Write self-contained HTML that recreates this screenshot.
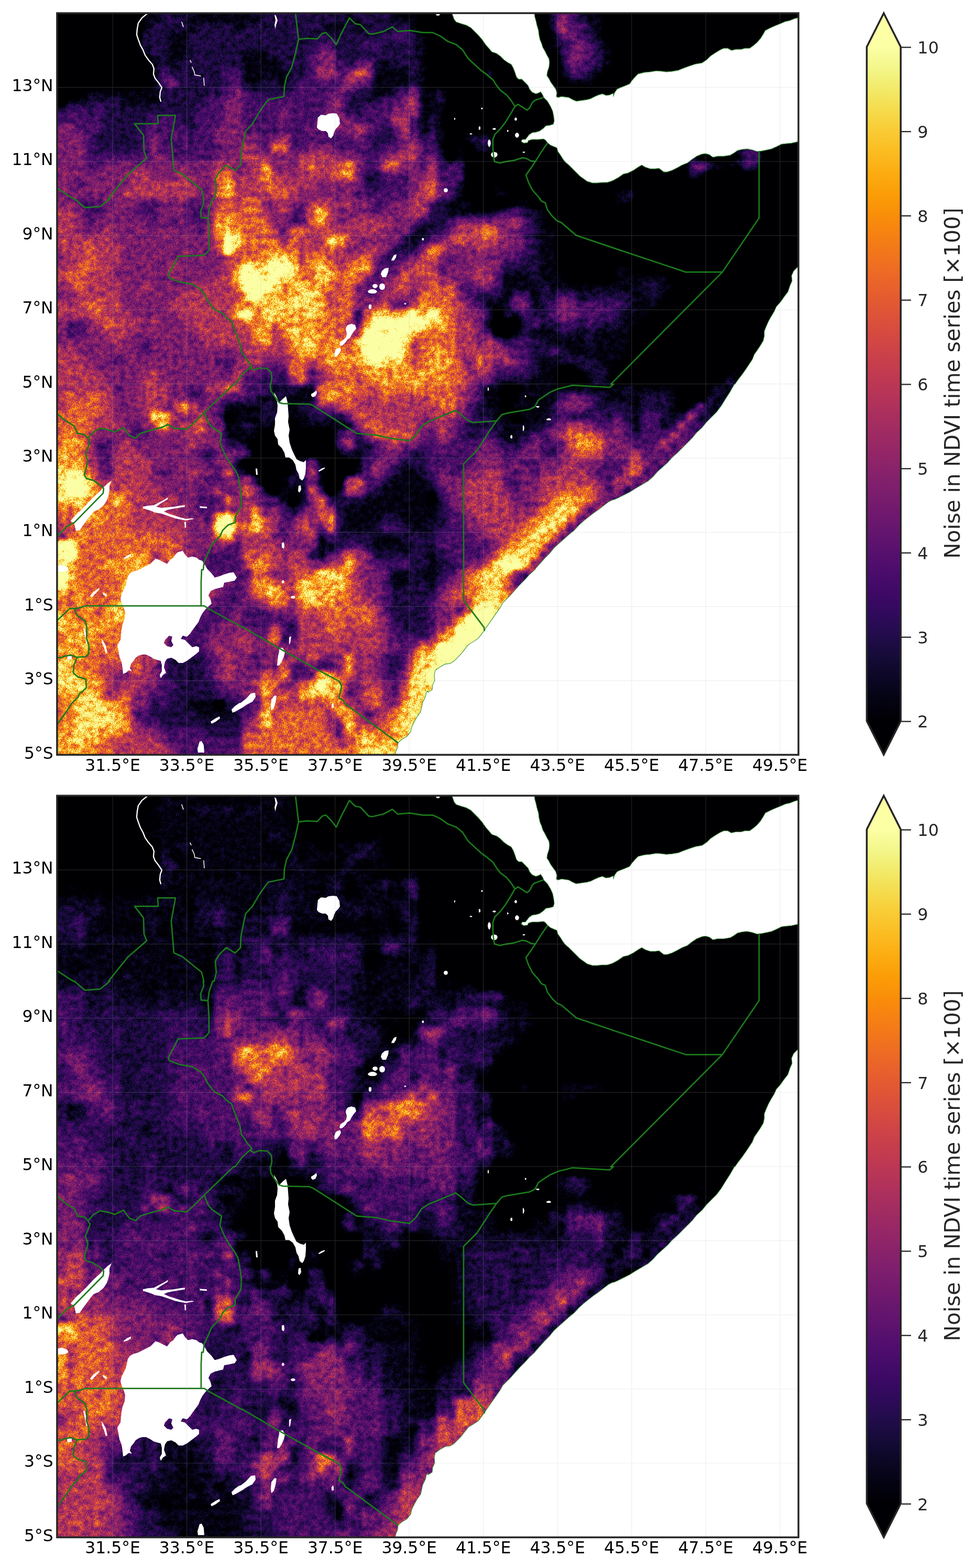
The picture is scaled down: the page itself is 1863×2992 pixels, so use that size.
<!DOCTYPE html>
<html lang="en"><head><meta charset="utf-8"><title>Noise in NDVI time series</title>
<style>html,body{margin:0;padding:0;background:#fff}body{width:1863px;height:2992px;overflow:hidden}svg{display:block}text{font-family:'DejaVu Sans','Liberation Sans',sans-serif}</style></head><body>
<svg width="1863" height="2992" viewBox="0 0 1863 2992">
<defs>
<clipPath id="axclip"><rect x="0" y="0" width="1415.2" height="1415.2"/></clipPath>
<filter id="soft" filterUnits="userSpaceOnUse" x="-80" y="-80" width="1575" height="1575" color-interpolation-filters="sRGB"><feGaussianBlur stdDeviation="5.5"/></filter>
<filter id="heat" filterUnits="userSpaceOnUse" x="0" y="0" width="1415.2" height="1415.2" color-interpolation-filters="sRGB">
<feTurbulence type="fractalNoise" baseFrequency="0.1" numOctaves="3" seed="11" x="0" y="0" width="512" height="512" stitchTiles="stitch" result="t0"/>
<feTile in="t0" result="t1"/>
<feColorMatrix in="t1" type="matrix" values="1 0 0 0 0  1 0 0 0 0  1 0 0 0 0  0 0 0 0 1" result="n"/>
<feTurbulence type="fractalNoise" baseFrequency="0.55" numOctaves="2" seed="3" x="0" y="0" width="384" height="384" stitchTiles="stitch" result="u0"/>
<feTile in="u0" result="u1"/>
<feColorMatrix in="u1" type="matrix" values="1 0 0 0 0  1 0 0 0 0  1 0 0 0 0  0 0 0 0 1" result="m"/>
<feComposite in="SourceGraphic" in2="n" operator="arithmetic" k1="0.6" k2="0.7" k3="0" k4="0" result="v1"/>
<feComposite in="v1" in2="m" operator="arithmetic" k1="0.75" k2="0.625" k3="0" k4="0" result="v"/>
<feComponentTransfer in="v"><feFuncR type="table" tableValues="0.001 0.001 0.001 0.001 0.001 0.001 0.001 0.001 0.006 0.026 0.066 0.111 0.170 0.225 0.284 0.342 0.391 0.447 0.497 0.553 0.603 0.658 0.707 0.758 0.802 0.847 0.882 0.916 0.942 0.963 0.978 0.986 0.988 0.983 0.971 0.957 0.946 0.966 0.988 0.988 0.988 0.988 0.988 0.988 0.988 0.988 0.988 0.988 0.988 0.988 0.988 0.988 0.988 0.988 0.988 0.988 0.988 0.988 0.988 0.988 0.988"/><feFuncG type="table" tableValues="0.000 0.000 0.000 0.000 0.000 0.000 0.000 0.000 0.005 0.019 0.039 0.047 0.042 0.036 0.044 0.062 0.081 0.102 0.119 0.139 0.157 0.179 0.201 0.229 0.259 0.298 0.337 0.387 0.436 0.495 0.558 0.616 0.683 0.744 0.813 0.874 0.937 0.981 0.998 0.998 0.998 0.998 0.998 0.998 0.998 0.998 0.998 0.998 0.998 0.998 0.998 0.998 0.998 0.998 0.998 0.998 0.998 0.998 0.998 0.998 0.998"/><feFuncB type="table" tableValues="0.014 0.014 0.014 0.014 0.014 0.014 0.014 0.014 0.039 0.106 0.187 0.263 0.341 0.388 0.417 0.429 0.433 0.431 0.424 0.412 0.396 0.373 0.348 0.315 0.283 0.244 0.208 0.165 0.125 0.079 0.035 0.026 0.072 0.138 0.228 0.324 0.459 0.587 0.645 0.645 0.645 0.645 0.645 0.645 0.645 0.645 0.645 0.645 0.645 0.645 0.645 0.645 0.645 0.645 0.645 0.645 0.645 0.645 0.645 0.645 0.645"/><feFuncA type="linear" slope="0" intercept="1"/></feComponentTransfer>
</filter>
<g id="crisp"><path d="M753 -2L758 12L762 17L771 20L781 23L790 28L797 35L804 42L811 50L818 60L825 68L830 74L839 77L846 82L853 89L860 94L867 98L871 105L874 113L877 122L881 126L887 126L893 132L899 138L902 145L907 151L914 154L920 152L923 150L927 156L929 161L936 168L942 178L946 187L948 197L949 206L947 212L940 214L933 215L928 220L921 225L914 227L907 228L901 232L898 236L894 241L888 241L886 245L891 248L898 247L900 243L907 241L919 241L929 240L933 243L936 247L942 252L949 255L954 257L956 264L961 271L966 279L970 284L977 290L984 297L991 304L998 311L1005 316L1012 321L1022 324L1031 324L1041 323L1050 323L1057 321L1062 319L1062 319L1071 314L1081 307L1090 305L1100 300L1109 294L1116 290L1123 294L1132 297L1142 297L1149 296L1158 303L1165 303L1174 300L1184 295L1193 290L1203 286L1212 279L1221 273L1231 269L1238 268L1245 270L1252 275L1261 273L1273 273L1285 271L1292 267L1299 262L1308 260L1317 259L1327 261L1336 264L1345 263L1355 261L1364 259L1373 255L1383 250L1392 249L1402 248L1411 246L1420 244L1420 8L1409 10L1399 14L1390 16L1381 20L1371 24L1362 28L1352 33L1348 40L1343 48L1336 56L1329 62L1322 67L1313 67L1306 69L1296 69L1287 71L1280 67L1273 67L1266 70L1256 76L1247 82L1240 89L1231 95L1219 97L1207 101L1196 105L1186 109L1174 111L1163 112L1156 111L1144 110L1132 112L1121 113L1109 116L1103 122L1097 129L1093 135L1086 138L1076 142L1069 145L1064 152L1062 159L1062 153L1055 156L1048 157L1041 154L1034 156L1027 159L1019 163L1012 165L1005 166L998 167L991 168L984 165L977 161L970 160L963 159L956 161L953 159L954 152L952 145L947 138L942 131L939 125L935 119L936 112L939 103L940 94L939 87L935 80L931 72L927 65L925 58L922 51L920 42L919 33L916 23L914 14L912 7L911 -2ZM1420 481L1413 485L1406 492L1402 501L1403 511L1399 520L1395 532L1388 541L1381 551L1373 560L1369 569L1363 579L1358 588L1354 597L1350 607L1350 616L1348 625L1342 635L1336 644L1331 651L1327 661L1321 670L1315 679L1308 689L1301 698L1294 708L1293 708L1285 722L1276 736L1268 749L1259 761L1249 771L1240 780L1231 791L1221 800L1212 811L1203 820L1193 830L1184 839L1174 848L1165 858L1156 866L1146 875L1137 885L1128 893L1116 900L1104 907L1093 914L1081 920L1069 926L1062 929L1062 928L1052 933L1043 940L1034 947L1024 954L1015 961L1005 969L996 977L987 987L977 995L968 1003L959 1011L949 1020L940 1031L931 1040L922 1050L914 1059L912 1062L912 1062L902 1071L893 1081L884 1090L874 1101L865 1111L858 1118L851 1125L846 1134L839 1144L832 1154L825 1164L818 1174L811 1184L804 1193L795 1199L785 1205L778 1214L771 1223L764 1230L757 1237L750 1241L741 1242L732 1247L722 1254L720 1263L721 1273L717 1282L716 1291L708 1296L708 1293L705 1296L703 1305L698 1315L696 1324L694 1333L687 1343L682 1352L677 1362L675 1371L668 1380L658 1386L651 1392L650 1401L647 1408L644 1420L1420 1420Z" fill="#fff" stroke="#3a8f3a" stroke-width="1.1" stroke-linejoin="round"/><path d="M26 969L35 958L47 947L59 935L70 923L82 912L91 903L96 898L103 893L105 888L103 895L100 902L100 912L98 921L95 930L89 939L80 947L70 951L64 958L59 965L50 977L43 987L36 988L34 979L33 974ZM164 942L173 940L185 939L194 934L204 929L212 924L211 928L204 932L196 937L189 942L199 944L211 943L223 942L234 940L244 939L244 942L232 944L220 946L211 948L204 951L215 956L225 959L234 962L246 965L258 964L262 965L246 968L234 966L225 964L211 959L199 955L187 953L180 950L171 947L164 945ZM272 941L286 942L286 945L273 944ZM243 971L246 971L246 982L244 982ZM127 1040L134 1035L141 1032L141 1036L134 1040L128 1042ZM-2 1056L9 1053L19 1057L22 1062L14 1066L-2 1066ZM333 1329L340 1322L347 1317L356 1314L356 1324L347 1329L340 1333L335 1335ZM293 1352L302 1346L310 1342L311 1346L303 1352L295 1356ZM272 1390L276 1389L280 1397L281 1411L269 1411L268 1404ZM63 1112L70 1104L80 1097L81 1099L73 1108L66 1115ZM87 1105L93 1108L96 1112L93 1113L88 1109ZM85 1193L89 1200L93 1207L96 1221L93 1222L90 1212L86 1202ZM50 1174L53 1174L56 1188L59 1202L56 1203L53 1189ZM19 1226L28 1226L28 1233L20 1234ZM414 723L420 734L424 743L431 736L437 731L440 743L441 755L442 769L441 780L444 795L442 806L444 820L448 832L452 841L457 851L464 855L471 857L475 853L475 867L474 879L471 888L468 892L463 888L461 879L457 872L455 862L450 853L443 848L436 848L434 839L429 830L422 823L421 813L416 806L414 797L416 785L416 773L420 762L421 750L420 741L416 734ZM485 727L490 724L495 720L496 725L493 731L488 733L485 730ZM461 902L465 901L466 909L463 915L460 912ZM429 1011L433 1010L434 1017L433 1022L429 1020ZM499 873L505 869L511 867L511 869L506 872L500 875ZM379 869L382 869L383 881L380 881ZM498 199L504 194L513 195L518 192L527 191L534 192L539 201L540 211L537 216L532 221L529 227L527 234L523 239L518 236L517 229L513 225L506 225L499 222L496 218L497 208ZM415 3L418 5L421 14L418 23L417 30L415 23L417 14ZM639 469L643 462L648 460L647 466L643 472L638 472ZM620 492L626 487L633 486L632 494L628 504L621 504L618 498ZM626 522L625 526L622 528L619 528L616 526L615 522L616 518L619 516L622 516L625 518ZM612 521L611 523L608 525L606 525L603 523L602 521L603 518L606 517L608 517L611 518ZM611 531L609 534L605 535L599 535L595 534L593 531L595 529L599 527L605 527L609 529ZM600 560L600 563L598 565L597 565L595 563L595 560L595 557L597 556L598 556L600 557ZM555 595L562 593L569 595L571 602L566 608L562 614L559 620L554 623L551 628L545 634L541 635L539 633L541 627L547 623L552 618L553 611L551 604L552 599ZM533 641L540 638L542 643L539 649L534 655L530 656L529 650L531 644ZM700 431L700 433L699 434L698 434L697 433L696 431L697 430L698 429L699 429L700 430ZM667 555L666 555L665 556L664 556L663 555L662 555L663 554L664 553L665 553L666 554ZM424 1212L431 1211L435 1219L433 1228L429 1237L424 1245L420 1245L421 1235L422 1226L424 1219ZM443 1191L447 1189L445 1202L443 1205ZM352 1315L361 1308L370 1298L378 1297L379 1305L373 1314L363 1319L352 1326ZM409 1310L415 1302L419 1303L417 1315L414 1326L409 1331L408 1322ZM434 1085L433 1087L432 1088L431 1088L429 1087L429 1085L429 1084L431 1082L432 1082L433 1084ZM455 1115L454 1116L452 1117L449 1117L447 1116L446 1115L447 1113L449 1112L452 1112L454 1113ZM528 1322L528 1325L527 1326L526 1326L524 1325L524 1322L524 1319L526 1317L527 1317L528 1319ZM813 182L812 183L811 184L810 183L809 182L810 181L811 180L812 181ZM760 202L760 203L759 204L758 203L758 202L758 200L759 200L760 200ZM808 220L808 222L806 223L805 222L805 220L805 217L806 216L808 217ZM838 221L837 222L835 223L832 222L831 221L832 220L835 219L837 220ZM828 248L827 253L825 256L823 253L822 248L823 243L825 241L827 243ZM841 270L839 274L835 276L830 274L828 270L830 266L835 265L839 266ZM878 202L877 205L876 205L874 205L873 202L874 200L876 199L877 200ZM882 233L881 236L878 238L875 236L874 233L875 230L878 228L881 230ZM862 225L861 226L860 227L859 226L859 225L859 223L860 223L861 223ZM894 266L893 266L891 267L889 266L888 266L889 265L891 264L893 265ZM746 338L745 341L742 342L739 341L738 338L739 335L742 334L745 335ZM793 231L792 231L790 232L788 231L787 231L788 230L790 229L792 230ZM731 3L730 4L727 5L724 4L723 3L724 2L727 2L730 2ZM824 717L824 720L823 721L822 720L822 717L822 715L823 714L824 715ZM896 731L895 733L894 733L893 733L893 731L893 730L894 729L895 730ZM921 751L920 752L918 753L915 752L914 751L915 750L918 750L920 750ZM943 775L942 777L939 777L935 777L934 775L935 774L939 773L942 774ZM892 792L891 796L890 798L889 796L889 792L889 788L890 786L891 788ZM869 809L869 811L867 812L866 811L865 809L866 806L867 805L869 806Z" fill="#fff"/><path d="M230 1029L240 1026L244 1033L250 1039L258 1037L266 1039L271 1043L277 1045L281 1051L287 1061L295 1069L301 1077L309 1075L319 1071L329 1068L337 1067L343 1077L339 1083L329 1085L319 1087L317 1095L309 1097L301 1099L293 1103L289 1111L293 1119L295 1127L289 1132L283 1138L277 1146L273 1154L270 1162L264 1170L258 1178L254 1184L248 1190L240 1188L236 1194L244 1196L250 1202L258 1210L266 1208L271 1210L271 1218L264 1224L256 1230L248 1236L240 1240L232 1240L226 1234L218 1230L210 1232L206 1238L204 1248L208 1259L202 1263L198 1269L196 1263L200 1256L200 1244L198 1236L190 1234L184 1232L178 1228L170 1224L162 1224L156 1226L150 1230L146 1236L141 1242L139 1250L143 1256L137 1254L131 1259L126 1261L125 1250L123 1238L119 1228L117 1216L115 1206L121 1196L122 1186L123 1176L125 1166L129 1156L130 1144L127 1134L123 1125L121 1117L123 1109L127 1101L131 1093L133 1085L135 1075L139 1069L146 1065L154 1063L162 1059L170 1055L178 1051L184 1045L188 1041L194 1043L202 1047L210 1051L216 1043L222 1039L226 1033ZM206 1196L214 1188L220 1190L218 1198L222 1206L218 1210L210 1208L204 1202Z" fill="#fff" fill-rule="evenodd"/><path d="M172 1L162 9L155 19L153 30L152 41L155 50L159 61L164 70L168 80L175 90L182 98L185 106L184 116L187 124L194 133L200 142L197 150L196 161L198 168" fill="none" stroke="#fff" stroke-width="2.3" stroke-linejoin="round" stroke-linecap="round"/><path d="M238 17L241 26M254 90L256 94M258 103L262 112L263 118L274 120M280 124L281 138" fill="none" stroke="#fff" stroke-width="1.5" stroke-linecap="round"/><path d="M0 334L31 354L33 354L53 371L82 369L101 354L98 354L135 308L171 277L166 264L165 233L148 211L193 211L192 195L226 195L218 239L223 300L239 307L276 337L280 354L279 354L280 363L274 378L275 390L288 391M455 -1L461 50L455 77L448 103L438 122L434 140L433 159L403 165L387 187L373 211L360 225L354 253L351 269L350 290L340 300L323 290L309 304L302 316L304 337L300 354L297 354L290 375L288 391L290 422L290 452L281 462L258 463L231 464L223 480L212 500L215 506L234 513L258 517L274 527L283 539L287 548L300 565L316 573L323 581L333 588L340 607L349 630L352 647L354 649L363 663L372 673L370 678L376 681L387 677L401 678L409 686L410 698L408 708L407 708L408 720L415 731L424 743L431 745L481 746L489 749L572 802L609 805L635 811L673 816L684 806L696 788L708 780L708 780L761 758L769 764L785 778L794 781L839 778M372 673L354 689L340 708L337 708L281 762M461 50L476 48L497 49L506 39L513 37L523 47L533 60L541 42L558 9L569 20L579 22L595 39L602 40L623 35L640 26L650 35L673 33L698 37L708 37L708 37L717 37L732 44L746 54L762 60L774 70L785 87L797 98L809 109L820 117L832 127L839 138L846 147L858 156L867 167L874 178M874 178L880 174L888 179L897 185L902 181L907 171L911 167L928 161M874 178L867 190L856 208L846 221L836 231L832 241L832 257L833 271L835 283L845 286L858 283L872 281L888 276L895 277L905 282L913 283L923 267L936 248M913 283L905 295L895 309L900 323L907 337L914 345L922 354L921 354L925 359L932 362L936 375L945 387L954 396L963 400L977 412L991 424L1062 448L1062 448L1200 494L1270 494L1062 703L1062 703L1057 708L1062 708L1055 714L984 710L956 717L940 724L919 738L912 751L902 756L860 763L849 766L839 778L825 798L802 834L776 860L776 1062L776 1062L776 1120L781 1127L815 1172L816 1179M1270 494L1340 391L1340 354L1340 354L1340 264M0 764L14 776L33 788L39 802L52 804L59 811L70 799L82 792L98 795L110 799L127 791L138 806L150 811L159 802L178 796L201 790L212 785L223 792L248 794L260 783L281 762L288 780L296 790L314 802L311 820L319 839L328 855L340 872L345 881L349 902L352 923L351 942L340 961L340 972L326 977L316 987L311 998L295 1015L288 1031L281 1045L279 1062L276 1062L275 1085L275 1131M59 811L63 818L54 841L59 855L52 881L56 888L68 891L82 900L89 907L88 916L33 972L19 979L9 989L0 999M0 1159L14 1146L24 1136L33 1136L42 1135L54 1131L275 1131L281 1131L290 1137L354 1172L354 1171L424 1212L499 1254L539 1275L543 1284L541 1296L538 1307L546 1311L550 1318L649 1391L651 1393M33 1136L38 1149L54 1160L57 1174L56 1193L61 1207L60 1223L54 1228L38 1229L26 1225L14 1227L7 1230L0 1229M38 1229L32 1245L31 1259L39 1266L55 1271L56 1287L50 1293L43 1298L40 1305L28 1317L19 1331L9 1345L0 1357" fill="none" stroke="#1b7a1b" stroke-width="2.7" stroke-linejoin="round"/></g>
</defs>
<g transform="translate(108.9 25.1)"><g clip-path="url(#axclip)">
<rect width="1415.2" height="1415.2" fill="#000004"/>
<g filter="url(#heat)">
<rect x="-60" y="-60" width="1535" height="1535" fill="#000"/>
<g filter="url(#soft)">
<path fill="#0d0d0d" d="M-35.4 -35.4h195.2v18.3h-195.2zM689.9 -35.4h248.3v18.3h-248.3zM1043.7 -35.4h407.5v18.3h-407.5zM-35.4 -17.7h195.2v18.3h-195.2zM689.9 -17.7h248.3v18.3h-248.3zM1043.7 -17.7h407.5v18.3h-407.5zM-35.4 0.0h195.2v18.3h-195.2zM689.9 0.0h248.3v18.3h-248.3zM1043.7 0.0h407.5v18.3h-407.5zM-35.4 17.7h195.2v18.3h-195.2zM689.9 17.7h248.3v18.3h-248.3zM1043.7 17.7h407.5v18.3h-407.5zM-35.4 35.4h195.2v18.3h-195.2zM707.6 35.4h230.6v18.3h-230.6zM1043.7 35.4h407.5v18.3h-407.5zM-35.4 53.1h195.2v18.3h-195.2zM707.6 53.1h230.6v18.3h-230.6zM1061.4 53.1h389.8v18.3h-389.8zM-35.4 70.8h195.2v18.3h-195.2zM707.6 70.8h212.9v18.3h-212.9zM937.6 70.8h18.3v18.3h-18.3zM1061.4 70.8h18.3v18.3h-18.3zM1096.8 70.8h354.4v18.3h-354.4zM-35.4 88.4h212.9v18.3h-212.9zM707.6 88.4h195.2v18.3h-195.2zM919.9 88.4h36.0v18.3h-36.0zM1061.4 88.4h389.8v18.3h-389.8zM-35.4 106.1h212.9v18.3h-212.9zM707.6 106.1h106.7v18.3h-106.7zM831.4 106.1h124.4v18.3h-124.4zM1043.7 106.1h407.5v18.3h-407.5zM-35.4 123.8h212.9v18.3h-212.9zM707.6 123.8h230.6v18.3h-230.6zM955.3 123.8h18.3v18.3h-18.3zM1026.0 123.8h425.2v18.3h-425.2zM-35.4 141.5h89.0v18.3h-89.0zM743.0 141.5h708.2v18.3h-708.2zM-35.4 159.2h53.7v18.3h-53.7zM743.0 159.2h708.2v18.3h-708.2zM743.0 176.9h495.9v18.3h-495.9zM1291.4 176.9h159.8v18.3h-159.8zM743.0 194.6h495.9v18.3h-495.9zM1309.1 194.6h142.1v18.3h-142.1zM743.0 212.3h142.1v18.3h-142.1zM902.2 212.3h230.6v18.3h-230.6zM1167.5 212.3h71.4v18.3h-71.4zM1326.7 212.3h124.4v18.3h-124.4zM743.0 230.0h36.0v18.3h-36.0zM831.4 230.0h71.4v18.3h-71.4zM919.9 230.0h230.6v18.3h-230.6zM1185.2 230.0h71.4v18.3h-71.4zM1344.4 230.0h106.7v18.3h-106.7zM743.0 247.7h18.3v18.3h-18.3zM778.4 247.7h18.3v18.3h-18.3zM831.4 247.7h336.7v18.3h-336.7zM1202.9 247.7h71.4v18.3h-71.4zM1362.1 247.7h89.0v18.3h-89.0zM743.0 265.3h18.3v18.3h-18.3zM778.4 265.3h407.5v18.3h-407.5zM1220.6 265.3h71.4v18.3h-71.4zM1344.4 265.3h106.7v18.3h-106.7zM778.4 283.0h425.2v18.3h-425.2zM1344.4 283.0h106.7v18.3h-106.7zM778.4 300.7h425.2v18.3h-425.2zM1238.3 300.7h212.9v18.3h-212.9zM778.4 318.4h53.7v18.3h-53.7zM849.1 318.4h336.7v18.3h-336.7zM1202.9 318.4h248.3v18.3h-248.3zM778.4 336.1h53.7v18.3h-53.7zM866.8 336.1h53.7v18.3h-53.7zM937.6 336.1h124.4v18.3h-124.4zM1114.5 336.1h336.7v18.3h-336.7zM796.0 353.8h71.4v18.3h-71.4zM902.2 353.8h159.8v18.3h-159.8zM1096.8 353.8h354.4v18.3h-354.4zM937.6 371.5h513.6v18.3h-513.6zM937.6 389.2h513.6v18.3h-513.6zM955.3 406.9h495.9v18.3h-495.9zM955.3 424.6h495.9v18.3h-495.9zM955.3 442.2h495.9v18.3h-495.9zM955.3 459.9h495.9v18.3h-495.9zM955.3 477.6h106.7v18.3h-106.7zM1096.8 477.6h354.4v18.3h-354.4zM972.9 495.3h89.0v18.3h-89.0zM1167.5 495.3h283.6v18.3h-283.6zM1185.2 513.0h265.9v18.3h-265.9zM1167.5 530.7h283.6v18.3h-283.6zM1149.8 548.4h301.3v18.3h-301.3zM831.4 566.1h18.3v18.3h-18.3zM1132.2 566.1h319.0v18.3h-319.0zM831.4 583.8h53.7v18.3h-53.7zM1114.5 583.8h336.7v18.3h-336.7zM831.4 601.5h36.0v18.3h-36.0zM1096.8 601.5h354.4v18.3h-354.4zM1096.8 619.1h354.4v18.3h-354.4zM1096.8 636.8h354.4v18.3h-354.4zM1079.1 654.5h230.6v18.3h-230.6zM1326.7 654.5h124.4v18.3h-124.4zM955.3 672.2h36.0v18.3h-36.0zM1061.4 672.2h230.6v18.3h-230.6zM1344.4 672.2h106.7v18.3h-106.7zM955.3 689.9h53.7v18.3h-53.7zM1061.4 689.9h212.9v18.3h-212.9zM1362.1 689.9h89.0v18.3h-89.0zM849.1 707.6h36.0v18.3h-36.0zM1185.2 707.6h53.7v18.3h-53.7zM1379.8 707.6h71.4v18.3h-71.4zM849.1 725.3h18.3v18.3h-18.3zM1185.2 725.3h53.7v18.3h-53.7zM1397.5 725.3h53.7v18.3h-53.7zM849.1 743.0h18.3v18.3h-18.3zM1185.2 743.0h18.3v18.3h-18.3zM318.4 760.7h18.3v18.3h-18.3zM866.8 760.7h18.3v18.3h-18.3zM442.2 778.4h18.3v18.3h-18.3zM389.2 796.0h18.3v18.3h-18.3zM424.6 796.0h106.7v18.3h-106.7zM371.5 813.7h159.8v18.3h-159.8zM371.5 831.4h159.8v18.3h-159.8zM353.8 849.1h89.0v18.3h-89.0zM513.0 849.1h53.7v18.3h-53.7zM371.5 866.8h71.4v18.3h-71.4zM513.0 866.8h53.7v18.3h-53.7zM389.2 884.5h36.0v18.3h-36.0zM513.0 884.5h36.0v18.3h-36.0zM406.9 902.2h18.3v18.3h-18.3zM513.0 902.2h18.3v18.3h-18.3zM442.2 919.9h18.3v18.3h-18.3zM707.6 919.9h18.3v18.3h-18.3zM300.7 1309.1h18.3v18.3h-18.3z"/>
<path fill="#0e0e0e" d="M902.2 88.4h18.3v18.3h-18.3zM1238.3 176.9h18.3v18.3h-18.3zM1238.3 194.6h18.3v18.3h-18.3zM1238.3 212.3h18.3v18.3h-18.3z"/>
<path fill="#0f0f0f" d="M1256.0 230.0h18.3v18.3h-18.3z"/>
<path fill="#101010" d="M1256.0 176.9h18.3v18.3h-18.3zM1132.2 212.3h36.0v18.3h-36.0zM902.2 230.0h18.3v18.3h-18.3z"/>
<path fill="#111111" d="M1256.0 212.3h18.3v18.3h-18.3z"/>
<path fill="#121212" d="M919.9 70.8h18.3v18.3h-18.3zM937.6 123.8h18.3v18.3h-18.3zM1273.7 176.9h18.3v18.3h-18.3zM1256.0 194.6h18.3v18.3h-18.3zM1309.1 654.5h18.3v18.3h-18.3zM406.9 796.0h18.3v18.3h-18.3zM442.2 849.1h18.3v18.3h-18.3z"/>
<path fill="#131313" d="M1149.8 230.0h36.0v18.3h-36.0z"/>
<path fill="#141414" d="M1273.7 247.7h18.3v18.3h-18.3zM424.6 778.4h18.3v18.3h-18.3z"/>
<path fill="#171717" d="M1273.7 230.0h18.3v18.3h-18.3zM1326.7 672.2h18.3v18.3h-18.3z"/>
<path fill="#181818" d="M1167.5 247.7h18.3v18.3h-18.3zM1344.4 247.7h18.3v18.3h-18.3zM1309.1 672.2h18.3v18.3h-18.3z"/>
<path fill="#191919" d="M1273.7 194.6h18.3v18.3h-18.3zM1273.7 212.3h18.3v18.3h-18.3zM1185.2 247.7h18.3v18.3h-18.3zM1344.4 689.9h18.3v18.3h-18.3z"/>
<path fill="#1a1a1a" d="M1291.4 194.6h18.3v18.3h-18.3zM1362.1 707.6h18.3v18.3h-18.3z"/>
<path fill="#1b1b1b" d="M1379.8 725.3h18.3v18.3h-18.3zM1397.5 743.0h53.7v18.3h-53.7z"/>
<path fill="#1c1c1c" d="M424.6 760.7h18.3v18.3h-18.3z"/>
<path fill="#1d1d1d" d="M1326.7 689.9h18.3v18.3h-18.3z"/>
<path fill="#1f1f1f" d="M1309.1 212.3h18.3v18.3h-18.3zM406.9 778.4h18.3v18.3h-18.3z"/>
<path fill="#202020" d="M1291.4 689.9h18.3v18.3h-18.3zM1344.4 707.6h18.3v18.3h-18.3z"/>
<path fill="#212121" d="M1326.7 230.0h18.3v18.3h-18.3z"/>
<path fill="#222222" d="M1291.4 212.3h18.3v18.3h-18.3zM1362.1 725.3h18.3v18.3h-18.3zM1379.8 743.0h18.3v18.3h-18.3z"/>
<path fill="#232323" d="M159.2 -35.4h36.0v18.3h-36.0zM247.7 -35.4h142.1v18.3h-142.1zM548.4 -35.4h18.3v18.3h-18.3zM636.8 -35.4h53.7v18.3h-53.7zM1008.3 -35.4h36.0v18.3h-36.0zM159.2 -17.7h36.0v18.3h-36.0zM247.7 -17.7h142.1v18.3h-142.1zM548.4 -17.7h18.3v18.3h-18.3zM636.8 -17.7h53.7v18.3h-53.7zM1008.3 -17.7h36.0v18.3h-36.0zM159.2 0.0h36.0v18.3h-36.0zM247.7 0.0h142.1v18.3h-142.1zM548.4 0.0h18.3v18.3h-18.3zM636.8 0.0h53.7v18.3h-53.7zM1008.3 0.0h36.0v18.3h-36.0zM159.2 17.7h18.3v18.3h-18.3zM247.7 17.7h18.3v18.3h-18.3zM336.1 17.7h18.3v18.3h-18.3zM513.0 17.7h36.0v18.3h-36.0zM566.1 17.7h18.3v18.3h-18.3zM672.2 17.7h18.3v18.3h-18.3zM1026.0 17.7h18.3v18.3h-18.3zM212.3 35.4h36.0v18.3h-36.0zM689.9 35.4h18.3v18.3h-18.3zM937.6 35.4h18.3v18.3h-18.3zM1026.0 35.4h18.3v18.3h-18.3zM212.3 53.1h36.0v18.3h-36.0zM689.9 53.1h18.3v18.3h-18.3zM937.6 53.1h18.3v18.3h-18.3zM1043.7 53.1h18.3v18.3h-18.3zM159.2 70.8h18.3v18.3h-18.3zM212.3 70.8h36.0v18.3h-36.0zM353.8 70.8h53.7v18.3h-53.7zM689.9 70.8h18.3v18.3h-18.3zM1043.7 70.8h18.3v18.3h-18.3zM1079.1 70.8h18.3v18.3h-18.3zM176.9 88.4h18.3v18.3h-18.3zM212.3 88.4h18.3v18.3h-18.3zM353.8 88.4h71.4v18.3h-71.4zM619.1 88.4h18.3v18.3h-18.3zM689.9 88.4h18.3v18.3h-18.3zM955.3 88.4h18.3v18.3h-18.3zM1043.7 88.4h18.3v18.3h-18.3zM176.9 106.1h18.3v18.3h-18.3zM353.8 106.1h89.0v18.3h-89.0zM601.5 106.1h71.4v18.3h-71.4zM689.9 106.1h18.3v18.3h-18.3zM955.3 106.1h18.3v18.3h-18.3zM1026.0 106.1h18.3v18.3h-18.3zM176.9 123.8h18.3v18.3h-18.3zM353.8 123.8h36.0v18.3h-36.0zM424.6 123.8h18.3v18.3h-18.3zM601.5 123.8h71.4v18.3h-71.4zM689.9 123.8h18.3v18.3h-18.3zM972.9 123.8h53.7v18.3h-53.7zM53.1 141.5h142.1v18.3h-142.1zM601.5 141.5h36.0v18.3h-36.0zM689.9 141.5h36.0v18.3h-36.0zM17.7 159.2h36.0v18.3h-36.0zM123.8 159.2h71.4v18.3h-71.4zM689.9 159.2h36.0v18.3h-36.0zM689.9 176.9h53.7v18.3h-53.7zM689.9 194.6h18.3v18.3h-18.3zM725.3 194.6h18.3v18.3h-18.3zM689.9 212.3h18.3v18.3h-18.3zM725.3 212.3h18.3v18.3h-18.3zM884.5 212.3h18.3v18.3h-18.3zM725.3 230.0h18.3v18.3h-18.3zM725.3 247.7h18.3v18.3h-18.3zM760.7 247.7h18.3v18.3h-18.3zM760.7 265.3h18.3v18.3h-18.3zM1291.4 265.3h18.3v18.3h-18.3zM1256.0 283.0h53.7v18.3h-53.7zM1220.6 300.7h18.3v18.3h-18.3zM831.4 318.4h18.3v18.3h-18.3zM1185.2 318.4h18.3v18.3h-18.3zM760.7 336.1h18.3v18.3h-18.3zM831.4 336.1h36.0v18.3h-36.0zM919.9 336.1h18.3v18.3h-18.3zM1061.4 336.1h18.3v18.3h-18.3zM1096.8 336.1h18.3v18.3h-18.3zM743.0 353.8h53.7v18.3h-53.7zM866.8 353.8h36.0v18.3h-36.0zM1061.4 353.8h36.0v18.3h-36.0zM743.0 371.5h89.0v18.3h-89.0zM919.9 371.5h18.3v18.3h-18.3zM919.9 389.2h18.3v18.3h-18.3zM689.9 406.9h18.3v18.3h-18.3zM919.9 406.9h36.0v18.3h-36.0zM672.2 424.6h18.3v18.3h-18.3zM919.9 424.6h36.0v18.3h-36.0zM919.9 442.2h36.0v18.3h-36.0zM919.9 459.9h36.0v18.3h-36.0zM919.9 477.6h36.0v18.3h-36.0zM1061.4 477.6h36.0v18.3h-36.0zM849.1 495.3h53.7v18.3h-53.7zM919.9 495.3h53.7v18.3h-53.7zM1061.4 495.3h106.7v18.3h-106.7zM849.1 513.0h71.4v18.3h-71.4zM937.6 513.0h177.5v18.3h-177.5zM1149.8 513.0h36.0v18.3h-36.0zM849.1 530.7h18.3v18.3h-18.3zM902.2 530.7h18.3v18.3h-18.3zM990.6 530.7h18.3v18.3h-18.3zM1096.8 530.7h36.0v18.3h-36.0zM1149.8 530.7h18.3v18.3h-18.3zM813.7 548.4h53.7v18.3h-53.7zM902.2 548.4h18.3v18.3h-18.3zM1096.8 548.4h53.7v18.3h-53.7zM566.1 566.1h18.3v18.3h-18.3zM866.8 566.1h18.3v18.3h-18.3zM1079.1 566.1h53.7v18.3h-53.7zM813.7 583.8h18.3v18.3h-18.3zM1079.1 583.8h36.0v18.3h-36.0zM866.8 601.5h18.3v18.3h-18.3zM902.2 601.5h53.7v18.3h-53.7zM990.6 601.5h18.3v18.3h-18.3zM1026.0 601.5h71.4v18.3h-71.4zM937.6 619.1h71.4v18.3h-71.4zM1026.0 619.1h71.4v18.3h-71.4zM972.9 636.8h124.4v18.3h-124.4zM919.9 654.5h36.0v18.3h-36.0zM1026.0 654.5h53.7v18.3h-53.7zM919.9 672.2h36.0v18.3h-36.0zM990.6 672.2h18.3v18.3h-18.3zM1043.7 672.2h18.3v18.3h-18.3zM1291.4 672.2h18.3v18.3h-18.3zM902.2 689.9h53.7v18.3h-53.7zM1008.3 689.9h18.3v18.3h-18.3zM1043.7 689.9h18.3v18.3h-18.3zM1309.1 689.9h18.3v18.3h-18.3zM406.9 707.6h18.3v18.3h-18.3zM459.9 707.6h36.0v18.3h-36.0zM813.7 707.6h36.0v18.3h-36.0zM884.5 707.6h195.2v18.3h-195.2zM1096.8 707.6h89.0v18.3h-89.0zM1238.3 707.6h18.3v18.3h-18.3zM1273.7 707.6h18.3v18.3h-18.3zM1326.7 707.6h18.3v18.3h-18.3zM389.2 725.3h18.3v18.3h-18.3zM442.2 725.3h53.7v18.3h-53.7zM813.7 725.3h36.0v18.3h-36.0zM866.8 725.3h89.0v18.3h-89.0zM1043.7 725.3h71.4v18.3h-71.4zM1167.5 725.3h18.3v18.3h-18.3zM1256.0 725.3h18.3v18.3h-18.3zM1291.4 725.3h18.3v18.3h-18.3zM1344.4 725.3h18.3v18.3h-18.3zM318.4 743.0h71.4v18.3h-71.4zM424.6 743.0h36.0v18.3h-36.0zM813.7 743.0h36.0v18.3h-36.0zM866.8 743.0h71.4v18.3h-71.4zM1096.8 743.0h18.3v18.3h-18.3zM1167.5 743.0h18.3v18.3h-18.3zM1202.9 743.0h18.3v18.3h-18.3zM1238.3 743.0h18.3v18.3h-18.3zM1273.7 743.0h18.3v18.3h-18.3zM1309.1 743.0h18.3v18.3h-18.3zM1362.1 743.0h18.3v18.3h-18.3zM336.1 760.7h53.7v18.3h-53.7zM442.2 760.7h36.0v18.3h-36.0zM831.4 760.7h36.0v18.3h-36.0zM884.5 760.7h53.7v18.3h-53.7zM1096.8 760.7h18.3v18.3h-18.3zM1167.5 760.7h18.3v18.3h-18.3zM1220.6 760.7h18.3v18.3h-18.3zM1256.0 760.7h18.3v18.3h-18.3zM1291.4 760.7h53.7v18.3h-53.7zM1362.1 760.7h89.0v18.3h-89.0zM318.4 778.4h36.0v18.3h-36.0zM371.5 778.4h36.0v18.3h-36.0zM459.9 778.4h106.7v18.3h-106.7zM849.1 778.4h71.4v18.3h-71.4zM1096.8 778.4h18.3v18.3h-18.3zM1149.8 778.4h18.3v18.3h-18.3zM1238.3 778.4h18.3v18.3h-18.3zM1273.7 778.4h177.5v18.3h-177.5zM318.4 796.0h71.4v18.3h-71.4zM849.1 796.0h36.0v18.3h-36.0zM1256.0 796.0h18.3v18.3h-18.3zM1291.4 796.0h159.8v18.3h-159.8zM353.8 813.7h18.3v18.3h-18.3zM1273.7 813.7h18.3v18.3h-18.3zM1309.1 813.7h142.1v18.3h-142.1zM530.7 831.4h18.3v18.3h-18.3zM566.1 831.4h18.3v18.3h-18.3zM1291.4 831.4h159.8v18.3h-159.8zM336.1 849.1h18.3v18.3h-18.3zM495.3 849.1h18.3v18.3h-18.3zM566.1 849.1h18.3v18.3h-18.3zM1309.1 849.1h142.1v18.3h-142.1zM353.8 866.8h18.3v18.3h-18.3zM442.2 866.8h18.3v18.3h-18.3zM495.3 866.8h18.3v18.3h-18.3zM566.1 866.8h18.3v18.3h-18.3zM654.5 866.8h36.0v18.3h-36.0zM1326.7 866.8h124.4v18.3h-124.4zM424.6 884.5h18.3v18.3h-18.3zM459.9 884.5h18.3v18.3h-18.3zM495.3 884.5h18.3v18.3h-18.3zM636.8 884.5h71.4v18.3h-71.4zM1344.4 884.5h106.7v18.3h-106.7zM389.2 902.2h18.3v18.3h-18.3zM424.6 902.2h53.7v18.3h-53.7zM530.7 902.2h18.3v18.3h-18.3zM619.1 902.2h106.7v18.3h-106.7zM1362.1 902.2h89.0v18.3h-89.0zM424.6 919.9h18.3v18.3h-18.3zM459.9 919.9h18.3v18.3h-18.3zM583.8 919.9h124.4v18.3h-124.4zM1379.8 919.9h71.4v18.3h-71.4zM442.2 937.6h18.3v18.3h-18.3zM548.4 937.6h177.5v18.3h-177.5zM1397.5 937.6h53.7v18.3h-53.7zM548.4 955.3h71.4v18.3h-71.4zM654.5 955.3h71.4v18.3h-71.4zM548.4 972.9h53.7v18.3h-53.7zM672.2 972.9h36.0v18.3h-36.0zM495.3 990.6h18.3v18.3h-18.3zM601.5 990.6h53.7v18.3h-53.7zM495.3 1008.3h36.0v18.3h-36.0zM601.5 1008.3h71.4v18.3h-71.4zM495.3 1026.0h18.3v18.3h-18.3zM707.6 1026.0h18.3v18.3h-18.3zM707.6 1043.7h18.3v18.3h-18.3zM636.8 1061.4h36.0v18.3h-36.0zM689.9 1061.4h36.0v18.3h-36.0zM636.8 1079.1h36.0v18.3h-36.0zM707.6 1079.1h18.3v18.3h-18.3zM247.7 1309.1h53.7v18.3h-53.7zM265.3 1326.7h71.4v18.3h-71.4z"/>
<path fill="#242424" d="M1291.4 230.0h18.3v18.3h-18.3zM1291.4 247.7h18.3v18.3h-18.3zM1185.2 265.3h18.3v18.3h-18.3zM1309.1 707.6h18.3v18.3h-18.3zM1326.7 725.3h18.3v18.3h-18.3zM1291.4 743.0h18.3v18.3h-18.3zM1326.7 743.0h36.0v18.3h-36.0zM1273.7 760.7h18.3v18.3h-18.3zM1344.4 760.7h18.3v18.3h-18.3zM1291.4 813.7h18.3v18.3h-18.3z"/>
<path fill="#252525" d="M1273.7 796.0h18.3v18.3h-18.3z"/>
<path fill="#262626" d="M1309.1 725.3h18.3v18.3h-18.3z"/>
<path fill="#272727" d="M1273.7 725.3h18.3v18.3h-18.3zM1256.0 743.0h18.3v18.3h-18.3zM1256.0 778.4h18.3v18.3h-18.3z"/>
<path fill="#282828" d="M1202.9 265.3h18.3v18.3h-18.3zM424.6 725.3h18.3v18.3h-18.3z"/>
<path fill="#292929" d="M1291.4 707.6h18.3v18.3h-18.3zM1273.7 831.4h18.3v18.3h-18.3zM1291.4 849.1h18.3v18.3h-18.3zM1309.1 866.8h18.3v18.3h-18.3zM1326.7 884.5h18.3v18.3h-18.3zM1344.4 902.2h18.3v18.3h-18.3zM1362.1 919.9h18.3v18.3h-18.3zM1379.8 937.6h18.3v18.3h-18.3zM1397.5 955.3h53.7v18.3h-53.7z"/>
<path fill="#2a2a2a" d="M406.9 743.0h18.3v18.3h-18.3zM406.9 760.7h18.3v18.3h-18.3z"/>
<path fill="#2b2b2b" d="M1309.1 230.0h18.3v18.3h-18.3zM1256.0 813.7h18.3v18.3h-18.3z"/>
<path fill="#2c2c2c" d="M1326.7 247.7h18.3v18.3h-18.3zM406.9 725.3h18.3v18.3h-18.3zM283.0 1344.4h18.3v18.3h-18.3z"/>
<path fill="#2e2e2e" d="M194.6 -35.4h53.7v18.3h-53.7zM389.2 -35.4h159.8v18.3h-159.8zM566.1 -35.4h71.4v18.3h-71.4zM937.6 -35.4h18.3v18.3h-18.3zM990.6 -35.4h18.3v18.3h-18.3zM194.6 -17.7h53.7v18.3h-53.7zM389.2 -17.7h159.8v18.3h-159.8zM566.1 -17.7h71.4v18.3h-71.4zM937.6 -17.7h18.3v18.3h-18.3zM990.6 -17.7h18.3v18.3h-18.3zM194.6 0.0h53.7v18.3h-53.7zM389.2 0.0h159.8v18.3h-159.8zM566.1 0.0h71.4v18.3h-71.4zM937.6 0.0h18.3v18.3h-18.3zM990.6 0.0h18.3v18.3h-18.3zM176.9 17.7h71.4v18.3h-71.4zM265.3 17.7h71.4v18.3h-71.4zM353.8 17.7h159.8v18.3h-159.8zM548.4 17.7h18.3v18.3h-18.3zM583.8 17.7h89.0v18.3h-89.0zM937.6 17.7h18.3v18.3h-18.3zM1008.3 17.7h18.3v18.3h-18.3zM159.2 35.4h53.7v18.3h-53.7zM247.7 35.4h389.8v18.3h-389.8zM672.2 35.4h18.3v18.3h-18.3zM1008.3 35.4h18.3v18.3h-18.3zM159.2 53.1h53.7v18.3h-53.7zM247.7 53.1h248.3v18.3h-248.3zM530.7 53.1h53.7v18.3h-53.7zM619.1 53.1h71.4v18.3h-71.4zM955.3 53.1h18.3v18.3h-18.3zM1026.0 53.1h18.3v18.3h-18.3zM176.9 70.8h36.0v18.3h-36.0zM247.7 70.8h106.7v18.3h-106.7zM406.9 70.8h71.4v18.3h-71.4zM530.7 70.8h159.8v18.3h-159.8zM955.3 70.8h18.3v18.3h-18.3zM1026.0 70.8h18.3v18.3h-18.3zM194.6 88.4h18.3v18.3h-18.3zM230.0 88.4h124.4v18.3h-124.4zM424.6 88.4h53.7v18.3h-53.7zM548.4 88.4h18.3v18.3h-18.3zM601.5 88.4h18.3v18.3h-18.3zM636.8 88.4h53.7v18.3h-53.7zM1026.0 88.4h18.3v18.3h-18.3zM212.3 106.1h106.7v18.3h-106.7zM442.2 106.1h36.0v18.3h-36.0zM672.2 106.1h18.3v18.3h-18.3zM813.7 106.1h18.3v18.3h-18.3zM1008.3 106.1h18.3v18.3h-18.3zM230.0 123.8h89.0v18.3h-89.0zM389.2 123.8h36.0v18.3h-36.0zM442.2 123.8h18.3v18.3h-18.3zM672.2 123.8h18.3v18.3h-18.3zM194.6 141.5h124.4v18.3h-124.4zM371.5 141.5h71.4v18.3h-71.4zM566.1 141.5h36.0v18.3h-36.0zM636.8 141.5h18.3v18.3h-18.3zM725.3 141.5h18.3v18.3h-18.3zM53.1 159.2h71.4v18.3h-71.4zM194.6 159.2h89.0v18.3h-89.0zM548.4 159.2h71.4v18.3h-71.4zM725.3 159.2h18.3v18.3h-18.3zM-35.4 176.9h53.7v18.3h-53.7zM53.1 176.9h18.3v18.3h-18.3zM88.4 176.9h177.5v18.3h-177.5zM548.4 176.9h36.0v18.3h-36.0zM88.4 194.6h89.0v18.3h-89.0zM230.0 194.6h36.0v18.3h-36.0zM707.6 194.6h18.3v18.3h-18.3zM88.4 212.3h71.4v18.3h-71.4zM247.7 212.3h18.3v18.3h-18.3zM619.1 212.3h18.3v18.3h-18.3zM707.6 212.3h18.3v18.3h-18.3zM70.8 230.0h89.0v18.3h-89.0zM601.5 230.0h36.0v18.3h-36.0zM689.9 230.0h18.3v18.3h-18.3zM778.4 230.0h53.7v18.3h-53.7zM70.8 247.7h89.0v18.3h-89.0zM601.5 247.7h18.3v18.3h-18.3zM796.0 247.7h36.0v18.3h-36.0zM725.3 265.3h18.3v18.3h-18.3zM725.3 283.0h18.3v18.3h-18.3zM1238.3 283.0h18.3v18.3h-18.3zM1326.7 283.0h18.3v18.3h-18.3zM583.8 300.7h36.0v18.3h-36.0zM1202.9 300.7h18.3v18.3h-18.3zM583.8 318.4h36.0v18.3h-36.0zM760.7 318.4h18.3v18.3h-18.3zM1079.1 336.1h18.3v18.3h-18.3zM725.3 353.8h18.3v18.3h-18.3zM707.6 371.5h36.0v18.3h-36.0zM831.4 371.5h18.3v18.3h-18.3zM884.5 371.5h36.0v18.3h-36.0zM689.9 389.2h53.7v18.3h-53.7zM902.2 389.2h18.3v18.3h-18.3zM672.2 406.9h18.3v18.3h-18.3zM707.6 406.9h36.0v18.3h-36.0zM902.2 406.9h18.3v18.3h-18.3zM654.5 424.6h18.3v18.3h-18.3zM689.9 424.6h18.3v18.3h-18.3zM902.2 424.6h18.3v18.3h-18.3zM636.8 442.2h53.7v18.3h-53.7zM902.2 442.2h18.3v18.3h-18.3zM619.1 459.9h18.3v18.3h-18.3zM884.5 459.9h36.0v18.3h-36.0zM849.1 477.6h71.4v18.3h-71.4zM902.2 495.3h18.3v18.3h-18.3zM919.9 513.0h18.3v18.3h-18.3zM1114.5 513.0h36.0v18.3h-36.0zM796.0 530.7h53.7v18.3h-53.7zM919.9 530.7h36.0v18.3h-36.0zM1008.3 530.7h89.0v18.3h-89.0zM1132.2 530.7h18.3v18.3h-18.3zM919.9 548.4h18.3v18.3h-18.3zM1079.1 548.4h18.3v18.3h-18.3zM849.1 566.1h18.3v18.3h-18.3zM902.2 566.1h36.0v18.3h-36.0zM1061.4 566.1h18.3v18.3h-18.3zM884.5 583.8h18.3v18.3h-18.3zM919.9 583.8h36.0v18.3h-36.0zM990.6 583.8h18.3v18.3h-18.3zM1026.0 583.8h53.7v18.3h-53.7zM884.5 601.5h18.3v18.3h-18.3zM955.3 601.5h36.0v18.3h-36.0zM1008.3 601.5h18.3v18.3h-18.3zM849.1 619.1h18.3v18.3h-18.3zM902.2 619.1h36.0v18.3h-36.0zM1008.3 619.1h18.3v18.3h-18.3zM902.2 636.8h36.0v18.3h-36.0zM955.3 636.8h18.3v18.3h-18.3zM902.2 654.5h18.3v18.3h-18.3zM955.3 654.5h71.4v18.3h-71.4zM902.2 672.2h18.3v18.3h-18.3zM1008.3 672.2h36.0v18.3h-36.0zM389.2 689.9h18.3v18.3h-18.3zM424.6 689.9h18.3v18.3h-18.3zM831.4 689.9h71.4v18.3h-71.4zM1026.0 689.9h18.3v18.3h-18.3zM1273.7 689.9h18.3v18.3h-18.3zM424.6 707.6h36.0v18.3h-36.0zM1079.1 707.6h18.3v18.3h-18.3zM1256.0 707.6h18.3v18.3h-18.3zM371.5 725.3h18.3v18.3h-18.3zM1026.0 725.3h18.3v18.3h-18.3zM1114.5 725.3h53.7v18.3h-53.7zM1238.3 725.3h18.3v18.3h-18.3zM389.2 743.0h18.3v18.3h-18.3zM459.9 743.0h36.0v18.3h-36.0zM796.0 743.0h18.3v18.3h-18.3zM937.6 743.0h18.3v18.3h-18.3zM1026.0 743.0h71.4v18.3h-71.4zM1114.5 743.0h53.7v18.3h-53.7zM389.2 760.7h18.3v18.3h-18.3zM477.6 760.7h71.4v18.3h-71.4zM796.0 760.7h36.0v18.3h-36.0zM937.6 760.7h18.3v18.3h-18.3zM972.9 760.7h53.7v18.3h-53.7zM1043.7 760.7h18.3v18.3h-18.3zM1079.1 760.7h18.3v18.3h-18.3zM1149.8 760.7h18.3v18.3h-18.3zM1185.2 760.7h18.3v18.3h-18.3zM353.8 778.4h18.3v18.3h-18.3zM778.4 778.4h71.4v18.3h-71.4zM919.9 778.4h18.3v18.3h-18.3zM1167.5 778.4h18.3v18.3h-18.3zM1202.9 778.4h18.3v18.3h-18.3zM566.1 796.0h18.3v18.3h-18.3zM778.4 796.0h36.0v18.3h-36.0zM831.4 796.0h18.3v18.3h-18.3zM884.5 796.0h18.3v18.3h-18.3zM1096.8 796.0h18.3v18.3h-18.3zM1220.6 796.0h36.0v18.3h-36.0zM318.4 813.7h36.0v18.3h-36.0zM566.1 813.7h36.0v18.3h-36.0zM849.1 813.7h36.0v18.3h-36.0zM1238.3 813.7h18.3v18.3h-18.3zM283.0 831.4h18.3v18.3h-18.3zM548.4 831.4h18.3v18.3h-18.3zM583.8 831.4h18.3v18.3h-18.3zM672.2 831.4h36.0v18.3h-36.0zM937.6 831.4h18.3v18.3h-18.3zM1256.0 831.4h18.3v18.3h-18.3zM459.9 849.1h18.3v18.3h-18.3zM654.5 849.1h53.7v18.3h-53.7zM1273.7 849.1h18.3v18.3h-18.3zM336.1 866.8h18.3v18.3h-18.3zM636.8 866.8h18.3v18.3h-18.3zM689.9 866.8h18.3v18.3h-18.3zM1291.4 866.8h18.3v18.3h-18.3zM371.5 884.5h18.3v18.3h-18.3zM442.2 884.5h18.3v18.3h-18.3zM619.1 884.5h18.3v18.3h-18.3zM707.6 884.5h18.3v18.3h-18.3zM1309.1 884.5h18.3v18.3h-18.3zM495.3 902.2h18.3v18.3h-18.3zM601.5 902.2h18.3v18.3h-18.3zM1079.1 902.2h18.3v18.3h-18.3zM1326.7 902.2h18.3v18.3h-18.3zM513.0 919.9h71.4v18.3h-71.4zM725.3 919.9h18.3v18.3h-18.3zM1096.8 919.9h18.3v18.3h-18.3zM1344.4 919.9h18.3v18.3h-18.3zM530.7 937.6h18.3v18.3h-18.3zM725.3 937.6h18.3v18.3h-18.3zM1114.5 937.6h18.3v18.3h-18.3zM1362.1 937.6h18.3v18.3h-18.3zM530.7 955.3h18.3v18.3h-18.3zM619.1 955.3h36.0v18.3h-36.0zM725.3 955.3h18.3v18.3h-18.3zM1132.2 955.3h18.3v18.3h-18.3zM1379.8 955.3h18.3v18.3h-18.3zM530.7 972.9h18.3v18.3h-18.3zM601.5 972.9h18.3v18.3h-18.3zM654.5 972.9h18.3v18.3h-18.3zM707.6 972.9h36.0v18.3h-36.0zM1149.8 972.9h18.3v18.3h-18.3zM1397.5 972.9h53.7v18.3h-53.7zM530.7 990.6h71.4v18.3h-71.4zM654.5 990.6h71.4v18.3h-71.4zM1167.5 990.6h18.3v18.3h-18.3zM530.7 1008.3h18.3v18.3h-18.3zM583.8 1008.3h18.3v18.3h-18.3zM672.2 1008.3h53.7v18.3h-53.7zM1185.2 1008.3h18.3v18.3h-18.3zM477.6 1026.0h18.3v18.3h-18.3zM601.5 1026.0h106.7v18.3h-106.7zM725.3 1026.0h18.3v18.3h-18.3zM1185.2 1026.0h36.0v18.3h-36.0zM672.2 1043.7h36.0v18.3h-36.0zM725.3 1043.7h36.0v18.3h-36.0zM1185.2 1043.7h53.7v18.3h-53.7zM672.2 1061.4h18.3v18.3h-18.3zM725.3 1061.4h18.3v18.3h-18.3zM884.5 1061.4h18.3v18.3h-18.3zM1202.9 1061.4h53.7v18.3h-53.7zM672.2 1079.1h36.0v18.3h-36.0zM902.2 1079.1h18.3v18.3h-18.3zM1220.6 1079.1h53.7v18.3h-53.7zM636.8 1096.8h89.0v18.3h-89.0zM919.9 1096.8h18.3v18.3h-18.3zM1238.3 1096.8h53.7v18.3h-53.7zM636.8 1114.5h71.4v18.3h-71.4zM937.6 1114.5h18.3v18.3h-18.3zM1256.0 1114.5h53.7v18.3h-53.7zM636.8 1132.2h71.4v18.3h-71.4zM955.3 1132.2h18.3v18.3h-18.3zM1273.7 1132.2h53.7v18.3h-53.7zM636.8 1149.8h71.4v18.3h-71.4zM972.9 1149.8h18.3v18.3h-18.3zM1291.4 1149.8h53.7v18.3h-53.7zM442.2 1167.5h18.3v18.3h-18.3zM654.5 1167.5h53.7v18.3h-53.7zM990.6 1167.5h18.3v18.3h-18.3zM1309.1 1167.5h53.7v18.3h-53.7zM424.6 1185.2h18.3v18.3h-18.3zM1008.3 1185.2h18.3v18.3h-18.3zM1326.7 1185.2h53.7v18.3h-53.7zM1026.0 1202.9h18.3v18.3h-18.3zM1344.4 1202.9h53.7v18.3h-53.7zM212.3 1220.6h71.4v18.3h-71.4zM636.8 1220.6h18.3v18.3h-18.3zM1043.7 1220.6h18.3v18.3h-18.3zM1362.1 1220.6h89.0v18.3h-89.0zM212.3 1238.3h71.4v18.3h-71.4zM495.3 1238.3h36.0v18.3h-36.0zM636.8 1238.3h18.3v18.3h-18.3zM1061.4 1238.3h18.3v18.3h-18.3zM1379.8 1238.3h71.4v18.3h-71.4zM212.3 1256.0h71.4v18.3h-71.4zM1079.1 1256.0h18.3v18.3h-18.3zM1397.5 1256.0h53.7v18.3h-53.7zM230.0 1273.7h71.4v18.3h-71.4zM1096.8 1273.7h18.3v18.3h-18.3zM212.3 1291.4h89.0v18.3h-89.0zM1114.5 1291.4h18.3v18.3h-18.3zM176.9 1309.1h18.3v18.3h-18.3zM212.3 1309.1h36.0v18.3h-36.0zM318.4 1309.1h18.3v18.3h-18.3zM1132.2 1309.1h18.3v18.3h-18.3zM176.9 1326.7h89.0v18.3h-89.0zM336.1 1326.7h18.3v18.3h-18.3zM1149.8 1326.7h18.3v18.3h-18.3zM194.6 1344.4h89.0v18.3h-89.0zM300.7 1344.4h53.7v18.3h-53.7zM1167.5 1344.4h18.3v18.3h-18.3zM283.0 1362.1h71.4v18.3h-71.4zM1185.2 1362.1h18.3v18.3h-18.3zM1202.9 1379.8h18.3v18.3h-18.3zM1220.6 1397.5h18.3v18.3h-18.3zM1220.6 1415.2h18.3v18.3h-18.3zM1220.6 1432.9h18.3v18.3h-18.3z"/>
<path fill="#2f2f2f" d="M1149.8 990.6h18.3v18.3h-18.3zM1149.8 1008.3h36.0v18.3h-36.0zM1167.5 1026.0h18.3v18.3h-18.3z"/>
<path fill="#303030" d="M1238.3 760.7h18.3v18.3h-18.3zM1132.2 972.9h18.3v18.3h-18.3zM1132.2 990.6h18.3v18.3h-18.3z"/>
<path fill="#313131" d="M1114.5 972.9h18.3v18.3h-18.3z"/>
<path fill="#323232" d="M1114.5 955.3h18.3v18.3h-18.3z"/>
<path fill="#333333" d="M1309.1 247.7h18.3v18.3h-18.3z"/>
<path fill="#343434" d="M1096.8 955.3h18.3v18.3h-18.3z"/>
<path fill="#353535" d="M1256.0 849.1h18.3v18.3h-18.3zM1273.7 866.8h18.3v18.3h-18.3zM1291.4 884.5h18.3v18.3h-18.3zM1309.1 902.2h18.3v18.3h-18.3zM1326.7 919.9h18.3v18.3h-18.3zM1096.8 937.6h18.3v18.3h-18.3zM1344.4 937.6h18.3v18.3h-18.3zM1149.8 955.3h18.3v18.3h-18.3zM1362.1 955.3h18.3v18.3h-18.3zM1167.5 972.9h18.3v18.3h-18.3zM1379.8 972.9h18.3v18.3h-18.3zM1185.2 990.6h18.3v18.3h-18.3zM1397.5 990.6h53.7v18.3h-53.7zM1202.9 1008.3h18.3v18.3h-18.3zM1220.6 1026.0h18.3v18.3h-18.3zM1238.3 1043.7h18.3v18.3h-18.3zM1256.0 1061.4h18.3v18.3h-18.3zM1273.7 1079.1h18.3v18.3h-18.3zM1291.4 1096.8h18.3v18.3h-18.3zM919.9 1114.5h18.3v18.3h-18.3zM1309.1 1114.5h18.3v18.3h-18.3zM937.6 1132.2h18.3v18.3h-18.3zM1326.7 1132.2h18.3v18.3h-18.3zM955.3 1149.8h18.3v18.3h-18.3zM1344.4 1149.8h18.3v18.3h-18.3zM972.9 1167.5h18.3v18.3h-18.3zM1362.1 1167.5h18.3v18.3h-18.3zM990.6 1185.2h18.3v18.3h-18.3zM1379.8 1185.2h18.3v18.3h-18.3zM212.3 1202.9h36.0v18.3h-36.0zM1008.3 1202.9h18.3v18.3h-18.3zM1397.5 1202.9h53.7v18.3h-53.7zM1026.0 1220.6h18.3v18.3h-18.3zM1043.7 1238.3h18.3v18.3h-18.3zM1061.4 1256.0h18.3v18.3h-18.3zM1079.1 1273.7h18.3v18.3h-18.3zM1096.8 1291.4h18.3v18.3h-18.3zM1114.5 1309.1h18.3v18.3h-18.3zM1132.2 1326.7h18.3v18.3h-18.3zM1149.8 1344.4h18.3v18.3h-18.3zM1167.5 1362.1h18.3v18.3h-18.3zM1185.2 1379.8h18.3v18.3h-18.3zM1202.9 1397.5h18.3v18.3h-18.3zM1202.9 1415.2h18.3v18.3h-18.3zM1202.9 1432.9h18.3v18.3h-18.3z"/>
<path fill="#363636" d="M1238.3 831.4h18.3v18.3h-18.3zM1132.2 937.6h18.3v18.3h-18.3zM247.7 1202.9h18.3v18.3h-18.3zM336.1 1309.1h18.3v18.3h-18.3z"/>
<path fill="#373737" d="M902.2 1096.8h18.3v18.3h-18.3z"/>
<path fill="#383838" d="M1079.1 937.6h18.3v18.3h-18.3zM1149.8 1026.0h18.3v18.3h-18.3zM1167.5 1043.7h18.3v18.3h-18.3zM1185.2 1061.4h18.3v18.3h-18.3zM1202.9 1079.1h18.3v18.3h-18.3zM1220.6 1096.8h18.3v18.3h-18.3zM1238.3 1114.5h18.3v18.3h-18.3zM1256.0 1132.2h18.3v18.3h-18.3zM1273.7 1149.8h18.3v18.3h-18.3zM1291.4 1167.5h18.3v18.3h-18.3zM1309.1 1185.2h18.3v18.3h-18.3zM1326.7 1202.9h18.3v18.3h-18.3zM1344.4 1220.6h18.3v18.3h-18.3zM1362.1 1238.3h18.3v18.3h-18.3zM1379.8 1256.0h18.3v18.3h-18.3z"/>
<path fill="#393939" d="M1220.6 813.7h18.3v18.3h-18.3zM1114.5 919.9h18.3v18.3h-18.3zM1132.2 1008.3h18.3v18.3h-18.3zM212.3 1185.2h18.3v18.3h-18.3zM265.3 1379.8h18.3v18.3h-18.3z"/>
<path fill="#3a3a3a" d="M1220.6 778.4h18.3v18.3h-18.3zM1114.5 990.6h18.3v18.3h-18.3z"/>
<path fill="#3b3b3b" d="M972.9 -35.4h18.3v18.3h-18.3zM972.9 -17.7h18.3v18.3h-18.3zM972.9 0.0h18.3v18.3h-18.3zM972.9 17.7h36.0v18.3h-36.0zM636.8 35.4h36.0v18.3h-36.0zM955.3 35.4h18.3v18.3h-18.3zM990.6 35.4h18.3v18.3h-18.3zM495.3 53.1h36.0v18.3h-36.0zM583.8 53.1h36.0v18.3h-36.0zM972.9 53.1h18.3v18.3h-18.3zM1008.3 53.1h18.3v18.3h-18.3zM477.6 70.8h18.3v18.3h-18.3zM1008.3 70.8h18.3v18.3h-18.3zM477.6 88.4h18.3v18.3h-18.3zM530.7 88.4h18.3v18.3h-18.3zM566.1 88.4h18.3v18.3h-18.3zM990.6 88.4h36.0v18.3h-36.0zM194.6 106.1h18.3v18.3h-18.3zM318.4 106.1h36.0v18.3h-36.0zM477.6 106.1h18.3v18.3h-18.3zM530.7 106.1h18.3v18.3h-18.3zM972.9 106.1h36.0v18.3h-36.0zM194.6 123.8h18.3v18.3h-18.3zM318.4 123.8h36.0v18.3h-36.0zM459.9 123.8h89.0v18.3h-89.0zM583.8 123.8h18.3v18.3h-18.3zM318.4 141.5h18.3v18.3h-18.3zM353.8 141.5h18.3v18.3h-18.3zM442.2 141.5h89.0v18.3h-89.0zM548.4 141.5h18.3v18.3h-18.3zM654.5 141.5h18.3v18.3h-18.3zM283.0 159.2h36.0v18.3h-36.0zM353.8 159.2h159.8v18.3h-159.8zM619.1 159.2h36.0v18.3h-36.0zM17.7 176.9h36.0v18.3h-36.0zM70.8 176.9h18.3v18.3h-18.3zM265.3 176.9h53.7v18.3h-53.7zM353.8 176.9h71.4v18.3h-71.4zM442.2 176.9h71.4v18.3h-71.4zM583.8 176.9h53.7v18.3h-53.7zM-35.4 194.6h124.4v18.3h-124.4zM176.9 194.6h53.7v18.3h-53.7zM265.3 194.6h53.7v18.3h-53.7zM353.8 194.6h71.4v18.3h-71.4zM442.2 194.6h53.7v18.3h-53.7zM566.1 194.6h71.4v18.3h-71.4zM672.2 194.6h18.3v18.3h-18.3zM35.4 212.3h53.7v18.3h-53.7zM159.2 212.3h89.0v18.3h-89.0zM265.3 212.3h36.0v18.3h-36.0zM353.8 212.3h124.4v18.3h-124.4zM601.5 212.3h18.3v18.3h-18.3zM636.8 212.3h18.3v18.3h-18.3zM672.2 212.3h18.3v18.3h-18.3zM53.1 230.0h18.3v18.3h-18.3zM159.2 230.0h18.3v18.3h-18.3zM194.6 230.0h106.7v18.3h-106.7zM389.2 230.0h18.3v18.3h-18.3zM442.2 230.0h124.4v18.3h-124.4zM583.8 230.0h18.3v18.3h-18.3zM636.8 230.0h18.3v18.3h-18.3zM707.6 230.0h18.3v18.3h-18.3zM53.1 247.7h18.3v18.3h-18.3zM159.2 247.7h18.3v18.3h-18.3zM194.6 247.7h124.4v18.3h-124.4zM389.2 247.7h18.3v18.3h-18.3zM442.2 247.7h36.0v18.3h-36.0zM530.7 247.7h71.4v18.3h-71.4zM619.1 247.7h36.0v18.3h-36.0zM689.9 247.7h36.0v18.3h-36.0zM53.1 265.3h124.4v18.3h-124.4zM212.3 265.3h89.0v18.3h-89.0zM583.8 265.3h36.0v18.3h-36.0zM689.9 265.3h18.3v18.3h-18.3zM1309.1 265.3h36.0v18.3h-36.0zM53.1 283.0h36.0v18.3h-36.0zM583.8 283.0h36.0v18.3h-36.0zM689.9 283.0h18.3v18.3h-18.3zM743.0 283.0h36.0v18.3h-36.0zM1202.9 283.0h18.3v18.3h-18.3zM1309.1 283.0h18.3v18.3h-18.3zM619.1 300.7h53.7v18.3h-53.7zM725.3 300.7h53.7v18.3h-53.7zM35.4 318.4h18.3v18.3h-18.3zM619.1 318.4h53.7v18.3h-53.7zM725.3 318.4h36.0v18.3h-36.0zM566.1 336.1h106.7v18.3h-106.7zM743.0 336.1h18.3v18.3h-18.3zM35.4 353.8h53.7v18.3h-53.7zM159.2 353.8h36.0v18.3h-36.0zM247.7 353.8h36.0v18.3h-36.0zM601.5 353.8h36.0v18.3h-36.0zM707.6 353.8h18.3v18.3h-18.3zM53.1 371.5h36.0v18.3h-36.0zM141.5 371.5h53.7v18.3h-53.7zM247.7 371.5h36.0v18.3h-36.0zM442.2 371.5h36.0v18.3h-36.0zM601.5 371.5h18.3v18.3h-18.3zM849.1 371.5h36.0v18.3h-36.0zM53.1 389.2h18.3v18.3h-18.3zM176.9 389.2h18.3v18.3h-18.3zM212.3 389.2h18.3v18.3h-18.3zM247.7 389.2h36.0v18.3h-36.0zM442.2 389.2h36.0v18.3h-36.0zM743.0 389.2h18.3v18.3h-18.3zM884.5 389.2h18.3v18.3h-18.3zM265.3 406.9h18.3v18.3h-18.3zM424.6 406.9h18.3v18.3h-18.3zM884.5 406.9h18.3v18.3h-18.3zM707.6 424.6h18.3v18.3h-18.3zM884.5 424.6h18.3v18.3h-18.3zM884.5 442.2h18.3v18.3h-18.3zM654.5 459.9h18.3v18.3h-18.3zM743.0 459.9h18.3v18.3h-18.3zM849.1 459.9h36.0v18.3h-36.0zM601.5 477.6h18.3v18.3h-18.3zM636.8 477.6h18.3v18.3h-18.3zM725.3 477.6h18.3v18.3h-18.3zM601.5 495.3h18.3v18.3h-18.3zM831.4 495.3h18.3v18.3h-18.3zM583.8 513.0h18.3v18.3h-18.3zM760.7 513.0h36.0v18.3h-36.0zM831.4 513.0h18.3v18.3h-18.3zM601.5 530.7h18.3v18.3h-18.3zM778.4 530.7h18.3v18.3h-18.3zM866.8 530.7h36.0v18.3h-36.0zM955.3 530.7h36.0v18.3h-36.0zM636.8 548.4h36.0v18.3h-36.0zM796.0 548.4h18.3v18.3h-18.3zM937.6 548.4h18.3v18.3h-18.3zM990.6 548.4h89.0v18.3h-89.0zM813.7 566.1h18.3v18.3h-18.3zM884.5 566.1h18.3v18.3h-18.3zM937.6 566.1h18.3v18.3h-18.3zM990.6 566.1h71.4v18.3h-71.4zM17.7 583.8h36.0v18.3h-36.0zM566.1 583.8h18.3v18.3h-18.3zM902.2 583.8h18.3v18.3h-18.3zM955.3 583.8h36.0v18.3h-36.0zM1008.3 583.8h18.3v18.3h-18.3zM17.7 601.5h36.0v18.3h-36.0zM813.7 601.5h18.3v18.3h-18.3zM159.2 619.1h18.3v18.3h-18.3zM866.8 619.1h36.0v18.3h-36.0zM159.2 636.8h18.3v18.3h-18.3zM866.8 636.8h36.0v18.3h-36.0zM937.6 636.8h18.3v18.3h-18.3zM106.1 654.5h18.3v18.3h-18.3zM300.7 654.5h36.0v18.3h-36.0zM884.5 654.5h18.3v18.3h-18.3zM318.4 672.2h18.3v18.3h-18.3zM389.2 672.2h53.7v18.3h-53.7zM477.6 672.2h18.3v18.3h-18.3zM831.4 672.2h71.4v18.3h-71.4zM353.8 689.9h36.0v18.3h-36.0zM406.9 689.9h18.3v18.3h-18.3zM477.6 689.9h18.3v18.3h-18.3zM106.1 707.6h18.3v18.3h-18.3zM247.7 707.6h36.0v18.3h-36.0zM353.8 707.6h53.7v18.3h-53.7zM796.0 707.6h18.3v18.3h-18.3zM247.7 725.3h36.0v18.3h-36.0zM318.4 725.3h53.7v18.3h-53.7zM796.0 725.3h18.3v18.3h-18.3zM955.3 725.3h18.3v18.3h-18.3zM1008.3 725.3h18.3v18.3h-18.3zM300.7 743.0h18.3v18.3h-18.3zM778.4 743.0h18.3v18.3h-18.3zM1008.3 743.0h18.3v18.3h-18.3zM300.7 760.7h18.3v18.3h-18.3zM548.4 760.7h18.3v18.3h-18.3zM778.4 760.7h18.3v18.3h-18.3zM955.3 760.7h18.3v18.3h-18.3zM1026.0 760.7h18.3v18.3h-18.3zM1061.4 760.7h18.3v18.3h-18.3zM1114.5 760.7h36.0v18.3h-36.0zM141.5 778.4h18.3v18.3h-18.3zM760.7 778.4h18.3v18.3h-18.3zM937.6 778.4h18.3v18.3h-18.3zM1026.0 778.4h36.0v18.3h-36.0zM1079.1 778.4h18.3v18.3h-18.3zM1114.5 778.4h36.0v18.3h-36.0zM141.5 796.0h36.0v18.3h-36.0zM530.7 796.0h18.3v18.3h-18.3zM707.6 796.0h18.3v18.3h-18.3zM760.7 796.0h18.3v18.3h-18.3zM813.7 796.0h18.3v18.3h-18.3zM902.2 796.0h36.0v18.3h-36.0zM1079.1 796.0h18.3v18.3h-18.3zM1114.5 796.0h53.7v18.3h-53.7zM1185.2 796.0h18.3v18.3h-18.3zM70.8 813.7h36.0v18.3h-36.0zM530.7 813.7h18.3v18.3h-18.3zM601.5 813.7h18.3v18.3h-18.3zM689.9 813.7h36.0v18.3h-36.0zM743.0 813.7h71.4v18.3h-71.4zM831.4 813.7h18.3v18.3h-18.3zM884.5 813.7h18.3v18.3h-18.3zM919.9 813.7h53.7v18.3h-53.7zM1096.8 813.7h53.7v18.3h-53.7zM1167.5 813.7h18.3v18.3h-18.3zM1202.9 813.7h18.3v18.3h-18.3zM70.8 831.4h36.0v18.3h-36.0zM265.3 831.4h18.3v18.3h-18.3zM353.8 831.4h18.3v18.3h-18.3zM601.5 831.4h18.3v18.3h-18.3zM654.5 831.4h18.3v18.3h-18.3zM707.6 831.4h89.0v18.3h-89.0zM849.1 831.4h36.0v18.3h-36.0zM919.9 831.4h18.3v18.3h-18.3zM1114.5 831.4h18.3v18.3h-18.3zM1149.8 831.4h18.3v18.3h-18.3zM1185.2 831.4h18.3v18.3h-18.3zM1220.6 831.4h18.3v18.3h-18.3zM88.4 849.1h18.3v18.3h-18.3zM283.0 849.1h18.3v18.3h-18.3zM583.8 849.1h18.3v18.3h-18.3zM636.8 849.1h18.3v18.3h-18.3zM707.6 849.1h89.0v18.3h-89.0zM849.1 849.1h18.3v18.3h-18.3zM884.5 849.1h36.0v18.3h-36.0zM1043.7 849.1h36.0v18.3h-36.0zM1132.2 849.1h18.3v18.3h-18.3zM1167.5 849.1h18.3v18.3h-18.3zM1202.9 849.1h18.3v18.3h-18.3zM1238.3 849.1h18.3v18.3h-18.3zM88.4 866.8h18.3v18.3h-18.3zM194.6 866.8h18.3v18.3h-18.3zM300.7 866.8h18.3v18.3h-18.3zM583.8 866.8h18.3v18.3h-18.3zM619.1 866.8h18.3v18.3h-18.3zM707.6 866.8h18.3v18.3h-18.3zM743.0 866.8h36.0v18.3h-36.0zM866.8 866.8h18.3v18.3h-18.3zM902.2 866.8h18.3v18.3h-18.3zM1026.0 866.8h53.7v18.3h-53.7zM1114.5 866.8h18.3v18.3h-18.3zM1149.8 866.8h18.3v18.3h-18.3zM1185.2 866.8h18.3v18.3h-18.3zM1220.6 866.8h53.7v18.3h-53.7zM283.0 884.5h36.0v18.3h-36.0zM583.8 884.5h36.0v18.3h-36.0zM849.1 884.5h36.0v18.3h-36.0zM1043.7 884.5h18.3v18.3h-18.3zM1096.8 884.5h18.3v18.3h-18.3zM1132.2 884.5h18.3v18.3h-18.3zM1167.5 884.5h18.3v18.3h-18.3zM1202.9 884.5h89.0v18.3h-89.0zM265.3 902.2h18.3v18.3h-18.3zM318.4 902.2h18.3v18.3h-18.3zM583.8 902.2h18.3v18.3h-18.3zM725.3 902.2h18.3v18.3h-18.3zM866.8 902.2h18.3v18.3h-18.3zM1043.7 902.2h18.3v18.3h-18.3zM1114.5 902.2h18.3v18.3h-18.3zM1149.8 902.2h18.3v18.3h-18.3zM1185.2 902.2h124.4v18.3h-124.4zM265.3 919.9h53.7v18.3h-53.7zM389.2 919.9h36.0v18.3h-36.0zM1132.2 919.9h18.3v18.3h-18.3zM1167.5 919.9h159.8v18.3h-159.8zM265.3 937.6h36.0v18.3h-36.0zM389.2 937.6h18.3v18.3h-18.3zM424.6 937.6h18.3v18.3h-18.3zM459.9 937.6h18.3v18.3h-18.3zM743.0 937.6h18.3v18.3h-18.3zM1008.3 937.6h18.3v18.3h-18.3zM1149.8 937.6h18.3v18.3h-18.3zM1185.2 937.6h159.8v18.3h-159.8zM283.0 955.3h18.3v18.3h-18.3zM424.6 955.3h36.0v18.3h-36.0zM743.0 955.3h36.0v18.3h-36.0zM990.6 955.3h18.3v18.3h-18.3zM1026.0 955.3h18.3v18.3h-18.3zM1167.5 955.3h195.2v18.3h-195.2zM424.6 972.9h18.3v18.3h-18.3zM495.3 972.9h18.3v18.3h-18.3zM619.1 972.9h36.0v18.3h-36.0zM743.0 972.9h36.0v18.3h-36.0zM972.9 972.9h18.3v18.3h-18.3zM1008.3 972.9h18.3v18.3h-18.3zM1043.7 972.9h18.3v18.3h-18.3zM1185.2 972.9h195.2v18.3h-195.2zM424.6 990.6h18.3v18.3h-18.3zM513.0 990.6h18.3v18.3h-18.3zM725.3 990.6h71.4v18.3h-71.4zM955.3 990.6h18.3v18.3h-18.3zM990.6 990.6h18.3v18.3h-18.3zM1026.0 990.6h18.3v18.3h-18.3zM1061.4 990.6h18.3v18.3h-18.3zM1202.9 990.6h195.2v18.3h-195.2zM318.4 1008.3h36.0v18.3h-36.0zM548.4 1008.3h36.0v18.3h-36.0zM725.3 1008.3h106.7v18.3h-106.7zM937.6 1008.3h18.3v18.3h-18.3zM972.9 1008.3h18.3v18.3h-18.3zM1008.3 1008.3h18.3v18.3h-18.3zM1043.7 1008.3h18.3v18.3h-18.3zM1079.1 1008.3h18.3v18.3h-18.3zM1220.6 1008.3h230.6v18.3h-230.6zM283.0 1026.0h71.4v18.3h-71.4zM513.0 1026.0h18.3v18.3h-18.3zM743.0 1026.0h71.4v18.3h-71.4zM919.9 1026.0h18.3v18.3h-18.3zM955.3 1026.0h18.3v18.3h-18.3zM990.6 1026.0h18.3v18.3h-18.3zM1026.0 1026.0h18.3v18.3h-18.3zM1061.4 1026.0h53.7v18.3h-53.7zM1238.3 1026.0h212.9v18.3h-212.9zM283.0 1043.7h71.4v18.3h-71.4zM601.5 1043.7h71.4v18.3h-71.4zM760.7 1043.7h18.3v18.3h-18.3zM937.6 1043.7h18.3v18.3h-18.3zM972.9 1043.7h18.3v18.3h-18.3zM1008.3 1043.7h18.3v18.3h-18.3zM1043.7 1043.7h89.0v18.3h-89.0zM1256.0 1043.7h195.2v18.3h-195.2zM265.3 1061.4h18.3v18.3h-18.3zM300.7 1061.4h18.3v18.3h-18.3zM336.1 1061.4h36.0v18.3h-36.0zM619.1 1061.4h18.3v18.3h-18.3zM743.0 1061.4h18.3v18.3h-18.3zM955.3 1061.4h18.3v18.3h-18.3zM990.6 1061.4h18.3v18.3h-18.3zM1026.0 1061.4h124.4v18.3h-124.4zM1273.7 1061.4h177.5v18.3h-177.5zM336.1 1079.1h18.3v18.3h-18.3zM619.1 1079.1h18.3v18.3h-18.3zM725.3 1079.1h18.3v18.3h-18.3zM866.8 1079.1h18.3v18.3h-18.3zM972.9 1079.1h18.3v18.3h-18.3zM1008.3 1079.1h159.8v18.3h-159.8zM1291.4 1079.1h159.8v18.3h-159.8zM318.4 1096.8h36.0v18.3h-36.0zM619.1 1096.8h18.3v18.3h-18.3zM884.5 1096.8h18.3v18.3h-18.3zM990.6 1096.8h195.2v18.3h-195.2zM1309.1 1096.8h142.1v18.3h-142.1zM194.6 1114.5h53.7v18.3h-53.7zM300.7 1114.5h53.7v18.3h-53.7zM619.1 1114.5h18.3v18.3h-18.3zM707.6 1114.5h18.3v18.3h-18.3zM902.2 1114.5h18.3v18.3h-18.3zM1008.3 1114.5h195.2v18.3h-195.2zM1326.7 1114.5h124.4v18.3h-124.4zM194.6 1132.2h71.4v18.3h-71.4zM283.0 1132.2h53.7v18.3h-53.7zM353.8 1132.2h53.7v18.3h-53.7zM619.1 1132.2h18.3v18.3h-18.3zM707.6 1132.2h18.3v18.3h-18.3zM760.7 1132.2h18.3v18.3h-18.3zM919.9 1132.2h18.3v18.3h-18.3zM1026.0 1132.2h195.2v18.3h-195.2zM1344.4 1132.2h106.7v18.3h-106.7zM194.6 1149.8h124.4v18.3h-124.4zM353.8 1149.8h106.7v18.3h-106.7zM707.6 1149.8h18.3v18.3h-18.3zM937.6 1149.8h18.3v18.3h-18.3zM1043.7 1149.8h195.2v18.3h-195.2zM1362.1 1149.8h89.0v18.3h-89.0zM212.3 1167.5h89.0v18.3h-89.0zM371.5 1167.5h36.0v18.3h-36.0zM424.6 1167.5h18.3v18.3h-18.3zM636.8 1167.5h18.3v18.3h-18.3zM707.6 1167.5h18.3v18.3h-18.3zM955.3 1167.5h18.3v18.3h-18.3zM1061.4 1167.5h195.2v18.3h-195.2zM1379.8 1167.5h71.4v18.3h-71.4zM230.0 1185.2h53.7v18.3h-53.7zM442.2 1185.2h18.3v18.3h-18.3zM636.8 1185.2h71.4v18.3h-71.4zM972.9 1185.2h18.3v18.3h-18.3zM1079.1 1185.2h195.2v18.3h-195.2zM1397.5 1185.2h53.7v18.3h-53.7zM265.3 1202.9h18.3v18.3h-18.3zM654.5 1202.9h18.3v18.3h-18.3zM990.6 1202.9h18.3v18.3h-18.3zM1096.8 1202.9h195.2v18.3h-195.2zM283.0 1220.6h18.3v18.3h-18.3zM371.5 1220.6h18.3v18.3h-18.3zM619.1 1220.6h18.3v18.3h-18.3zM654.5 1220.6h18.3v18.3h-18.3zM1008.3 1220.6h18.3v18.3h-18.3zM1114.5 1220.6h195.2v18.3h-195.2zM283.0 1238.3h18.3v18.3h-18.3zM371.5 1238.3h18.3v18.3h-18.3zM442.2 1238.3h36.0v18.3h-36.0zM619.1 1238.3h18.3v18.3h-18.3zM654.5 1238.3h18.3v18.3h-18.3zM1026.0 1238.3h18.3v18.3h-18.3zM1132.2 1238.3h195.2v18.3h-195.2zM194.6 1256.0h18.3v18.3h-18.3zM283.0 1256.0h18.3v18.3h-18.3zM442.2 1256.0h53.7v18.3h-53.7zM619.1 1256.0h36.0v18.3h-36.0zM1043.7 1256.0h18.3v18.3h-18.3zM1149.8 1256.0h195.2v18.3h-195.2zM194.6 1273.7h36.0v18.3h-36.0zM300.7 1273.7h18.3v18.3h-18.3zM424.6 1273.7h18.3v18.3h-18.3zM548.4 1273.7h18.3v18.3h-18.3zM636.8 1273.7h18.3v18.3h-18.3zM1061.4 1273.7h18.3v18.3h-18.3zM1167.5 1273.7h195.2v18.3h-195.2zM1397.5 1273.7h53.7v18.3h-53.7zM176.9 1291.4h36.0v18.3h-36.0zM300.7 1291.4h53.7v18.3h-53.7zM548.4 1291.4h18.3v18.3h-18.3zM636.8 1291.4h18.3v18.3h-18.3zM1079.1 1291.4h18.3v18.3h-18.3zM1185.2 1291.4h195.2v18.3h-195.2zM194.6 1309.1h18.3v18.3h-18.3zM371.5 1309.1h18.3v18.3h-18.3zM1096.8 1309.1h18.3v18.3h-18.3zM1202.9 1309.1h195.2v18.3h-195.2zM141.5 1326.7h36.0v18.3h-36.0zM353.8 1326.7h18.3v18.3h-18.3zM583.8 1326.7h18.3v18.3h-18.3zM1114.5 1326.7h18.3v18.3h-18.3zM1220.6 1326.7h230.6v18.3h-230.6zM159.2 1344.4h36.0v18.3h-36.0zM1132.2 1344.4h18.3v18.3h-18.3zM1238.3 1344.4h212.9v18.3h-212.9zM194.6 1362.1h89.0v18.3h-89.0zM530.7 1362.1h18.3v18.3h-18.3zM1149.8 1362.1h18.3v18.3h-18.3zM1256.0 1362.1h195.2v18.3h-195.2zM212.3 1379.8h53.7v18.3h-53.7zM283.0 1379.8h71.4v18.3h-71.4zM1167.5 1379.8h18.3v18.3h-18.3zM1273.7 1379.8h177.5v18.3h-177.5zM230.0 1397.5h124.4v18.3h-124.4zM1185.2 1397.5h18.3v18.3h-18.3zM1291.4 1397.5h159.8v18.3h-159.8zM230.0 1415.2h124.4v18.3h-124.4zM1185.2 1415.2h18.3v18.3h-18.3zM1291.4 1415.2h159.8v18.3h-159.8zM230.0 1432.9h124.4v18.3h-124.4zM1185.2 1432.9h18.3v18.3h-18.3zM1291.4 1432.9h159.8v18.3h-159.8z"/>
<path fill="#3c3c3c" d="M1220.6 849.1h18.3v18.3h-18.3zM459.9 866.8h18.3v18.3h-18.3zM1202.9 866.8h18.3v18.3h-18.3zM1185.2 884.5h18.3v18.3h-18.3zM1167.5 902.2h18.3v18.3h-18.3zM1061.4 919.9h18.3v18.3h-18.3zM1167.5 937.6h18.3v18.3h-18.3zM1096.8 972.9h18.3v18.3h-18.3zM1061.4 1008.3h18.3v18.3h-18.3zM1043.7 1026.0h18.3v18.3h-18.3zM1026.0 1043.7h18.3v18.3h-18.3zM1008.3 1061.4h18.3v18.3h-18.3zM884.5 1079.1h18.3v18.3h-18.3zM990.6 1079.1h18.3v18.3h-18.3zM194.6 1238.3h18.3v18.3h-18.3z"/>
<path fill="#3d3d3d" d="M636.8 459.9h18.3v18.3h-18.3zM1167.5 866.8h18.3v18.3h-18.3zM1149.8 884.5h18.3v18.3h-18.3zM1079.1 919.9h18.3v18.3h-18.3zM1149.8 919.9h18.3v18.3h-18.3zM1043.7 990.6h18.3v18.3h-18.3zM1026.0 1008.3h18.3v18.3h-18.3zM1008.3 1026.0h18.3v18.3h-18.3zM990.6 1043.7h18.3v18.3h-18.3zM972.9 1061.4h18.3v18.3h-18.3zM972.9 1132.2h18.3v18.3h-18.3zM990.6 1149.8h18.3v18.3h-18.3zM1008.3 1167.5h18.3v18.3h-18.3zM1026.0 1185.2h18.3v18.3h-18.3zM1043.7 1202.9h18.3v18.3h-18.3zM194.6 1220.6h18.3v18.3h-18.3zM1061.4 1220.6h18.3v18.3h-18.3zM1079.1 1238.3h18.3v18.3h-18.3zM1096.8 1256.0h18.3v18.3h-18.3zM1114.5 1273.7h18.3v18.3h-18.3zM1132.2 1291.4h18.3v18.3h-18.3zM1149.8 1309.1h18.3v18.3h-18.3zM1167.5 1326.7h18.3v18.3h-18.3zM1185.2 1344.4h18.3v18.3h-18.3zM1202.9 1362.1h18.3v18.3h-18.3zM1220.6 1379.8h18.3v18.3h-18.3zM1238.3 1397.5h18.3v18.3h-18.3zM1238.3 1415.2h18.3v18.3h-18.3zM1238.3 1432.9h18.3v18.3h-18.3z"/>
<path fill="#3e3e3e" d="M495.3 212.3h18.3v18.3h-18.3zM619.1 477.6h18.3v18.3h-18.3zM955.3 1114.5h18.3v18.3h-18.3z"/>
<path fill="#3f3f3f" d="M1202.9 831.4h18.3v18.3h-18.3zM1185.2 849.1h18.3v18.3h-18.3zM1079.1 955.3h18.3v18.3h-18.3zM283.0 1061.4h18.3v18.3h-18.3zM318.4 1061.4h18.3v18.3h-18.3zM265.3 1132.2h18.3v18.3h-18.3z"/>
<path fill="#404040" d="M1149.8 849.1h18.3v18.3h-18.3zM1132.2 866.8h18.3v18.3h-18.3zM265.3 1043.7h18.3v18.3h-18.3zM937.6 1096.8h18.3v18.3h-18.3zM353.8 1309.1h18.3v18.3h-18.3z"/>
<path fill="#414141" d="M495.3 194.6h18.3v18.3h-18.3zM513.0 212.3h18.3v18.3h-18.3zM1132.2 902.2h18.3v18.3h-18.3zM1026.0 972.9h18.3v18.3h-18.3zM1008.3 990.6h18.3v18.3h-18.3zM990.6 1008.3h18.3v18.3h-18.3zM972.9 1026.0h18.3v18.3h-18.3zM955.3 1043.7h18.3v18.3h-18.3z"/>
<path fill="#424242" d="M1202.9 796.0h18.3v18.3h-18.3zM1096.8 902.2h18.3v18.3h-18.3z"/>
<path fill="#434343" d="M1079.1 990.6h18.3v18.3h-18.3zM1096.8 1008.3h18.3v18.3h-18.3zM1114.5 1026.0h18.3v18.3h-18.3zM1132.2 1043.7h18.3v18.3h-18.3zM1149.8 1061.4h18.3v18.3h-18.3zM1167.5 1079.1h18.3v18.3h-18.3zM1185.2 1096.8h18.3v18.3h-18.3zM990.6 1114.5h18.3v18.3h-18.3zM1202.9 1114.5h18.3v18.3h-18.3zM1008.3 1132.2h18.3v18.3h-18.3zM1220.6 1132.2h18.3v18.3h-18.3zM1026.0 1149.8h18.3v18.3h-18.3zM1238.3 1149.8h18.3v18.3h-18.3zM1043.7 1167.5h18.3v18.3h-18.3zM1256.0 1167.5h18.3v18.3h-18.3zM1061.4 1185.2h18.3v18.3h-18.3zM1273.7 1185.2h18.3v18.3h-18.3zM1079.1 1202.9h18.3v18.3h-18.3zM1291.4 1202.9h18.3v18.3h-18.3zM1096.8 1220.6h18.3v18.3h-18.3zM1309.1 1220.6h18.3v18.3h-18.3zM1114.5 1238.3h18.3v18.3h-18.3zM1326.7 1238.3h18.3v18.3h-18.3zM1132.2 1256.0h18.3v18.3h-18.3zM1344.4 1256.0h18.3v18.3h-18.3zM1149.8 1273.7h18.3v18.3h-18.3zM1362.1 1273.7h18.3v18.3h-18.3zM1167.5 1291.4h18.3v18.3h-18.3zM1379.8 1291.4h18.3v18.3h-18.3zM1185.2 1309.1h18.3v18.3h-18.3zM1397.5 1309.1h53.7v18.3h-53.7zM1202.9 1326.7h18.3v18.3h-18.3zM1220.6 1344.4h18.3v18.3h-18.3zM1238.3 1362.1h18.3v18.3h-18.3zM1256.0 1379.8h18.3v18.3h-18.3zM1273.7 1397.5h18.3v18.3h-18.3zM1273.7 1415.2h18.3v18.3h-18.3zM1273.7 1432.9h18.3v18.3h-18.3z"/>
<path fill="#444444" d="M1061.4 937.6h18.3v18.3h-18.3zM972.9 1096.8h18.3v18.3h-18.3z"/>
<path fill="#454545" d="M619.1 495.3h18.3v18.3h-18.3zM601.5 513.0h18.3v18.3h-18.3zM1061.4 972.9h18.3v18.3h-18.3zM955.3 1079.1h18.3v18.3h-18.3z"/>
<path fill="#464646" d="M1185.2 813.7h18.3v18.3h-18.3zM1167.5 831.4h18.3v18.3h-18.3zM247.7 1114.5h18.3v18.3h-18.3z"/>
<path fill="#474747" d="M919.9 1079.1h18.3v18.3h-18.3zM194.6 1202.9h18.3v18.3h-18.3z"/>
<path fill="#484848" d="M513.0 194.6h18.3v18.3h-18.3zM1043.7 955.3h18.3v18.3h-18.3zM194.6 1167.5h18.3v18.3h-18.3z"/>
<path fill="#494949" d="M583.8 530.7h18.3v18.3h-18.3zM247.7 1061.4h18.3v18.3h-18.3zM230.0 1096.8h18.3v18.3h-18.3z"/>
<path fill="#4a4a4a" d="M937.6 1061.4h18.3v18.3h-18.3z"/>
<path fill="#4b4b4b" d="M955.3 -35.4h18.3v18.3h-18.3zM955.3 -17.7h18.3v18.3h-18.3zM955.3 0.0h18.3v18.3h-18.3zM972.9 35.4h18.3v18.3h-18.3zM990.6 53.1h18.3v18.3h-18.3zM495.3 70.8h36.0v18.3h-36.0zM972.9 70.8h36.0v18.3h-36.0zM495.3 88.4h36.0v18.3h-36.0zM583.8 88.4h18.3v18.3h-18.3zM972.9 88.4h18.3v18.3h-18.3zM548.4 106.1h18.3v18.3h-18.3zM212.3 123.8h18.3v18.3h-18.3zM566.1 123.8h18.3v18.3h-18.3zM336.1 141.5h18.3v18.3h-18.3zM530.7 141.5h18.3v18.3h-18.3zM672.2 141.5h18.3v18.3h-18.3zM318.4 159.2h36.0v18.3h-36.0zM513.0 159.2h36.0v18.3h-36.0zM654.5 159.2h18.3v18.3h-18.3zM318.4 176.9h36.0v18.3h-36.0zM424.6 176.9h18.3v18.3h-18.3zM513.0 176.9h36.0v18.3h-36.0zM636.8 176.9h36.0v18.3h-36.0zM318.4 194.6h36.0v18.3h-36.0zM424.6 194.6h18.3v18.3h-18.3zM530.7 194.6h36.0v18.3h-36.0zM-35.4 212.3h71.4v18.3h-71.4zM300.7 212.3h53.7v18.3h-53.7zM477.6 212.3h18.3v18.3h-18.3zM530.7 212.3h36.0v18.3h-36.0zM583.8 212.3h18.3v18.3h-18.3zM-35.4 230.0h89.0v18.3h-89.0zM176.9 230.0h18.3v18.3h-18.3zM300.7 230.0h89.0v18.3h-89.0zM406.9 230.0h18.3v18.3h-18.3zM566.1 230.0h18.3v18.3h-18.3zM654.5 230.0h36.0v18.3h-36.0zM-35.4 247.7h89.0v18.3h-89.0zM176.9 247.7h18.3v18.3h-18.3zM318.4 247.7h36.0v18.3h-36.0zM371.5 247.7h18.3v18.3h-18.3zM477.6 247.7h53.7v18.3h-53.7zM654.5 247.7h18.3v18.3h-18.3zM-35.4 265.3h89.0v18.3h-89.0zM176.9 265.3h36.0v18.3h-36.0zM300.7 265.3h53.7v18.3h-53.7zM389.2 265.3h71.4v18.3h-71.4zM530.7 265.3h53.7v18.3h-53.7zM619.1 265.3h18.3v18.3h-18.3zM707.6 265.3h18.3v18.3h-18.3zM-35.4 283.0h89.0v18.3h-89.0zM88.4 283.0h212.9v18.3h-212.9zM336.1 283.0h36.0v18.3h-36.0zM406.9 283.0h53.7v18.3h-53.7zM566.1 283.0h18.3v18.3h-18.3zM654.5 283.0h36.0v18.3h-36.0zM1220.6 283.0h18.3v18.3h-18.3zM-35.4 300.7h177.5v18.3h-177.5zM176.9 300.7h53.7v18.3h-53.7zM247.7 300.7h53.7v18.3h-53.7zM336.1 300.7h18.3v18.3h-18.3zM442.2 300.7h18.3v18.3h-18.3zM566.1 300.7h18.3v18.3h-18.3zM672.2 300.7h36.0v18.3h-36.0zM-35.4 318.4h71.4v18.3h-71.4zM53.1 318.4h89.0v18.3h-89.0zM265.3 318.4h36.0v18.3h-36.0zM495.3 318.4h89.0v18.3h-89.0zM672.2 318.4h18.3v18.3h-18.3zM-35.4 336.1h159.8v18.3h-159.8zM265.3 336.1h36.0v18.3h-36.0zM459.9 336.1h106.7v18.3h-106.7zM672.2 336.1h18.3v18.3h-18.3zM725.3 336.1h18.3v18.3h-18.3zM-35.4 353.8h71.4v18.3h-71.4zM88.4 353.8h71.4v18.3h-71.4zM194.6 353.8h53.7v18.3h-53.7zM283.0 353.8h18.3v18.3h-18.3zM389.2 353.8h36.0v18.3h-36.0zM442.2 353.8h36.0v18.3h-36.0zM530.7 353.8h18.3v18.3h-18.3zM566.1 353.8h36.0v18.3h-36.0zM636.8 353.8h36.0v18.3h-36.0zM35.4 371.5h18.3v18.3h-18.3zM88.4 371.5h53.7v18.3h-53.7zM194.6 371.5h53.7v18.3h-53.7zM283.0 371.5h18.3v18.3h-18.3zM406.9 371.5h18.3v18.3h-18.3zM530.7 371.5h71.4v18.3h-71.4zM619.1 371.5h53.7v18.3h-53.7zM35.4 389.2h18.3v18.3h-18.3zM70.8 389.2h106.7v18.3h-106.7zM194.6 389.2h18.3v18.3h-18.3zM230.0 389.2h18.3v18.3h-18.3zM283.0 389.2h18.3v18.3h-18.3zM406.9 389.2h36.0v18.3h-36.0zM530.7 389.2h36.0v18.3h-36.0zM636.8 389.2h53.7v18.3h-53.7zM760.7 389.2h106.7v18.3h-106.7zM35.4 406.9h53.7v18.3h-53.7zM106.1 406.9h159.8v18.3h-159.8zM619.1 406.9h53.7v18.3h-53.7zM743.0 406.9h18.3v18.3h-18.3zM849.1 406.9h36.0v18.3h-36.0zM106.1 424.6h195.2v18.3h-195.2zM424.6 424.6h18.3v18.3h-18.3zM566.1 424.6h89.0v18.3h-89.0zM725.3 424.6h18.3v18.3h-18.3zM849.1 424.6h36.0v18.3h-36.0zM123.8 442.2h177.5v18.3h-177.5zM548.4 442.2h36.0v18.3h-36.0zM619.1 442.2h18.3v18.3h-18.3zM689.9 442.2h18.3v18.3h-18.3zM743.0 442.2h53.7v18.3h-53.7zM813.7 442.2h71.4v18.3h-71.4zM-35.4 459.9h53.7v18.3h-53.7zM123.8 459.9h195.2v18.3h-195.2zM601.5 459.9h18.3v18.3h-18.3zM672.2 459.9h18.3v18.3h-18.3zM725.3 459.9h18.3v18.3h-18.3zM760.7 459.9h89.0v18.3h-89.0zM106.1 477.6h106.7v18.3h-106.7zM230.0 477.6h89.0v18.3h-89.0zM743.0 477.6h53.7v18.3h-53.7zM813.7 477.6h36.0v18.3h-36.0zM106.1 495.3h195.2v18.3h-195.2zM583.8 495.3h18.3v18.3h-18.3zM636.8 495.3h18.3v18.3h-18.3zM725.3 495.3h71.4v18.3h-71.4zM-35.4 513.0h53.7v18.3h-53.7zM123.8 513.0h36.0v18.3h-36.0zM176.9 513.0h89.0v18.3h-89.0zM566.1 513.0h18.3v18.3h-18.3zM672.2 513.0h18.3v18.3h-18.3zM796.0 513.0h36.0v18.3h-36.0zM-35.4 530.7h71.4v18.3h-71.4zM123.8 530.7h106.7v18.3h-106.7zM566.1 530.7h18.3v18.3h-18.3zM654.5 530.7h36.0v18.3h-36.0zM760.7 530.7h18.3v18.3h-18.3zM123.8 548.4h89.0v18.3h-89.0zM566.1 548.4h36.0v18.3h-36.0zM778.4 548.4h18.3v18.3h-18.3zM866.8 548.4h36.0v18.3h-36.0zM955.3 548.4h36.0v18.3h-36.0zM141.5 566.1h89.0v18.3h-89.0zM778.4 566.1h36.0v18.3h-36.0zM955.3 566.1h36.0v18.3h-36.0zM-35.4 583.8h53.7v18.3h-53.7zM53.1 583.8h18.3v18.3h-18.3zM159.2 583.8h18.3v18.3h-18.3zM194.6 583.8h53.7v18.3h-53.7zM796.0 583.8h18.3v18.3h-18.3zM-35.4 601.5h53.7v18.3h-53.7zM53.1 601.5h36.0v18.3h-36.0zM141.5 601.5h124.4v18.3h-124.4zM566.1 601.5h18.3v18.3h-18.3zM796.0 601.5h18.3v18.3h-18.3zM-35.4 619.1h142.1v18.3h-142.1zM123.8 619.1h36.0v18.3h-36.0zM176.9 619.1h106.7v18.3h-106.7zM796.0 619.1h18.3v18.3h-18.3zM831.4 619.1h18.3v18.3h-18.3zM35.4 636.8h124.4v18.3h-124.4zM176.9 636.8h177.5v18.3h-177.5zM849.1 636.8h18.3v18.3h-18.3zM53.1 654.5h53.7v18.3h-53.7zM123.8 654.5h177.5v18.3h-177.5zM336.1 654.5h18.3v18.3h-18.3zM389.2 654.5h53.7v18.3h-53.7zM778.4 654.5h18.3v18.3h-18.3zM831.4 654.5h18.3v18.3h-18.3zM866.8 654.5h18.3v18.3h-18.3zM70.8 672.2h106.7v18.3h-106.7zM194.6 672.2h124.4v18.3h-124.4zM353.8 672.2h36.0v18.3h-36.0zM778.4 672.2h18.3v18.3h-18.3zM88.4 689.9h71.4v18.3h-71.4zM194.6 689.9h142.1v18.3h-142.1zM495.3 689.9h18.3v18.3h-18.3zM796.0 689.9h36.0v18.3h-36.0zM123.8 707.6h36.0v18.3h-36.0zM212.3 707.6h36.0v18.3h-36.0zM778.4 707.6h18.3v18.3h-18.3zM106.1 725.3h53.7v18.3h-53.7zM212.3 725.3h36.0v18.3h-36.0zM283.0 725.3h36.0v18.3h-36.0zM778.4 725.3h18.3v18.3h-18.3zM972.9 725.3h36.0v18.3h-36.0zM106.1 743.0h53.7v18.3h-53.7zM194.6 743.0h36.0v18.3h-36.0zM265.3 743.0h36.0v18.3h-36.0zM495.3 743.0h36.0v18.3h-36.0zM955.3 743.0h53.7v18.3h-53.7zM1220.6 743.0h18.3v18.3h-18.3zM106.1 760.7h71.4v18.3h-71.4zM230.0 760.7h36.0v18.3h-36.0zM283.0 760.7h18.3v18.3h-18.3zM689.9 760.7h18.3v18.3h-18.3zM760.7 760.7h18.3v18.3h-18.3zM123.8 778.4h18.3v18.3h-18.3zM159.2 778.4h18.3v18.3h-18.3zM212.3 778.4h18.3v18.3h-18.3zM283.0 778.4h36.0v18.3h-36.0zM566.1 778.4h18.3v18.3h-18.3zM689.9 778.4h36.0v18.3h-36.0zM743.0 778.4h18.3v18.3h-18.3zM955.3 778.4h18.3v18.3h-18.3zM1008.3 778.4h18.3v18.3h-18.3zM1061.4 778.4h18.3v18.3h-18.3zM70.8 796.0h71.4v18.3h-71.4zM176.9 796.0h71.4v18.3h-71.4zM283.0 796.0h36.0v18.3h-36.0zM548.4 796.0h18.3v18.3h-18.3zM583.8 796.0h18.3v18.3h-18.3zM689.9 796.0h18.3v18.3h-18.3zM743.0 796.0h18.3v18.3h-18.3zM937.6 796.0h18.3v18.3h-18.3zM1043.7 796.0h36.0v18.3h-36.0zM106.1 813.7h18.3v18.3h-18.3zM141.5 813.7h106.7v18.3h-106.7zM265.3 813.7h53.7v18.3h-53.7zM619.1 813.7h18.3v18.3h-18.3zM654.5 813.7h36.0v18.3h-36.0zM725.3 813.7h18.3v18.3h-18.3zM813.7 813.7h18.3v18.3h-18.3zM902.2 813.7h18.3v18.3h-18.3zM1043.7 813.7h53.7v18.3h-53.7zM159.2 831.4h106.7v18.3h-106.7zM300.7 831.4h53.7v18.3h-53.7zM619.1 831.4h36.0v18.3h-36.0zM796.0 831.4h53.7v18.3h-53.7zM884.5 831.4h36.0v18.3h-36.0zM955.3 831.4h18.3v18.3h-18.3zM1043.7 831.4h53.7v18.3h-53.7zM1132.2 831.4h18.3v18.3h-18.3zM70.8 849.1h18.3v18.3h-18.3zM176.9 849.1h106.7v18.3h-106.7zM300.7 849.1h36.0v18.3h-36.0zM477.6 849.1h18.3v18.3h-18.3zM601.5 849.1h36.0v18.3h-36.0zM796.0 849.1h53.7v18.3h-53.7zM866.8 849.1h18.3v18.3h-18.3zM919.9 849.1h53.7v18.3h-53.7zM990.6 849.1h53.7v18.3h-53.7zM1079.1 849.1h18.3v18.3h-18.3zM1114.5 849.1h18.3v18.3h-18.3zM70.8 866.8h18.3v18.3h-18.3zM176.9 866.8h18.3v18.3h-18.3zM212.3 866.8h36.0v18.3h-36.0zM265.3 866.8h36.0v18.3h-36.0zM725.3 866.8h18.3v18.3h-18.3zM778.4 866.8h36.0v18.3h-36.0zM849.1 866.8h18.3v18.3h-18.3zM884.5 866.8h18.3v18.3h-18.3zM919.9 866.8h36.0v18.3h-36.0zM1008.3 866.8h18.3v18.3h-18.3zM176.9 884.5h106.7v18.3h-106.7zM318.4 884.5h36.0v18.3h-36.0zM477.6 884.5h18.3v18.3h-18.3zM725.3 884.5h53.7v18.3h-53.7zM884.5 884.5h36.0v18.3h-36.0zM1026.0 884.5h18.3v18.3h-18.3zM194.6 902.2h71.4v18.3h-71.4zM283.0 902.2h18.3v18.3h-18.3zM336.1 902.2h18.3v18.3h-18.3zM371.5 902.2h18.3v18.3h-18.3zM743.0 902.2h36.0v18.3h-36.0zM849.1 902.2h18.3v18.3h-18.3zM884.5 902.2h36.0v18.3h-36.0zM1061.4 902.2h18.3v18.3h-18.3zM230.0 919.9h36.0v18.3h-36.0zM336.1 919.9h18.3v18.3h-18.3zM371.5 919.9h18.3v18.3h-18.3zM477.6 919.9h18.3v18.3h-18.3zM743.0 919.9h36.0v18.3h-36.0zM866.8 919.9h53.7v18.3h-53.7zM1026.0 919.9h36.0v18.3h-36.0zM247.7 937.6h18.3v18.3h-18.3zM300.7 937.6h53.7v18.3h-53.7zM406.9 937.6h18.3v18.3h-18.3zM477.6 937.6h18.3v18.3h-18.3zM513.0 937.6h18.3v18.3h-18.3zM760.7 937.6h18.3v18.3h-18.3zM866.8 937.6h53.7v18.3h-53.7zM1043.7 937.6h18.3v18.3h-18.3zM247.7 955.3h36.0v18.3h-36.0zM477.6 955.3h18.3v18.3h-18.3zM778.4 955.3h18.3v18.3h-18.3zM1061.4 955.3h18.3v18.3h-18.3zM247.7 972.9h53.7v18.3h-53.7zM406.9 972.9h18.3v18.3h-18.3zM442.2 972.9h18.3v18.3h-18.3zM778.4 972.9h36.0v18.3h-36.0zM1079.1 972.9h18.3v18.3h-18.3zM-35.4 990.6h53.7v18.3h-53.7zM247.7 990.6h53.7v18.3h-53.7zM336.1 990.6h18.3v18.3h-18.3zM406.9 990.6h18.3v18.3h-18.3zM442.2 990.6h36.0v18.3h-36.0zM796.0 990.6h36.0v18.3h-36.0zM1096.8 990.6h18.3v18.3h-18.3zM247.7 1008.3h71.4v18.3h-71.4zM442.2 1008.3h53.7v18.3h-53.7zM831.4 1008.3h18.3v18.3h-18.3zM1114.5 1008.3h18.3v18.3h-18.3zM176.9 1026.0h18.3v18.3h-18.3zM265.3 1026.0h18.3v18.3h-18.3zM424.6 1026.0h18.3v18.3h-18.3zM530.7 1026.0h18.3v18.3h-18.3zM583.8 1026.0h18.3v18.3h-18.3zM813.7 1026.0h18.3v18.3h-18.3zM1132.2 1026.0h18.3v18.3h-18.3zM247.7 1043.7h18.3v18.3h-18.3zM477.6 1043.7h36.0v18.3h-36.0zM583.8 1043.7h18.3v18.3h-18.3zM778.4 1043.7h36.0v18.3h-36.0zM902.2 1043.7h18.3v18.3h-18.3zM1149.8 1043.7h18.3v18.3h-18.3zM406.9 1061.4h36.0v18.3h-36.0zM566.1 1061.4h53.7v18.3h-53.7zM760.7 1061.4h18.3v18.3h-18.3zM866.8 1061.4h18.3v18.3h-18.3zM919.9 1061.4h18.3v18.3h-18.3zM1167.5 1061.4h18.3v18.3h-18.3zM283.0 1079.1h53.7v18.3h-53.7zM353.8 1079.1h18.3v18.3h-18.3zM583.8 1079.1h36.0v18.3h-36.0zM743.0 1079.1h18.3v18.3h-18.3zM937.6 1079.1h18.3v18.3h-18.3zM1185.2 1079.1h18.3v18.3h-18.3zM300.7 1096.8h18.3v18.3h-18.3zM353.8 1096.8h18.3v18.3h-18.3zM583.8 1096.8h36.0v18.3h-36.0zM725.3 1096.8h18.3v18.3h-18.3zM955.3 1096.8h18.3v18.3h-18.3zM1202.9 1096.8h18.3v18.3h-18.3zM265.3 1114.5h36.0v18.3h-36.0zM353.8 1114.5h36.0v18.3h-36.0zM442.2 1114.5h18.3v18.3h-18.3zM601.5 1114.5h18.3v18.3h-18.3zM725.3 1114.5h18.3v18.3h-18.3zM972.9 1114.5h18.3v18.3h-18.3zM1220.6 1114.5h18.3v18.3h-18.3zM336.1 1132.2h18.3v18.3h-18.3zM406.9 1132.2h53.7v18.3h-53.7zM725.3 1132.2h36.0v18.3h-36.0zM990.6 1132.2h18.3v18.3h-18.3zM1238.3 1132.2h18.3v18.3h-18.3zM318.4 1149.8h36.0v18.3h-36.0zM619.1 1149.8h18.3v18.3h-18.3zM725.3 1149.8h36.0v18.3h-36.0zM1008.3 1149.8h18.3v18.3h-18.3zM1256.0 1149.8h18.3v18.3h-18.3zM300.7 1167.5h71.4v18.3h-71.4zM619.1 1167.5h18.3v18.3h-18.3zM1026.0 1167.5h18.3v18.3h-18.3zM1273.7 1167.5h18.3v18.3h-18.3zM283.0 1185.2h53.7v18.3h-53.7zM371.5 1185.2h36.0v18.3h-36.0zM619.1 1185.2h18.3v18.3h-18.3zM707.6 1185.2h18.3v18.3h-18.3zM1043.7 1185.2h18.3v18.3h-18.3zM1291.4 1185.2h18.3v18.3h-18.3zM283.0 1202.9h18.3v18.3h-18.3zM318.4 1202.9h36.0v18.3h-36.0zM371.5 1202.9h53.7v18.3h-53.7zM442.2 1202.9h18.3v18.3h-18.3zM548.4 1202.9h18.3v18.3h-18.3zM619.1 1202.9h36.0v18.3h-36.0zM672.2 1202.9h18.3v18.3h-18.3zM1061.4 1202.9h18.3v18.3h-18.3zM1309.1 1202.9h18.3v18.3h-18.3zM300.7 1220.6h18.3v18.3h-18.3zM336.1 1220.6h36.0v18.3h-36.0zM389.2 1220.6h36.0v18.3h-36.0zM459.9 1220.6h18.3v18.3h-18.3zM495.3 1220.6h53.7v18.3h-53.7zM566.1 1220.6h18.3v18.3h-18.3zM601.5 1220.6h18.3v18.3h-18.3zM1079.1 1220.6h18.3v18.3h-18.3zM1326.7 1220.6h18.3v18.3h-18.3zM176.9 1238.3h18.3v18.3h-18.3zM300.7 1238.3h18.3v18.3h-18.3zM336.1 1238.3h36.0v18.3h-36.0zM389.2 1238.3h36.0v18.3h-36.0zM477.6 1238.3h18.3v18.3h-18.3zM530.7 1238.3h18.3v18.3h-18.3zM566.1 1238.3h18.3v18.3h-18.3zM601.5 1238.3h18.3v18.3h-18.3zM1096.8 1238.3h18.3v18.3h-18.3zM1344.4 1238.3h18.3v18.3h-18.3zM106.1 1256.0h36.0v18.3h-36.0zM176.9 1256.0h18.3v18.3h-18.3zM300.7 1256.0h18.3v18.3h-18.3zM336.1 1256.0h53.7v18.3h-53.7zM566.1 1256.0h18.3v18.3h-18.3zM601.5 1256.0h18.3v18.3h-18.3zM654.5 1256.0h18.3v18.3h-18.3zM1114.5 1256.0h18.3v18.3h-18.3zM1362.1 1256.0h18.3v18.3h-18.3zM106.1 1273.7h18.3v18.3h-18.3zM159.2 1273.7h36.0v18.3h-36.0zM318.4 1273.7h53.7v18.3h-53.7zM442.2 1273.7h18.3v18.3h-18.3zM566.1 1273.7h18.3v18.3h-18.3zM619.1 1273.7h18.3v18.3h-18.3zM1132.2 1273.7h18.3v18.3h-18.3zM1379.8 1273.7h18.3v18.3h-18.3zM88.4 1291.4h18.3v18.3h-18.3zM141.5 1291.4h36.0v18.3h-36.0zM353.8 1291.4h36.0v18.3h-36.0zM566.1 1291.4h18.3v18.3h-18.3zM619.1 1291.4h18.3v18.3h-18.3zM1149.8 1291.4h18.3v18.3h-18.3zM1397.5 1291.4h53.7v18.3h-53.7zM141.5 1309.1h36.0v18.3h-36.0zM566.1 1309.1h18.3v18.3h-18.3zM619.1 1309.1h36.0v18.3h-36.0zM1167.5 1309.1h18.3v18.3h-18.3zM371.5 1326.7h18.3v18.3h-18.3zM513.0 1326.7h18.3v18.3h-18.3zM601.5 1326.7h18.3v18.3h-18.3zM1185.2 1326.7h18.3v18.3h-18.3zM141.5 1344.4h18.3v18.3h-18.3zM353.8 1344.4h18.3v18.3h-18.3zM513.0 1344.4h36.0v18.3h-36.0zM583.8 1344.4h18.3v18.3h-18.3zM1202.9 1344.4h18.3v18.3h-18.3zM159.2 1362.1h36.0v18.3h-36.0zM1220.6 1362.1h18.3v18.3h-18.3zM194.6 1379.8h18.3v18.3h-18.3zM530.7 1379.8h18.3v18.3h-18.3zM1238.3 1379.8h18.3v18.3h-18.3zM212.3 1397.5h18.3v18.3h-18.3zM1256.0 1397.5h18.3v18.3h-18.3zM212.3 1415.2h18.3v18.3h-18.3zM1256.0 1415.2h18.3v18.3h-18.3zM212.3 1432.9h18.3v18.3h-18.3zM1256.0 1432.9h18.3v18.3h-18.3z"/>
<path fill="#4c4c4c" d="M1114.5 884.5h18.3v18.3h-18.3zM1008.3 955.3h18.3v18.3h-18.3zM990.6 972.9h18.3v18.3h-18.3zM972.9 990.6h18.3v18.3h-18.3zM955.3 1008.3h18.3v18.3h-18.3zM937.6 1026.0h18.3v18.3h-18.3z"/>
<path fill="#4e4e4e" d="M619.1 513.0h18.3v18.3h-18.3zM247.7 1079.1h18.3v18.3h-18.3z"/>
<path fill="#4f4f4f" d="M230.0 937.6h18.3v18.3h-18.3zM424.6 1008.3h18.3v18.3h-18.3zM247.7 1026.0h18.3v18.3h-18.3zM424.6 1202.9h18.3v18.3h-18.3z"/>
<path fill="#505050" d="M424.6 1220.6h18.3v18.3h-18.3z"/>
<path fill="#525252" d="M1026.0 937.6h18.3v18.3h-18.3z"/>
<path fill="#545454" d="M212.3 937.6h18.3v18.3h-18.3zM230.0 955.3h18.3v18.3h-18.3zM247.7 1096.8h36.0v18.3h-36.0z"/>
<path fill="#555555" d="M194.6 919.9h18.3v18.3h-18.3zM937.6 1167.5h18.3v18.3h-18.3zM955.3 1185.2h18.3v18.3h-18.3zM972.9 1202.9h18.3v18.3h-18.3zM990.6 1220.6h18.3v18.3h-18.3zM1008.3 1238.3h18.3v18.3h-18.3zM1026.0 1256.0h18.3v18.3h-18.3zM1043.7 1273.7h18.3v18.3h-18.3zM1061.4 1291.4h18.3v18.3h-18.3zM1079.1 1309.1h18.3v18.3h-18.3zM1096.8 1326.7h18.3v18.3h-18.3zM1114.5 1344.4h18.3v18.3h-18.3zM1132.2 1362.1h18.3v18.3h-18.3zM1149.8 1379.8h18.3v18.3h-18.3zM1167.5 1397.5h18.3v18.3h-18.3zM1167.5 1415.2h18.3v18.3h-18.3zM1167.5 1432.9h18.3v18.3h-18.3z"/>
<path fill="#565656" d="M230.0 1079.1h18.3v18.3h-18.3zM902.2 1132.2h18.3v18.3h-18.3zM919.9 1149.8h18.3v18.3h-18.3z"/>
<path fill="#575757" d="M176.9 1220.6h18.3v18.3h-18.3z"/>
<path fill="#585858" d="M548.4 583.8h18.3v18.3h-18.3zM88.4 884.5h18.3v18.3h-18.3zM884.5 1114.5h18.3v18.3h-18.3z"/>
<path fill="#595959" d="M919.9 1043.7h18.3v18.3h-18.3z"/>
<path fill="#5b5b5b" d="M902.2 1061.4h18.3v18.3h-18.3z"/>
<path fill="#5c5c5c" d="M955.3 17.7h18.3v18.3h-18.3zM495.3 106.1h36.0v18.3h-36.0zM583.8 106.1h18.3v18.3h-18.3zM548.4 123.8h18.3v18.3h-18.3zM672.2 159.2h18.3v18.3h-18.3zM672.2 176.9h18.3v18.3h-18.3zM636.8 194.6h36.0v18.3h-36.0zM566.1 212.3h18.3v18.3h-18.3zM654.5 212.3h18.3v18.3h-18.3zM424.6 230.0h18.3v18.3h-18.3zM353.8 247.7h18.3v18.3h-18.3zM672.2 247.7h18.3v18.3h-18.3zM353.8 265.3h36.0v18.3h-36.0zM459.9 265.3h71.4v18.3h-71.4zM636.8 265.3h53.7v18.3h-53.7zM300.7 283.0h36.0v18.3h-36.0zM371.5 283.0h18.3v18.3h-18.3zM459.9 283.0h18.3v18.3h-18.3zM495.3 283.0h36.0v18.3h-36.0zM707.6 283.0h18.3v18.3h-18.3zM141.5 300.7h36.0v18.3h-36.0zM230.0 300.7h18.3v18.3h-18.3zM353.8 300.7h36.0v18.3h-36.0zM406.9 300.7h36.0v18.3h-36.0zM459.9 300.7h71.4v18.3h-71.4zM707.6 300.7h18.3v18.3h-18.3zM141.5 318.4h124.4v18.3h-124.4zM336.1 318.4h53.7v18.3h-53.7zM424.6 318.4h71.4v18.3h-71.4zM689.9 318.4h18.3v18.3h-18.3zM123.8 336.1h142.1v18.3h-142.1zM336.1 336.1h71.4v18.3h-71.4zM442.2 336.1h18.3v18.3h-18.3zM689.9 336.1h18.3v18.3h-18.3zM300.7 353.8h18.3v18.3h-18.3zM336.1 353.8h18.3v18.3h-18.3zM424.6 353.8h18.3v18.3h-18.3zM477.6 353.8h53.7v18.3h-53.7zM548.4 353.8h18.3v18.3h-18.3zM672.2 353.8h36.0v18.3h-36.0zM-35.4 371.5h71.4v18.3h-71.4zM389.2 371.5h18.3v18.3h-18.3zM424.6 371.5h18.3v18.3h-18.3zM513.0 371.5h18.3v18.3h-18.3zM672.2 371.5h36.0v18.3h-36.0zM-35.4 389.2h71.4v18.3h-71.4zM513.0 389.2h18.3v18.3h-18.3zM566.1 389.2h71.4v18.3h-71.4zM866.8 389.2h18.3v18.3h-18.3zM-35.4 406.9h71.4v18.3h-71.4zM88.4 406.9h18.3v18.3h-18.3zM283.0 406.9h18.3v18.3h-18.3zM406.9 406.9h18.3v18.3h-18.3zM477.6 406.9h142.1v18.3h-142.1zM760.7 406.9h36.0v18.3h-36.0zM831.4 406.9h18.3v18.3h-18.3zM-35.4 424.6h142.1v18.3h-142.1zM459.9 424.6h53.7v18.3h-53.7zM548.4 424.6h18.3v18.3h-18.3zM743.0 424.6h18.3v18.3h-18.3zM778.4 424.6h36.0v18.3h-36.0zM831.4 424.6h18.3v18.3h-18.3zM-35.4 442.2h89.0v18.3h-89.0zM70.8 442.2h53.7v18.3h-53.7zM300.7 442.2h18.3v18.3h-18.3zM459.9 442.2h53.7v18.3h-53.7zM530.7 442.2h18.3v18.3h-18.3zM583.8 442.2h36.0v18.3h-36.0zM796.0 442.2h18.3v18.3h-18.3zM17.7 459.9h36.0v18.3h-36.0zM70.8 459.9h53.7v18.3h-53.7zM318.4 459.9h36.0v18.3h-36.0zM459.9 459.9h18.3v18.3h-18.3zM513.0 459.9h53.7v18.3h-53.7zM689.9 459.9h18.3v18.3h-18.3zM-35.4 477.6h71.4v18.3h-71.4zM70.8 477.6h36.0v18.3h-36.0zM212.3 477.6h18.3v18.3h-18.3zM318.4 477.6h18.3v18.3h-18.3zM530.7 477.6h18.3v18.3h-18.3zM654.5 477.6h36.0v18.3h-36.0zM707.6 477.6h18.3v18.3h-18.3zM796.0 477.6h18.3v18.3h-18.3zM-35.4 495.3h53.7v18.3h-53.7zM53.1 495.3h53.7v18.3h-53.7zM300.7 495.3h36.0v18.3h-36.0zM672.2 495.3h36.0v18.3h-36.0zM796.0 495.3h36.0v18.3h-36.0zM17.7 513.0h18.3v18.3h-18.3zM53.1 513.0h71.4v18.3h-71.4zM159.2 513.0h18.3v18.3h-18.3zM265.3 513.0h71.4v18.3h-71.4zM530.7 513.0h18.3v18.3h-18.3zM636.8 513.0h18.3v18.3h-18.3zM689.9 513.0h18.3v18.3h-18.3zM725.3 513.0h18.3v18.3h-18.3zM35.4 530.7h89.0v18.3h-89.0zM230.0 530.7h124.4v18.3h-124.4zM513.0 530.7h18.3v18.3h-18.3zM619.1 530.7h36.0v18.3h-36.0zM-35.4 548.4h89.0v18.3h-89.0zM88.4 548.4h36.0v18.3h-36.0zM212.3 548.4h124.4v18.3h-124.4zM513.0 548.4h18.3v18.3h-18.3zM601.5 548.4h36.0v18.3h-36.0zM672.2 548.4h18.3v18.3h-18.3zM760.7 548.4h18.3v18.3h-18.3zM-35.4 566.1h106.7v18.3h-106.7zM88.4 566.1h53.7v18.3h-53.7zM230.0 566.1h106.7v18.3h-106.7zM760.7 566.1h18.3v18.3h-18.3zM70.8 583.8h18.3v18.3h-18.3zM106.1 583.8h53.7v18.3h-53.7zM176.9 583.8h18.3v18.3h-18.3zM247.7 583.8h106.7v18.3h-106.7zM760.7 583.8h36.0v18.3h-36.0zM88.4 601.5h53.7v18.3h-53.7zM265.3 601.5h106.7v18.3h-106.7zM406.9 601.5h18.3v18.3h-18.3zM760.7 601.5h36.0v18.3h-36.0zM106.1 619.1h18.3v18.3h-18.3zM283.0 619.1h89.0v18.3h-89.0zM406.9 619.1h36.0v18.3h-36.0zM548.4 619.1h18.3v18.3h-18.3zM672.2 619.1h18.3v18.3h-18.3zM760.7 619.1h36.0v18.3h-36.0zM813.7 619.1h18.3v18.3h-18.3zM-35.4 636.8h71.4v18.3h-71.4zM353.8 636.8h89.0v18.3h-89.0zM672.2 636.8h18.3v18.3h-18.3zM760.7 636.8h89.0v18.3h-89.0zM-35.4 654.5h89.0v18.3h-89.0zM353.8 654.5h36.0v18.3h-36.0zM477.6 654.5h18.3v18.3h-18.3zM672.2 654.5h18.3v18.3h-18.3zM760.7 654.5h18.3v18.3h-18.3zM813.7 654.5h18.3v18.3h-18.3zM849.1 654.5h18.3v18.3h-18.3zM-35.4 672.2h106.7v18.3h-106.7zM176.9 672.2h18.3v18.3h-18.3zM336.1 672.2h18.3v18.3h-18.3zM495.3 672.2h18.3v18.3h-18.3zM796.0 672.2h36.0v18.3h-36.0zM-35.4 689.9h124.4v18.3h-124.4zM159.2 689.9h36.0v18.3h-36.0zM336.1 689.9h18.3v18.3h-18.3zM442.2 689.9h18.3v18.3h-18.3zM513.0 689.9h18.3v18.3h-18.3zM566.1 689.9h18.3v18.3h-18.3zM778.4 689.9h18.3v18.3h-18.3zM-35.4 707.6h142.1v18.3h-142.1zM159.2 707.6h53.7v18.3h-53.7zM283.0 707.6h36.0v18.3h-36.0zM336.1 707.6h18.3v18.3h-18.3zM601.5 707.6h18.3v18.3h-18.3zM760.7 707.6h18.3v18.3h-18.3zM-35.4 725.3h53.7v18.3h-53.7zM35.4 725.3h18.3v18.3h-18.3zM88.4 725.3h18.3v18.3h-18.3zM159.2 725.3h53.7v18.3h-53.7zM566.1 725.3h53.7v18.3h-53.7zM636.8 725.3h71.4v18.3h-71.4zM760.7 725.3h18.3v18.3h-18.3zM-35.4 743.0h53.7v18.3h-53.7zM88.4 743.0h18.3v18.3h-18.3zM159.2 743.0h36.0v18.3h-36.0zM530.7 743.0h18.3v18.3h-18.3zM566.1 743.0h159.8v18.3h-159.8zM760.7 743.0h18.3v18.3h-18.3zM70.8 760.7h36.0v18.3h-36.0zM212.3 760.7h18.3v18.3h-18.3zM265.3 760.7h18.3v18.3h-18.3zM583.8 760.7h106.7v18.3h-106.7zM707.6 760.7h53.7v18.3h-53.7zM1202.9 760.7h18.3v18.3h-18.3zM70.8 778.4h53.7v18.3h-53.7zM176.9 778.4h18.3v18.3h-18.3zM230.0 778.4h36.0v18.3h-36.0zM619.1 778.4h71.4v18.3h-71.4zM725.3 778.4h18.3v18.3h-18.3zM972.9 778.4h36.0v18.3h-36.0zM1185.2 778.4h18.3v18.3h-18.3zM53.1 796.0h18.3v18.3h-18.3zM247.7 796.0h36.0v18.3h-36.0zM672.2 796.0h18.3v18.3h-18.3zM725.3 796.0h18.3v18.3h-18.3zM955.3 796.0h18.3v18.3h-18.3zM1026.0 796.0h18.3v18.3h-18.3zM1167.5 796.0h18.3v18.3h-18.3zM53.1 813.7h18.3v18.3h-18.3zM123.8 813.7h18.3v18.3h-18.3zM247.7 813.7h18.3v18.3h-18.3zM548.4 813.7h18.3v18.3h-18.3zM636.8 813.7h18.3v18.3h-18.3zM1149.8 813.7h18.3v18.3h-18.3zM53.1 831.4h18.3v18.3h-18.3zM106.1 831.4h53.7v18.3h-53.7zM972.9 831.4h18.3v18.3h-18.3zM1026.0 831.4h18.3v18.3h-18.3zM1096.8 831.4h18.3v18.3h-18.3zM53.1 849.1h18.3v18.3h-18.3zM106.1 849.1h71.4v18.3h-71.4zM972.9 849.1h18.3v18.3h-18.3zM106.1 866.8h71.4v18.3h-71.4zM247.7 866.8h18.3v18.3h-18.3zM477.6 866.8h18.3v18.3h-18.3zM601.5 866.8h18.3v18.3h-18.3zM813.7 866.8h36.0v18.3h-36.0zM955.3 866.8h53.7v18.3h-53.7zM1079.1 866.8h18.3v18.3h-18.3zM70.8 884.5h18.3v18.3h-18.3zM106.1 884.5h71.4v18.3h-71.4zM353.8 884.5h18.3v18.3h-18.3zM548.4 884.5h18.3v18.3h-18.3zM778.4 884.5h71.4v18.3h-71.4zM919.9 884.5h106.7v18.3h-106.7zM1061.4 884.5h36.0v18.3h-36.0zM106.1 902.2h18.3v18.3h-18.3zM141.5 902.2h53.7v18.3h-53.7zM300.7 902.2h18.3v18.3h-18.3zM548.4 902.2h36.0v18.3h-36.0zM778.4 902.2h71.4v18.3h-71.4zM919.9 902.2h36.0v18.3h-36.0zM1026.0 902.2h18.3v18.3h-18.3zM141.5 919.9h53.7v18.3h-53.7zM212.3 919.9h18.3v18.3h-18.3zM353.8 919.9h18.3v18.3h-18.3zM778.4 919.9h89.0v18.3h-89.0zM919.9 919.9h18.3v18.3h-18.3zM141.5 937.6h71.4v18.3h-71.4zM353.8 937.6h18.3v18.3h-18.3zM778.4 937.6h89.0v18.3h-89.0zM141.5 955.3h89.0v18.3h-89.0zM336.1 955.3h36.0v18.3h-36.0zM389.2 955.3h36.0v18.3h-36.0zM459.9 955.3h18.3v18.3h-18.3zM495.3 955.3h18.3v18.3h-18.3zM796.0 955.3h106.7v18.3h-106.7zM-35.4 972.9h53.7v18.3h-53.7zM141.5 972.9h106.7v18.3h-106.7zM477.6 972.9h18.3v18.3h-18.3zM813.7 972.9h71.4v18.3h-71.4zM212.3 990.6h36.0v18.3h-36.0zM353.8 990.6h53.7v18.3h-53.7zM477.6 990.6h18.3v18.3h-18.3zM831.4 990.6h36.0v18.3h-36.0zM230.0 1008.3h18.3v18.3h-18.3zM353.8 1008.3h71.4v18.3h-71.4zM371.5 1026.0h18.3v18.3h-18.3zM406.9 1026.0h18.3v18.3h-18.3zM442.2 1026.0h36.0v18.3h-36.0zM566.1 1026.0h18.3v18.3h-18.3zM353.8 1043.7h18.3v18.3h-18.3zM406.9 1043.7h71.4v18.3h-71.4zM513.0 1043.7h36.0v18.3h-36.0zM566.1 1043.7h18.3v18.3h-18.3zM389.2 1061.4h18.3v18.3h-18.3zM442.2 1061.4h18.3v18.3h-18.3zM265.3 1079.1h18.3v18.3h-18.3zM424.6 1079.1h36.0v18.3h-36.0zM566.1 1079.1h18.3v18.3h-18.3zM760.7 1079.1h18.3v18.3h-18.3zM283.0 1096.8h18.3v18.3h-18.3zM442.2 1096.8h18.3v18.3h-18.3zM566.1 1096.8h18.3v18.3h-18.3zM743.0 1096.8h18.3v18.3h-18.3zM389.2 1114.5h18.3v18.3h-18.3zM566.1 1114.5h36.0v18.3h-36.0zM743.0 1114.5h53.7v18.3h-53.7zM70.8 1132.2h18.3v18.3h-18.3zM477.6 1132.2h18.3v18.3h-18.3zM601.5 1132.2h18.3v18.3h-18.3zM459.9 1149.8h53.7v18.3h-53.7zM548.4 1149.8h18.3v18.3h-18.3zM601.5 1149.8h18.3v18.3h-18.3zM176.9 1167.5h18.3v18.3h-18.3zM459.9 1167.5h53.7v18.3h-53.7zM548.4 1167.5h71.4v18.3h-71.4zM725.3 1167.5h18.3v18.3h-18.3zM159.2 1185.2h53.7v18.3h-53.7zM336.1 1185.2h36.0v18.3h-36.0zM459.9 1185.2h159.8v18.3h-159.8zM141.5 1202.9h53.7v18.3h-53.7zM300.7 1202.9h18.3v18.3h-18.3zM353.8 1202.9h18.3v18.3h-18.3zM459.9 1202.9h89.0v18.3h-89.0zM566.1 1202.9h53.7v18.3h-53.7zM159.2 1220.6h18.3v18.3h-18.3zM318.4 1220.6h18.3v18.3h-18.3zM442.2 1220.6h18.3v18.3h-18.3zM583.8 1220.6h18.3v18.3h-18.3zM88.4 1238.3h36.0v18.3h-36.0zM159.2 1238.3h18.3v18.3h-18.3zM318.4 1238.3h18.3v18.3h-18.3zM583.8 1238.3h18.3v18.3h-18.3zM88.4 1256.0h18.3v18.3h-18.3zM141.5 1256.0h36.0v18.3h-36.0zM318.4 1256.0h18.3v18.3h-18.3zM406.9 1256.0h18.3v18.3h-18.3zM530.7 1256.0h18.3v18.3h-18.3zM583.8 1256.0h18.3v18.3h-18.3zM88.4 1273.7h18.3v18.3h-18.3zM123.8 1273.7h36.0v18.3h-36.0zM371.5 1273.7h18.3v18.3h-18.3zM583.8 1273.7h36.0v18.3h-36.0zM654.5 1273.7h18.3v18.3h-18.3zM106.1 1291.4h18.3v18.3h-18.3zM406.9 1291.4h18.3v18.3h-18.3zM442.2 1291.4h18.3v18.3h-18.3zM424.6 1309.1h89.0v18.3h-89.0zM548.4 1309.1h18.3v18.3h-18.3zM583.8 1309.1h18.3v18.3h-18.3zM406.9 1326.7h18.3v18.3h-18.3zM566.1 1326.7h18.3v18.3h-18.3zM619.1 1326.7h18.3v18.3h-18.3zM371.5 1344.4h18.3v18.3h-18.3zM566.1 1344.4h18.3v18.3h-18.3zM601.5 1344.4h18.3v18.3h-18.3zM141.5 1362.1h18.3v18.3h-18.3zM353.8 1362.1h36.0v18.3h-36.0zM513.0 1362.1h18.3v18.3h-18.3zM106.1 1379.8h89.0v18.3h-89.0zM548.4 1379.8h18.3v18.3h-18.3zM106.1 1397.5h106.7v18.3h-106.7zM106.1 1415.2h106.7v18.3h-106.7zM106.1 1432.9h106.7v18.3h-106.7z"/>
<path fill="#5d5d5d" d="M230.0 1026.0h18.3v18.3h-18.3zM194.6 1043.7h18.3v18.3h-18.3zM230.0 1043.7h18.3v18.3h-18.3zM230.0 1061.4h18.3v18.3h-18.3zM123.8 1238.3h18.3v18.3h-18.3z"/>
<path fill="#5e5e5e" d="M866.8 1096.8h18.3v18.3h-18.3z"/>
<path fill="#606060" d="M212.3 1096.8h18.3v18.3h-18.3z"/>
<path fill="#636363" d="M141.5 1220.6h18.3v18.3h-18.3z"/>
<path fill="#646464" d="M548.4 601.5h18.3v18.3h-18.3z"/>
<path fill="#656565" d="M176.9 1149.8h18.3v18.3h-18.3z"/>
<path fill="#666666" d="M212.3 1061.4h18.3v18.3h-18.3z"/>
<path fill="#696969" d="M17.7 972.9h18.3v18.3h-18.3zM141.5 1185.2h18.3v18.3h-18.3z"/>
<path fill="#6b6b6b" d="M17.7 955.3h18.3v18.3h-18.3zM212.3 1026.0h18.3v18.3h-18.3zM123.8 1220.6h18.3v18.3h-18.3z"/>
<path fill="#6c6c6c" d="M88.4 902.2h18.3v18.3h-18.3zM159.2 1167.5h18.3v18.3h-18.3z"/>
<path fill="#6e6e6e" d="M212.3 1079.1h18.3v18.3h-18.3z"/>
<path fill="#707070" d="M566.1 106.1h18.3v18.3h-18.3zM406.9 247.7h36.0v18.3h-36.0zM477.6 283.0h18.3v18.3h-18.3zM530.7 283.0h18.3v18.3h-18.3zM619.1 283.0h36.0v18.3h-36.0zM300.7 300.7h36.0v18.3h-36.0zM530.7 300.7h18.3v18.3h-18.3zM300.7 318.4h18.3v18.3h-18.3zM389.2 318.4h36.0v18.3h-36.0zM707.6 318.4h18.3v18.3h-18.3zM300.7 336.1h18.3v18.3h-18.3zM406.9 336.1h36.0v18.3h-36.0zM707.6 336.1h18.3v18.3h-18.3zM318.4 353.8h18.3v18.3h-18.3zM353.8 353.8h36.0v18.3h-36.0zM300.7 371.5h89.0v18.3h-89.0zM477.6 371.5h18.3v18.3h-18.3zM336.1 389.2h71.4v18.3h-71.4zM477.6 389.2h18.3v18.3h-18.3zM353.8 406.9h53.7v18.3h-53.7zM442.2 406.9h36.0v18.3h-36.0zM796.0 406.9h18.3v18.3h-18.3zM300.7 424.6h18.3v18.3h-18.3zM353.8 424.6h71.4v18.3h-71.4zM442.2 424.6h18.3v18.3h-18.3zM760.7 424.6h18.3v18.3h-18.3zM813.7 424.6h18.3v18.3h-18.3zM53.1 442.2h18.3v18.3h-18.3zM336.1 442.2h71.4v18.3h-71.4zM424.6 442.2h36.0v18.3h-36.0zM513.0 442.2h18.3v18.3h-18.3zM725.3 442.2h18.3v18.3h-18.3zM53.1 459.9h18.3v18.3h-18.3zM353.8 459.9h36.0v18.3h-36.0zM566.1 459.9h36.0v18.3h-36.0zM707.6 459.9h18.3v18.3h-18.3zM35.4 477.6h36.0v18.3h-36.0zM459.9 477.6h36.0v18.3h-36.0zM548.4 477.6h18.3v18.3h-18.3zM689.9 477.6h18.3v18.3h-18.3zM17.7 495.3h36.0v18.3h-36.0zM459.9 495.3h36.0v18.3h-36.0zM530.7 495.3h18.3v18.3h-18.3zM566.1 495.3h18.3v18.3h-18.3zM654.5 495.3h18.3v18.3h-18.3zM707.6 495.3h18.3v18.3h-18.3zM35.4 513.0h18.3v18.3h-18.3zM336.1 513.0h18.3v18.3h-18.3zM424.6 513.0h18.3v18.3h-18.3zM513.0 513.0h18.3v18.3h-18.3zM548.4 513.0h18.3v18.3h-18.3zM654.5 513.0h18.3v18.3h-18.3zM707.6 513.0h18.3v18.3h-18.3zM743.0 513.0h18.3v18.3h-18.3zM530.7 530.7h36.0v18.3h-36.0zM689.9 530.7h71.4v18.3h-71.4zM53.1 548.4h36.0v18.3h-36.0zM336.1 548.4h36.0v18.3h-36.0zM530.7 548.4h36.0v18.3h-36.0zM707.6 548.4h53.7v18.3h-53.7zM70.8 566.1h18.3v18.3h-18.3zM371.5 566.1h18.3v18.3h-18.3zM513.0 566.1h53.7v18.3h-53.7zM583.8 566.1h18.3v18.3h-18.3zM689.9 566.1h18.3v18.3h-18.3zM743.0 566.1h18.3v18.3h-18.3zM88.4 583.8h18.3v18.3h-18.3zM353.8 583.8h36.0v18.3h-36.0zM406.9 583.8h18.3v18.3h-18.3zM495.3 583.8h53.7v18.3h-53.7zM743.0 583.8h18.3v18.3h-18.3zM424.6 601.5h18.3v18.3h-18.3zM513.0 601.5h36.0v18.3h-36.0zM689.9 601.5h71.4v18.3h-71.4zM371.5 619.1h18.3v18.3h-18.3zM495.3 619.1h18.3v18.3h-18.3zM689.9 619.1h71.4v18.3h-71.4zM442.2 636.8h18.3v18.3h-18.3zM495.3 636.8h18.3v18.3h-18.3zM548.4 636.8h18.3v18.3h-18.3zM689.9 636.8h18.3v18.3h-18.3zM743.0 636.8h18.3v18.3h-18.3zM442.2 654.5h36.0v18.3h-36.0zM495.3 654.5h18.3v18.3h-18.3zM689.9 654.5h18.3v18.3h-18.3zM796.0 654.5h18.3v18.3h-18.3zM442.2 672.2h36.0v18.3h-36.0zM513.0 672.2h71.4v18.3h-71.4zM619.1 672.2h18.3v18.3h-18.3zM672.2 672.2h18.3v18.3h-18.3zM743.0 672.2h36.0v18.3h-36.0zM459.9 689.9h18.3v18.3h-18.3zM530.7 689.9h36.0v18.3h-36.0zM583.8 689.9h18.3v18.3h-18.3zM707.6 689.9h18.3v18.3h-18.3zM743.0 689.9h36.0v18.3h-36.0zM318.4 707.6h18.3v18.3h-18.3zM495.3 707.6h18.3v18.3h-18.3zM530.7 707.6h18.3v18.3h-18.3zM566.1 707.6h36.0v18.3h-36.0zM636.8 707.6h36.0v18.3h-36.0zM689.9 707.6h71.4v18.3h-71.4zM17.7 725.3h18.3v18.3h-18.3zM53.1 725.3h36.0v18.3h-36.0zM495.3 725.3h18.3v18.3h-18.3zM530.7 725.3h36.0v18.3h-36.0zM619.1 725.3h18.3v18.3h-18.3zM707.6 725.3h53.7v18.3h-53.7zM17.7 743.0h71.4v18.3h-71.4zM247.7 743.0h18.3v18.3h-18.3zM548.4 743.0h18.3v18.3h-18.3zM725.3 743.0h36.0v18.3h-36.0zM-35.4 760.7h106.7v18.3h-106.7zM566.1 760.7h18.3v18.3h-18.3zM-35.4 778.4h106.7v18.3h-106.7zM265.3 778.4h18.3v18.3h-18.3zM583.8 778.4h36.0v18.3h-36.0zM-35.4 796.0h53.7v18.3h-53.7zM35.4 796.0h18.3v18.3h-18.3zM601.5 796.0h71.4v18.3h-71.4zM972.9 796.0h53.7v18.3h-53.7zM-35.4 813.7h53.7v18.3h-53.7zM972.9 813.7h18.3v18.3h-18.3zM1026.0 813.7h18.3v18.3h-18.3zM35.4 831.4h18.3v18.3h-18.3zM990.6 831.4h36.0v18.3h-36.0zM1096.8 849.1h18.3v18.3h-18.3zM53.1 866.8h18.3v18.3h-18.3zM318.4 866.8h18.3v18.3h-18.3zM1096.8 866.8h18.3v18.3h-18.3zM566.1 884.5h18.3v18.3h-18.3zM70.8 902.2h18.3v18.3h-18.3zM123.8 902.2h18.3v18.3h-18.3zM353.8 902.2h18.3v18.3h-18.3zM477.6 902.2h18.3v18.3h-18.3zM955.3 902.2h71.4v18.3h-71.4zM123.8 919.9h18.3v18.3h-18.3zM318.4 919.9h18.3v18.3h-18.3zM495.3 919.9h18.3v18.3h-18.3zM937.6 919.9h18.3v18.3h-18.3zM1008.3 919.9h18.3v18.3h-18.3zM-35.4 937.6h71.4v18.3h-71.4zM88.4 937.6h53.7v18.3h-53.7zM371.5 937.6h18.3v18.3h-18.3zM495.3 937.6h18.3v18.3h-18.3zM919.9 937.6h18.3v18.3h-18.3zM990.6 937.6h18.3v18.3h-18.3zM-35.4 955.3h53.7v18.3h-53.7zM88.4 955.3h53.7v18.3h-53.7zM902.2 955.3h18.3v18.3h-18.3zM972.9 955.3h18.3v18.3h-18.3zM53.1 972.9h89.0v18.3h-89.0zM336.1 972.9h36.0v18.3h-36.0zM389.2 972.9h18.3v18.3h-18.3zM459.9 972.9h18.3v18.3h-18.3zM513.0 972.9h18.3v18.3h-18.3zM884.5 972.9h18.3v18.3h-18.3zM955.3 972.9h18.3v18.3h-18.3zM17.7 990.6h18.3v18.3h-18.3zM53.1 990.6h159.8v18.3h-159.8zM300.7 990.6h18.3v18.3h-18.3zM866.8 990.6h18.3v18.3h-18.3zM937.6 990.6h18.3v18.3h-18.3zM35.4 1008.3h195.2v18.3h-195.2zM849.1 1008.3h18.3v18.3h-18.3zM919.9 1008.3h18.3v18.3h-18.3zM35.4 1026.0h89.0v18.3h-89.0zM194.6 1026.0h18.3v18.3h-18.3zM353.8 1026.0h18.3v18.3h-18.3zM389.2 1026.0h18.3v18.3h-18.3zM548.4 1026.0h18.3v18.3h-18.3zM831.4 1026.0h18.3v18.3h-18.3zM35.4 1043.7h53.7v18.3h-53.7zM212.3 1043.7h18.3v18.3h-18.3zM813.7 1043.7h18.3v18.3h-18.3zM35.4 1061.4h89.0v18.3h-89.0zM194.6 1061.4h18.3v18.3h-18.3zM371.5 1061.4h18.3v18.3h-18.3zM459.9 1061.4h36.0v18.3h-36.0zM548.4 1061.4h18.3v18.3h-18.3zM778.4 1061.4h18.3v18.3h-18.3zM35.4 1079.1h89.0v18.3h-89.0zM406.9 1079.1h18.3v18.3h-18.3zM548.4 1079.1h18.3v18.3h-18.3zM778.4 1079.1h18.3v18.3h-18.3zM849.1 1079.1h18.3v18.3h-18.3zM17.7 1096.8h18.3v18.3h-18.3zM53.1 1096.8h71.4v18.3h-71.4zM371.5 1096.8h18.3v18.3h-18.3zM424.6 1096.8h18.3v18.3h-18.3zM548.4 1096.8h18.3v18.3h-18.3zM760.7 1096.8h36.0v18.3h-36.0zM849.1 1096.8h18.3v18.3h-18.3zM-35.4 1114.5h71.4v18.3h-71.4zM53.1 1114.5h53.7v18.3h-53.7zM424.6 1114.5h18.3v18.3h-18.3zM530.7 1114.5h36.0v18.3h-36.0zM866.8 1114.5h18.3v18.3h-18.3zM17.7 1132.2h36.0v18.3h-36.0zM459.9 1132.2h18.3v18.3h-18.3zM495.3 1132.2h106.7v18.3h-106.7zM778.4 1132.2h18.3v18.3h-18.3zM884.5 1132.2h18.3v18.3h-18.3zM35.4 1149.8h18.3v18.3h-18.3zM70.8 1149.8h18.3v18.3h-18.3zM513.0 1149.8h36.0v18.3h-36.0zM566.1 1149.8h36.0v18.3h-36.0zM902.2 1149.8h18.3v18.3h-18.3zM106.1 1167.5h18.3v18.3h-18.3zM406.9 1167.5h18.3v18.3h-18.3zM513.0 1167.5h36.0v18.3h-36.0zM743.0 1167.5h18.3v18.3h-18.3zM919.9 1167.5h18.3v18.3h-18.3zM-35.4 1185.2h53.7v18.3h-53.7zM70.8 1185.2h71.4v18.3h-71.4zM937.6 1185.2h18.3v18.3h-18.3zM70.8 1202.9h71.4v18.3h-71.4zM707.6 1202.9h18.3v18.3h-18.3zM955.3 1202.9h18.3v18.3h-18.3zM53.1 1220.6h71.4v18.3h-71.4zM477.6 1220.6h18.3v18.3h-18.3zM672.2 1220.6h18.3v18.3h-18.3zM972.9 1220.6h18.3v18.3h-18.3zM35.4 1238.3h53.7v18.3h-53.7zM141.5 1238.3h18.3v18.3h-18.3zM424.6 1238.3h18.3v18.3h-18.3zM990.6 1238.3h18.3v18.3h-18.3zM70.8 1256.0h18.3v18.3h-18.3zM389.2 1256.0h18.3v18.3h-18.3zM548.4 1256.0h18.3v18.3h-18.3zM1008.3 1256.0h18.3v18.3h-18.3zM406.9 1273.7h18.3v18.3h-18.3zM459.9 1273.7h18.3v18.3h-18.3zM1026.0 1273.7h18.3v18.3h-18.3zM123.8 1291.4h18.3v18.3h-18.3zM424.6 1291.4h18.3v18.3h-18.3zM530.7 1291.4h18.3v18.3h-18.3zM583.8 1291.4h36.0v18.3h-36.0zM654.5 1291.4h18.3v18.3h-18.3zM1043.7 1291.4h18.3v18.3h-18.3zM-35.4 1309.1h53.7v18.3h-53.7zM123.8 1309.1h18.3v18.3h-18.3zM389.2 1309.1h36.0v18.3h-36.0zM513.0 1309.1h18.3v18.3h-18.3zM601.5 1309.1h18.3v18.3h-18.3zM1061.4 1309.1h18.3v18.3h-18.3zM-35.4 1326.7h71.4v18.3h-71.4zM123.8 1326.7h18.3v18.3h-18.3zM424.6 1326.7h89.0v18.3h-89.0zM636.8 1326.7h18.3v18.3h-18.3zM1079.1 1326.7h18.3v18.3h-18.3zM-35.4 1344.4h53.7v18.3h-53.7zM406.9 1344.4h106.7v18.3h-106.7zM619.1 1344.4h18.3v18.3h-18.3zM1096.8 1344.4h18.3v18.3h-18.3zM123.8 1362.1h18.3v18.3h-18.3zM389.2 1362.1h124.4v18.3h-124.4zM566.1 1362.1h18.3v18.3h-18.3zM601.5 1362.1h36.0v18.3h-36.0zM1114.5 1362.1h18.3v18.3h-18.3zM88.4 1379.8h18.3v18.3h-18.3zM353.8 1379.8h177.5v18.3h-177.5zM1132.2 1379.8h18.3v18.3h-18.3zM70.8 1397.5h36.0v18.3h-36.0zM353.8 1397.5h212.9v18.3h-212.9zM1149.8 1397.5h18.3v18.3h-18.3zM70.8 1415.2h36.0v18.3h-36.0zM353.8 1415.2h212.9v18.3h-212.9zM1149.8 1415.2h18.3v18.3h-18.3zM70.8 1432.9h36.0v18.3h-36.0zM353.8 1432.9h212.9v18.3h-212.9zM1149.8 1432.9h18.3v18.3h-18.3z"/>
<path fill="#717171" d="M176.9 1043.7h18.3v18.3h-18.3z"/>
<path fill="#737373" d="M530.7 619.1h18.3v18.3h-18.3z"/>
<path fill="#747474" d="M88.4 919.9h18.3v18.3h-18.3z"/>
<path fill="#767676" d="M35.4 955.3h18.3v18.3h-18.3zM123.8 1167.5h18.3v18.3h-18.3z"/>
<path fill="#787878" d="M35.4 972.9h18.3v18.3h-18.3z"/>
<path fill="#797979" d="M141.5 1167.5h18.3v18.3h-18.3z"/>
<path fill="#7a7a7a" d="M123.8 1026.0h18.3v18.3h-18.3z"/>
<path fill="#7c7c7c" d="M530.7 636.8h18.3v18.3h-18.3zM70.8 937.6h18.3v18.3h-18.3z"/>
<path fill="#7f7f7f" d="M70.8 919.9h18.3v18.3h-18.3zM123.8 1096.8h18.3v18.3h-18.3z"/>
<path fill="#808080" d="M159.2 1149.8h18.3v18.3h-18.3z"/>
<path fill="#828282" d="M141.5 1149.8h18.3v18.3h-18.3z"/>
<path fill="#848484" d="M389.2 283.0h18.3v18.3h-18.3zM548.4 283.0h18.3v18.3h-18.3zM389.2 300.7h18.3v18.3h-18.3zM548.4 300.7h18.3v18.3h-18.3zM318.4 336.1h18.3v18.3h-18.3zM300.7 389.2h36.0v18.3h-36.0zM495.3 389.2h18.3v18.3h-18.3zM300.7 406.9h53.7v18.3h-53.7zM813.7 406.9h18.3v18.3h-18.3zM406.9 442.2h18.3v18.3h-18.3zM707.6 442.2h18.3v18.3h-18.3zM389.2 459.9h18.3v18.3h-18.3zM442.2 459.9h18.3v18.3h-18.3zM477.6 459.9h36.0v18.3h-36.0zM336.1 477.6h18.3v18.3h-18.3zM513.0 477.6h18.3v18.3h-18.3zM566.1 477.6h36.0v18.3h-36.0zM513.0 495.3h18.3v18.3h-18.3zM548.4 495.3h18.3v18.3h-18.3zM442.2 513.0h18.3v18.3h-18.3zM477.6 513.0h36.0v18.3h-36.0zM406.9 530.7h53.7v18.3h-53.7zM495.3 530.7h18.3v18.3h-18.3zM371.5 548.4h36.0v18.3h-36.0zM495.3 548.4h18.3v18.3h-18.3zM689.9 548.4h18.3v18.3h-18.3zM424.6 566.1h53.7v18.3h-53.7zM495.3 566.1h18.3v18.3h-18.3zM636.8 566.1h18.3v18.3h-18.3zM725.3 566.1h18.3v18.3h-18.3zM389.2 583.8h18.3v18.3h-18.3zM424.6 583.8h71.4v18.3h-71.4zM583.8 583.8h18.3v18.3h-18.3zM707.6 583.8h18.3v18.3h-18.3zM371.5 601.5h36.0v18.3h-36.0zM459.9 601.5h53.7v18.3h-53.7zM672.2 601.5h18.3v18.3h-18.3zM389.2 619.1h18.3v18.3h-18.3zM442.2 619.1h18.3v18.3h-18.3zM513.0 619.1h18.3v18.3h-18.3zM459.9 636.8h18.3v18.3h-18.3zM513.0 636.8h18.3v18.3h-18.3zM566.1 636.8h18.3v18.3h-18.3zM707.6 636.8h36.0v18.3h-36.0zM513.0 654.5h71.4v18.3h-71.4zM654.5 654.5h18.3v18.3h-18.3zM707.6 654.5h53.7v18.3h-53.7zM583.8 672.2h36.0v18.3h-36.0zM636.8 672.2h36.0v18.3h-36.0zM689.9 672.2h53.7v18.3h-53.7zM601.5 689.9h106.7v18.3h-106.7zM725.3 689.9h18.3v18.3h-18.3zM513.0 707.6h18.3v18.3h-18.3zM548.4 707.6h18.3v18.3h-18.3zM619.1 707.6h18.3v18.3h-18.3zM672.2 707.6h18.3v18.3h-18.3zM513.0 725.3h18.3v18.3h-18.3zM230.0 743.0h18.3v18.3h-18.3zM17.7 796.0h18.3v18.3h-18.3zM17.7 813.7h36.0v18.3h-36.0zM990.6 813.7h36.0v18.3h-36.0zM-35.4 831.4h71.4v18.3h-71.4zM-35.4 849.1h89.0v18.3h-89.0zM53.1 919.9h18.3v18.3h-18.3zM955.3 919.9h53.7v18.3h-53.7zM937.6 937.6h18.3v18.3h-18.3zM53.1 955.3h36.0v18.3h-36.0zM513.0 955.3h18.3v18.3h-18.3zM919.9 955.3h18.3v18.3h-18.3zM902.2 972.9h18.3v18.3h-18.3zM35.4 990.6h18.3v18.3h-18.3zM884.5 990.6h18.3v18.3h-18.3zM866.8 1008.3h18.3v18.3h-18.3zM141.5 1026.0h36.0v18.3h-36.0zM902.2 1026.0h18.3v18.3h-18.3zM17.7 1043.7h18.3v18.3h-18.3zM88.4 1043.7h89.0v18.3h-89.0zM371.5 1043.7h36.0v18.3h-36.0zM123.8 1061.4h18.3v18.3h-18.3zM159.2 1061.4h36.0v18.3h-36.0zM796.0 1061.4h18.3v18.3h-18.3zM849.1 1061.4h18.3v18.3h-18.3zM17.7 1079.1h18.3v18.3h-18.3zM176.9 1079.1h36.0v18.3h-36.0zM371.5 1079.1h36.0v18.3h-36.0zM477.6 1079.1h53.7v18.3h-53.7zM796.0 1079.1h18.3v18.3h-18.3zM-35.4 1096.8h53.7v18.3h-53.7zM35.4 1096.8h18.3v18.3h-18.3zM194.6 1096.8h18.3v18.3h-18.3zM389.2 1096.8h18.3v18.3h-18.3zM495.3 1096.8h53.7v18.3h-53.7zM796.0 1096.8h18.3v18.3h-18.3zM35.4 1114.5h18.3v18.3h-18.3zM106.1 1114.5h36.0v18.3h-36.0zM406.9 1114.5h18.3v18.3h-18.3zM459.9 1114.5h18.3v18.3h-18.3zM495.3 1114.5h36.0v18.3h-36.0zM-35.4 1132.2h53.7v18.3h-53.7zM53.1 1132.2h18.3v18.3h-18.3zM88.4 1132.2h18.3v18.3h-18.3zM17.7 1149.8h18.3v18.3h-18.3zM53.1 1149.8h18.3v18.3h-18.3zM88.4 1149.8h53.7v18.3h-53.7zM760.7 1149.8h18.3v18.3h-18.3zM-35.4 1167.5h142.1v18.3h-142.1zM17.7 1185.2h53.7v18.3h-53.7zM406.9 1185.2h18.3v18.3h-18.3zM725.3 1185.2h18.3v18.3h-18.3zM-35.4 1202.9h106.7v18.3h-106.7zM689.9 1202.9h18.3v18.3h-18.3zM-35.4 1220.6h89.0v18.3h-89.0zM548.4 1220.6h18.3v18.3h-18.3zM17.7 1238.3h18.3v18.3h-18.3zM548.4 1238.3h18.3v18.3h-18.3zM672.2 1238.3h18.3v18.3h-18.3zM35.4 1256.0h36.0v18.3h-36.0zM424.6 1256.0h18.3v18.3h-18.3zM53.1 1273.7h36.0v18.3h-36.0zM389.2 1273.7h18.3v18.3h-18.3zM477.6 1273.7h18.3v18.3h-18.3zM513.0 1273.7h18.3v18.3h-18.3zM-35.4 1291.4h89.0v18.3h-89.0zM70.8 1291.4h18.3v18.3h-18.3zM389.2 1291.4h18.3v18.3h-18.3zM459.9 1291.4h18.3v18.3h-18.3zM495.3 1291.4h18.3v18.3h-18.3zM17.7 1309.1h18.3v18.3h-18.3zM88.4 1309.1h36.0v18.3h-36.0zM530.7 1309.1h18.3v18.3h-18.3zM654.5 1309.1h18.3v18.3h-18.3zM106.1 1326.7h18.3v18.3h-18.3zM530.7 1326.7h36.0v18.3h-36.0zM17.7 1344.4h18.3v18.3h-18.3zM123.8 1344.4h18.3v18.3h-18.3zM636.8 1344.4h18.3v18.3h-18.3zM-35.4 1362.1h71.4v18.3h-71.4zM70.8 1362.1h53.7v18.3h-53.7zM548.4 1362.1h18.3v18.3h-18.3zM583.8 1362.1h18.3v18.3h-18.3zM636.8 1362.1h18.3v18.3h-18.3zM-35.4 1379.8h71.4v18.3h-71.4zM53.1 1379.8h36.0v18.3h-36.0zM566.1 1379.8h18.3v18.3h-18.3zM601.5 1379.8h53.7v18.3h-53.7zM-35.4 1397.5h106.7v18.3h-106.7zM566.1 1397.5h18.3v18.3h-18.3zM-35.4 1415.2h106.7v18.3h-106.7zM566.1 1415.2h18.3v18.3h-18.3zM-35.4 1432.9h106.7v18.3h-106.7zM566.1 1432.9h18.3v18.3h-18.3z"/>
<path fill="#878787" d="M141.5 1132.2h18.3v18.3h-18.3zM1132.2 1397.5h18.3v18.3h-18.3zM1132.2 1415.2h18.3v18.3h-18.3zM1132.2 1432.9h18.3v18.3h-18.3z"/>
<path fill="#888888" d="M35.4 937.6h18.3v18.3h-18.3zM141.5 1061.4h18.3v18.3h-18.3z"/>
<path fill="#898989" d="M53.1 937.6h18.3v18.3h-18.3z"/>
<path fill="#8a8a8a" d="M141.5 1114.5h18.3v18.3h-18.3z"/>
<path fill="#8b8b8b" d="M159.2 1079.1h18.3v18.3h-18.3zM123.8 1132.2h18.3v18.3h-18.3zM159.2 1132.2h18.3v18.3h-18.3zM884.5 1149.8h18.3v18.3h-18.3zM902.2 1167.5h18.3v18.3h-18.3zM919.9 1185.2h18.3v18.3h-18.3zM937.6 1202.9h18.3v18.3h-18.3zM955.3 1220.6h18.3v18.3h-18.3zM972.9 1238.3h18.3v18.3h-18.3zM990.6 1256.0h18.3v18.3h-18.3zM1008.3 1273.7h18.3v18.3h-18.3zM1026.0 1291.4h18.3v18.3h-18.3zM1043.7 1309.1h18.3v18.3h-18.3zM1061.4 1326.7h18.3v18.3h-18.3zM1079.1 1344.4h18.3v18.3h-18.3zM1096.8 1362.1h18.3v18.3h-18.3zM1114.5 1379.8h18.3v18.3h-18.3z"/>
<path fill="#8c8c8c" d="M866.8 1132.2h18.3v18.3h-18.3z"/>
<path fill="#8d8d8d" d="M176.9 1096.8h18.3v18.3h-18.3z"/>
<path fill="#8f8f8f" d="M141.5 1079.1h18.3v18.3h-18.3zM849.1 1114.5h18.3v18.3h-18.3zM654.5 1379.8h18.3v18.3h-18.3zM654.5 1397.5h18.3v18.3h-18.3zM654.5 1415.2h18.3v18.3h-18.3zM654.5 1432.9h18.3v18.3h-18.3z"/>
<path fill="#929292" d="M672.2 1397.5h18.3v18.3h-18.3zM672.2 1415.2h18.3v18.3h-18.3zM672.2 1432.9h18.3v18.3h-18.3z"/>
<path fill="#949494" d="M159.2 1096.8h18.3v18.3h-18.3z"/>
<path fill="#969696" d="M176.9 1114.5h18.3v18.3h-18.3z"/>
<path fill="#999999" d="M318.4 318.4h18.3v18.3h-18.3zM495.3 371.5h18.3v18.3h-18.3zM336.1 424.6h18.3v18.3h-18.3zM513.0 424.6h36.0v18.3h-36.0zM406.9 459.9h36.0v18.3h-36.0zM371.5 477.6h36.0v18.3h-36.0zM442.2 477.6h18.3v18.3h-18.3zM495.3 477.6h18.3v18.3h-18.3zM336.1 495.3h18.3v18.3h-18.3zM389.2 495.3h18.3v18.3h-18.3zM424.6 495.3h36.0v18.3h-36.0zM495.3 495.3h18.3v18.3h-18.3zM406.9 513.0h18.3v18.3h-18.3zM459.9 513.0h18.3v18.3h-18.3zM353.8 530.7h18.3v18.3h-18.3zM389.2 530.7h18.3v18.3h-18.3zM459.9 530.7h36.0v18.3h-36.0zM406.9 548.4h89.0v18.3h-89.0zM336.1 566.1h18.3v18.3h-18.3zM389.2 566.1h36.0v18.3h-36.0zM477.6 566.1h18.3v18.3h-18.3zM601.5 566.1h36.0v18.3h-36.0zM654.5 566.1h18.3v18.3h-18.3zM725.3 583.8h18.3v18.3h-18.3zM442.2 601.5h18.3v18.3h-18.3zM619.1 601.5h18.3v18.3h-18.3zM459.9 619.1h36.0v18.3h-36.0zM566.1 619.1h18.3v18.3h-18.3zM654.5 619.1h18.3v18.3h-18.3zM477.6 636.8h18.3v18.3h-18.3zM654.5 636.8h18.3v18.3h-18.3zM583.8 654.5h18.3v18.3h-18.3zM619.1 654.5h36.0v18.3h-36.0zM176.9 760.7h36.0v18.3h-36.0zM194.6 778.4h18.3v18.3h-18.3zM-35.4 866.8h89.0v18.3h-89.0zM-35.4 884.5h53.7v18.3h-53.7zM53.1 884.5h18.3v18.3h-18.3zM-35.4 902.2h53.7v18.3h-53.7zM53.1 902.2h18.3v18.3h-18.3zM-35.4 919.9h89.0v18.3h-89.0zM106.1 919.9h18.3v18.3h-18.3zM955.3 937.6h36.0v18.3h-36.0zM300.7 955.3h18.3v18.3h-18.3zM371.5 955.3h18.3v18.3h-18.3zM937.6 955.3h36.0v18.3h-36.0zM371.5 972.9h18.3v18.3h-18.3zM919.9 972.9h36.0v18.3h-36.0zM318.4 990.6h18.3v18.3h-18.3zM902.2 990.6h36.0v18.3h-36.0zM884.5 1008.3h36.0v18.3h-36.0zM-35.4 1026.0h53.7v18.3h-53.7zM849.1 1026.0h53.7v18.3h-53.7zM548.4 1043.7h18.3v18.3h-18.3zM831.4 1043.7h18.3v18.3h-18.3zM884.5 1043.7h18.3v18.3h-18.3zM17.7 1061.4h18.3v18.3h-18.3zM495.3 1061.4h53.7v18.3h-53.7zM813.7 1061.4h36.0v18.3h-36.0zM123.8 1079.1h18.3v18.3h-18.3zM459.9 1079.1h18.3v18.3h-18.3zM530.7 1079.1h18.3v18.3h-18.3zM813.7 1079.1h36.0v18.3h-36.0zM141.5 1096.8h18.3v18.3h-18.3zM406.9 1096.8h18.3v18.3h-18.3zM459.9 1096.8h36.0v18.3h-36.0zM813.7 1096.8h36.0v18.3h-36.0zM159.2 1114.5h18.3v18.3h-18.3zM477.6 1114.5h18.3v18.3h-18.3zM796.0 1114.5h53.7v18.3h-53.7zM106.1 1132.2h18.3v18.3h-18.3zM176.9 1132.2h18.3v18.3h-18.3zM831.4 1132.2h36.0v18.3h-36.0zM-35.4 1149.8h53.7v18.3h-53.7zM849.1 1149.8h36.0v18.3h-36.0zM866.8 1167.5h36.0v18.3h-36.0zM743.0 1185.2h18.3v18.3h-18.3zM884.5 1185.2h36.0v18.3h-36.0zM902.2 1202.9h36.0v18.3h-36.0zM689.9 1220.6h36.0v18.3h-36.0zM919.9 1220.6h36.0v18.3h-36.0zM-35.4 1238.3h53.7v18.3h-53.7zM689.9 1238.3h36.0v18.3h-36.0zM937.6 1238.3h36.0v18.3h-36.0zM-35.4 1256.0h71.4v18.3h-71.4zM495.3 1256.0h36.0v18.3h-36.0zM672.2 1256.0h36.0v18.3h-36.0zM955.3 1256.0h36.0v18.3h-36.0zM-35.4 1273.7h89.0v18.3h-89.0zM530.7 1273.7h18.3v18.3h-18.3zM672.2 1273.7h36.0v18.3h-36.0zM972.9 1273.7h36.0v18.3h-36.0zM53.1 1291.4h18.3v18.3h-18.3zM477.6 1291.4h18.3v18.3h-18.3zM513.0 1291.4h18.3v18.3h-18.3zM672.2 1291.4h53.7v18.3h-53.7zM990.6 1291.4h36.0v18.3h-36.0zM35.4 1309.1h53.7v18.3h-53.7zM672.2 1309.1h71.4v18.3h-71.4zM1008.3 1309.1h36.0v18.3h-36.0zM35.4 1326.7h71.4v18.3h-71.4zM389.2 1326.7h18.3v18.3h-18.3zM654.5 1326.7h106.7v18.3h-106.7zM1026.0 1326.7h36.0v18.3h-36.0zM35.4 1344.4h89.0v18.3h-89.0zM389.2 1344.4h18.3v18.3h-18.3zM548.4 1344.4h18.3v18.3h-18.3zM654.5 1344.4h124.4v18.3h-124.4zM1043.7 1344.4h36.0v18.3h-36.0zM35.4 1362.1h36.0v18.3h-36.0zM654.5 1362.1h142.1v18.3h-142.1zM1061.4 1362.1h36.0v18.3h-36.0zM35.4 1379.8h18.3v18.3h-18.3zM583.8 1379.8h18.3v18.3h-18.3zM672.2 1379.8h142.1v18.3h-142.1zM1079.1 1379.8h36.0v18.3h-36.0zM583.8 1397.5h71.4v18.3h-71.4zM689.9 1397.5h142.1v18.3h-142.1zM1096.8 1397.5h36.0v18.3h-36.0zM583.8 1415.2h71.4v18.3h-71.4zM689.9 1415.2h142.1v18.3h-142.1zM1096.8 1415.2h36.0v18.3h-36.0zM583.8 1432.9h71.4v18.3h-71.4zM689.9 1432.9h142.1v18.3h-142.1zM1096.8 1432.9h36.0v18.3h-36.0z"/>
<path fill="#a7a7a7" d="M707.6 1273.7h18.3v18.3h-18.3z"/>
<path fill="#aaaaaa" d="M725.3 1291.4h18.3v18.3h-18.3z"/>
<path fill="#ababab" d="M-35.4 1043.7h53.7v18.3h-53.7zM743.0 1309.1h18.3v18.3h-18.3zM760.7 1326.7h18.3v18.3h-18.3zM778.4 1344.4h18.3v18.3h-18.3zM796.0 1362.1h18.3v18.3h-18.3zM813.7 1379.8h18.3v18.3h-18.3z"/>
<path fill="#b1b1b1" d="M831.4 1397.5h18.3v18.3h-18.3zM831.4 1415.2h18.3v18.3h-18.3zM831.4 1432.9h18.3v18.3h-18.3z"/>
<path fill="#b4b4b4" d="M884.5 1202.9h18.3v18.3h-18.3zM902.2 1220.6h18.3v18.3h-18.3zM919.9 1238.3h18.3v18.3h-18.3zM725.3 1256.0h18.3v18.3h-18.3zM937.6 1256.0h18.3v18.3h-18.3zM955.3 1273.7h18.3v18.3h-18.3zM972.9 1291.4h18.3v18.3h-18.3zM990.6 1309.1h18.3v18.3h-18.3zM1008.3 1326.7h18.3v18.3h-18.3zM1026.0 1344.4h18.3v18.3h-18.3zM1043.7 1362.1h18.3v18.3h-18.3zM1061.4 1379.8h18.3v18.3h-18.3zM1079.1 1397.5h18.3v18.3h-18.3zM1079.1 1415.2h18.3v18.3h-18.3zM1079.1 1432.9h18.3v18.3h-18.3z"/>
<path fill="#b5b5b5" d="M866.8 1185.2h18.3v18.3h-18.3z"/>
<path fill="#b7b7b7" d="M849.1 1167.5h18.3v18.3h-18.3z"/>
<path fill="#bababa" d="M725.3 1238.3h18.3v18.3h-18.3z"/>
<path fill="#bdbdbd" d="M831.4 1149.8h18.3v18.3h-18.3z"/>
<path fill="#c2c2c2" d="M743.0 1273.7h18.3v18.3h-18.3z"/>
<path fill="#c5c5c5" d="M743.0 1256.0h18.3v18.3h-18.3z"/>
<path fill="#c8c8c8" d="M760.7 1291.4h18.3v18.3h-18.3z"/>
<path fill="#cbcbcb" d="M760.7 1273.7h18.3v18.3h-18.3z"/>
<path fill="#cccccc" d="M778.4 1309.1h18.3v18.3h-18.3z"/>
<path fill="#cdcdcd" d="M778.4 1291.4h18.3v18.3h-18.3zM796.0 1326.7h18.3v18.3h-18.3z"/>
<path fill="#cecece" d="M796.0 1309.1h18.3v18.3h-18.3zM813.7 1344.4h18.3v18.3h-18.3z"/>
<path fill="#cfcfcf" d="M318.4 424.6h18.3v18.3h-18.3zM318.4 442.2h18.3v18.3h-18.3zM353.8 477.6h18.3v18.3h-18.3zM406.9 477.6h36.0v18.3h-36.0zM353.8 495.3h36.0v18.3h-36.0zM406.9 495.3h18.3v18.3h-18.3zM353.8 513.0h53.7v18.3h-53.7zM371.5 530.7h18.3v18.3h-18.3zM353.8 566.1h18.3v18.3h-18.3zM672.2 566.1h18.3v18.3h-18.3zM707.6 566.1h18.3v18.3h-18.3zM601.5 583.8h106.7v18.3h-106.7zM583.8 601.5h36.0v18.3h-36.0zM636.8 601.5h36.0v18.3h-36.0zM583.8 619.1h71.4v18.3h-71.4zM583.8 636.8h71.4v18.3h-71.4zM601.5 654.5h18.3v18.3h-18.3zM17.7 884.5h36.0v18.3h-36.0zM17.7 902.2h36.0v18.3h-36.0zM318.4 955.3h18.3v18.3h-18.3zM300.7 972.9h36.0v18.3h-36.0zM-35.4 1008.3h71.4v18.3h-71.4zM17.7 1026.0h18.3v18.3h-18.3zM849.1 1043.7h36.0v18.3h-36.0zM-35.4 1061.4h53.7v18.3h-53.7zM-35.4 1079.1h53.7v18.3h-53.7zM796.0 1132.2h36.0v18.3h-36.0zM778.4 1149.8h53.7v18.3h-53.7zM760.7 1167.5h89.0v18.3h-89.0zM760.7 1185.2h106.7v18.3h-106.7zM725.3 1202.9h159.8v18.3h-159.8zM725.3 1220.6h177.5v18.3h-177.5zM743.0 1238.3h177.5v18.3h-177.5zM707.6 1256.0h18.3v18.3h-18.3zM760.7 1256.0h177.5v18.3h-177.5zM495.3 1273.7h18.3v18.3h-18.3zM725.3 1273.7h18.3v18.3h-18.3zM778.4 1273.7h177.5v18.3h-177.5zM743.0 1291.4h18.3v18.3h-18.3zM796.0 1291.4h177.5v18.3h-177.5zM760.7 1309.1h18.3v18.3h-18.3zM813.7 1309.1h177.5v18.3h-177.5zM778.4 1326.7h18.3v18.3h-18.3zM813.7 1326.7h195.2v18.3h-195.2zM796.0 1344.4h18.3v18.3h-18.3zM831.4 1344.4h195.2v18.3h-195.2zM813.7 1362.1h230.6v18.3h-230.6zM831.4 1379.8h230.6v18.3h-230.6zM849.1 1397.5h230.6v18.3h-230.6zM849.1 1415.2h230.6v18.3h-230.6zM849.1 1432.9h230.6v18.3h-230.6z"/>
</g>
</g>
<use href="#crisp"/>
<path d="M106.1 0V1415.2M247.7 0V1415.2M389.2 0V1415.2M530.7 0V1415.2M672.2 0V1415.2M813.7 0V1415.2M955.3 0V1415.2M1096.8 0V1415.2M1238.3 0V1415.2M1379.8 0V1415.2M0 141.5H1415.2M0 283.0H1415.2M0 424.6H1415.2M0 566.1H1415.2M0 707.6H1415.2M0 849.1H1415.2M0 990.6H1415.2M0 1132.2H1415.2M0 1273.7H1415.2" stroke="#b0b0b0" stroke-opacity="0.2" stroke-width="1.2" fill="none"/>
</g>
<rect x="0" y="0" width="1415.2" height="1415.2" fill="none" stroke="#262626" stroke-width="3.5"/>
</g>
<text x="101.6" y="173.87" text-anchor="end" font-size="31.4" fill="#000">13°N</text>
<text x="101.6" y="315.39" text-anchor="end" font-size="31.4" fill="#000">11°N</text>
<text x="101.6" y="456.91" text-anchor="end" font-size="31.4" fill="#000">9°N</text>
<text x="101.6" y="598.43" text-anchor="end" font-size="31.4" fill="#000">7°N</text>
<text x="101.6" y="739.95" text-anchor="end" font-size="31.4" fill="#000">5°N</text>
<text x="101.6" y="881.47" text-anchor="end" font-size="31.4" fill="#000">3°N</text>
<text x="101.6" y="1022.99" text-anchor="end" font-size="31.4" fill="#000">1°N</text>
<text x="101.6" y="1164.51" text-anchor="end" font-size="31.4" fill="#000">1°S</text>
<text x="101.6" y="1306.03" text-anchor="end" font-size="31.4" fill="#000">3°S</text>
<text x="101.6" y="1447.55" text-anchor="end" font-size="31.4" fill="#000">5°S</text>
<text x="215.04" y="1471.29" text-anchor="middle" font-size="31.4" fill="#000">31.5°E</text>
<text x="356.56" y="1471.29" text-anchor="middle" font-size="31.4" fill="#000">33.5°E</text>
<text x="498.08" y="1471.29" text-anchor="middle" font-size="31.4" fill="#000">35.5°E</text>
<text x="639.60" y="1471.29" text-anchor="middle" font-size="31.4" fill="#000">37.5°E</text>
<text x="781.12" y="1471.29" text-anchor="middle" font-size="31.4" fill="#000">39.5°E</text>
<text x="922.64" y="1471.29" text-anchor="middle" font-size="31.4" fill="#000">41.5°E</text>
<text x="1064.16" y="1471.29" text-anchor="middle" font-size="31.4" fill="#000">43.5°E</text>
<text x="1205.68" y="1471.29" text-anchor="middle" font-size="31.4" fill="#000">45.5°E</text>
<text x="1347.20" y="1471.29" text-anchor="middle" font-size="31.4" fill="#000">47.5°E</text>
<text x="1488.72" y="1471.29" text-anchor="middle" font-size="31.4" fill="#000">49.5°E</text>
<linearGradient id="cb0" gradientUnits="userSpaceOnUse" x1="0" y1="89.42" x2="0" y2="1375.78"><stop offset="0.0000" stop-color="#fcffa4"/><stop offset="0.0312" stop-color="#f3f68a"/><stop offset="0.0625" stop-color="#f2ea69"/><stop offset="0.0938" stop-color="#f5db4c"/><stop offset="0.1250" stop-color="#f9cb35"/><stop offset="0.1562" stop-color="#fbbc21"/><stop offset="0.1875" stop-color="#fcac11"/><stop offset="0.2188" stop-color="#fb9d07"/><stop offset="0.2500" stop-color="#f98e09"/><stop offset="0.2812" stop-color="#f68013"/><stop offset="0.3125" stop-color="#f1731d"/><stop offset="0.3438" stop-color="#eb6628"/><stop offset="0.3750" stop-color="#e45a31"/><stop offset="0.4062" stop-color="#db503b"/><stop offset="0.4375" stop-color="#d24644"/><stop offset="0.4688" stop-color="#c73e4c"/><stop offset="0.5000" stop-color="#bc3754"/><stop offset="0.5312" stop-color="#b0315b"/><stop offset="0.5625" stop-color="#a32c61"/><stop offset="0.5938" stop-color="#972766"/><stop offset="0.6250" stop-color="#8a226a"/><stop offset="0.6562" stop-color="#7d1e6d"/><stop offset="0.6875" stop-color="#71196e"/><stop offset="0.7188" stop-color="#64156e"/><stop offset="0.7500" stop-color="#57106e"/><stop offset="0.7812" stop-color="#4a0c6b"/><stop offset="0.8125" stop-color="#3d0965"/><stop offset="0.8438" stop-color="#2f0a5b"/><stop offset="0.8750" stop-color="#210c4a"/><stop offset="0.9062" stop-color="#150b37"/><stop offset="0.9375" stop-color="#0b0724"/><stop offset="0.9688" stop-color="#040312"/><stop offset="1.0000" stop-color="#000004"/></linearGradient>
<path d="M1654.5 89.42L1686.90 25.10L1719.3 89.42L1719.3 1375.78L1686.90 1440.10L1654.5 1375.78Z" fill="url(#cb0)" stroke="#262626" stroke-width="3.5" stroke-linejoin="miter" stroke-miterlimit="10"/>
<path d="M1721.0 1376.68h18" stroke="#262626" stroke-width="2.3" fill="none"/>
<text x="1751.3" y="1388.45" font-size="32.0" fill="#262626">2</text>
<path d="M1721.0 1215.89h18" stroke="#262626" stroke-width="2.3" fill="none"/>
<text x="1751.3" y="1227.65" font-size="32.0" fill="#262626">3</text>
<path d="M1721.0 1055.09h18" stroke="#262626" stroke-width="2.3" fill="none"/>
<text x="1751.3" y="1066.85" font-size="32.0" fill="#262626">4</text>
<path d="M1721.0 894.30h18" stroke="#262626" stroke-width="2.3" fill="none"/>
<text x="1751.3" y="906.06" font-size="32.0" fill="#262626">5</text>
<path d="M1721.0 733.50h18" stroke="#262626" stroke-width="2.3" fill="none"/>
<text x="1751.3" y="745.26" font-size="32.0" fill="#262626">6</text>
<path d="M1721.0 572.70h18" stroke="#262626" stroke-width="2.3" fill="none"/>
<text x="1751.3" y="584.47" font-size="32.0" fill="#262626">7</text>
<path d="M1721.0 411.91h18" stroke="#262626" stroke-width="2.3" fill="none"/>
<text x="1751.3" y="423.67" font-size="32.0" fill="#262626">8</text>
<path d="M1721.0 251.11h18" stroke="#262626" stroke-width="2.3" fill="none"/>
<text x="1751.3" y="262.88" font-size="32.0" fill="#262626">9</text>
<path d="M1721.0 90.32h18" stroke="#262626" stroke-width="2.3" fill="none"/>
<text x="1751.3" y="102.08" font-size="32.0" fill="#262626">10</text>
<text transform="translate(1831.8 731.20) rotate(-90)" text-anchor="middle" font-size="40.6" fill="#262626">Noise in NDVI time series [×100]</text>
<g transform="translate(108.9 1518.3)"><g clip-path="url(#axclip)">
<rect width="1415.2" height="1415.2" fill="#000004"/>
<g filter="url(#heat)">
<rect x="-60" y="-60" width="1535" height="1535" fill="#000"/>
<g filter="url(#soft)">
<path fill="#080808" d="M141.5 -35.4h18.3v18.3h-18.3zM689.9 -35.4h18.3v18.3h-18.3zM919.9 -35.4h18.3v18.3h-18.3zM1043.7 -35.4h18.3v18.3h-18.3zM141.5 -17.7h18.3v18.3h-18.3zM689.9 -17.7h18.3v18.3h-18.3zM919.9 -17.7h18.3v18.3h-18.3zM1043.7 -17.7h18.3v18.3h-18.3zM141.5 0.0h18.3v18.3h-18.3zM689.9 0.0h18.3v18.3h-18.3zM919.9 0.0h18.3v18.3h-18.3zM1043.7 0.0h18.3v18.3h-18.3zM141.5 17.7h18.3v18.3h-18.3zM689.9 17.7h18.3v18.3h-18.3zM919.9 17.7h18.3v18.3h-18.3zM1043.7 17.7h18.3v18.3h-18.3zM141.5 35.4h18.3v18.3h-18.3zM919.9 35.4h18.3v18.3h-18.3zM1043.7 35.4h18.3v18.3h-18.3zM141.5 53.1h18.3v18.3h-18.3zM919.9 53.1h18.3v18.3h-18.3zM955.3 88.4h18.3v18.3h-18.3zM831.4 106.1h18.3v18.3h-18.3zM813.7 123.8h36.0v18.3h-36.0zM955.3 123.8h18.3v18.3h-18.3zM35.4 141.5h18.3v18.3h-18.3zM1291.4 176.9h18.3v18.3h-18.3zM778.4 212.3h71.4v18.3h-71.4zM902.2 212.3h18.3v18.3h-18.3zM1326.7 212.3h18.3v18.3h-18.3zM831.4 230.0h18.3v18.3h-18.3zM884.5 230.0h18.3v18.3h-18.3zM725.3 247.7h36.0v18.3h-36.0zM778.4 247.7h18.3v18.3h-18.3zM831.4 247.7h18.3v18.3h-18.3zM1202.9 247.7h36.0v18.3h-36.0zM743.0 265.3h18.3v18.3h-18.3zM778.4 265.3h71.4v18.3h-71.4zM1167.5 265.3h18.3v18.3h-18.3zM1220.6 265.3h18.3v18.3h-18.3zM1273.7 265.3h18.3v18.3h-18.3zM1220.6 300.7h124.4v18.3h-124.4zM813.7 318.4h18.3v18.3h-18.3zM1061.4 318.4h36.0v18.3h-36.0zM902.2 353.8h18.3v18.3h-18.3zM1061.4 371.5h36.0v18.3h-36.0zM937.6 389.2h18.3v18.3h-18.3zM1061.4 459.9h36.0v18.3h-36.0zM972.9 495.3h89.0v18.3h-89.0zM1149.8 548.4h18.3v18.3h-18.3zM866.8 583.8h18.3v18.3h-18.3zM1114.5 583.8h18.3v18.3h-18.3zM1079.1 654.5h18.3v18.3h-18.3zM1273.7 672.2h18.3v18.3h-18.3zM1185.2 707.6h18.3v18.3h-18.3zM849.1 743.0h18.3v18.3h-18.3zM866.8 760.7h18.3v18.3h-18.3zM389.2 796.0h18.3v18.3h-18.3zM459.9 796.0h53.7v18.3h-53.7zM371.5 813.7h18.3v18.3h-18.3zM371.5 831.4h18.3v18.3h-18.3zM424.6 849.1h18.3v18.3h-18.3zM513.0 849.1h18.3v18.3h-18.3zM513.0 866.8h18.3v18.3h-18.3zM513.0 884.5h36.0v18.3h-36.0zM707.6 902.2h18.3v18.3h-18.3zM707.6 919.9h18.3v18.3h-18.3z"/>
<path fill="#090909" d="M141.5 70.8h18.3v18.3h-18.3zM1061.4 70.8h18.3v18.3h-18.3zM141.5 88.4h18.3v18.3h-18.3zM1061.4 88.4h36.0v18.3h-36.0zM1043.7 106.1h18.3v18.3h-18.3zM1026.0 123.8h36.0v18.3h-36.0zM-35.4 141.5h71.4v18.3h-71.4zM849.1 318.4h36.0v18.3h-36.0zM919.9 318.4h36.0v18.3h-36.0zM1096.8 318.4h36.0v18.3h-36.0zM1167.5 318.4h18.3v18.3h-18.3zM866.8 336.1h18.3v18.3h-18.3zM937.6 336.1h18.3v18.3h-18.3zM1114.5 336.1h18.3v18.3h-18.3zM1167.5 336.1h36.0v18.3h-36.0zM919.9 353.8h36.0v18.3h-36.0zM937.6 371.5h18.3v18.3h-18.3zM1167.5 495.3h36.0v18.3h-36.0zM1185.2 513.0h18.3v18.3h-18.3zM849.1 725.3h18.3v18.3h-18.3zM371.5 849.1h18.3v18.3h-18.3zM530.7 902.2h18.3v18.3h-18.3z"/>
<path fill="#0a0a0a" d="M1008.3 -35.4h18.3v18.3h-18.3zM1008.3 -17.7h18.3v18.3h-18.3zM1008.3 0.0h18.3v18.3h-18.3zM513.0 17.7h18.3v18.3h-18.3zM566.1 17.7h18.3v18.3h-18.3zM1008.3 35.4h18.3v18.3h-18.3zM955.3 53.1h18.3v18.3h-18.3zM955.3 70.8h18.3v18.3h-18.3zM990.6 123.8h36.0v18.3h-36.0zM725.3 212.3h18.3v18.3h-18.3zM725.3 230.0h18.3v18.3h-18.3zM1132.2 230.0h18.3v18.3h-18.3zM1273.7 230.0h18.3v18.3h-18.3zM1273.7 247.7h18.3v18.3h-18.3zM1326.7 247.7h18.3v18.3h-18.3zM1362.1 247.7h18.3v18.3h-18.3zM1344.4 265.3h36.0v18.3h-36.0zM849.1 353.8h18.3v18.3h-18.3zM849.1 530.7h18.3v18.3h-18.3zM849.1 548.4h18.3v18.3h-18.3zM902.2 601.5h18.3v18.3h-18.3zM972.9 636.8h18.3v18.3h-18.3zM919.9 654.5h36.0v18.3h-36.0zM1326.7 672.2h53.7v18.3h-53.7zM1362.1 689.9h18.3v18.3h-18.3zM1379.8 707.6h71.4v18.3h-71.4zM1397.5 725.3h53.7v18.3h-53.7zM1096.8 743.0h18.3v18.3h-18.3zM459.9 760.7h18.3v18.3h-18.3zM884.5 778.4h18.3v18.3h-18.3zM406.9 796.0h18.3v18.3h-18.3zM548.4 937.6h18.3v18.3h-18.3zM707.6 955.3h18.3v18.3h-18.3z"/>
<path fill="#0b0b0b" d="M548.4 -35.4h18.3v18.3h-18.3zM636.8 -35.4h36.0v18.3h-36.0zM972.9 -35.4h18.3v18.3h-18.3zM548.4 -17.7h18.3v18.3h-18.3zM636.8 -17.7h36.0v18.3h-36.0zM972.9 -17.7h18.3v18.3h-18.3zM548.4 0.0h18.3v18.3h-18.3zM636.8 0.0h36.0v18.3h-36.0zM972.9 0.0h18.3v18.3h-18.3zM530.7 17.7h18.3v18.3h-18.3zM972.9 17.7h18.3v18.3h-18.3zM495.3 35.4h36.0v18.3h-36.0zM689.9 35.4h18.3v18.3h-18.3zM654.5 53.1h18.3v18.3h-18.3zM689.9 53.1h18.3v18.3h-18.3zM689.9 70.8h18.3v18.3h-18.3zM937.6 70.8h18.3v18.3h-18.3zM1043.7 70.8h18.3v18.3h-18.3zM689.9 88.4h18.3v18.3h-18.3zM919.9 88.4h36.0v18.3h-36.0zM1043.7 88.4h18.3v18.3h-18.3zM689.9 106.1h18.3v18.3h-18.3zM919.9 106.1h36.0v18.3h-36.0zM919.9 123.8h18.3v18.3h-18.3zM70.8 141.5h36.0v18.3h-36.0zM1238.3 176.9h18.3v18.3h-18.3zM1273.7 176.9h18.3v18.3h-18.3zM1167.5 212.3h36.0v18.3h-36.0zM1273.7 212.3h18.3v18.3h-18.3zM902.2 230.0h18.3v18.3h-18.3zM1185.2 230.0h18.3v18.3h-18.3zM1238.3 230.0h18.3v18.3h-18.3zM1202.9 300.7h18.3v18.3h-18.3zM813.7 336.1h18.3v18.3h-18.3zM866.8 353.8h18.3v18.3h-18.3zM1079.1 566.1h18.3v18.3h-18.3zM849.1 583.8h18.3v18.3h-18.3zM884.5 583.8h18.3v18.3h-18.3zM1026.0 583.8h36.0v18.3h-36.0zM1079.1 583.8h18.3v18.3h-18.3zM849.1 601.5h18.3v18.3h-18.3zM955.3 619.1h53.7v18.3h-53.7zM902.2 636.8h18.3v18.3h-18.3zM990.6 636.8h36.0v18.3h-36.0zM1309.1 636.8h36.0v18.3h-36.0zM902.2 654.5h18.3v18.3h-18.3zM1326.7 654.5h18.3v18.3h-18.3zM1043.7 672.2h18.3v18.3h-18.3zM1309.1 672.2h18.3v18.3h-18.3zM902.2 689.9h18.3v18.3h-18.3zM990.6 689.9h18.3v18.3h-18.3zM1043.7 689.9h18.3v18.3h-18.3zM1132.2 707.6h36.0v18.3h-36.0zM1238.3 707.6h18.3v18.3h-18.3zM1362.1 707.6h18.3v18.3h-18.3zM1185.2 725.3h18.3v18.3h-18.3zM1397.5 743.0h53.7v18.3h-53.7zM424.6 760.7h18.3v18.3h-18.3zM1096.8 760.7h18.3v18.3h-18.3zM442.2 778.4h18.3v18.3h-18.3zM424.6 796.0h36.0v18.3h-36.0zM513.0 796.0h18.3v18.3h-18.3zM513.0 902.2h18.3v18.3h-18.3zM548.4 955.3h18.3v18.3h-18.3z"/>
<path fill="#0c0c0c" d="M566.1 35.4h71.4v18.3h-71.4zM636.8 53.1h18.3v18.3h-18.3zM1008.3 70.8h18.3v18.3h-18.3zM990.6 88.4h36.0v18.3h-36.0zM106.1 141.5h36.0v18.3h-36.0zM725.3 176.9h18.3v18.3h-18.3zM725.3 194.6h18.3v18.3h-18.3zM1238.3 194.6h18.3v18.3h-18.3zM1238.3 212.3h18.3v18.3h-18.3zM1309.1 247.7h18.3v18.3h-18.3zM760.7 318.4h18.3v18.3h-18.3zM919.9 495.3h36.0v18.3h-36.0zM1096.8 495.3h71.4v18.3h-71.4zM1096.8 513.0h18.3v18.3h-18.3zM1149.8 513.0h18.3v18.3h-18.3zM1079.1 530.7h18.3v18.3h-18.3zM1079.1 548.4h18.3v18.3h-18.3zM919.9 583.8h18.3v18.3h-18.3zM866.8 601.5h18.3v18.3h-18.3zM919.9 601.5h18.3v18.3h-18.3zM990.6 601.5h18.3v18.3h-18.3zM937.6 619.1h18.3v18.3h-18.3zM866.8 707.6h18.3v18.3h-18.3zM1043.7 707.6h36.0v18.3h-36.0zM1096.8 707.6h36.0v18.3h-36.0zM1273.7 707.6h18.3v18.3h-18.3zM1326.7 707.6h18.3v18.3h-18.3zM1043.7 725.3h71.4v18.3h-71.4zM1256.0 725.3h18.3v18.3h-18.3zM1291.4 725.3h18.3v18.3h-18.3zM831.4 743.0h18.3v18.3h-18.3zM1043.7 743.0h53.7v18.3h-53.7zM1132.2 743.0h18.3v18.3h-18.3zM406.9 760.7h18.3v18.3h-18.3zM1096.8 778.4h18.3v18.3h-18.3zM371.5 796.0h18.3v18.3h-18.3zM424.6 866.8h18.3v18.3h-18.3zM566.1 937.6h18.3v18.3h-18.3z"/>
<path fill="#0d0d0d" d="M-35.4 -35.4h177.5v18.3h-177.5zM477.6 -35.4h18.3v18.3h-18.3zM601.5 -35.4h36.0v18.3h-36.0zM707.6 -35.4h212.9v18.3h-212.9zM955.3 -35.4h18.3v18.3h-18.3zM990.6 -35.4h18.3v18.3h-18.3zM1061.4 -35.4h389.8v18.3h-389.8zM-35.4 -17.7h177.5v18.3h-177.5zM477.6 -17.7h18.3v18.3h-18.3zM601.5 -17.7h36.0v18.3h-36.0zM707.6 -17.7h212.9v18.3h-212.9zM955.3 -17.7h18.3v18.3h-18.3zM990.6 -17.7h18.3v18.3h-18.3zM1061.4 -17.7h389.8v18.3h-389.8zM-35.4 0.0h177.5v18.3h-177.5zM477.6 0.0h18.3v18.3h-18.3zM601.5 0.0h36.0v18.3h-36.0zM707.6 0.0h212.9v18.3h-212.9zM955.3 0.0h18.3v18.3h-18.3zM990.6 0.0h18.3v18.3h-18.3zM1061.4 0.0h389.8v18.3h-389.8zM-35.4 17.7h177.5v18.3h-177.5zM477.6 17.7h18.3v18.3h-18.3zM601.5 17.7h36.0v18.3h-36.0zM707.6 17.7h212.9v18.3h-212.9zM1008.3 17.7h18.3v18.3h-18.3zM1061.4 17.7h389.8v18.3h-389.8zM-35.4 35.4h177.5v18.3h-177.5zM477.6 35.4h18.3v18.3h-18.3zM530.7 35.4h36.0v18.3h-36.0zM707.6 35.4h212.9v18.3h-212.9zM955.3 35.4h18.3v18.3h-18.3zM990.6 35.4h18.3v18.3h-18.3zM1061.4 35.4h389.8v18.3h-389.8zM-35.4 53.1h177.5v18.3h-177.5zM707.6 53.1h212.9v18.3h-212.9zM972.9 53.1h18.3v18.3h-18.3zM1008.3 53.1h18.3v18.3h-18.3zM1061.4 53.1h389.8v18.3h-389.8zM-35.4 70.8h177.5v18.3h-177.5zM654.5 70.8h18.3v18.3h-18.3zM707.6 70.8h212.9v18.3h-212.9zM1096.8 70.8h354.4v18.3h-354.4zM-35.4 88.4h177.5v18.3h-177.5zM159.2 88.4h18.3v18.3h-18.3zM654.5 88.4h18.3v18.3h-18.3zM707.6 88.4h212.9v18.3h-212.9zM1096.8 88.4h354.4v18.3h-354.4zM-35.4 106.1h195.2v18.3h-195.2zM654.5 106.1h18.3v18.3h-18.3zM707.6 106.1h106.7v18.3h-106.7zM849.1 106.1h71.4v18.3h-71.4zM955.3 106.1h18.3v18.3h-18.3zM1008.3 106.1h18.3v18.3h-18.3zM1061.4 106.1h389.8v18.3h-389.8zM-35.4 123.8h195.2v18.3h-195.2zM725.3 123.8h89.0v18.3h-89.0zM849.1 123.8h71.4v18.3h-71.4zM972.9 123.8h18.3v18.3h-18.3zM1061.4 123.8h389.8v18.3h-389.8zM141.5 141.5h18.3v18.3h-18.3zM743.0 141.5h708.2v18.3h-708.2zM-35.4 159.2h53.7v18.3h-53.7zM743.0 159.2h708.2v18.3h-708.2zM743.0 176.9h495.9v18.3h-495.9zM1256.0 176.9h18.3v18.3h-18.3zM1309.1 176.9h142.1v18.3h-142.1zM743.0 194.6h495.9v18.3h-495.9zM1309.1 194.6h142.1v18.3h-142.1zM743.0 212.3h36.0v18.3h-36.0zM849.1 212.3h36.0v18.3h-36.0zM919.9 212.3h248.3v18.3h-248.3zM1202.9 212.3h36.0v18.3h-36.0zM1309.1 212.3h18.3v18.3h-18.3zM1344.4 212.3h106.7v18.3h-106.7zM743.0 230.0h36.0v18.3h-36.0zM849.1 230.0h36.0v18.3h-36.0zM919.9 230.0h212.9v18.3h-212.9zM1202.9 230.0h36.0v18.3h-36.0zM1256.0 230.0h18.3v18.3h-18.3zM1344.4 230.0h106.7v18.3h-106.7zM849.1 247.7h354.4v18.3h-354.4zM1238.3 247.7h36.0v18.3h-36.0zM1379.8 247.7h71.4v18.3h-71.4zM849.1 265.3h319.0v18.3h-319.0zM1238.3 265.3h36.0v18.3h-36.0zM1379.8 265.3h71.4v18.3h-71.4zM760.7 283.0h442.8v18.3h-442.8zM1344.4 283.0h106.7v18.3h-106.7zM760.7 300.7h442.8v18.3h-442.8zM1344.4 300.7h106.7v18.3h-106.7zM778.4 318.4h36.0v18.3h-36.0zM884.5 318.4h36.0v18.3h-36.0zM955.3 318.4h106.7v18.3h-106.7zM1132.2 318.4h36.0v18.3h-36.0zM1202.9 318.4h248.3v18.3h-248.3zM760.7 336.1h18.3v18.3h-18.3zM884.5 336.1h36.0v18.3h-36.0zM955.3 336.1h106.7v18.3h-106.7zM1132.2 336.1h36.0v18.3h-36.0zM1202.9 336.1h248.3v18.3h-248.3zM884.5 353.8h18.3v18.3h-18.3zM955.3 353.8h106.7v18.3h-106.7zM1096.8 353.8h354.4v18.3h-354.4zM955.3 371.5h106.7v18.3h-106.7zM1096.8 371.5h354.4v18.3h-354.4zM955.3 389.2h495.9v18.3h-495.9zM955.3 406.9h495.9v18.3h-495.9zM937.6 424.6h513.6v18.3h-513.6zM937.6 442.2h513.6v18.3h-513.6zM937.6 459.9h124.4v18.3h-124.4zM1096.8 459.9h354.4v18.3h-354.4zM902.2 477.6h159.8v18.3h-159.8zM1096.8 477.6h354.4v18.3h-354.4zM884.5 495.3h18.3v18.3h-18.3zM1061.4 495.3h36.0v18.3h-36.0zM1202.9 495.3h248.3v18.3h-248.3zM937.6 513.0h18.3v18.3h-18.3zM1079.1 513.0h18.3v18.3h-18.3zM1202.9 513.0h248.3v18.3h-248.3zM1096.8 530.7h36.0v18.3h-36.0zM1167.5 530.7h283.6v18.3h-283.6zM1096.8 548.4h36.0v18.3h-36.0zM1167.5 548.4h283.6v18.3h-283.6zM919.9 566.1h18.3v18.3h-18.3zM1132.2 566.1h319.0v18.3h-319.0zM1008.3 583.8h18.3v18.3h-18.3zM1132.2 583.8h319.0v18.3h-319.0zM884.5 601.5h18.3v18.3h-18.3zM937.6 601.5h18.3v18.3h-18.3zM1026.0 601.5h425.2v18.3h-425.2zM902.2 619.1h18.3v18.3h-18.3zM1026.0 619.1h425.2v18.3h-425.2zM919.9 636.8h18.3v18.3h-18.3zM1026.0 636.8h36.0v18.3h-36.0zM1096.8 636.8h212.9v18.3h-212.9zM1344.4 636.8h106.7v18.3h-106.7zM1026.0 654.5h36.0v18.3h-36.0zM1096.8 654.5h212.9v18.3h-212.9zM1344.4 654.5h106.7v18.3h-106.7zM902.2 672.2h89.0v18.3h-89.0zM1061.4 672.2h212.9v18.3h-212.9zM1379.8 672.2h71.4v18.3h-71.4zM1061.4 689.9h212.9v18.3h-212.9zM1291.4 689.9h18.3v18.3h-18.3zM1379.8 689.9h71.4v18.3h-71.4zM849.1 707.6h18.3v18.3h-18.3zM1202.9 707.6h36.0v18.3h-36.0zM1309.1 707.6h18.3v18.3h-18.3zM1344.4 707.6h18.3v18.3h-18.3zM831.4 725.3h18.3v18.3h-18.3zM884.5 725.3h18.3v18.3h-18.3zM1309.1 725.3h36.0v18.3h-36.0zM1362.1 725.3h18.3v18.3h-18.3zM884.5 743.0h18.3v18.3h-18.3zM1114.5 743.0h18.3v18.3h-18.3zM1291.4 743.0h106.7v18.3h-106.7zM442.2 760.7h18.3v18.3h-18.3zM884.5 760.7h18.3v18.3h-18.3zM1309.1 760.7h71.4v18.3h-71.4zM1397.5 760.7h53.7v18.3h-53.7zM866.8 778.4h18.3v18.3h-18.3zM1326.7 778.4h124.4v18.3h-124.4zM1344.4 796.0h106.7v18.3h-106.7zM389.2 813.7h124.4v18.3h-124.4zM1362.1 813.7h89.0v18.3h-89.0zM389.2 831.4h53.7v18.3h-53.7zM1379.8 831.4h71.4v18.3h-71.4zM389.2 849.1h36.0v18.3h-36.0zM1397.5 849.1h53.7v18.3h-53.7zM371.5 866.8h18.3v18.3h-18.3zM530.7 866.8h18.3v18.3h-18.3zM654.5 902.2h53.7v18.3h-53.7zM654.5 919.9h53.7v18.3h-53.7zM583.8 937.6h18.3v18.3h-18.3zM689.9 937.6h36.0v18.3h-36.0zM566.1 955.3h18.3v18.3h-18.3zM689.9 955.3h18.3v18.3h-18.3z"/>
<path fill="#0e0e0e" d="M495.3 -35.4h53.7v18.3h-53.7zM566.1 -35.4h36.0v18.3h-36.0zM495.3 -17.7h53.7v18.3h-53.7zM566.1 -17.7h36.0v18.3h-36.0zM495.3 0.0h53.7v18.3h-53.7zM566.1 0.0h36.0v18.3h-36.0zM495.3 17.7h18.3v18.3h-18.3zM583.8 17.7h18.3v18.3h-18.3zM636.8 35.4h53.7v18.3h-53.7zM1026.0 35.4h18.3v18.3h-18.3zM1043.7 53.1h18.3v18.3h-18.3zM672.2 70.8h18.3v18.3h-18.3zM1026.0 70.8h18.3v18.3h-18.3zM672.2 106.1h18.3v18.3h-18.3zM707.6 123.8h18.3v18.3h-18.3zM53.1 141.5h18.3v18.3h-18.3zM1326.7 230.0h18.3v18.3h-18.3zM1309.1 265.3h36.0v18.3h-36.0zM1202.9 283.0h18.3v18.3h-18.3zM919.9 459.9h18.3v18.3h-18.3zM866.8 513.0h18.3v18.3h-18.3zM1061.4 513.0h18.3v18.3h-18.3zM1149.8 530.7h18.3v18.3h-18.3zM1132.2 548.4h18.3v18.3h-18.3zM902.2 583.8h18.3v18.3h-18.3zM990.6 583.8h18.3v18.3h-18.3zM955.3 636.8h18.3v18.3h-18.3zM955.3 654.5h36.0v18.3h-36.0zM990.6 672.2h18.3v18.3h-18.3zM1026.0 672.2h18.3v18.3h-18.3zM1291.4 672.2h18.3v18.3h-18.3zM1326.7 689.9h18.3v18.3h-18.3zM884.5 707.6h18.3v18.3h-18.3zM1291.4 707.6h18.3v18.3h-18.3zM1273.7 725.3h18.3v18.3h-18.3zM1344.4 725.3h18.3v18.3h-18.3zM902.2 743.0h18.3v18.3h-18.3zM1273.7 743.0h18.3v18.3h-18.3zM902.2 760.7h18.3v18.3h-18.3zM1291.4 760.7h18.3v18.3h-18.3zM1379.8 760.7h18.3v18.3h-18.3zM902.2 778.4h18.3v18.3h-18.3zM442.2 831.4h18.3v18.3h-18.3zM495.3 831.4h18.3v18.3h-18.3zM672.2 866.8h18.3v18.3h-18.3zM672.2 884.5h36.0v18.3h-36.0zM636.8 919.9h18.3v18.3h-18.3zM672.2 937.6h18.3v18.3h-18.3zM743.0 1043.7h18.3v18.3h-18.3z"/>
<path fill="#0f0f0f" d="M548.4 17.7h18.3v18.3h-18.3zM636.8 17.7h36.0v18.3h-36.0zM672.2 53.1h18.3v18.3h-18.3zM990.6 70.8h18.3v18.3h-18.3zM672.2 88.4h18.3v18.3h-18.3zM1026.0 88.4h18.3v18.3h-18.3zM689.9 123.8h18.3v18.3h-18.3zM689.9 141.5h53.7v18.3h-53.7zM725.3 159.2h18.3v18.3h-18.3zM1256.0 194.6h18.3v18.3h-18.3zM1256.0 212.3h18.3v18.3h-18.3zM1291.4 212.3h18.3v18.3h-18.3zM1149.8 230.0h18.3v18.3h-18.3zM725.3 265.3h18.3v18.3h-18.3zM831.4 353.8h18.3v18.3h-18.3zM937.6 406.9h18.3v18.3h-18.3zM955.3 495.3h18.3v18.3h-18.3zM831.4 548.4h18.3v18.3h-18.3zM831.4 566.1h18.3v18.3h-18.3zM902.2 566.1h18.3v18.3h-18.3zM1096.8 566.1h36.0v18.3h-36.0zM1061.4 583.8h18.3v18.3h-18.3zM1096.8 583.8h18.3v18.3h-18.3zM1008.3 601.5h18.3v18.3h-18.3zM1008.3 619.1h18.3v18.3h-18.3zM1061.4 636.8h36.0v18.3h-36.0zM990.6 654.5h36.0v18.3h-36.0zM1061.4 654.5h18.3v18.3h-18.3zM1256.0 707.6h18.3v18.3h-18.3zM1132.2 725.3h18.3v18.3h-18.3zM919.9 743.0h18.3v18.3h-18.3zM919.9 760.7h18.3v18.3h-18.3zM1309.1 778.4h18.3v18.3h-18.3zM1326.7 796.0h18.3v18.3h-18.3zM1344.4 813.7h18.3v18.3h-18.3zM530.7 831.4h18.3v18.3h-18.3zM1362.1 831.4h18.3v18.3h-18.3zM1379.8 849.1h18.3v18.3h-18.3zM707.6 884.5h18.3v18.3h-18.3zM707.6 972.9h18.3v18.3h-18.3zM707.6 990.6h18.3v18.3h-18.3zM707.6 1061.4h18.3v18.3h-18.3z"/>
<path fill="#101010" d="M990.6 17.7h18.3v18.3h-18.3zM972.9 35.4h18.3v18.3h-18.3zM495.3 53.1h36.0v18.3h-36.0zM619.1 53.1h18.3v18.3h-18.3zM990.6 53.1h18.3v18.3h-18.3zM707.6 159.2h18.3v18.3h-18.3zM1273.7 194.6h36.0v18.3h-36.0zM1291.4 230.0h18.3v18.3h-18.3zM725.3 283.0h18.3v18.3h-18.3zM902.2 495.3h18.3v18.3h-18.3zM884.5 513.0h36.0v18.3h-36.0zM1114.5 513.0h36.0v18.3h-36.0zM919.9 530.7h36.0v18.3h-36.0zM1061.4 530.7h18.3v18.3h-18.3zM919.9 548.4h18.3v18.3h-18.3zM1061.4 566.1h18.3v18.3h-18.3zM937.6 583.8h18.3v18.3h-18.3zM919.9 619.1h18.3v18.3h-18.3zM1026.0 689.9h18.3v18.3h-18.3zM1309.1 689.9h18.3v18.3h-18.3zM1026.0 707.6h18.3v18.3h-18.3zM1079.1 707.6h18.3v18.3h-18.3zM1114.5 725.3h18.3v18.3h-18.3zM1149.8 725.3h18.3v18.3h-18.3zM1149.8 743.0h18.3v18.3h-18.3zM831.4 760.7h18.3v18.3h-18.3zM1079.1 760.7h18.3v18.3h-18.3zM371.5 778.4h18.3v18.3h-18.3zM406.9 778.4h18.3v18.3h-18.3zM353.8 849.1h18.3v18.3h-18.3zM442.2 849.1h18.3v18.3h-18.3zM1397.5 866.8h53.7v18.3h-53.7zM548.4 919.9h18.3v18.3h-18.3zM548.4 972.9h18.3v18.3h-18.3zM707.6 1008.3h18.3v18.3h-18.3zM707.6 1026.0h36.0v18.3h-36.0zM707.6 1043.7h36.0v18.3h-36.0z"/>
<path fill="#111111" d="M955.3 17.7h18.3v18.3h-18.3zM477.6 53.1h18.3v18.3h-18.3zM530.7 53.1h18.3v18.3h-18.3zM566.1 53.1h18.3v18.3h-18.3zM495.3 70.8h36.0v18.3h-36.0zM636.8 70.8h18.3v18.3h-18.3zM919.9 70.8h18.3v18.3h-18.3zM972.9 70.8h18.3v18.3h-18.3zM972.9 88.4h18.3v18.3h-18.3zM990.6 106.1h18.3v18.3h-18.3zM937.6 123.8h18.3v18.3h-18.3zM123.8 159.2h18.3v18.3h-18.3zM707.6 176.9h18.3v18.3h-18.3zM1167.5 230.0h18.3v18.3h-18.3zM1291.4 265.3h18.3v18.3h-18.3zM743.0 283.0h18.3v18.3h-18.3zM1256.0 283.0h18.3v18.3h-18.3zM1061.4 336.1h18.3v18.3h-18.3zM919.9 442.2h18.3v18.3h-18.3zM902.2 459.9h18.3v18.3h-18.3zM884.5 477.6h18.3v18.3h-18.3zM866.8 495.3h18.3v18.3h-18.3zM849.1 513.0h18.3v18.3h-18.3zM919.9 513.0h18.3v18.3h-18.3zM902.2 530.7h18.3v18.3h-18.3zM902.2 548.4h18.3v18.3h-18.3zM937.6 636.8h18.3v18.3h-18.3zM1309.1 654.5h18.3v18.3h-18.3zM884.5 689.9h18.3v18.3h-18.3zM919.9 689.9h18.3v18.3h-18.3zM902.2 707.6h18.3v18.3h-18.3zM1008.3 707.6h18.3v18.3h-18.3zM902.2 725.3h18.3v18.3h-18.3zM1220.6 725.3h18.3v18.3h-18.3zM1026.0 743.0h18.3v18.3h-18.3zM1256.0 743.0h18.3v18.3h-18.3zM849.1 778.4h18.3v18.3h-18.3zM459.9 831.4h36.0v18.3h-36.0zM513.0 831.4h18.3v18.3h-18.3zM459.9 849.1h18.3v18.3h-18.3zM530.7 849.1h18.3v18.3h-18.3zM654.5 884.5h18.3v18.3h-18.3zM636.8 902.2h18.3v18.3h-18.3zM619.1 919.9h18.3v18.3h-18.3zM601.5 937.6h18.3v18.3h-18.3zM654.5 937.6h18.3v18.3h-18.3zM583.8 955.3h18.3v18.3h-18.3zM672.2 955.3h18.3v18.3h-18.3zM689.9 972.9h18.3v18.3h-18.3z"/>
<path fill="#121212" d="M459.9 -35.4h18.3v18.3h-18.3zM459.9 -17.7h18.3v18.3h-18.3zM459.9 0.0h18.3v18.3h-18.3zM459.9 17.7h18.3v18.3h-18.3zM459.9 35.4h18.3v18.3h-18.3zM548.4 53.1h18.3v18.3h-18.3zM1026.0 53.1h18.3v18.3h-18.3zM636.8 88.4h18.3v18.3h-18.3zM159.2 106.1h18.3v18.3h-18.3zM636.8 106.1h18.3v18.3h-18.3zM159.2 123.8h18.3v18.3h-18.3zM654.5 123.8h18.3v18.3h-18.3zM159.2 141.5h18.3v18.3h-18.3zM141.5 159.2h18.3v18.3h-18.3zM689.9 159.2h18.3v18.3h-18.3zM1309.1 230.0h18.3v18.3h-18.3zM1291.4 247.7h18.3v18.3h-18.3zM1220.6 283.0h18.3v18.3h-18.3zM1326.7 283.0h18.3v18.3h-18.3zM743.0 300.7h18.3v18.3h-18.3zM778.4 336.1h36.0v18.3h-36.0zM796.0 353.8h36.0v18.3h-36.0zM919.9 424.6h18.3v18.3h-18.3zM1132.2 530.7h18.3v18.3h-18.3zM831.4 583.8h18.3v18.3h-18.3zM831.4 601.5h18.3v18.3h-18.3zM884.5 619.1h18.3v18.3h-18.3zM1008.3 672.2h18.3v18.3h-18.3zM937.6 689.9h53.7v18.3h-53.7zM1008.3 689.9h18.3v18.3h-18.3zM1202.9 725.3h18.3v18.3h-18.3zM1238.3 725.3h18.3v18.3h-18.3zM406.9 743.0h18.3v18.3h-18.3zM813.7 743.0h18.3v18.3h-18.3zM1185.2 743.0h36.0v18.3h-36.0zM389.2 760.7h18.3v18.3h-18.3zM477.6 760.7h18.3v18.3h-18.3zM1273.7 760.7h18.3v18.3h-18.3zM424.6 778.4h18.3v18.3h-18.3zM1291.4 778.4h18.3v18.3h-18.3zM353.8 796.0h18.3v18.3h-18.3zM866.8 796.0h18.3v18.3h-18.3zM1309.1 796.0h18.3v18.3h-18.3zM513.0 813.7h18.3v18.3h-18.3zM1344.4 831.4h18.3v18.3h-18.3zM389.2 866.8h36.0v18.3h-36.0zM689.9 866.8h18.3v18.3h-18.3zM1379.8 866.8h18.3v18.3h-18.3zM371.5 884.5h18.3v18.3h-18.3zM619.1 937.6h36.0v18.3h-36.0zM566.1 972.9h18.3v18.3h-18.3zM743.0 1026.0h18.3v18.3h-18.3zM725.3 1061.4h18.3v18.3h-18.3zM707.6 1079.1h18.3v18.3h-18.3z"/>
<path fill="#131313" d="M672.2 -35.4h18.3v18.3h-18.3zM1026.0 -35.4h18.3v18.3h-18.3zM672.2 -17.7h18.3v18.3h-18.3zM1026.0 -17.7h18.3v18.3h-18.3zM672.2 0.0h18.3v18.3h-18.3zM1026.0 0.0h18.3v18.3h-18.3zM672.2 17.7h18.3v18.3h-18.3zM1026.0 17.7h18.3v18.3h-18.3zM937.6 35.4h18.3v18.3h-18.3zM937.6 53.1h18.3v18.3h-18.3zM689.9 176.9h18.3v18.3h-18.3zM689.9 194.6h18.3v18.3h-18.3zM689.9 212.3h36.0v18.3h-36.0zM760.7 247.7h18.3v18.3h-18.3zM760.7 265.3h18.3v18.3h-18.3zM1185.2 265.3h18.3v18.3h-18.3zM1273.7 283.0h36.0v18.3h-36.0zM725.3 318.4h18.3v18.3h-18.3zM831.4 318.4h18.3v18.3h-18.3zM1061.4 353.8h36.0v18.3h-36.0zM1061.4 477.6h36.0v18.3h-36.0zM831.4 530.7h18.3v18.3h-18.3zM866.8 566.1h36.0v18.3h-36.0zM1008.3 566.1h18.3v18.3h-18.3zM1043.7 566.1h18.3v18.3h-18.3zM955.3 601.5h36.0v18.3h-36.0zM884.5 636.8h18.3v18.3h-18.3zM1273.7 689.9h18.3v18.3h-18.3zM1167.5 707.6h18.3v18.3h-18.3zM424.6 743.0h36.0v18.3h-36.0zM866.8 743.0h18.3v18.3h-18.3zM1238.3 743.0h18.3v18.3h-18.3zM495.3 760.7h18.3v18.3h-18.3zM1043.7 760.7h18.3v18.3h-18.3zM1114.5 760.7h18.3v18.3h-18.3zM1256.0 760.7h18.3v18.3h-18.3zM459.9 778.4h18.3v18.3h-18.3zM884.5 796.0h18.3v18.3h-18.3zM1326.7 813.7h18.3v18.3h-18.3zM1362.1 849.1h18.3v18.3h-18.3zM548.4 866.8h18.3v18.3h-18.3zM654.5 866.8h18.3v18.3h-18.3zM619.1 902.2h18.3v18.3h-18.3zM513.0 919.9h18.3v18.3h-18.3zM583.8 919.9h36.0v18.3h-36.0zM601.5 955.3h18.3v18.3h-18.3zM654.5 955.3h18.3v18.3h-18.3zM725.3 1008.3h18.3v18.3h-18.3z"/>
<path fill="#141414" d="M937.6 -35.4h18.3v18.3h-18.3zM937.6 -17.7h18.3v18.3h-18.3zM937.6 0.0h18.3v18.3h-18.3zM937.6 17.7h18.3v18.3h-18.3zM35.4 159.2h18.3v18.3h-18.3zM778.4 230.0h36.0v18.3h-36.0zM707.6 247.7h18.3v18.3h-18.3zM1344.4 247.7h18.3v18.3h-18.3zM919.9 389.2h18.3v18.3h-18.3zM955.3 513.0h18.3v18.3h-18.3zM866.8 530.7h18.3v18.3h-18.3zM1061.4 548.4h18.3v18.3h-18.3zM866.8 636.8h18.3v18.3h-18.3zM1344.4 689.9h18.3v18.3h-18.3zM831.4 707.6h18.3v18.3h-18.3zM955.3 707.6h53.7v18.3h-53.7zM813.7 725.3h18.3v18.3h-18.3zM459.9 743.0h18.3v18.3h-18.3zM1132.2 760.7h18.3v18.3h-18.3zM1220.6 760.7h18.3v18.3h-18.3zM389.2 778.4h18.3v18.3h-18.3zM919.9 778.4h18.3v18.3h-18.3zM1114.5 778.4h18.3v18.3h-18.3zM459.9 884.5h18.3v18.3h-18.3zM725.3 902.2h18.3v18.3h-18.3zM530.7 919.9h18.3v18.3h-18.3zM725.3 955.3h18.3v18.3h-18.3zM725.3 972.9h18.3v18.3h-18.3zM743.0 1061.4h18.3v18.3h-18.3z"/>
<path fill="#151515" d="M972.9 106.1h18.3v18.3h-18.3zM672.2 123.8h18.3v18.3h-18.3zM70.8 159.2h36.0v18.3h-36.0zM654.5 424.6h18.3v18.3h-18.3zM636.8 442.2h18.3v18.3h-18.3zM831.4 513.0h18.3v18.3h-18.3zM990.6 530.7h18.3v18.3h-18.3zM1026.0 566.1h18.3v18.3h-18.3zM884.5 654.5h18.3v18.3h-18.3zM424.6 689.9h18.3v18.3h-18.3zM1379.8 725.3h18.3v18.3h-18.3zM849.1 760.7h18.3v18.3h-18.3zM477.6 778.4h18.3v18.3h-18.3zM1096.8 796.0h18.3v18.3h-18.3zM389.2 884.5h36.0v18.3h-36.0zM1397.5 884.5h53.7v18.3h-53.7zM459.9 902.2h18.3v18.3h-18.3zM442.2 919.9h36.0v18.3h-36.0zM725.3 990.6h18.3v18.3h-18.3z"/>
<path fill="#161616" d="M583.8 53.1h36.0v18.3h-36.0zM1079.1 70.8h18.3v18.3h-18.3zM176.9 106.1h18.3v18.3h-18.3zM813.7 106.1h18.3v18.3h-18.3zM1026.0 106.1h18.3v18.3h-18.3zM176.9 123.8h18.3v18.3h-18.3zM106.1 159.2h18.3v18.3h-18.3zM707.6 194.6h18.3v18.3h-18.3zM884.5 212.3h18.3v18.3h-18.3zM813.7 230.0h18.3v18.3h-18.3zM796.0 247.7h36.0v18.3h-36.0zM1202.9 265.3h18.3v18.3h-18.3zM1238.3 283.0h18.3v18.3h-18.3zM1309.1 283.0h18.3v18.3h-18.3zM743.0 318.4h18.3v18.3h-18.3zM1185.2 318.4h18.3v18.3h-18.3zM919.9 336.1h18.3v18.3h-18.3zM1079.1 336.1h36.0v18.3h-36.0zM902.2 371.5h18.3v18.3h-18.3zM902.2 389.2h18.3v18.3h-18.3zM919.9 406.9h18.3v18.3h-18.3zM902.2 442.2h18.3v18.3h-18.3zM866.8 477.6h18.3v18.3h-18.3zM972.9 513.0h18.3v18.3h-18.3zM1167.5 513.0h18.3v18.3h-18.3zM955.3 530.7h18.3v18.3h-18.3zM1043.7 530.7h18.3v18.3h-18.3zM813.7 548.4h18.3v18.3h-18.3zM937.6 548.4h18.3v18.3h-18.3zM937.6 566.1h18.3v18.3h-18.3zM955.3 583.8h36.0v18.3h-36.0zM866.8 689.9h18.3v18.3h-18.3zM866.8 725.3h18.3v18.3h-18.3zM1026.0 725.3h18.3v18.3h-18.3zM1149.8 760.7h18.3v18.3h-18.3zM1079.1 778.4h18.3v18.3h-18.3zM1149.8 778.4h18.3v18.3h-18.3zM1079.1 902.2h18.3v18.3h-18.3zM707.6 1096.8h18.3v18.3h-18.3z"/>
<path fill="#171717" d="M459.9 53.1h18.3v18.3h-18.3zM495.3 88.4h36.0v18.3h-36.0zM636.8 123.8h18.3v18.3h-18.3zM159.2 159.2h18.3v18.3h-18.3zM689.9 247.7h18.3v18.3h-18.3zM884.5 459.9h18.3v18.3h-18.3zM849.1 495.3h18.3v18.3h-18.3zM566.1 566.1h18.3v18.3h-18.3zM884.5 672.2h18.3v18.3h-18.3zM389.2 743.0h18.3v18.3h-18.3zM318.4 760.7h18.3v18.3h-18.3zM1061.4 760.7h18.3v18.3h-18.3zM530.7 778.4h18.3v18.3h-18.3zM1273.7 778.4h18.3v18.3h-18.3zM849.1 796.0h18.3v18.3h-18.3zM1291.4 796.0h18.3v18.3h-18.3zM548.4 849.1h36.0v18.3h-36.0zM636.8 884.5h18.3v18.3h-18.3zM566.1 919.9h18.3v18.3h-18.3zM530.7 937.6h18.3v18.3h-18.3zM583.8 972.9h18.3v18.3h-18.3zM672.2 972.9h18.3v18.3h-18.3zM300.7 1309.1h18.3v18.3h-18.3z"/>
<path fill="#181818" d="M176.9 -35.4h18.3v18.3h-18.3zM176.9 -17.7h18.3v18.3h-18.3zM176.9 0.0h18.3v18.3h-18.3zM530.7 70.8h18.3v18.3h-18.3zM566.1 70.8h36.0v18.3h-36.0zM176.9 88.4h18.3v18.3h-18.3zM619.1 88.4h18.3v18.3h-18.3zM583.8 123.8h18.3v18.3h-18.3zM636.8 141.5h18.3v18.3h-18.3zM-35.4 176.9h53.7v18.3h-53.7zM53.1 176.9h18.3v18.3h-18.3zM548.4 176.9h18.3v18.3h-18.3zM689.9 265.3h18.3v18.3h-18.3zM601.5 300.7h18.3v18.3h-18.3zM725.3 300.7h18.3v18.3h-18.3zM849.1 336.1h18.3v18.3h-18.3zM884.5 371.5h18.3v18.3h-18.3zM919.9 371.5h18.3v18.3h-18.3zM654.5 442.2h18.3v18.3h-18.3zM990.6 566.1h18.3v18.3h-18.3zM831.4 689.9h18.3v18.3h-18.3zM530.7 760.7h18.3v18.3h-18.3zM831.4 778.4h18.3v18.3h-18.3zM353.8 813.7h18.3v18.3h-18.3zM1309.1 813.7h18.3v18.3h-18.3zM1326.7 831.4h18.3v18.3h-18.3zM1344.4 849.1h18.3v18.3h-18.3zM566.1 866.8h18.3v18.3h-18.3zM707.6 866.8h18.3v18.3h-18.3zM1362.1 866.8h18.3v18.3h-18.3zM495.3 884.5h18.3v18.3h-18.3zM1379.8 884.5h18.3v18.3h-18.3zM406.9 902.2h18.3v18.3h-18.3zM725.3 919.9h18.3v18.3h-18.3zM725.3 937.6h18.3v18.3h-18.3zM760.7 1026.0h18.3v18.3h-18.3zM689.9 1061.4h18.3v18.3h-18.3z"/>
<path fill="#191919" d="M176.9 141.5h18.3v18.3h-18.3zM548.4 159.2h18.3v18.3h-18.3zM689.9 230.0h36.0v18.3h-36.0zM583.8 300.7h18.3v18.3h-18.3zM831.4 336.1h18.3v18.3h-18.3zM1043.7 513.0h18.3v18.3h-18.3zM866.8 548.4h18.3v18.3h-18.3zM919.9 707.6h18.3v18.3h-18.3zM389.2 725.3h18.3v18.3h-18.3zM442.2 725.3h18.3v18.3h-18.3zM919.9 725.3h18.3v18.3h-18.3zM1167.5 725.3h18.3v18.3h-18.3zM371.5 760.7h18.3v18.3h-18.3zM513.0 760.7h18.3v18.3h-18.3zM495.3 778.4h18.3v18.3h-18.3zM1167.5 778.4h18.3v18.3h-18.3zM566.1 796.0h18.3v18.3h-18.3zM884.5 813.7h18.3v18.3h-18.3zM548.4 831.4h18.3v18.3h-18.3zM495.3 849.1h18.3v18.3h-18.3zM672.2 849.1h36.0v18.3h-36.0zM743.0 937.6h18.3v18.3h-18.3zM689.9 990.6h18.3v18.3h-18.3zM743.0 1008.3h18.3v18.3h-18.3zM760.7 1043.7h18.3v18.3h-18.3z"/>
<path fill="#1a1a1a" d="M53.1 159.2h18.3v18.3h-18.3zM88.4 176.9h18.3v18.3h-18.3zM636.8 247.7h18.3v18.3h-18.3zM725.3 336.1h18.3v18.3h-18.3zM866.8 371.5h18.3v18.3h-18.3zM902.2 406.9h18.3v18.3h-18.3zM672.2 424.6h18.3v18.3h-18.3zM902.2 424.6h18.3v18.3h-18.3zM583.8 513.0h18.3v18.3h-18.3zM972.9 530.7h18.3v18.3h-18.3zM1026.0 530.7h18.3v18.3h-18.3zM866.8 619.1h18.3v18.3h-18.3zM336.1 725.3h18.3v18.3h-18.3zM477.6 743.0h18.3v18.3h-18.3zM937.6 743.0h18.3v18.3h-18.3zM937.6 760.7h18.3v18.3h-18.3zM866.8 813.7h18.3v18.3h-18.3zM619.1 866.8h18.3v18.3h-18.3zM583.8 902.2h18.3v18.3h-18.3zM495.3 1026.0h18.3v18.3h-18.3z"/>
<path fill="#1b1b1b" d="M159.2 -35.4h18.3v18.3h-18.3zM159.2 -17.7h18.3v18.3h-18.3zM159.2 0.0h18.3v18.3h-18.3zM159.2 17.7h18.3v18.3h-18.3zM459.9 70.8h18.3v18.3h-18.3zM619.1 70.8h18.3v18.3h-18.3zM495.3 123.8h36.0v18.3h-36.0zM619.1 141.5h18.3v18.3h-18.3zM176.9 159.2h18.3v18.3h-18.3zM583.8 230.0h18.3v18.3h-18.3zM601.5 247.7h18.3v18.3h-18.3zM583.8 318.4h18.3v18.3h-18.3zM743.0 336.1h18.3v18.3h-18.3zM619.1 459.9h18.3v18.3h-18.3zM831.4 495.3h18.3v18.3h-18.3zM990.6 513.0h53.7v18.3h-53.7zM1008.3 530.7h18.3v18.3h-18.3zM1167.5 743.0h18.3v18.3h-18.3zM796.0 760.7h36.0v18.3h-36.0zM353.8 778.4h18.3v18.3h-18.3zM1079.1 796.0h18.3v18.3h-18.3zM1114.5 796.0h18.3v18.3h-18.3zM336.1 813.7h18.3v18.3h-18.3zM849.1 813.7h18.3v18.3h-18.3zM1096.8 813.7h18.3v18.3h-18.3zM566.1 831.4h18.3v18.3h-18.3zM672.2 831.4h36.0v18.3h-36.0zM336.1 849.1h18.3v18.3h-18.3zM459.9 866.8h18.3v18.3h-18.3zM495.3 866.8h18.3v18.3h-18.3zM424.6 884.5h18.3v18.3h-18.3zM1397.5 902.2h53.7v18.3h-53.7zM530.7 955.3h18.3v18.3h-18.3zM778.4 1026.0h18.3v18.3h-18.3zM672.2 1202.9h18.3v18.3h-18.3zM194.6 1344.4h18.3v18.3h-18.3z"/>
<path fill="#1c1c1c" d="M477.6 70.8h18.3v18.3h-18.3zM548.4 70.8h18.3v18.3h-18.3zM530.7 106.1h18.3v18.3h-18.3zM601.5 141.5h18.3v18.3h-18.3zM459.9 247.7h18.3v18.3h-18.3zM689.9 283.0h18.3v18.3h-18.3zM283.0 318.4h18.3v18.3h-18.3zM1043.7 548.4h18.3v18.3h-18.3zM849.1 619.1h18.3v18.3h-18.3zM849.1 689.9h18.3v18.3h-18.3zM406.9 707.6h18.3v18.3h-18.3zM813.7 707.6h18.3v18.3h-18.3zM318.4 725.3h18.3v18.3h-18.3zM371.5 725.3h18.3v18.3h-18.3zM424.6 725.3h18.3v18.3h-18.3zM796.0 743.0h18.3v18.3h-18.3zM972.9 760.7h18.3v18.3h-18.3zM548.4 778.4h18.3v18.3h-18.3zM1132.2 778.4h18.3v18.3h-18.3zM831.4 813.7h18.3v18.3h-18.3zM1291.4 813.7h18.3v18.3h-18.3zM477.6 849.1h18.3v18.3h-18.3zM1326.7 849.1h18.3v18.3h-18.3zM1362.1 884.5h18.3v18.3h-18.3zM548.4 990.6h36.0v18.3h-36.0zM477.6 1026.0h18.3v18.3h-18.3z"/>
<path fill="#1d1d1d" d="M442.2 -35.4h18.3v18.3h-18.3zM442.2 -17.7h18.3v18.3h-18.3zM442.2 0.0h18.3v18.3h-18.3zM442.2 17.7h18.3v18.3h-18.3zM159.2 35.4h36.0v18.3h-36.0zM442.2 35.4h18.3v18.3h-18.3zM159.2 53.1h36.0v18.3h-36.0zM459.9 106.1h18.3v18.3h-18.3zM619.1 106.1h18.3v18.3h-18.3zM530.7 123.8h18.3v18.3h-18.3zM318.4 141.5h18.3v18.3h-18.3zM371.5 141.5h18.3v18.3h-18.3zM424.6 141.5h18.3v18.3h-18.3zM654.5 141.5h18.3v18.3h-18.3zM106.1 176.9h53.7v18.3h-53.7zM566.1 176.9h18.3v18.3h-18.3zM247.7 212.3h18.3v18.3h-18.3zM636.8 212.3h18.3v18.3h-18.3zM636.8 230.0h18.3v18.3h-18.3zM141.5 247.7h18.3v18.3h-18.3zM194.6 247.7h18.3v18.3h-18.3zM35.4 318.4h18.3v18.3h-18.3zM601.5 318.4h18.3v18.3h-18.3zM760.7 353.8h18.3v18.3h-18.3zM619.1 406.9h18.3v18.3h-18.3zM689.9 406.9h18.3v18.3h-18.3zM619.1 424.6h18.3v18.3h-18.3zM849.1 477.6h18.3v18.3h-18.3zM601.5 530.7h18.3v18.3h-18.3zM813.7 530.7h18.3v18.3h-18.3zM884.5 530.7h18.3v18.3h-18.3zM849.1 566.1h18.3v18.3h-18.3zM866.8 654.5h18.3v18.3h-18.3zM937.6 707.6h18.3v18.3h-18.3zM459.9 725.3h18.3v18.3h-18.3zM1008.3 760.7h18.3v18.3h-18.3zM813.7 778.4h18.3v18.3h-18.3zM1256.0 778.4h18.3v18.3h-18.3zM831.4 796.0h18.3v18.3h-18.3zM1273.7 796.0h18.3v18.3h-18.3zM1114.5 813.7h18.3v18.3h-18.3zM1309.1 831.4h18.3v18.3h-18.3zM1114.5 866.8h18.3v18.3h-18.3zM1344.4 866.8h18.3v18.3h-18.3zM743.0 902.2h18.3v18.3h-18.3zM1379.8 902.2h18.3v18.3h-18.3zM619.1 955.3h36.0v18.3h-36.0zM743.0 955.3h18.3v18.3h-18.3zM743.0 972.9h18.3v18.3h-18.3zM583.8 990.6h18.3v18.3h-18.3zM743.0 990.6h18.3v18.3h-18.3zM689.9 1008.3h18.3v18.3h-18.3zM689.9 1026.0h18.3v18.3h-18.3zM813.7 1026.0h18.3v18.3h-18.3zM1149.8 1026.0h18.3v18.3h-18.3zM689.9 1043.7h18.3v18.3h-18.3zM1185.2 1061.4h18.3v18.3h-18.3zM1220.6 1096.8h18.3v18.3h-18.3zM1256.0 1132.2h18.3v18.3h-18.3zM1291.4 1167.5h18.3v18.3h-18.3zM1326.7 1202.9h18.3v18.3h-18.3zM1362.1 1238.3h18.3v18.3h-18.3z"/>
<path fill="#1e1e1e" d="M283.0 -35.4h36.0v18.3h-36.0zM353.8 -35.4h36.0v18.3h-36.0zM283.0 -17.7h36.0v18.3h-36.0zM353.8 -17.7h36.0v18.3h-36.0zM283.0 0.0h36.0v18.3h-36.0zM353.8 0.0h36.0v18.3h-36.0zM212.3 106.1h36.0v18.3h-36.0zM389.2 106.1h53.7v18.3h-53.7zM230.0 123.8h18.3v18.3h-18.3zM424.6 123.8h18.3v18.3h-18.3zM176.9 176.9h18.3v18.3h-18.3zM70.8 283.0h18.3v18.3h-18.3zM283.0 283.0h18.3v18.3h-18.3zM601.5 283.0h18.3v18.3h-18.3zM283.0 300.7h18.3v18.3h-18.3zM283.0 336.1h18.3v18.3h-18.3zM619.1 442.2h18.3v18.3h-18.3zM796.0 530.7h18.3v18.3h-18.3zM406.9 725.3h18.3v18.3h-18.3zM955.3 760.7h18.3v18.3h-18.3zM1043.7 778.4h18.3v18.3h-18.3zM1238.3 778.4h18.3v18.3h-18.3zM902.2 796.0h36.0v18.3h-36.0zM1256.0 796.0h18.3v18.3h-18.3zM530.7 813.7h18.3v18.3h-18.3zM955.3 813.7h18.3v18.3h-18.3zM583.8 884.5h18.3v18.3h-18.3zM548.4 902.2h18.3v18.3h-18.3zM530.7 990.6h18.3v18.3h-18.3zM1114.5 990.6h18.3v18.3h-18.3zM636.8 1238.3h18.3v18.3h-18.3zM1397.5 1273.7h53.7v18.3h-53.7zM318.4 1326.7h18.3v18.3h-18.3zM530.7 1362.1h18.3v18.3h-18.3z"/>
<path fill="#1f1f1f" d="M176.9 17.7h18.3v18.3h-18.3zM442.2 53.1h18.3v18.3h-18.3zM159.2 70.8h36.0v18.3h-36.0zM601.5 70.8h18.3v18.3h-18.3zM459.9 88.4h18.3v18.3h-18.3zM566.1 123.8h18.3v18.3h-18.3zM619.1 123.8h18.3v18.3h-18.3zM283.0 141.5h36.0v18.3h-36.0zM389.2 141.5h36.0v18.3h-36.0zM17.7 159.2h18.3v18.3h-18.3zM17.7 176.9h36.0v18.3h-36.0zM159.2 176.9h18.3v18.3h-18.3zM194.6 176.9h18.3v18.3h-18.3zM247.7 176.9h18.3v18.3h-18.3zM495.3 176.9h18.3v18.3h-18.3zM636.8 176.9h36.0v18.3h-36.0zM88.4 194.6h18.3v18.3h-18.3zM247.7 194.6h18.3v18.3h-18.3zM141.5 212.3h18.3v18.3h-18.3zM353.8 212.3h18.3v18.3h-18.3zM141.5 230.0h18.3v18.3h-18.3zM530.7 230.0h36.0v18.3h-36.0zM88.4 247.7h53.7v18.3h-53.7zM495.3 247.7h71.4v18.3h-71.4zM707.6 265.3h18.3v18.3h-18.3zM53.1 283.0h18.3v18.3h-18.3zM141.5 283.0h36.0v18.3h-36.0zM265.3 318.4h18.3v18.3h-18.3zM176.9 353.8h18.3v18.3h-18.3zM725.3 353.8h36.0v18.3h-36.0zM636.8 406.9h18.3v18.3h-18.3zM601.5 495.3h18.3v18.3h-18.3zM424.6 672.2h18.3v18.3h-18.3zM389.2 689.9h18.3v18.3h-18.3zM937.6 725.3h18.3v18.3h-18.3zM371.5 743.0h18.3v18.3h-18.3zM1008.3 743.0h18.3v18.3h-18.3zM353.8 760.7h18.3v18.3h-18.3zM1026.0 760.7h18.3v18.3h-18.3zM336.1 778.4h18.3v18.3h-18.3zM654.5 831.4h18.3v18.3h-18.3zM707.6 849.1h18.3v18.3h-18.3zM636.8 866.8h18.3v18.3h-18.3zM1061.4 866.8h18.3v18.3h-18.3zM619.1 884.5h18.3v18.3h-18.3zM725.3 884.5h36.0v18.3h-36.0zM601.5 902.2h18.3v18.3h-18.3zM743.0 919.9h18.3v18.3h-18.3zM1397.5 919.9h53.7v18.3h-53.7zM495.3 972.9h18.3v18.3h-18.3zM530.7 972.9h18.3v18.3h-18.3zM601.5 972.9h18.3v18.3h-18.3zM654.5 972.9h18.3v18.3h-18.3zM672.2 990.6h18.3v18.3h-18.3zM760.7 1008.3h18.3v18.3h-18.3zM619.1 1026.0h53.7v18.3h-53.7zM725.3 1079.1h18.3v18.3h-18.3zM902.2 1079.1h18.3v18.3h-18.3zM707.6 1132.2h18.3v18.3h-18.3zM1026.0 1185.2h18.3v18.3h-18.3zM636.8 1220.6h18.3v18.3h-18.3zM1061.4 1220.6h18.3v18.3h-18.3zM1043.7 1238.3h18.3v18.3h-18.3zM1096.8 1256.0h18.3v18.3h-18.3zM1079.1 1273.7h18.3v18.3h-18.3zM1132.2 1291.4h18.3v18.3h-18.3zM1114.5 1309.1h18.3v18.3h-18.3zM1167.5 1326.7h18.3v18.3h-18.3zM212.3 1344.4h71.4v18.3h-71.4zM1149.8 1344.4h18.3v18.3h-18.3zM1202.9 1362.1h18.3v18.3h-18.3zM1185.2 1379.8h18.3v18.3h-18.3zM1238.3 1397.5h18.3v18.3h-18.3zM1238.3 1415.2h18.3v18.3h-18.3zM1238.3 1432.9h18.3v18.3h-18.3z"/>
<path fill="#202020" d="M247.7 -35.4h36.0v18.3h-36.0zM318.4 -35.4h36.0v18.3h-36.0zM247.7 -17.7h36.0v18.3h-36.0zM318.4 -17.7h36.0v18.3h-36.0zM247.7 0.0h36.0v18.3h-36.0zM318.4 0.0h36.0v18.3h-36.0zM247.7 17.7h18.3v18.3h-18.3zM336.1 17.7h18.3v18.3h-18.3zM212.3 70.8h36.0v18.3h-36.0zM389.2 70.8h18.3v18.3h-18.3zM212.3 88.4h18.3v18.3h-18.3zM389.2 88.4h36.0v18.3h-36.0zM548.4 141.5h18.3v18.3h-18.3zM442.2 247.7h18.3v18.3h-18.3zM583.8 283.0h18.3v18.3h-18.3zM619.1 300.7h53.7v18.3h-53.7zM672.2 318.4h18.3v18.3h-18.3zM265.3 336.1h18.3v18.3h-18.3zM283.0 389.2h18.3v18.3h-18.3zM654.5 406.9h18.3v18.3h-18.3zM636.8 424.6h18.3v18.3h-18.3zM796.0 725.3h18.3v18.3h-18.3zM955.3 778.4h18.3v18.3h-18.3zM336.1 796.0h18.3v18.3h-18.3zM1273.7 813.7h18.3v18.3h-18.3zM1291.4 831.4h18.3v18.3h-18.3zM1061.4 849.1h18.3v18.3h-18.3zM548.4 884.5h18.3v18.3h-18.3zM424.6 902.2h36.0v18.3h-36.0zM1079.1 955.3h18.3v18.3h-18.3zM636.8 990.6h18.3v18.3h-18.3zM636.8 1008.3h36.0v18.3h-36.0zM778.4 1008.3h18.3v18.3h-18.3zM707.6 1114.5h18.3v18.3h-18.3zM990.6 1149.8h18.3v18.3h-18.3zM707.6 1167.5h18.3v18.3h-18.3zM972.9 1167.5h18.3v18.3h-18.3zM1008.3 1202.9h18.3v18.3h-18.3zM1079.1 1256.0h18.3v18.3h-18.3zM548.4 1273.7h18.3v18.3h-18.3zM636.8 1273.7h18.3v18.3h-18.3zM1096.8 1273.7h18.3v18.3h-18.3zM548.4 1291.4h18.3v18.3h-18.3zM1114.5 1291.4h18.3v18.3h-18.3zM247.7 1309.1h18.3v18.3h-18.3zM1132.2 1309.1h18.3v18.3h-18.3zM265.3 1326.7h18.3v18.3h-18.3zM1149.8 1326.7h18.3v18.3h-18.3zM1167.5 1344.4h18.3v18.3h-18.3zM1185.2 1362.1h18.3v18.3h-18.3zM1202.9 1379.8h18.3v18.3h-18.3zM1220.6 1397.5h18.3v18.3h-18.3zM1220.6 1415.2h18.3v18.3h-18.3zM1220.6 1432.9h18.3v18.3h-18.3z"/>
<path fill="#212121" d="M548.4 88.4h18.3v18.3h-18.3zM495.3 141.5h36.0v18.3h-36.0zM495.3 159.2h18.3v18.3h-18.3zM70.8 176.9h18.3v18.3h-18.3zM212.3 176.9h36.0v18.3h-36.0zM230.0 194.6h18.3v18.3h-18.3zM88.4 212.3h18.3v18.3h-18.3zM176.9 212.3h36.0v18.3h-36.0zM371.5 212.3h18.3v18.3h-18.3zM619.1 212.3h18.3v18.3h-18.3zM88.4 230.0h18.3v18.3h-18.3zM194.6 230.0h18.3v18.3h-18.3zM477.6 230.0h18.3v18.3h-18.3zM601.5 230.0h36.0v18.3h-36.0zM70.8 247.7h18.3v18.3h-18.3zM477.6 247.7h18.3v18.3h-18.3zM566.1 247.7h36.0v18.3h-36.0zM654.5 247.7h18.3v18.3h-18.3zM283.0 265.3h18.3v18.3h-18.3zM583.8 265.3h18.3v18.3h-18.3zM212.3 283.0h36.0v18.3h-36.0zM212.3 300.7h18.3v18.3h-18.3zM106.1 318.4h36.0v18.3h-36.0zM672.2 336.1h18.3v18.3h-18.3zM159.2 353.8h18.3v18.3h-18.3zM601.5 353.8h36.0v18.3h-36.0zM176.9 371.5h18.3v18.3h-18.3zM601.5 371.5h18.3v18.3h-18.3zM849.1 389.2h18.3v18.3h-18.3zM884.5 389.2h18.3v18.3h-18.3zM672.2 406.9h18.3v18.3h-18.3zM866.8 406.9h18.3v18.3h-18.3zM636.8 459.9h18.3v18.3h-18.3zM955.3 548.4h18.3v18.3h-18.3zM1026.0 548.4h18.3v18.3h-18.3zM955.3 566.1h18.3v18.3h-18.3zM849.1 636.8h18.3v18.3h-18.3zM866.8 672.2h18.3v18.3h-18.3zM990.6 760.7h18.3v18.3h-18.3zM1238.3 760.7h18.3v18.3h-18.3zM937.6 778.4h18.3v18.3h-18.3zM796.0 813.7h18.3v18.3h-18.3zM902.2 813.7h18.3v18.3h-18.3zM1132.2 813.7h18.3v18.3h-18.3zM1256.0 813.7h18.3v18.3h-18.3zM937.6 831.4h18.3v18.3h-18.3zM654.5 849.1h18.3v18.3h-18.3zM1291.4 849.1h36.0v18.3h-36.0zM1326.7 866.8h18.3v18.3h-18.3zM1326.7 884.5h36.0v18.3h-36.0zM1362.1 902.2h18.3v18.3h-18.3zM371.5 919.9h18.3v18.3h-18.3zM406.9 919.9h18.3v18.3h-18.3zM1096.8 919.9h18.3v18.3h-18.3zM1362.1 919.9h36.0v18.3h-36.0zM1114.5 937.6h18.3v18.3h-18.3zM1114.5 972.9h18.3v18.3h-18.3zM513.0 1008.3h18.3v18.3h-18.3zM1149.8 1008.3h18.3v18.3h-18.3zM601.5 1026.0h18.3v18.3h-18.3zM796.0 1026.0h18.3v18.3h-18.3zM937.6 1043.7h18.3v18.3h-18.3zM1185.2 1043.7h18.3v18.3h-18.3zM760.7 1061.4h18.3v18.3h-18.3zM1202.9 1061.4h18.3v18.3h-18.3zM689.9 1079.1h18.3v18.3h-18.3zM743.0 1079.1h18.3v18.3h-18.3zM1220.6 1079.1h18.3v18.3h-18.3zM1238.3 1096.8h18.3v18.3h-18.3zM937.6 1114.5h18.3v18.3h-18.3zM1256.0 1114.5h18.3v18.3h-18.3zM1273.7 1132.2h18.3v18.3h-18.3zM972.9 1149.8h18.3v18.3h-18.3zM1291.4 1149.8h18.3v18.3h-18.3zM672.2 1167.5h18.3v18.3h-18.3zM990.6 1167.5h18.3v18.3h-18.3zM1309.1 1167.5h18.3v18.3h-18.3zM1008.3 1185.2h18.3v18.3h-18.3zM1326.7 1185.2h18.3v18.3h-18.3zM972.9 1202.9h18.3v18.3h-18.3zM1026.0 1202.9h18.3v18.3h-18.3zM1344.4 1202.9h18.3v18.3h-18.3zM194.6 1220.6h18.3v18.3h-18.3zM1043.7 1220.6h18.3v18.3h-18.3zM1362.1 1220.6h18.3v18.3h-18.3zM1008.3 1238.3h18.3v18.3h-18.3zM1061.4 1238.3h18.3v18.3h-18.3zM1379.8 1238.3h71.4v18.3h-71.4zM1397.5 1256.0h53.7v18.3h-53.7zM230.0 1273.7h18.3v18.3h-18.3zM1043.7 1273.7h18.3v18.3h-18.3zM230.0 1291.4h18.3v18.3h-18.3zM265.3 1309.1h18.3v18.3h-18.3zM1079.1 1309.1h18.3v18.3h-18.3zM194.6 1326.7h18.3v18.3h-18.3zM1114.5 1344.4h18.3v18.3h-18.3zM230.0 1379.8h18.3v18.3h-18.3zM1149.8 1379.8h18.3v18.3h-18.3zM230.0 1397.5h18.3v18.3h-18.3zM230.0 1415.2h18.3v18.3h-18.3zM230.0 1432.9h18.3v18.3h-18.3z"/>
<path fill="#222222" d="M442.2 70.8h18.3v18.3h-18.3zM495.3 194.6h18.3v18.3h-18.3zM495.3 230.0h36.0v18.3h-36.0zM389.2 247.7h18.3v18.3h-18.3zM106.1 336.1h18.3v18.3h-18.3zM849.1 371.5h18.3v18.3h-18.3zM743.0 389.2h18.3v18.3h-18.3zM866.8 389.2h18.3v18.3h-18.3zM866.8 442.2h18.3v18.3h-18.3zM1008.3 725.3h18.3v18.3h-18.3zM1220.6 743.0h18.3v18.3h-18.3zM513.0 778.4h18.3v18.3h-18.3zM796.0 778.4h18.3v18.3h-18.3zM1026.0 778.4h18.3v18.3h-18.3zM1202.9 778.4h18.3v18.3h-18.3zM530.7 796.0h18.3v18.3h-18.3zM1220.6 796.0h18.3v18.3h-18.3zM318.4 813.7h18.3v18.3h-18.3zM1079.1 813.7h18.3v18.3h-18.3zM336.1 866.8h18.3v18.3h-18.3zM743.0 866.8h18.3v18.3h-18.3zM477.6 884.5h18.3v18.3h-18.3zM371.5 902.2h18.3v18.3h-18.3zM1043.7 902.2h18.3v18.3h-18.3zM1079.1 937.6h18.3v18.3h-18.3zM1114.5 955.3h18.3v18.3h-18.3zM1397.5 955.3h53.7v18.3h-53.7zM601.5 990.6h18.3v18.3h-18.3zM1132.2 990.6h36.0v18.3h-36.0zM495.3 1008.3h18.3v18.3h-18.3zM813.7 1008.3h18.3v18.3h-18.3zM1167.5 1008.3h18.3v18.3h-18.3zM1167.5 1026.0h36.0v18.3h-36.0zM1202.9 1043.7h18.3v18.3h-18.3zM1132.2 1061.4h18.3v18.3h-18.3zM1220.6 1061.4h18.3v18.3h-18.3zM1132.2 1079.1h36.0v18.3h-36.0zM1238.3 1079.1h18.3v18.3h-18.3zM689.9 1096.8h18.3v18.3h-18.3zM1167.5 1096.8h18.3v18.3h-18.3zM1256.0 1096.8h18.3v18.3h-18.3zM955.3 1114.5h18.3v18.3h-18.3zM1008.3 1114.5h18.3v18.3h-18.3zM1167.5 1114.5h53.7v18.3h-53.7zM1273.7 1114.5h18.3v18.3h-18.3zM937.6 1132.2h36.0v18.3h-36.0zM1026.0 1132.2h36.0v18.3h-36.0zM1202.9 1132.2h18.3v18.3h-18.3zM1291.4 1132.2h18.3v18.3h-18.3zM1043.7 1149.8h18.3v18.3h-18.3zM1202.9 1149.8h53.7v18.3h-53.7zM1309.1 1149.8h18.3v18.3h-18.3zM937.6 1167.5h18.3v18.3h-18.3zM1043.7 1167.5h53.7v18.3h-53.7zM1238.3 1167.5h18.3v18.3h-18.3zM1326.7 1167.5h18.3v18.3h-18.3zM1079.1 1185.2h18.3v18.3h-18.3zM1238.3 1185.2h53.7v18.3h-53.7zM1344.4 1185.2h18.3v18.3h-18.3zM1079.1 1202.9h53.7v18.3h-53.7zM1273.7 1202.9h18.3v18.3h-18.3zM1362.1 1202.9h18.3v18.3h-18.3zM1114.5 1220.6h18.3v18.3h-18.3zM1273.7 1220.6h53.7v18.3h-53.7zM1379.8 1220.6h71.4v18.3h-71.4zM1114.5 1238.3h53.7v18.3h-53.7zM1309.1 1238.3h18.3v18.3h-18.3zM1149.8 1256.0h18.3v18.3h-18.3zM1309.1 1256.0h53.7v18.3h-53.7zM1149.8 1273.7h53.7v18.3h-53.7zM1344.4 1273.7h18.3v18.3h-18.3zM1185.2 1291.4h18.3v18.3h-18.3zM1344.4 1291.4h53.7v18.3h-53.7zM1185.2 1309.1h53.7v18.3h-53.7zM1379.8 1309.1h18.3v18.3h-18.3zM1220.6 1326.7h18.3v18.3h-18.3zM1379.8 1326.7h71.4v18.3h-71.4zM159.2 1344.4h18.3v18.3h-18.3zM283.0 1344.4h18.3v18.3h-18.3zM1220.6 1344.4h53.7v18.3h-53.7zM1256.0 1362.1h18.3v18.3h-18.3zM265.3 1379.8h18.3v18.3h-18.3zM1256.0 1379.8h53.7v18.3h-53.7zM1291.4 1397.5h18.3v18.3h-18.3zM1291.4 1415.2h18.3v18.3h-18.3zM1291.4 1432.9h18.3v18.3h-18.3z"/>
<path fill="#232323" d="M212.3 -35.4h36.0v18.3h-36.0zM389.2 -35.4h53.7v18.3h-53.7zM212.3 -17.7h36.0v18.3h-36.0zM389.2 -17.7h53.7v18.3h-53.7zM212.3 0.0h36.0v18.3h-36.0zM389.2 0.0h53.7v18.3h-53.7zM212.3 17.7h36.0v18.3h-36.0zM389.2 17.7h53.7v18.3h-53.7zM194.6 35.4h248.3v18.3h-248.3zM194.6 53.1h248.3v18.3h-248.3zM247.7 70.8h142.1v18.3h-142.1zM424.6 70.8h18.3v18.3h-18.3zM247.7 88.4h142.1v18.3h-142.1zM424.6 88.4h36.0v18.3h-36.0zM477.6 88.4h18.3v18.3h-18.3zM247.7 106.1h142.1v18.3h-142.1zM601.5 106.1h18.3v18.3h-18.3zM247.7 123.8h142.1v18.3h-142.1zM601.5 123.8h18.3v18.3h-18.3zM212.3 141.5h71.4v18.3h-71.4zM459.9 141.5h36.0v18.3h-36.0zM566.1 141.5h36.0v18.3h-36.0zM212.3 159.2h71.4v18.3h-71.4zM477.6 159.2h18.3v18.3h-18.3zM566.1 159.2h36.0v18.3h-36.0zM636.8 159.2h18.3v18.3h-18.3zM283.0 176.9h124.4v18.3h-124.4zM477.6 176.9h18.3v18.3h-18.3zM601.5 176.9h36.0v18.3h-36.0zM106.1 194.6h71.4v18.3h-71.4zM336.1 194.6h36.0v18.3h-36.0zM477.6 194.6h18.3v18.3h-18.3zM601.5 194.6h36.0v18.3h-36.0zM106.1 212.3h36.0v18.3h-36.0zM212.3 212.3h36.0v18.3h-36.0zM336.1 212.3h18.3v18.3h-18.3zM459.9 212.3h18.3v18.3h-18.3zM583.8 212.3h18.3v18.3h-18.3zM70.8 230.0h18.3v18.3h-18.3zM106.1 230.0h36.0v18.3h-36.0zM212.3 230.0h36.0v18.3h-36.0zM459.9 230.0h18.3v18.3h-18.3zM566.1 230.0h18.3v18.3h-18.3zM212.3 247.7h53.7v18.3h-53.7zM619.1 247.7h18.3v18.3h-18.3zM212.3 265.3h71.4v18.3h-71.4zM601.5 265.3h18.3v18.3h-18.3zM106.1 283.0h36.0v18.3h-36.0zM176.9 283.0h36.0v18.3h-36.0zM247.7 283.0h36.0v18.3h-36.0zM-35.4 300.7h71.4v18.3h-71.4zM106.1 300.7h36.0v18.3h-36.0zM176.9 300.7h36.0v18.3h-36.0zM247.7 300.7h36.0v18.3h-36.0zM-35.4 318.4h71.4v18.3h-71.4zM70.8 318.4h36.0v18.3h-36.0zM141.5 318.4h106.7v18.3h-106.7zM141.5 336.1h106.7v18.3h-106.7zM583.8 336.1h18.3v18.3h-18.3zM636.8 336.1h18.3v18.3h-18.3zM123.8 353.8h18.3v18.3h-18.3zM212.3 353.8h53.7v18.3h-53.7zM283.0 353.8h18.3v18.3h-18.3zM583.8 353.8h18.3v18.3h-18.3zM636.8 353.8h18.3v18.3h-18.3zM778.4 353.8h18.3v18.3h-18.3zM141.5 371.5h36.0v18.3h-36.0zM583.8 371.5h18.3v18.3h-18.3zM636.8 371.5h18.3v18.3h-18.3zM725.3 371.5h18.3v18.3h-18.3zM583.8 389.2h18.3v18.3h-18.3zM636.8 389.2h18.3v18.3h-18.3zM601.5 424.6h18.3v18.3h-18.3zM866.8 424.6h18.3v18.3h-18.3zM884.5 442.2h18.3v18.3h-18.3zM654.5 459.9h18.3v18.3h-18.3zM866.8 459.9h18.3v18.3h-18.3zM583.8 495.3h18.3v18.3h-18.3zM813.7 513.0h18.3v18.3h-18.3zM1008.3 548.4h18.3v18.3h-18.3zM972.9 566.1h18.3v18.3h-18.3zM566.1 583.8h18.3v18.3h-18.3zM477.6 725.3h18.3v18.3h-18.3zM353.8 743.0h18.3v18.3h-18.3zM548.4 760.7h18.3v18.3h-18.3zM760.7 760.7h18.3v18.3h-18.3zM1061.4 778.4h18.3v18.3h-18.3zM796.0 796.0h18.3v18.3h-18.3zM778.4 813.7h18.3v18.3h-18.3zM283.0 831.4h18.3v18.3h-18.3zM1114.5 831.4h18.3v18.3h-18.3zM725.3 849.1h18.3v18.3h-18.3zM778.4 849.1h18.3v18.3h-18.3zM389.2 919.9h18.3v18.3h-18.3zM424.6 919.9h18.3v18.3h-18.3zM442.2 937.6h18.3v18.3h-18.3zM513.0 937.6h18.3v18.3h-18.3zM1008.3 937.6h18.3v18.3h-18.3zM1132.2 937.6h18.3v18.3h-18.3zM1397.5 937.6h53.7v18.3h-53.7zM442.2 955.3h18.3v18.3h-18.3zM1096.8 955.3h18.3v18.3h-18.3zM1132.2 955.3h18.3v18.3h-18.3zM972.9 972.9h18.3v18.3h-18.3zM1008.3 972.9h18.3v18.3h-18.3zM1132.2 972.9h53.7v18.3h-53.7zM619.1 990.6h18.3v18.3h-18.3zM778.4 990.6h18.3v18.3h-18.3zM1167.5 990.6h18.3v18.3h-18.3zM583.8 1008.3h18.3v18.3h-18.3zM619.1 1008.3h18.3v18.3h-18.3zM672.2 1008.3h18.3v18.3h-18.3zM796.0 1008.3h18.3v18.3h-18.3zM937.6 1008.3h18.3v18.3h-18.3zM972.9 1008.3h18.3v18.3h-18.3zM1096.8 1008.3h18.3v18.3h-18.3zM1185.2 1008.3h36.0v18.3h-36.0zM530.7 1026.0h18.3v18.3h-18.3zM672.2 1026.0h18.3v18.3h-18.3zM1096.8 1026.0h18.3v18.3h-18.3zM1202.9 1026.0h18.3v18.3h-18.3zM672.2 1043.7h18.3v18.3h-18.3zM902.2 1043.7h18.3v18.3h-18.3zM1096.8 1043.7h53.7v18.3h-53.7zM1220.6 1043.7h36.0v18.3h-36.0zM353.8 1061.4h18.3v18.3h-18.3zM654.5 1061.4h18.3v18.3h-18.3zM1114.5 1061.4h18.3v18.3h-18.3zM1238.3 1061.4h18.3v18.3h-18.3zM654.5 1079.1h18.3v18.3h-18.3zM972.9 1079.1h18.3v18.3h-18.3zM1096.8 1079.1h36.0v18.3h-36.0zM1167.5 1079.1h18.3v18.3h-18.3zM1256.0 1079.1h36.0v18.3h-36.0zM654.5 1096.8h36.0v18.3h-36.0zM990.6 1096.8h36.0v18.3h-36.0zM1079.1 1096.8h89.0v18.3h-89.0zM1273.7 1096.8h18.3v18.3h-18.3zM689.9 1114.5h18.3v18.3h-18.3zM1061.4 1114.5h106.7v18.3h-106.7zM1291.4 1114.5h36.0v18.3h-36.0zM689.9 1132.2h18.3v18.3h-18.3zM1008.3 1132.2h18.3v18.3h-18.3zM1061.4 1132.2h142.1v18.3h-142.1zM1309.1 1132.2h18.3v18.3h-18.3zM424.6 1149.8h18.3v18.3h-18.3zM707.6 1149.8h18.3v18.3h-18.3zM1061.4 1149.8h142.1v18.3h-142.1zM1326.7 1149.8h36.0v18.3h-36.0zM689.9 1167.5h18.3v18.3h-18.3zM1096.8 1167.5h142.1v18.3h-142.1zM1344.4 1167.5h18.3v18.3h-18.3zM1096.8 1185.2h142.1v18.3h-142.1zM1362.1 1185.2h36.0v18.3h-36.0zM1132.2 1202.9h142.1v18.3h-142.1zM1379.8 1202.9h18.3v18.3h-18.3zM1132.2 1220.6h142.1v18.3h-142.1zM1167.5 1238.3h142.1v18.3h-142.1zM230.0 1256.0h36.0v18.3h-36.0zM1167.5 1256.0h142.1v18.3h-142.1zM247.7 1273.7h18.3v18.3h-18.3zM1202.9 1273.7h142.1v18.3h-142.1zM212.3 1291.4h18.3v18.3h-18.3zM247.7 1291.4h18.3v18.3h-18.3zM1202.9 1291.4h142.1v18.3h-142.1zM230.0 1309.1h18.3v18.3h-18.3zM1238.3 1309.1h142.1v18.3h-142.1zM176.9 1326.7h18.3v18.3h-18.3zM212.3 1326.7h36.0v18.3h-36.0zM1238.3 1326.7h142.1v18.3h-142.1zM530.7 1344.4h18.3v18.3h-18.3zM1273.7 1344.4h177.5v18.3h-177.5zM318.4 1362.1h18.3v18.3h-18.3zM1273.7 1362.1h177.5v18.3h-177.5zM194.6 1379.8h36.0v18.3h-36.0zM247.7 1379.8h18.3v18.3h-18.3zM283.0 1379.8h53.7v18.3h-53.7zM1309.1 1379.8h142.1v18.3h-142.1zM247.7 1397.5h89.0v18.3h-89.0zM1309.1 1397.5h142.1v18.3h-142.1zM247.7 1415.2h89.0v18.3h-89.0zM1309.1 1415.2h142.1v18.3h-142.1zM247.7 1432.9h89.0v18.3h-89.0zM1309.1 1432.9h142.1v18.3h-142.1z"/>
<path fill="#242424" d="M477.6 106.1h18.3v18.3h-18.3zM459.9 159.2h18.3v18.3h-18.3zM442.2 176.9h18.3v18.3h-18.3zM371.5 194.6h18.3v18.3h-18.3zM495.3 212.3h18.3v18.3h-18.3zM336.1 230.0h18.3v18.3h-18.3zM53.1 265.3h18.3v18.3h-18.3zM336.1 318.4h18.3v18.3h-18.3zM654.5 336.1h18.3v18.3h-18.3zM459.9 371.5h18.3v18.3h-18.3zM176.9 389.2h18.3v18.3h-18.3zM212.3 389.2h18.3v18.3h-18.3zM459.9 389.2h18.3v18.3h-18.3zM654.5 389.2h18.3v18.3h-18.3zM689.9 389.2h18.3v18.3h-18.3zM672.2 442.2h18.3v18.3h-18.3zM672.2 459.9h18.3v18.3h-18.3zM601.5 477.6h18.3v18.3h-18.3zM583.8 530.7h18.3v18.3h-18.3zM17.7 583.8h18.3v18.3h-18.3zM371.5 689.9h18.3v18.3h-18.3zM955.3 743.0h18.3v18.3h-18.3zM1167.5 760.7h18.3v18.3h-18.3zM1185.2 796.0h18.3v18.3h-18.3zM919.9 813.7h18.3v18.3h-18.3zM601.5 831.4h18.3v18.3h-18.3zM1079.1 831.4h18.3v18.3h-18.3zM1114.5 849.1h18.3v18.3h-18.3zM1043.7 884.5h18.3v18.3h-18.3zM1096.8 884.5h18.3v18.3h-18.3zM566.1 902.2h18.3v18.3h-18.3zM1114.5 902.2h18.3v18.3h-18.3zM459.9 937.6h18.3v18.3h-18.3zM495.3 990.6h18.3v18.3h-18.3zM760.7 990.6h18.3v18.3h-18.3zM601.5 1008.3h18.3v18.3h-18.3zM1043.7 1008.3h18.3v18.3h-18.3zM1079.1 1008.3h18.3v18.3h-18.3zM1079.1 1026.0h18.3v18.3h-18.3zM1008.3 1043.7h18.3v18.3h-18.3zM1061.4 1043.7h36.0v18.3h-36.0zM619.1 1061.4h18.3v18.3h-18.3zM1043.7 1061.4h71.4v18.3h-71.4zM1026.0 1079.1h71.4v18.3h-71.4zM919.9 1096.8h18.3v18.3h-18.3zM1026.0 1096.8h53.7v18.3h-53.7zM672.2 1114.5h18.3v18.3h-18.3zM1026.0 1114.5h36.0v18.3h-36.0zM902.2 1132.2h18.3v18.3h-18.3zM654.5 1167.5h18.3v18.3h-18.3zM283.0 1291.4h18.3v18.3h-18.3zM212.3 1309.1h18.3v18.3h-18.3zM300.7 1344.4h36.0v18.3h-36.0zM513.0 1344.4h18.3v18.3h-18.3zM283.0 1362.1h36.0v18.3h-36.0zM1185.2 1397.5h18.3v18.3h-18.3zM1185.2 1415.2h18.3v18.3h-18.3zM1185.2 1432.9h18.3v18.3h-18.3z"/>
<path fill="#252525" d="M194.6 -35.4h18.3v18.3h-18.3zM194.6 -17.7h18.3v18.3h-18.3zM194.6 0.0h18.3v18.3h-18.3zM194.6 17.7h18.3v18.3h-18.3zM194.6 70.8h18.3v18.3h-18.3zM194.6 88.4h18.3v18.3h-18.3zM530.7 88.4h18.3v18.3h-18.3zM566.1 88.4h18.3v18.3h-18.3zM601.5 88.4h18.3v18.3h-18.3zM548.4 106.1h18.3v18.3h-18.3zM459.9 123.8h36.0v18.3h-36.0zM336.1 141.5h36.0v18.3h-36.0zM442.2 141.5h18.3v18.3h-18.3zM672.2 141.5h18.3v18.3h-18.3zM318.4 159.2h71.4v18.3h-71.4zM601.5 159.2h18.3v18.3h-18.3zM406.9 176.9h18.3v18.3h-18.3zM459.9 176.9h18.3v18.3h-18.3zM583.8 176.9h18.3v18.3h-18.3zM318.4 194.6h18.3v18.3h-18.3zM389.2 194.6h18.3v18.3h-18.3zM513.0 194.6h18.3v18.3h-18.3zM566.1 194.6h36.0v18.3h-36.0zM672.2 194.6h18.3v18.3h-18.3zM513.0 212.3h18.3v18.3h-18.3zM247.7 230.0h18.3v18.3h-18.3zM654.5 230.0h18.3v18.3h-18.3zM159.2 247.7h36.0v18.3h-36.0zM265.3 247.7h89.0v18.3h-89.0zM141.5 265.3h71.4v18.3h-71.4zM318.4 265.3h18.3v18.3h-18.3zM88.4 283.0h18.3v18.3h-18.3zM336.1 283.0h18.3v18.3h-18.3zM406.9 283.0h18.3v18.3h-18.3zM35.4 300.7h71.4v18.3h-71.4zM689.9 300.7h18.3v18.3h-18.3zM53.1 318.4h18.3v18.3h-18.3zM636.8 318.4h36.0v18.3h-36.0zM88.4 336.1h18.3v18.3h-18.3zM566.1 336.1h18.3v18.3h-18.3zM601.5 336.1h36.0v18.3h-36.0zM106.1 353.8h18.3v18.3h-18.3zM265.3 353.8h18.3v18.3h-18.3zM654.5 353.8h18.3v18.3h-18.3zM283.0 371.5h18.3v18.3h-18.3zM654.5 371.5h18.3v18.3h-18.3zM707.6 371.5h18.3v18.3h-18.3zM601.5 389.2h36.0v18.3h-36.0zM583.8 406.9h18.3v18.3h-18.3zM831.4 442.2h18.3v18.3h-18.3zM601.5 513.0h18.3v18.3h-18.3zM884.5 548.4h18.3v18.3h-18.3zM990.6 548.4h18.3v18.3h-18.3zM813.7 601.5h18.3v18.3h-18.3zM831.4 654.5h18.3v18.3h-18.3zM318.4 672.2h18.3v18.3h-18.3zM406.9 689.9h18.3v18.3h-18.3zM796.0 707.6h18.3v18.3h-18.3zM353.8 725.3h18.3v18.3h-18.3zM1132.2 796.0h18.3v18.3h-18.3zM813.7 813.7h18.3v18.3h-18.3zM353.8 831.4h18.3v18.3h-18.3zM707.6 831.4h18.3v18.3h-18.3zM778.4 831.4h18.3v18.3h-18.3zM1149.8 831.4h18.3v18.3h-18.3zM601.5 849.1h18.3v18.3h-18.3zM725.3 866.8h18.3v18.3h-18.3zM1061.4 902.2h18.3v18.3h-18.3zM1043.7 919.9h53.7v18.3h-53.7zM1043.7 937.6h18.3v18.3h-18.3zM424.6 955.3h18.3v18.3h-18.3zM760.7 972.9h18.3v18.3h-18.3zM1061.4 972.9h18.3v18.3h-18.3zM1061.4 990.6h18.3v18.3h-18.3zM1061.4 1008.3h18.3v18.3h-18.3zM583.8 1026.0h18.3v18.3h-18.3zM1061.4 1026.0h18.3v18.3h-18.3zM778.4 1043.7h18.3v18.3h-18.3zM1043.7 1043.7h18.3v18.3h-18.3zM636.8 1061.4h18.3v18.3h-18.3zM672.2 1061.4h18.3v18.3h-18.3zM778.4 1061.4h18.3v18.3h-18.3zM1026.0 1061.4h18.3v18.3h-18.3zM672.2 1079.1h18.3v18.3h-18.3zM1008.3 1079.1h18.3v18.3h-18.3zM972.9 1096.8h18.3v18.3h-18.3zM300.7 1114.5h18.3v18.3h-18.3zM654.5 1114.5h18.3v18.3h-18.3zM672.2 1132.2h18.3v18.3h-18.3zM689.9 1149.8h18.3v18.3h-18.3zM442.2 1167.5h18.3v18.3h-18.3zM265.3 1291.4h18.3v18.3h-18.3zM176.9 1309.1h18.3v18.3h-18.3zM1096.8 1309.1h18.3v18.3h-18.3zM513.0 1326.7h18.3v18.3h-18.3zM1114.5 1326.7h18.3v18.3h-18.3zM176.9 1344.4h18.3v18.3h-18.3zM353.8 1344.4h18.3v18.3h-18.3zM1132.2 1344.4h18.3v18.3h-18.3zM194.6 1362.1h18.3v18.3h-18.3zM1149.8 1362.1h18.3v18.3h-18.3zM1167.5 1379.8h18.3v18.3h-18.3zM1202.9 1397.5h18.3v18.3h-18.3zM1202.9 1415.2h18.3v18.3h-18.3zM1202.9 1432.9h18.3v18.3h-18.3z"/>
<path fill="#262626" d="M495.3 106.1h36.0v18.3h-36.0zM583.8 106.1h18.3v18.3h-18.3zM442.2 194.6h36.0v18.3h-36.0zM442.2 212.3h18.3v18.3h-18.3zM672.2 212.3h18.3v18.3h-18.3zM442.2 230.0h18.3v18.3h-18.3zM53.1 247.7h18.3v18.3h-18.3zM371.5 247.7h18.3v18.3h-18.3zM-35.4 283.0h71.4v18.3h-71.4zM619.1 318.4h18.3v18.3h-18.3zM-35.4 336.1h71.4v18.3h-71.4zM70.8 336.1h18.3v18.3h-18.3zM70.8 353.8h18.3v18.3h-18.3zM566.1 353.8h18.3v18.3h-18.3zM123.8 371.5h18.3v18.3h-18.3zM212.3 371.5h53.7v18.3h-53.7zM566.1 371.5h18.3v18.3h-18.3zM743.0 371.5h18.3v18.3h-18.3zM53.1 389.2h18.3v18.3h-18.3zM566.1 389.2h18.3v18.3h-18.3zM831.4 389.2h18.3v18.3h-18.3zM601.5 406.9h18.3v18.3h-18.3zM849.1 406.9h18.3v18.3h-18.3zM849.1 442.2h18.3v18.3h-18.3zM566.1 513.0h18.3v18.3h-18.3zM972.9 548.4h18.3v18.3h-18.3zM159.2 619.1h18.3v18.3h-18.3zM159.2 636.8h18.3v18.3h-18.3zM831.4 672.2h18.3v18.3h-18.3zM353.8 689.9h18.3v18.3h-18.3zM477.6 689.9h18.3v18.3h-18.3zM300.7 743.0h18.3v18.3h-18.3zM300.7 760.7h18.3v18.3h-18.3zM318.4 778.4h18.3v18.3h-18.3zM760.7 778.4h36.0v18.3h-36.0zM1008.3 778.4h18.3v18.3h-18.3zM760.7 796.0h36.0v18.3h-36.0zM619.1 849.1h18.3v18.3h-18.3zM743.0 849.1h18.3v18.3h-18.3zM849.1 849.1h18.3v18.3h-18.3zM442.2 866.8h18.3v18.3h-18.3zM760.7 866.8h18.3v18.3h-18.3zM442.2 884.5h18.3v18.3h-18.3zM760.7 884.5h18.3v18.3h-18.3zM760.7 902.2h18.3v18.3h-18.3zM1096.8 902.2h18.3v18.3h-18.3zM1096.8 937.6h18.3v18.3h-18.3zM477.6 955.3h18.3v18.3h-18.3zM760.7 955.3h18.3v18.3h-18.3zM1079.1 972.9h18.3v18.3h-18.3zM318.4 1008.3h18.3v18.3h-18.3zM530.7 1008.3h18.3v18.3h-18.3zM1026.0 1026.0h36.0v18.3h-36.0zM1026.0 1043.7h18.3v18.3h-18.3zM955.3 1061.4h71.4v18.3h-71.4zM619.1 1079.1h36.0v18.3h-36.0zM866.8 1079.1h18.3v18.3h-18.3zM990.6 1079.1h18.3v18.3h-18.3zM619.1 1096.8h36.0v18.3h-36.0zM743.0 1096.8h18.3v18.3h-18.3zM902.2 1096.8h18.3v18.3h-18.3zM672.2 1149.8h18.3v18.3h-18.3zM955.3 1167.5h18.3v18.3h-18.3zM1026.0 1167.5h18.3v18.3h-18.3zM972.9 1185.2h18.3v18.3h-18.3zM1043.7 1185.2h18.3v18.3h-18.3zM990.6 1202.9h18.3v18.3h-18.3zM1061.4 1202.9h18.3v18.3h-18.3zM654.5 1220.6h18.3v18.3h-18.3zM1008.3 1220.6h18.3v18.3h-18.3zM1079.1 1220.6h18.3v18.3h-18.3zM230.0 1238.3h36.0v18.3h-36.0zM1026.0 1238.3h18.3v18.3h-18.3zM1096.8 1238.3h18.3v18.3h-18.3zM194.6 1256.0h36.0v18.3h-36.0zM442.2 1256.0h18.3v18.3h-18.3zM1043.7 1256.0h18.3v18.3h-18.3zM1114.5 1256.0h18.3v18.3h-18.3zM1061.4 1273.7h18.3v18.3h-18.3zM1132.2 1273.7h18.3v18.3h-18.3zM1379.8 1273.7h18.3v18.3h-18.3zM636.8 1291.4h18.3v18.3h-18.3zM1079.1 1291.4h18.3v18.3h-18.3zM1149.8 1291.4h18.3v18.3h-18.3zM1397.5 1291.4h53.7v18.3h-53.7zM1167.5 1309.1h18.3v18.3h-18.3zM159.2 1326.7h18.3v18.3h-18.3zM1185.2 1326.7h18.3v18.3h-18.3zM1202.9 1344.4h18.3v18.3h-18.3zM336.1 1362.1h18.3v18.3h-18.3zM1220.6 1362.1h18.3v18.3h-18.3zM336.1 1379.8h18.3v18.3h-18.3zM1238.3 1379.8h18.3v18.3h-18.3zM336.1 1397.5h18.3v18.3h-18.3zM1256.0 1397.5h18.3v18.3h-18.3zM336.1 1415.2h18.3v18.3h-18.3zM1256.0 1415.2h18.3v18.3h-18.3zM336.1 1432.9h18.3v18.3h-18.3zM1256.0 1432.9h18.3v18.3h-18.3z"/>
<path fill="#272727" d="M283.0 159.2h36.0v18.3h-36.0zM389.2 159.2h18.3v18.3h-18.3zM424.6 159.2h36.0v18.3h-36.0zM265.3 176.9h18.3v18.3h-18.3zM513.0 176.9h36.0v18.3h-36.0zM53.1 194.6h18.3v18.3h-18.3zM176.9 194.6h36.0v18.3h-36.0zM530.7 194.6h36.0v18.3h-36.0zM636.8 194.6h36.0v18.3h-36.0zM53.1 212.3h18.3v18.3h-18.3zM159.2 212.3h18.3v18.3h-18.3zM389.2 212.3h18.3v18.3h-18.3zM530.7 212.3h36.0v18.3h-36.0zM159.2 230.0h18.3v18.3h-18.3zM88.4 265.3h53.7v18.3h-53.7zM300.7 283.0h18.3v18.3h-18.3zM353.8 283.0h18.3v18.3h-18.3zM672.2 283.0h18.3v18.3h-18.3zM707.6 283.0h18.3v18.3h-18.3zM141.5 300.7h36.0v18.3h-36.0zM336.1 300.7h18.3v18.3h-18.3zM672.2 300.7h18.3v18.3h-18.3zM247.7 318.4h18.3v18.3h-18.3zM689.9 318.4h18.3v18.3h-18.3zM247.7 336.1h18.3v18.3h-18.3zM336.1 336.1h18.3v18.3h-18.3zM-35.4 353.8h71.4v18.3h-71.4zM194.6 353.8h18.3v18.3h-18.3zM760.7 371.5h18.3v18.3h-18.3zM548.4 389.2h18.3v18.3h-18.3zM884.5 406.9h18.3v18.3h-18.3zM583.8 424.6h18.3v18.3h-18.3zM707.6 424.6h18.3v18.3h-18.3zM849.1 424.6h18.3v18.3h-18.3zM884.5 424.6h18.3v18.3h-18.3zM813.7 442.2h18.3v18.3h-18.3zM725.3 477.6h18.3v18.3h-18.3zM636.8 495.3h18.3v18.3h-18.3zM778.4 513.0h18.3v18.3h-18.3zM796.0 548.4h18.3v18.3h-18.3zM17.7 601.5h18.3v18.3h-18.3zM796.0 601.5h18.3v18.3h-18.3zM123.8 619.1h18.3v18.3h-18.3zM106.1 654.5h18.3v18.3h-18.3zM371.5 707.6h18.3v18.3h-18.3zM424.6 707.6h18.3v18.3h-18.3zM300.7 725.3h18.3v18.3h-18.3zM955.3 725.3h18.3v18.3h-18.3zM194.6 743.0h18.3v18.3h-18.3zM1220.6 778.4h18.3v18.3h-18.3zM707.6 796.0h18.3v18.3h-18.3zM1238.3 813.7h18.3v18.3h-18.3zM955.3 831.4h18.3v18.3h-18.3zM1256.0 831.4h18.3v18.3h-18.3zM760.7 849.1h18.3v18.3h-18.3zM813.7 849.1h36.0v18.3h-36.0zM955.3 849.1h18.3v18.3h-18.3zM1079.1 849.1h18.3v18.3h-18.3zM778.4 972.9h18.3v18.3h-18.3zM424.6 990.6h18.3v18.3h-18.3zM1026.0 990.6h36.0v18.3h-36.0zM1096.8 990.6h18.3v18.3h-18.3zM336.1 1008.3h18.3v18.3h-18.3zM1026.0 1008.3h18.3v18.3h-18.3zM1114.5 1008.3h18.3v18.3h-18.3zM990.6 1026.0h36.0v18.3h-36.0zM1114.5 1026.0h36.0v18.3h-36.0zM654.5 1043.7h18.3v18.3h-18.3zM990.6 1043.7h18.3v18.3h-18.3zM1149.8 1043.7h18.3v18.3h-18.3zM265.3 1061.4h18.3v18.3h-18.3zM1149.8 1061.4h36.0v18.3h-36.0zM1185.2 1079.1h18.3v18.3h-18.3zM725.3 1096.8h18.3v18.3h-18.3zM1185.2 1096.8h36.0v18.3h-36.0zM442.2 1114.5h18.3v18.3h-18.3zM1220.6 1114.5h18.3v18.3h-18.3zM619.1 1132.2h18.3v18.3h-18.3zM990.6 1132.2h18.3v18.3h-18.3zM1220.6 1132.2h36.0v18.3h-36.0zM442.2 1149.8h18.3v18.3h-18.3zM937.6 1149.8h18.3v18.3h-18.3zM1008.3 1149.8h36.0v18.3h-36.0zM1256.0 1149.8h18.3v18.3h-18.3zM389.2 1167.5h18.3v18.3h-18.3zM1256.0 1167.5h36.0v18.3h-36.0zM990.6 1185.2h18.3v18.3h-18.3zM1061.4 1185.2h18.3v18.3h-18.3zM1291.4 1185.2h18.3v18.3h-18.3zM654.5 1202.9h18.3v18.3h-18.3zM1291.4 1202.9h36.0v18.3h-36.0zM212.3 1220.6h18.3v18.3h-18.3zM1026.0 1220.6h18.3v18.3h-18.3zM1096.8 1220.6h18.3v18.3h-18.3zM1326.7 1220.6h18.3v18.3h-18.3zM194.6 1238.3h36.0v18.3h-36.0zM442.2 1238.3h18.3v18.3h-18.3zM1326.7 1238.3h36.0v18.3h-36.0zM619.1 1256.0h36.0v18.3h-36.0zM1061.4 1256.0h18.3v18.3h-18.3zM1132.2 1256.0h18.3v18.3h-18.3zM1362.1 1256.0h18.3v18.3h-18.3zM265.3 1273.7h18.3v18.3h-18.3zM619.1 1273.7h18.3v18.3h-18.3zM1362.1 1273.7h18.3v18.3h-18.3zM194.6 1291.4h18.3v18.3h-18.3zM318.4 1291.4h18.3v18.3h-18.3zM1096.8 1291.4h18.3v18.3h-18.3zM1167.5 1291.4h18.3v18.3h-18.3zM1397.5 1309.1h53.7v18.3h-53.7zM1132.2 1326.7h18.3v18.3h-18.3zM1202.9 1326.7h18.3v18.3h-18.3zM336.1 1344.4h18.3v18.3h-18.3zM230.0 1362.1h53.7v18.3h-53.7zM1167.5 1362.1h18.3v18.3h-18.3zM1238.3 1362.1h18.3v18.3h-18.3zM1273.7 1397.5h18.3v18.3h-18.3zM1273.7 1415.2h18.3v18.3h-18.3zM1273.7 1432.9h18.3v18.3h-18.3z"/>
<path fill="#282828" d="M283.0 17.7h36.0v18.3h-36.0zM353.8 17.7h36.0v18.3h-36.0zM442.2 106.1h18.3v18.3h-18.3zM389.2 123.8h36.0v18.3h-36.0zM442.2 123.8h18.3v18.3h-18.3zM194.6 141.5h18.3v18.3h-18.3zM194.6 159.2h18.3v18.3h-18.3zM406.9 159.2h18.3v18.3h-18.3zM-35.4 194.6h89.0v18.3h-89.0zM70.8 194.6h18.3v18.3h-18.3zM283.0 194.6h36.0v18.3h-36.0zM406.9 194.6h18.3v18.3h-18.3zM318.4 212.3h18.3v18.3h-18.3zM424.6 212.3h18.3v18.3h-18.3zM318.4 230.0h18.3v18.3h-18.3zM336.1 265.3h18.3v18.3h-18.3zM35.4 283.0h18.3v18.3h-18.3zM35.4 336.1h36.0v18.3h-36.0zM106.1 371.5h18.3v18.3h-18.3zM265.3 371.5h18.3v18.3h-18.3zM548.4 442.2h18.3v18.3h-18.3zM583.8 459.9h18.3v18.3h-18.3zM619.1 477.6h36.0v18.3h-36.0zM831.4 477.6h18.3v18.3h-18.3zM619.1 495.3h18.3v18.3h-18.3zM583.8 548.4h18.3v18.3h-18.3zM796.0 566.1h18.3v18.3h-18.3zM35.4 583.8h18.3v18.3h-18.3zM35.4 601.5h18.3v18.3h-18.3zM353.8 707.6h18.3v18.3h-18.3zM442.2 707.6h36.0v18.3h-36.0zM336.1 760.7h18.3v18.3h-18.3zM318.4 796.0h18.3v18.3h-18.3zM566.1 813.7h18.3v18.3h-18.3zM937.6 813.7h18.3v18.3h-18.3zM1061.4 813.7h18.3v18.3h-18.3zM1167.5 813.7h18.3v18.3h-18.3zM583.8 831.4h18.3v18.3h-18.3zM813.7 831.4h36.0v18.3h-36.0zM884.5 831.4h53.7v18.3h-53.7zM1061.4 831.4h18.3v18.3h-18.3zM1185.2 831.4h18.3v18.3h-18.3zM1256.0 849.1h36.0v18.3h-36.0zM477.6 866.8h18.3v18.3h-18.3zM1291.4 866.8h18.3v18.3h-18.3zM1291.4 884.5h36.0v18.3h-36.0zM1326.7 902.2h18.3v18.3h-18.3zM760.7 919.9h18.3v18.3h-18.3zM1326.7 919.9h36.0v18.3h-36.0zM389.2 937.6h18.3v18.3h-18.3zM760.7 937.6h18.3v18.3h-18.3zM1362.1 937.6h18.3v18.3h-18.3zM1362.1 955.3h36.0v18.3h-36.0zM424.6 972.9h18.3v18.3h-18.3zM1043.7 972.9h18.3v18.3h-18.3zM583.8 1043.7h18.3v18.3h-18.3zM636.8 1043.7h18.3v18.3h-18.3zM1167.5 1043.7h18.3v18.3h-18.3zM884.5 1061.4h18.3v18.3h-18.3zM1202.9 1079.1h18.3v18.3h-18.3zM972.9 1114.5h36.0v18.3h-36.0zM1238.3 1114.5h18.3v18.3h-18.3zM919.9 1132.2h18.3v18.3h-18.3zM955.3 1149.8h18.3v18.3h-18.3zM1273.7 1149.8h18.3v18.3h-18.3zM371.5 1167.5h18.3v18.3h-18.3zM1309.1 1185.2h18.3v18.3h-18.3zM1397.5 1185.2h53.7v18.3h-53.7zM1397.5 1202.9h53.7v18.3h-53.7zM230.0 1220.6h36.0v18.3h-36.0zM371.5 1220.6h18.3v18.3h-18.3zM619.1 1220.6h18.3v18.3h-18.3zM1344.4 1220.6h18.3v18.3h-18.3zM619.1 1238.3h18.3v18.3h-18.3zM654.5 1238.3h18.3v18.3h-18.3zM265.3 1256.0h18.3v18.3h-18.3zM1379.8 1256.0h18.3v18.3h-18.3zM283.0 1273.7h18.3v18.3h-18.3zM636.8 1309.1h18.3v18.3h-18.3zM212.3 1362.1h18.3v18.3h-18.3z"/>
<path fill="#292929" d="M530.7 141.5h18.3v18.3h-18.3zM530.7 159.2h18.3v18.3h-18.3zM265.3 194.6h18.3v18.3h-18.3zM35.4 212.3h18.3v18.3h-18.3zM406.9 212.3h18.3v18.3h-18.3zM53.1 230.0h18.3v18.3h-18.3zM389.2 230.0h18.3v18.3h-18.3zM442.2 265.3h18.3v18.3h-18.3zM654.5 283.0h18.3v18.3h-18.3zM230.0 300.7h18.3v18.3h-18.3zM123.8 336.1h18.3v18.3h-18.3zM689.9 336.1h18.3v18.3h-18.3zM35.4 353.8h36.0v18.3h-36.0zM672.2 353.8h36.0v18.3h-36.0zM70.8 371.5h18.3v18.3h-18.3zM548.4 371.5h18.3v18.3h-18.3zM672.2 371.5h18.3v18.3h-18.3zM247.7 389.2h36.0v18.3h-36.0zM566.1 406.9h18.3v18.3h-18.3zM778.4 442.2h18.3v18.3h-18.3zM760.7 513.0h18.3v18.3h-18.3zM123.8 530.7h18.3v18.3h-18.3zM566.1 530.7h18.3v18.3h-18.3zM123.8 548.4h18.3v18.3h-18.3zM566.1 548.4h18.3v18.3h-18.3zM796.0 583.8h18.3v18.3h-18.3zM831.4 619.1h18.3v18.3h-18.3zM424.6 654.5h18.3v18.3h-18.3zM194.6 672.2h18.3v18.3h-18.3zM194.6 689.9h18.3v18.3h-18.3zM318.4 689.9h18.3v18.3h-18.3zM106.1 707.6h18.3v18.3h-18.3zM141.5 707.6h18.3v18.3h-18.3zM141.5 725.3h18.3v18.3h-18.3zM212.3 743.0h18.3v18.3h-18.3zM972.9 743.0h18.3v18.3h-18.3zM230.0 760.7h18.3v18.3h-18.3zM601.5 813.7h18.3v18.3h-18.3zM1220.6 813.7h18.3v18.3h-18.3zM725.3 831.4h18.3v18.3h-18.3zM884.5 849.1h36.0v18.3h-36.0zM866.8 866.8h18.3v18.3h-18.3zM1043.7 866.8h18.3v18.3h-18.3zM866.8 919.9h18.3v18.3h-18.3zM1132.2 919.9h18.3v18.3h-18.3zM1149.8 937.6h18.3v18.3h-18.3zM283.0 955.3h18.3v18.3h-18.3zM459.9 955.3h18.3v18.3h-18.3zM778.4 955.3h18.3v18.3h-18.3zM1061.4 955.3h18.3v18.3h-18.3zM1149.8 955.3h18.3v18.3h-18.3zM283.0 972.9h18.3v18.3h-18.3zM1096.8 972.9h18.3v18.3h-18.3zM654.5 990.6h18.3v18.3h-18.3zM1079.1 990.6h18.3v18.3h-18.3zM1397.5 990.6h53.7v18.3h-53.7zM1008.3 1008.3h18.3v18.3h-18.3zM1132.2 1008.3h18.3v18.3h-18.3zM513.0 1026.0h18.3v18.3h-18.3zM972.9 1043.7h18.3v18.3h-18.3zM300.7 1061.4h18.3v18.3h-18.3zM955.3 1096.8h18.3v18.3h-18.3zM619.1 1114.5h36.0v18.3h-36.0zM919.9 1114.5h18.3v18.3h-18.3zM654.5 1132.2h18.3v18.3h-18.3zM283.0 1167.5h18.3v18.3h-18.3zM1043.7 1202.9h18.3v18.3h-18.3zM1079.1 1238.3h18.3v18.3h-18.3zM123.8 1256.0h18.3v18.3h-18.3zM194.6 1273.7h18.3v18.3h-18.3zM1114.5 1273.7h18.3v18.3h-18.3zM176.9 1291.4h18.3v18.3h-18.3zM619.1 1291.4h18.3v18.3h-18.3zM1149.8 1309.1h18.3v18.3h-18.3zM353.8 1326.7h18.3v18.3h-18.3zM1185.2 1344.4h18.3v18.3h-18.3zM1220.6 1379.8h18.3v18.3h-18.3z"/>
<path fill="#2a2a2a" d="M513.0 159.2h18.3v18.3h-18.3zM212.3 194.6h18.3v18.3h-18.3zM265.3 212.3h18.3v18.3h-18.3zM477.6 212.3h18.3v18.3h-18.3zM601.5 212.3h18.3v18.3h-18.3zM176.9 230.0h18.3v18.3h-18.3zM265.3 230.0h18.3v18.3h-18.3zM353.8 230.0h18.3v18.3h-18.3zM70.8 265.3h18.3v18.3h-18.3zM459.9 283.0h18.3v18.3h-18.3zM477.6 336.1h18.3v18.3h-18.3zM141.5 353.8h18.3v18.3h-18.3zM194.6 371.5h18.3v18.3h-18.3zM442.2 371.5h18.3v18.3h-18.3zM619.1 371.5h18.3v18.3h-18.3zM689.9 371.5h18.3v18.3h-18.3zM707.6 389.2h18.3v18.3h-18.3zM813.7 389.2h18.3v18.3h-18.3zM283.0 406.9h18.3v18.3h-18.3zM849.1 459.9h18.3v18.3h-18.3zM796.0 513.0h18.3v18.3h-18.3zM796.0 619.1h18.3v18.3h-18.3zM831.4 636.8h18.3v18.3h-18.3zM849.1 672.2h18.3v18.3h-18.3zM283.0 725.3h18.3v18.3h-18.3zM336.1 743.0h18.3v18.3h-18.3zM778.4 760.7h18.3v18.3h-18.3zM88.4 796.0h18.3v18.3h-18.3zM689.9 796.0h18.3v18.3h-18.3zM813.7 796.0h18.3v18.3h-18.3zM689.9 813.7h18.3v18.3h-18.3zM760.7 831.4h18.3v18.3h-18.3zM849.1 831.4h36.0v18.3h-36.0zM1273.7 831.4h18.3v18.3h-18.3zM1132.2 849.1h18.3v18.3h-18.3zM1149.8 866.8h18.3v18.3h-18.3zM1309.1 866.8h18.3v18.3h-18.3zM353.8 884.5h18.3v18.3h-18.3zM495.3 902.2h18.3v18.3h-18.3zM1344.4 902.2h18.3v18.3h-18.3zM1114.5 919.9h18.3v18.3h-18.3zM866.8 937.6h18.3v18.3h-18.3zM1061.4 937.6h18.3v18.3h-18.3zM1379.8 937.6h18.3v18.3h-18.3zM1026.0 955.3h18.3v18.3h-18.3zM1167.5 955.3h18.3v18.3h-18.3zM796.0 972.9h18.3v18.3h-18.3zM1185.2 972.9h18.3v18.3h-18.3zM1397.5 972.9h53.7v18.3h-53.7zM1185.2 990.6h36.0v18.3h-36.0zM477.6 1008.3h18.3v18.3h-18.3zM1220.6 1008.3h18.3v18.3h-18.3zM424.6 1026.0h18.3v18.3h-18.3zM1220.6 1026.0h36.0v18.3h-36.0zM619.1 1043.7h18.3v18.3h-18.3zM1256.0 1043.7h18.3v18.3h-18.3zM1256.0 1061.4h36.0v18.3h-36.0zM919.9 1079.1h18.3v18.3h-18.3zM1291.4 1079.1h18.3v18.3h-18.3zM1291.4 1096.8h36.0v18.3h-36.0zM1326.7 1114.5h18.3v18.3h-18.3zM1326.7 1132.2h36.0v18.3h-36.0zM1362.1 1149.8h18.3v18.3h-18.3zM1008.3 1167.5h18.3v18.3h-18.3zM1362.1 1167.5h36.0v18.3h-36.0zM424.6 1273.7h18.3v18.3h-18.3zM318.4 1309.1h18.3v18.3h-18.3zM283.0 1326.7h18.3v18.3h-18.3zM336.1 1326.7h18.3v18.3h-18.3zM583.8 1326.7h18.3v18.3h-18.3zM583.8 1344.4h18.3v18.3h-18.3z"/>
<path fill="#2b2b2b" d="M265.3 17.7h18.3v18.3h-18.3zM318.4 17.7h18.3v18.3h-18.3zM406.9 70.8h18.3v18.3h-18.3zM230.0 88.4h18.3v18.3h-18.3zM-35.4 212.3h71.4v18.3h-71.4zM283.0 212.3h18.3v18.3h-18.3zM566.1 212.3h18.3v18.3h-18.3zM283.0 230.0h18.3v18.3h-18.3zM353.8 247.7h18.3v18.3h-18.3zM672.2 247.7h18.3v18.3h-18.3zM-35.4 265.3h71.4v18.3h-71.4zM300.7 265.3h18.3v18.3h-18.3zM566.1 265.3h18.3v18.3h-18.3zM636.8 265.3h36.0v18.3h-36.0zM318.4 283.0h18.3v18.3h-18.3zM442.2 283.0h18.3v18.3h-18.3zM389.2 336.1h18.3v18.3h-18.3zM548.4 336.1h18.3v18.3h-18.3zM53.1 371.5h18.3v18.3h-18.3zM88.4 389.2h18.3v18.3h-18.3zM123.8 389.2h53.7v18.3h-53.7zM725.3 389.2h18.3v18.3h-18.3zM778.4 389.2h18.3v18.3h-18.3zM424.6 424.6h18.3v18.3h-18.3zM831.4 459.9h18.3v18.3h-18.3zM672.2 530.7h18.3v18.3h-18.3zM760.7 530.7h18.3v18.3h-18.3zM-35.4 583.8h53.7v18.3h-53.7zM548.4 583.8h18.3v18.3h-18.3zM406.9 672.2h18.3v18.3h-18.3zM336.1 707.6h18.3v18.3h-18.3zM495.3 725.3h18.3v18.3h-18.3zM300.7 778.4h18.3v18.3h-18.3zM955.3 796.0h18.3v18.3h-18.3zM1061.4 796.0h18.3v18.3h-18.3zM583.8 813.7h18.3v18.3h-18.3zM760.7 813.7h18.3v18.3h-18.3zM1043.7 813.7h18.3v18.3h-18.3zM636.8 831.4h18.3v18.3h-18.3zM743.0 831.4h18.3v18.3h-18.3zM1043.7 831.4h18.3v18.3h-18.3zM919.9 849.1h18.3v18.3h-18.3zM1043.7 849.1h18.3v18.3h-18.3zM902.2 866.8h18.3v18.3h-18.3zM778.4 884.5h18.3v18.3h-18.3zM849.1 884.5h36.0v18.3h-36.0zM1132.2 884.5h18.3v18.3h-18.3zM778.4 902.2h18.3v18.3h-18.3zM866.8 902.2h18.3v18.3h-18.3zM1149.8 902.2h18.3v18.3h-18.3zM778.4 919.9h18.3v18.3h-18.3zM778.4 937.6h18.3v18.3h-18.3zM406.9 972.9h18.3v18.3h-18.3zM1202.9 972.9h18.3v18.3h-18.3zM459.9 990.6h18.3v18.3h-18.3zM990.6 990.6h18.3v18.3h-18.3zM1238.3 1008.3h18.3v18.3h-18.3zM955.3 1026.0h18.3v18.3h-18.3zM1273.7 1043.7h18.3v18.3h-18.3zM583.8 1061.4h18.3v18.3h-18.3zM778.4 1079.1h18.3v18.3h-18.3zM955.3 1079.1h18.3v18.3h-18.3zM1309.1 1079.1h18.3v18.3h-18.3zM866.8 1096.8h18.3v18.3h-18.3zM902.2 1114.5h18.3v18.3h-18.3zM1344.4 1114.5h18.3v18.3h-18.3zM760.7 1132.2h18.3v18.3h-18.3zM972.9 1132.2h18.3v18.3h-18.3zM654.5 1149.8h18.3v18.3h-18.3zM1379.8 1149.8h18.3v18.3h-18.3zM1397.5 1167.5h53.7v18.3h-53.7zM424.6 1185.2h18.3v18.3h-18.3zM672.2 1220.6h18.3v18.3h-18.3zM106.1 1273.7h18.3v18.3h-18.3zM159.2 1291.4h18.3v18.3h-18.3zM336.1 1291.4h18.3v18.3h-18.3zM548.4 1309.1h18.3v18.3h-18.3zM247.7 1326.7h18.3v18.3h-18.3zM300.7 1326.7h18.3v18.3h-18.3zM353.8 1379.8h18.3v18.3h-18.3zM530.7 1379.8h18.3v18.3h-18.3zM353.8 1397.5h18.3v18.3h-18.3zM353.8 1415.2h18.3v18.3h-18.3zM353.8 1432.9h18.3v18.3h-18.3z"/>
<path fill="#2c2c2c" d="M194.6 106.1h18.3v18.3h-18.3zM194.6 123.8h18.3v18.3h-18.3zM654.5 159.2h18.3v18.3h-18.3zM70.8 212.3h18.3v18.3h-18.3zM424.6 265.3h18.3v18.3h-18.3zM495.3 265.3h18.3v18.3h-18.3zM548.4 265.3h18.3v18.3h-18.3zM672.2 265.3h18.3v18.3h-18.3zM707.6 318.4h18.3v18.3h-18.3zM459.9 336.1h18.3v18.3h-18.3zM459.9 353.8h18.3v18.3h-18.3zM707.6 353.8h18.3v18.3h-18.3zM70.8 389.2h18.3v18.3h-18.3zM106.1 389.2h18.3v18.3h-18.3zM530.7 389.2h18.3v18.3h-18.3zM70.8 406.9h18.3v18.3h-18.3zM265.3 406.9h18.3v18.3h-18.3zM53.1 424.6h18.3v18.3h-18.3zM106.1 424.6h36.0v18.3h-36.0zM566.1 424.6h18.3v18.3h-18.3zM123.8 442.2h18.3v18.3h-18.3zM601.5 442.2h18.3v18.3h-18.3zM123.8 459.9h18.3v18.3h-18.3zM743.0 459.9h18.3v18.3h-18.3zM778.4 459.9h36.0v18.3h-36.0zM106.1 477.6h36.0v18.3h-36.0zM778.4 477.6h18.3v18.3h-18.3zM813.7 477.6h18.3v18.3h-18.3zM106.1 495.3h71.4v18.3h-71.4zM123.8 513.0h36.0v18.3h-36.0zM141.5 566.1h53.7v18.3h-53.7zM159.2 583.8h18.3v18.3h-18.3zM813.7 583.8h18.3v18.3h-18.3zM141.5 672.2h36.0v18.3h-36.0zM477.6 672.2h18.3v18.3h-18.3zM141.5 689.9h18.3v18.3h-18.3zM141.5 743.0h18.3v18.3h-18.3zM495.3 743.0h18.3v18.3h-18.3zM88.4 760.7h18.3v18.3h-18.3zM70.8 796.0h18.3v18.3h-18.3zM300.7 796.0h18.3v18.3h-18.3zM1149.8 796.0h18.3v18.3h-18.3zM1238.3 796.0h18.3v18.3h-18.3zM707.6 813.7h18.3v18.3h-18.3zM1202.9 813.7h18.3v18.3h-18.3zM265.3 831.4h18.3v18.3h-18.3zM1220.6 831.4h18.3v18.3h-18.3zM88.4 849.1h18.3v18.3h-18.3zM937.6 849.1h18.3v18.3h-18.3zM1167.5 849.1h18.3v18.3h-18.3zM601.5 866.8h18.3v18.3h-18.3zM1026.0 866.8h18.3v18.3h-18.3zM1079.1 884.5h18.3v18.3h-18.3zM477.6 919.9h18.3v18.3h-18.3zM919.9 919.9h18.3v18.3h-18.3zM1167.5 937.6h18.3v18.3h-18.3zM884.5 955.3h18.3v18.3h-18.3zM1185.2 955.3h18.3v18.3h-18.3zM619.1 972.9h36.0v18.3h-36.0zM1026.0 972.9h18.3v18.3h-18.3zM813.7 990.6h18.3v18.3h-18.3zM849.1 990.6h18.3v18.3h-18.3zM1220.6 990.6h18.3v18.3h-18.3zM459.9 1008.3h18.3v18.3h-18.3zM919.9 1026.0h18.3v18.3h-18.3zM1256.0 1026.0h18.3v18.3h-18.3zM283.0 1061.4h18.3v18.3h-18.3zM937.6 1061.4h18.3v18.3h-18.3zM1291.4 1061.4h18.3v18.3h-18.3zM937.6 1079.1h18.3v18.3h-18.3zM884.5 1096.8h18.3v18.3h-18.3zM1326.7 1096.8h18.3v18.3h-18.3zM194.6 1114.5h18.3v18.3h-18.3zM743.0 1114.5h18.3v18.3h-18.3zM318.4 1132.2h18.3v18.3h-18.3zM743.0 1132.2h18.3v18.3h-18.3zM1362.1 1132.2h18.3v18.3h-18.3zM654.5 1185.2h36.0v18.3h-36.0zM194.6 1202.9h18.3v18.3h-18.3zM265.3 1220.6h36.0v18.3h-36.0zM159.2 1238.3h18.3v18.3h-18.3zM265.3 1238.3h18.3v18.3h-18.3zM141.5 1256.0h36.0v18.3h-36.0zM159.2 1273.7h18.3v18.3h-18.3zM141.5 1291.4h18.3v18.3h-18.3zM194.6 1309.1h18.3v18.3h-18.3zM283.0 1309.1h18.3v18.3h-18.3zM619.1 1309.1h18.3v18.3h-18.3zM141.5 1326.7h18.3v18.3h-18.3zM601.5 1326.7h18.3v18.3h-18.3zM159.2 1362.1h18.3v18.3h-18.3z"/>
<path fill="#2d2d2d" d="M548.4 123.8h18.3v18.3h-18.3zM654.5 212.3h18.3v18.3h-18.3zM371.5 230.0h18.3v18.3h-18.3zM389.2 265.3h36.0v18.3h-36.0zM477.6 265.3h18.3v18.3h-18.3zM513.0 265.3h18.3v18.3h-18.3zM619.1 265.3h18.3v18.3h-18.3zM459.9 300.7h18.3v18.3h-18.3zM707.6 300.7h18.3v18.3h-18.3zM300.7 318.4h18.3v18.3h-18.3zM707.6 336.1h18.3v18.3h-18.3zM406.9 389.2h18.3v18.3h-18.3zM442.2 389.2h18.3v18.3h-18.3zM796.0 389.2h18.3v18.3h-18.3zM283.0 424.6h18.3v18.3h-18.3zM689.9 424.6h18.3v18.3h-18.3zM760.7 442.2h18.3v18.3h-18.3zM566.1 459.9h18.3v18.3h-18.3zM583.8 477.6h18.3v18.3h-18.3zM725.3 495.3h18.3v18.3h-18.3zM566.1 601.5h18.3v18.3h-18.3zM265.3 743.0h18.3v18.3h-18.3zM318.4 743.0h18.3v18.3h-18.3zM566.1 778.4h18.3v18.3h-18.3zM176.9 796.0h36.0v18.3h-36.0zM583.8 796.0h18.3v18.3h-18.3zM106.1 813.7h18.3v18.3h-18.3zM796.0 831.4h18.3v18.3h-18.3zM583.8 849.1h18.3v18.3h-18.3zM1202.9 849.1h18.3v18.3h-18.3zM1185.2 866.8h18.3v18.3h-18.3zM1220.6 866.8h18.3v18.3h-18.3zM1149.8 884.5h36.0v18.3h-36.0zM1167.5 902.2h36.0v18.3h-36.0zM1026.0 919.9h18.3v18.3h-18.3zM1149.8 919.9h36.0v18.3h-36.0zM1185.2 937.6h18.3v18.3h-18.3zM1202.9 955.3h18.3v18.3h-18.3zM1220.6 972.9h18.3v18.3h-18.3zM1008.3 990.6h18.3v18.3h-18.3zM1238.3 990.6h18.3v18.3h-18.3zM990.6 1008.3h18.3v18.3h-18.3zM1256.0 1008.3h18.3v18.3h-18.3zM972.9 1026.0h18.3v18.3h-18.3zM1273.7 1026.0h18.3v18.3h-18.3zM601.5 1043.7h18.3v18.3h-18.3zM955.3 1043.7h18.3v18.3h-18.3zM1291.4 1043.7h18.3v18.3h-18.3zM424.6 1061.4h18.3v18.3h-18.3zM1309.1 1061.4h18.3v18.3h-18.3zM353.8 1079.1h18.3v18.3h-18.3zM1326.7 1079.1h18.3v18.3h-18.3zM583.8 1096.8h18.3v18.3h-18.3zM1344.4 1096.8h18.3v18.3h-18.3zM230.0 1114.5h53.7v18.3h-53.7zM725.3 1114.5h18.3v18.3h-18.3zM1362.1 1114.5h18.3v18.3h-18.3zM725.3 1132.2h18.3v18.3h-18.3zM1379.8 1132.2h18.3v18.3h-18.3zM194.6 1149.8h18.3v18.3h-18.3zM1397.5 1149.8h53.7v18.3h-53.7zM159.2 1220.6h18.3v18.3h-18.3zM672.2 1238.3h18.3v18.3h-18.3zM283.0 1256.0h18.3v18.3h-18.3zM212.3 1273.7h18.3v18.3h-18.3zM212.3 1397.5h18.3v18.3h-18.3zM1149.8 1397.5h18.3v18.3h-18.3zM212.3 1415.2h18.3v18.3h-18.3zM1149.8 1415.2h18.3v18.3h-18.3zM212.3 1432.9h18.3v18.3h-18.3zM1149.8 1432.9h18.3v18.3h-18.3z"/>
<path fill="#2e2e2e" d="M583.8 88.4h18.3v18.3h-18.3zM566.1 106.1h18.3v18.3h-18.3zM424.6 176.9h18.3v18.3h-18.3zM-35.4 230.0h71.4v18.3h-71.4zM-35.4 247.7h71.4v18.3h-71.4zM353.8 265.3h18.3v18.3h-18.3zM459.9 265.3h18.3v18.3h-18.3zM530.7 265.3h18.3v18.3h-18.3zM424.6 283.0h18.3v18.3h-18.3zM566.1 283.0h18.3v18.3h-18.3zM406.9 300.7h18.3v18.3h-18.3zM442.2 300.7h18.3v18.3h-18.3zM477.6 300.7h18.3v18.3h-18.3zM353.8 318.4h18.3v18.3h-18.3zM548.4 318.4h18.3v18.3h-18.3zM88.4 353.8h18.3v18.3h-18.3zM495.3 353.8h53.7v18.3h-53.7zM194.6 389.2h18.3v18.3h-18.3zM230.0 389.2h18.3v18.3h-18.3zM760.7 389.2h18.3v18.3h-18.3zM106.1 406.9h71.4v18.3h-71.4zM424.6 406.9h18.3v18.3h-18.3zM70.8 424.6h36.0v18.3h-36.0zM141.5 424.6h53.7v18.3h-53.7zM88.4 442.2h18.3v18.3h-18.3zM141.5 442.2h53.7v18.3h-53.7zM88.4 459.9h18.3v18.3h-18.3zM141.5 459.9h53.7v18.3h-53.7zM813.7 459.9h18.3v18.3h-18.3zM88.4 477.6h18.3v18.3h-18.3zM141.5 477.6h53.7v18.3h-53.7zM88.4 495.3h18.3v18.3h-18.3zM176.9 495.3h18.3v18.3h-18.3zM176.9 513.0h18.3v18.3h-18.3zM141.5 530.7h53.7v18.3h-53.7zM141.5 548.4h53.7v18.3h-53.7zM123.8 566.1h18.3v18.3h-18.3zM123.8 583.8h18.3v18.3h-18.3zM176.9 601.5h18.3v18.3h-18.3zM176.9 619.1h18.3v18.3h-18.3zM176.9 636.8h18.3v18.3h-18.3zM176.9 654.5h89.0v18.3h-89.0zM300.7 654.5h36.0v18.3h-36.0zM849.1 654.5h18.3v18.3h-18.3zM123.8 672.2h18.3v18.3h-18.3zM212.3 672.2h53.7v18.3h-53.7zM389.2 672.2h18.3v18.3h-18.3zM123.8 689.9h18.3v18.3h-18.3zM212.3 689.9h106.7v18.3h-106.7zM495.3 689.9h18.3v18.3h-18.3zM796.0 689.9h18.3v18.3h-18.3zM176.9 707.6h106.7v18.3h-106.7zM477.6 707.6h18.3v18.3h-18.3zM88.4 743.0h18.3v18.3h-18.3zM123.8 743.0h18.3v18.3h-18.3zM760.7 743.0h36.0v18.3h-36.0zM990.6 743.0h18.3v18.3h-18.3zM106.1 760.7h18.3v18.3h-18.3zM141.5 760.7h18.3v18.3h-18.3zM123.8 778.4h18.3v18.3h-18.3zM689.9 778.4h18.3v18.3h-18.3zM972.9 778.4h18.3v18.3h-18.3zM106.1 796.0h18.3v18.3h-18.3zM654.5 813.7h18.3v18.3h-18.3zM1132.2 831.4h18.3v18.3h-18.3zM796.0 849.1h18.3v18.3h-18.3zM990.6 849.1h18.3v18.3h-18.3zM1149.8 849.1h18.3v18.3h-18.3zM1220.6 849.1h36.0v18.3h-36.0zM88.4 866.8h18.3v18.3h-18.3zM778.4 866.8h18.3v18.3h-18.3zM919.9 866.8h18.3v18.3h-18.3zM1008.3 866.8h18.3v18.3h-18.3zM1132.2 866.8h18.3v18.3h-18.3zM1167.5 866.8h18.3v18.3h-18.3zM1202.9 866.8h18.3v18.3h-18.3zM1256.0 866.8h18.3v18.3h-18.3zM796.0 884.5h53.7v18.3h-53.7zM884.5 884.5h53.7v18.3h-53.7zM1061.4 884.5h18.3v18.3h-18.3zM1185.2 884.5h106.7v18.3h-106.7zM796.0 902.2h53.7v18.3h-53.7zM884.5 902.2h18.3v18.3h-18.3zM1132.2 902.2h18.3v18.3h-18.3zM1202.9 902.2h71.4v18.3h-71.4zM1291.4 902.2h18.3v18.3h-18.3zM796.0 919.9h53.7v18.3h-53.7zM884.5 919.9h18.3v18.3h-18.3zM1185.2 919.9h142.1v18.3h-142.1zM796.0 937.6h53.7v18.3h-53.7zM1202.9 937.6h106.7v18.3h-106.7zM1326.7 937.6h18.3v18.3h-18.3zM336.1 955.3h36.0v18.3h-36.0zM813.7 955.3h53.7v18.3h-53.7zM990.6 955.3h18.3v18.3h-18.3zM1220.6 955.3h142.1v18.3h-142.1zM813.7 972.9h18.3v18.3h-18.3zM1238.3 972.9h106.7v18.3h-106.7zM1362.1 972.9h18.3v18.3h-18.3zM442.2 990.6h18.3v18.3h-18.3zM955.3 990.6h18.3v18.3h-18.3zM1256.0 990.6h142.1v18.3h-142.1zM566.1 1008.3h18.3v18.3h-18.3zM1273.7 1008.3h106.7v18.3h-106.7zM1291.4 1026.0h159.8v18.3h-159.8zM1309.1 1043.7h142.1v18.3h-142.1zM919.9 1061.4h18.3v18.3h-18.3zM1326.7 1061.4h124.4v18.3h-124.4zM583.8 1079.1h18.3v18.3h-18.3zM884.5 1079.1h18.3v18.3h-18.3zM1344.4 1079.1h106.7v18.3h-106.7zM300.7 1096.8h18.3v18.3h-18.3zM1362.1 1096.8h89.0v18.3h-89.0zM283.0 1114.5h18.3v18.3h-18.3zM1379.8 1114.5h71.4v18.3h-71.4zM1397.5 1132.2h53.7v18.3h-53.7zM406.9 1149.8h18.3v18.3h-18.3zM371.5 1238.3h18.3v18.3h-18.3zM123.8 1273.7h18.3v18.3h-18.3zM442.2 1309.1h18.3v18.3h-18.3zM353.8 1362.1h18.3v18.3h-18.3zM159.2 1379.8h36.0v18.3h-36.0zM159.2 1397.5h18.3v18.3h-18.3zM194.6 1397.5h18.3v18.3h-18.3zM371.5 1397.5h36.0v18.3h-36.0zM159.2 1415.2h18.3v18.3h-18.3zM194.6 1415.2h18.3v18.3h-18.3zM371.5 1415.2h36.0v18.3h-36.0zM159.2 1432.9h18.3v18.3h-18.3zM194.6 1432.9h18.3v18.3h-18.3zM371.5 1432.9h36.0v18.3h-36.0z"/>
<path fill="#2f2f2f" d="M619.1 159.2h18.3v18.3h-18.3zM566.1 300.7h18.3v18.3h-18.3zM371.5 318.4h18.3v18.3h-18.3zM530.7 336.1h18.3v18.3h-18.3zM530.7 371.5h18.3v18.3h-18.3zM35.4 424.6h18.3v18.3h-18.3zM548.4 424.6h18.3v18.3h-18.3zM70.8 442.2h18.3v18.3h-18.3zM566.1 442.2h18.3v18.3h-18.3zM601.5 459.9h18.3v18.3h-18.3zM212.3 530.7h18.3v18.3h-18.3zM194.6 566.1h18.3v18.3h-18.3zM778.4 566.1h18.3v18.3h-18.3zM194.6 583.8h18.3v18.3h-18.3zM194.6 636.8h18.3v18.3h-18.3zM406.9 654.5h18.3v18.3h-18.3zM265.3 672.2h18.3v18.3h-18.3zM442.2 689.9h18.3v18.3h-18.3zM813.7 689.9h18.3v18.3h-18.3zM230.0 725.3h18.3v18.3h-18.3zM106.1 743.0h18.3v18.3h-18.3zM70.8 760.7h18.3v18.3h-18.3zM123.8 760.7h18.3v18.3h-18.3zM937.6 796.0h18.3v18.3h-18.3zM743.0 813.7h18.3v18.3h-18.3zM1185.2 813.7h18.3v18.3h-18.3zM1008.3 849.1h18.3v18.3h-18.3zM1185.2 849.1h18.3v18.3h-18.3zM583.8 866.8h18.3v18.3h-18.3zM937.6 866.8h18.3v18.3h-18.3zM1238.3 866.8h18.3v18.3h-18.3zM601.5 884.5h18.3v18.3h-18.3zM902.2 902.2h18.3v18.3h-18.3zM1273.7 902.2h18.3v18.3h-18.3zM353.8 919.9h18.3v18.3h-18.3zM406.9 937.6h18.3v18.3h-18.3zM1309.1 937.6h18.3v18.3h-18.3zM831.4 972.9h18.3v18.3h-18.3zM1344.4 972.9h18.3v18.3h-18.3zM406.9 990.6h18.3v18.3h-18.3zM1379.8 1008.3h18.3v18.3h-18.3zM265.3 1043.7h18.3v18.3h-18.3zM300.7 1043.7h36.0v18.3h-36.0zM796.0 1043.7h18.3v18.3h-18.3zM406.9 1061.4h18.3v18.3h-18.3zM548.4 1061.4h36.0v18.3h-36.0zM318.4 1096.8h18.3v18.3h-18.3zM937.6 1096.8h18.3v18.3h-18.3zM389.2 1114.5h18.3v18.3h-18.3zM778.4 1114.5h18.3v18.3h-18.3zM194.6 1132.2h18.3v18.3h-18.3zM283.0 1132.2h18.3v18.3h-18.3zM424.6 1132.2h18.3v18.3h-18.3zM636.8 1132.2h18.3v18.3h-18.3zM778.4 1132.2h18.3v18.3h-18.3zM283.0 1238.3h18.3v18.3h-18.3zM495.3 1238.3h36.0v18.3h-36.0zM513.0 1362.1h18.3v18.3h-18.3zM371.5 1379.8h18.3v18.3h-18.3z"/>
<path fill="#303030" d="M530.7 283.0h18.3v18.3h-18.3zM300.7 300.7h18.3v18.3h-18.3zM566.1 318.4h18.3v18.3h-18.3zM336.1 353.8h18.3v18.3h-18.3zM513.0 371.5h18.3v18.3h-18.3zM778.4 371.5h18.3v18.3h-18.3zM831.4 424.6h18.3v18.3h-18.3zM283.0 442.2h18.3v18.3h-18.3zM778.4 495.3h18.3v18.3h-18.3zM-35.4 513.0h53.7v18.3h-53.7zM548.4 566.1h18.3v18.3h-18.3zM389.2 654.5h18.3v18.3h-18.3zM778.4 654.5h18.3v18.3h-18.3zM212.3 725.3h18.3v18.3h-18.3zM760.7 725.3h18.3v18.3h-18.3zM247.7 760.7h18.3v18.3h-18.3zM689.9 760.7h18.3v18.3h-18.3zM990.6 778.4h18.3v18.3h-18.3zM53.1 796.0h18.3v18.3h-18.3zM1043.7 796.0h18.3v18.3h-18.3zM53.1 813.7h18.3v18.3h-18.3zM1167.5 831.4h18.3v18.3h-18.3zM1202.9 831.4h18.3v18.3h-18.3zM636.8 849.1h18.3v18.3h-18.3zM353.8 866.8h18.3v18.3h-18.3zM1079.1 866.8h18.3v18.3h-18.3zM955.3 884.5h18.3v18.3h-18.3zM1008.3 884.5h18.3v18.3h-18.3zM495.3 919.9h18.3v18.3h-18.3zM1026.0 937.6h18.3v18.3h-18.3zM406.9 955.3h18.3v18.3h-18.3zM1043.7 955.3h18.3v18.3h-18.3zM442.2 972.9h18.3v18.3h-18.3zM477.6 972.9h18.3v18.3h-18.3zM796.0 990.6h18.3v18.3h-18.3zM442.2 1008.3h18.3v18.3h-18.3zM548.4 1008.3h18.3v18.3h-18.3zM1397.5 1008.3h53.7v18.3h-53.7zM406.9 1026.0h18.3v18.3h-18.3zM353.8 1043.7h18.3v18.3h-18.3zM318.4 1061.4h36.0v18.3h-36.0zM336.1 1079.1h18.3v18.3h-18.3zM778.4 1096.8h18.3v18.3h-18.3zM353.8 1114.5h18.3v18.3h-18.3zM283.0 1149.8h18.3v18.3h-18.3zM371.5 1149.8h36.0v18.3h-36.0zM424.6 1167.5h18.3v18.3h-18.3zM937.6 1185.2h18.3v18.3h-18.3zM955.3 1202.9h18.3v18.3h-18.3zM459.9 1220.6h18.3v18.3h-18.3zM972.9 1220.6h18.3v18.3h-18.3zM990.6 1238.3h18.3v18.3h-18.3zM106.1 1256.0h18.3v18.3h-18.3zM1008.3 1256.0h18.3v18.3h-18.3zM566.1 1273.7h18.3v18.3h-18.3zM1026.0 1273.7h18.3v18.3h-18.3zM566.1 1291.4h18.3v18.3h-18.3zM1043.7 1291.4h18.3v18.3h-18.3zM1061.4 1309.1h18.3v18.3h-18.3zM1079.1 1326.7h18.3v18.3h-18.3zM1096.8 1344.4h18.3v18.3h-18.3zM1114.5 1362.1h18.3v18.3h-18.3zM1132.2 1379.8h18.3v18.3h-18.3z"/>
<path fill="#313131" d="M212.3 123.8h18.3v18.3h-18.3zM424.6 194.6h18.3v18.3h-18.3zM672.2 230.0h18.3v18.3h-18.3zM35.4 265.3h18.3v18.3h-18.3zM371.5 265.3h18.3v18.3h-18.3zM353.8 300.7h18.3v18.3h-18.3zM495.3 318.4h53.7v18.3h-53.7zM300.7 336.1h18.3v18.3h-18.3zM353.8 336.1h36.0v18.3h-36.0zM495.3 336.1h36.0v18.3h-36.0zM300.7 353.8h18.3v18.3h-18.3zM88.4 371.5h18.3v18.3h-18.3zM796.0 371.5h18.3v18.3h-18.3zM53.1 406.9h18.3v18.3h-18.3zM176.9 406.9h18.3v18.3h-18.3zM194.6 424.6h18.3v18.3h-18.3zM247.7 424.6h36.0v18.3h-36.0zM495.3 424.6h18.3v18.3h-18.3zM35.4 442.2h18.3v18.3h-18.3zM194.6 442.2h18.3v18.3h-18.3zM796.0 442.2h18.3v18.3h-18.3zM35.4 459.9h18.3v18.3h-18.3zM70.8 459.9h18.3v18.3h-18.3zM194.6 459.9h18.3v18.3h-18.3zM513.0 459.9h18.3v18.3h-18.3zM194.6 477.6h18.3v18.3h-18.3zM672.2 477.6h18.3v18.3h-18.3zM194.6 495.3h18.3v18.3h-18.3zM88.4 513.0h18.3v18.3h-18.3zM194.6 513.0h18.3v18.3h-18.3zM619.1 513.0h18.3v18.3h-18.3zM194.6 530.7h18.3v18.3h-18.3zM778.4 530.7h18.3v18.3h-18.3zM194.6 548.4h18.3v18.3h-18.3zM-35.4 601.5h53.7v18.3h-53.7zM123.8 601.5h53.7v18.3h-53.7zM194.6 601.5h18.3v18.3h-18.3zM141.5 619.1h18.3v18.3h-18.3zM194.6 619.1h18.3v18.3h-18.3zM88.4 636.8h18.3v18.3h-18.3zM123.8 636.8h36.0v18.3h-36.0zM212.3 636.8h53.7v18.3h-53.7zM813.7 636.8h18.3v18.3h-18.3zM88.4 654.5h18.3v18.3h-18.3zM123.8 654.5h53.7v18.3h-53.7zM265.3 654.5h18.3v18.3h-18.3zM106.1 672.2h18.3v18.3h-18.3zM283.0 672.2h36.0v18.3h-36.0zM106.1 689.9h18.3v18.3h-18.3zM123.8 707.6h18.3v18.3h-18.3zM300.7 707.6h18.3v18.3h-18.3zM389.2 707.6h18.3v18.3h-18.3zM123.8 725.3h18.3v18.3h-18.3zM247.7 725.3h36.0v18.3h-36.0zM176.9 743.0h18.3v18.3h-18.3zM743.0 760.7h18.3v18.3h-18.3zM283.0 778.4h18.3v18.3h-18.3zM123.8 796.0h18.3v18.3h-18.3zM283.0 796.0h18.3v18.3h-18.3zM70.8 813.7h36.0v18.3h-36.0zM88.4 831.4h18.3v18.3h-18.3zM619.1 831.4h18.3v18.3h-18.3zM990.6 831.4h18.3v18.3h-18.3zM1238.3 831.4h18.3v18.3h-18.3zM53.1 849.1h18.3v18.3h-18.3zM866.8 849.1h18.3v18.3h-18.3zM972.9 849.1h18.3v18.3h-18.3zM194.6 866.8h18.3v18.3h-18.3zM796.0 866.8h18.3v18.3h-18.3zM1273.7 866.8h18.3v18.3h-18.3zM283.0 884.5h36.0v18.3h-36.0zM937.6 884.5h18.3v18.3h-18.3zM1114.5 884.5h18.3v18.3h-18.3zM265.3 902.2h18.3v18.3h-18.3zM318.4 902.2h18.3v18.3h-18.3zM919.9 902.2h18.3v18.3h-18.3zM1309.1 902.2h18.3v18.3h-18.3zM336.1 919.9h18.3v18.3h-18.3zM902.2 919.9h18.3v18.3h-18.3zM884.5 937.6h18.3v18.3h-18.3zM1344.4 937.6h18.3v18.3h-18.3zM495.3 955.3h18.3v18.3h-18.3zM866.8 955.3h18.3v18.3h-18.3zM849.1 972.9h18.3v18.3h-18.3zM1379.8 972.9h18.3v18.3h-18.3zM300.7 1026.0h36.0v18.3h-36.0zM442.2 1026.0h18.3v18.3h-18.3zM937.6 1026.0h18.3v18.3h-18.3zM283.0 1043.7h18.3v18.3h-18.3zM813.7 1043.7h18.3v18.3h-18.3zM601.5 1061.4h18.3v18.3h-18.3zM318.4 1114.5h18.3v18.3h-18.3zM866.8 1114.5h18.3v18.3h-18.3zM300.7 1132.2h18.3v18.3h-18.3zM389.2 1132.2h18.3v18.3h-18.3zM300.7 1149.8h18.3v18.3h-18.3zM353.8 1149.8h18.3v18.3h-18.3zM636.8 1149.8h18.3v18.3h-18.3zM902.2 1149.8h18.3v18.3h-18.3zM353.8 1167.5h18.3v18.3h-18.3zM919.9 1167.5h18.3v18.3h-18.3zM619.1 1185.2h18.3v18.3h-18.3zM707.6 1202.9h18.3v18.3h-18.3zM176.9 1220.6h18.3v18.3h-18.3zM353.8 1220.6h18.3v18.3h-18.3zM336.1 1256.0h18.3v18.3h-18.3zM442.2 1273.7h18.3v18.3h-18.3zM300.7 1291.4h18.3v18.3h-18.3zM123.8 1309.1h18.3v18.3h-18.3zM159.2 1309.1h18.3v18.3h-18.3zM353.8 1309.1h18.3v18.3h-18.3zM424.6 1309.1h18.3v18.3h-18.3zM601.5 1344.4h18.3v18.3h-18.3zM389.2 1362.1h18.3v18.3h-18.3zM389.2 1379.8h18.3v18.3h-18.3zM176.9 1397.5h18.3v18.3h-18.3zM406.9 1397.5h18.3v18.3h-18.3zM176.9 1415.2h18.3v18.3h-18.3zM406.9 1415.2h18.3v18.3h-18.3zM176.9 1432.9h18.3v18.3h-18.3zM406.9 1432.9h18.3v18.3h-18.3z"/>
<path fill="#323232" d="M513.0 389.2h18.3v18.3h-18.3zM194.6 406.9h18.3v18.3h-18.3zM707.6 406.9h18.3v18.3h-18.3zM743.0 406.9h18.3v18.3h-18.3zM831.4 406.9h18.3v18.3h-18.3zM743.0 442.2h18.3v18.3h-18.3zM-35.4 459.9h53.7v18.3h-53.7zM689.9 459.9h18.3v18.3h-18.3zM70.8 477.6h18.3v18.3h-18.3zM283.0 495.3h18.3v18.3h-18.3zM760.7 495.3h18.3v18.3h-18.3zM672.2 513.0h18.3v18.3h-18.3zM88.4 619.1h18.3v18.3h-18.3zM106.1 636.8h18.3v18.3h-18.3zM760.7 636.8h18.3v18.3h-18.3zM88.4 672.2h18.3v18.3h-18.3zM336.1 689.9h18.3v18.3h-18.3zM495.3 707.6h18.3v18.3h-18.3zM141.5 778.4h18.3v18.3h-18.3zM300.7 813.7h18.3v18.3h-18.3zM70.8 831.4h18.3v18.3h-18.3zM336.1 831.4h18.3v18.3h-18.3zM283.0 849.1h18.3v18.3h-18.3zM566.1 884.5h18.3v18.3h-18.3zM477.6 937.6h18.3v18.3h-18.3zM513.0 972.9h18.3v18.3h-18.3zM283.0 1008.3h36.0v18.3h-36.0zM831.4 1008.3h18.3v18.3h-18.3zM336.1 1043.7h18.3v18.3h-18.3zM442.2 1043.7h18.3v18.3h-18.3zM530.7 1043.7h18.3v18.3h-18.3zM548.4 1079.1h18.3v18.3h-18.3zM760.7 1079.1h18.3v18.3h-18.3zM265.3 1096.8h18.3v18.3h-18.3zM336.1 1096.8h36.0v18.3h-36.0zM247.7 1132.2h36.0v18.3h-36.0zM371.5 1132.2h18.3v18.3h-18.3zM265.3 1149.8h18.3v18.3h-18.3zM619.1 1167.5h18.3v18.3h-18.3zM743.0 1167.5h18.3v18.3h-18.3zM636.8 1185.2h18.3v18.3h-18.3zM707.6 1185.2h18.3v18.3h-18.3zM371.5 1202.9h18.3v18.3h-18.3zM336.1 1238.3h18.3v18.3h-18.3zM530.7 1238.3h18.3v18.3h-18.3zM972.9 1238.3h18.3v18.3h-18.3zM1008.3 1273.7h18.3v18.3h-18.3zM88.4 1291.4h18.3v18.3h-18.3zM1043.7 1309.1h18.3v18.3h-18.3zM1079.1 1344.4h18.3v18.3h-18.3zM176.9 1362.1h18.3v18.3h-18.3zM1114.5 1379.8h18.3v18.3h-18.3z"/>
<path fill="#333333" d="M371.5 283.0h18.3v18.3h-18.3zM495.3 283.0h18.3v18.3h-18.3zM371.5 300.7h18.3v18.3h-18.3zM530.7 300.7h18.3v18.3h-18.3zM389.2 318.4h18.3v18.3h-18.3zM442.2 318.4h18.3v18.3h-18.3zM548.4 353.8h18.3v18.3h-18.3zM35.4 389.2h18.3v18.3h-18.3zM212.3 406.9h36.0v18.3h-36.0zM513.0 406.9h18.3v18.3h-18.3zM548.4 406.9h18.3v18.3h-18.3zM725.3 424.6h18.3v18.3h-18.3zM583.8 442.2h18.3v18.3h-18.3zM760.7 459.9h18.3v18.3h-18.3zM566.1 477.6h18.3v18.3h-18.3zM760.7 477.6h18.3v18.3h-18.3zM636.8 513.0h18.3v18.3h-18.3zM88.4 530.7h18.3v18.3h-18.3zM548.4 548.4h18.3v18.3h-18.3zM601.5 566.1h18.3v18.3h-18.3zM760.7 566.1h18.3v18.3h-18.3zM760.7 583.8h18.3v18.3h-18.3zM760.7 601.5h18.3v18.3h-18.3zM70.8 619.1h18.3v18.3h-18.3zM106.1 619.1h18.3v18.3h-18.3zM353.8 619.1h18.3v18.3h-18.3zM760.7 619.1h18.3v18.3h-18.3zM53.1 636.8h36.0v18.3h-36.0zM760.7 654.5h18.3v18.3h-18.3zM176.9 672.2h18.3v18.3h-18.3zM176.9 689.9h18.3v18.3h-18.3zM159.2 707.6h18.3v18.3h-18.3zM283.0 707.6h18.3v18.3h-18.3zM760.7 707.6h18.3v18.3h-18.3zM88.4 725.3h36.0v18.3h-36.0zM601.5 725.3h18.3v18.3h-18.3zM672.2 725.3h18.3v18.3h-18.3zM972.9 725.3h36.0v18.3h-36.0zM88.4 778.4h18.3v18.3h-18.3zM619.1 778.4h18.3v18.3h-18.3zM654.5 778.4h18.3v18.3h-18.3zM672.2 796.0h18.3v18.3h-18.3zM1202.9 796.0h18.3v18.3h-18.3zM53.1 831.4h18.3v18.3h-18.3zM1008.3 831.4h18.3v18.3h-18.3zM1096.8 831.4h18.3v18.3h-18.3zM813.7 866.8h36.0v18.3h-36.0zM955.3 866.8h18.3v18.3h-18.3zM972.9 884.5h36.0v18.3h-36.0zM1026.0 884.5h18.3v18.3h-18.3zM849.1 919.9h18.3v18.3h-18.3zM849.1 937.6h18.3v18.3h-18.3zM1008.3 955.3h18.3v18.3h-18.3zM990.6 972.9h18.3v18.3h-18.3zM972.9 990.6h18.3v18.3h-18.3zM955.3 1008.3h18.3v18.3h-18.3zM371.5 1026.0h18.3v18.3h-18.3zM566.1 1026.0h18.3v18.3h-18.3zM406.9 1043.7h18.3v18.3h-18.3zM442.2 1096.8h18.3v18.3h-18.3zM336.1 1114.5h18.3v18.3h-18.3zM760.7 1114.5h18.3v18.3h-18.3zM353.8 1132.2h18.3v18.3h-18.3zM884.5 1132.2h18.3v18.3h-18.3zM902.2 1167.5h18.3v18.3h-18.3zM389.2 1185.2h18.3v18.3h-18.3zM689.9 1185.2h18.3v18.3h-18.3zM212.3 1202.9h18.3v18.3h-18.3zM937.6 1202.9h18.3v18.3h-18.3zM176.9 1238.3h18.3v18.3h-18.3zM176.9 1256.0h18.3v18.3h-18.3zM566.1 1344.4h18.3v18.3h-18.3zM371.5 1362.1h18.3v18.3h-18.3z"/>
<path fill="#343434" d="M35.4 247.7h18.3v18.3h-18.3zM424.6 318.4h18.3v18.3h-18.3zM477.6 318.4h18.3v18.3h-18.3zM318.4 336.1h18.3v18.3h-18.3zM442.2 353.8h18.3v18.3h-18.3zM35.4 406.9h18.3v18.3h-18.3zM725.3 406.9h18.3v18.3h-18.3zM796.0 424.6h18.3v18.3h-18.3zM247.7 442.2h36.0v18.3h-36.0zM495.3 442.2h18.3v18.3h-18.3zM70.8 495.3h18.3v18.3h-18.3zM813.7 495.3h18.3v18.3h-18.3zM530.7 513.0h18.3v18.3h-18.3zM619.1 530.7h18.3v18.3h-18.3zM106.1 566.1h18.3v18.3h-18.3zM106.1 583.8h18.3v18.3h-18.3zM-35.4 619.1h89.0v18.3h-89.0zM265.3 636.8h18.3v18.3h-18.3zM796.0 636.8h18.3v18.3h-18.3zM70.8 654.5h18.3v18.3h-18.3zM813.7 654.5h18.3v18.3h-18.3zM176.9 725.3h36.0v18.3h-36.0zM778.4 725.3h18.3v18.3h-18.3zM159.2 760.7h18.3v18.3h-18.3zM1096.8 849.1h18.3v18.3h-18.3zM300.7 866.8h18.3v18.3h-18.3zM849.1 866.8h18.3v18.3h-18.3zM972.9 866.8h18.3v18.3h-18.3zM88.4 884.5h18.3v18.3h-18.3zM265.3 919.9h18.3v18.3h-18.3zM477.6 990.6h18.3v18.3h-18.3zM283.0 1026.0h18.3v18.3h-18.3zM336.1 1026.0h18.3v18.3h-18.3zM548.4 1026.0h18.3v18.3h-18.3zM831.4 1026.0h18.3v18.3h-18.3zM283.0 1079.1h36.0v18.3h-36.0zM212.3 1114.5h18.3v18.3h-18.3zM371.5 1114.5h18.3v18.3h-18.3zM619.1 1149.8h18.3v18.3h-18.3zM300.7 1167.5h18.3v18.3h-18.3zM636.8 1167.5h18.3v18.3h-18.3zM371.5 1185.2h18.3v18.3h-18.3zM442.2 1185.2h18.3v18.3h-18.3zM230.0 1202.9h18.3v18.3h-18.3zM442.2 1202.9h18.3v18.3h-18.3zM353.8 1238.3h18.3v18.3h-18.3zM566.1 1256.0h18.3v18.3h-18.3zM601.5 1273.7h18.3v18.3h-18.3zM406.9 1326.7h18.3v18.3h-18.3zM141.5 1344.4h18.3v18.3h-18.3zM406.9 1362.1h18.3v18.3h-18.3zM406.9 1379.8h18.3v18.3h-18.3z"/>
<path fill="#353535" d="M477.6 283.0h18.3v18.3h-18.3zM513.0 283.0h18.3v18.3h-18.3zM548.4 283.0h18.3v18.3h-18.3zM495.3 300.7h18.3v18.3h-18.3zM406.9 318.4h18.3v18.3h-18.3zM442.2 336.1h18.3v18.3h-18.3zM389.2 353.8h36.0v18.3h-36.0zM477.6 353.8h18.3v18.3h-18.3zM17.7 389.2h18.3v18.3h-18.3zM495.3 406.9h18.3v18.3h-18.3zM212.3 424.6h36.0v18.3h-36.0zM212.3 459.9h18.3v18.3h-18.3zM548.4 459.9h18.3v18.3h-18.3zM725.3 459.9h18.3v18.3h-18.3zM796.0 477.6h18.3v18.3h-18.3zM743.0 495.3h18.3v18.3h-18.3zM548.4 513.0h18.3v18.3h-18.3zM-35.4 530.7h53.7v18.3h-53.7zM548.4 530.7h18.3v18.3h-18.3zM760.7 548.4h18.3v18.3h-18.3zM212.3 566.1h18.3v18.3h-18.3zM212.3 583.8h18.3v18.3h-18.3zM106.1 601.5h18.3v18.3h-18.3zM212.3 619.1h18.3v18.3h-18.3zM247.7 619.1h36.0v18.3h-36.0zM35.4 636.8h18.3v18.3h-18.3zM53.1 654.5h18.3v18.3h-18.3zM70.8 672.2h18.3v18.3h-18.3zM371.5 672.2h18.3v18.3h-18.3zM778.4 672.2h18.3v18.3h-18.3zM88.4 689.9h18.3v18.3h-18.3zM88.4 707.6h18.3v18.3h-18.3zM159.2 725.3h18.3v18.3h-18.3zM530.7 725.3h18.3v18.3h-18.3zM566.1 725.3h36.0v18.3h-36.0zM636.8 725.3h36.0v18.3h-36.0zM689.9 725.3h18.3v18.3h-18.3zM513.0 743.0h18.3v18.3h-18.3zM725.3 760.7h18.3v18.3h-18.3zM636.8 778.4h18.3v18.3h-18.3zM707.6 778.4h18.3v18.3h-18.3zM141.5 796.0h18.3v18.3h-18.3zM265.3 796.0h18.3v18.3h-18.3zM972.9 831.4h18.3v18.3h-18.3zM1096.8 866.8h18.3v18.3h-18.3zM937.6 902.2h18.3v18.3h-18.3zM230.0 919.9h18.3v18.3h-18.3zM265.3 937.6h18.3v18.3h-18.3zM902.2 937.6h18.3v18.3h-18.3zM389.2 955.3h18.3v18.3h-18.3zM459.9 972.9h18.3v18.3h-18.3zM866.8 972.9h18.3v18.3h-18.3zM424.6 1043.7h18.3v18.3h-18.3zM477.6 1043.7h18.3v18.3h-18.3zM866.8 1061.4h18.3v18.3h-18.3zM230.0 1079.1h18.3v18.3h-18.3zM601.5 1079.1h18.3v18.3h-18.3zM760.7 1096.8h18.3v18.3h-18.3zM442.2 1132.2h18.3v18.3h-18.3zM247.7 1149.8h18.3v18.3h-18.3zM725.3 1149.8h36.0v18.3h-36.0zM194.6 1167.5h18.3v18.3h-18.3zM318.4 1167.5h36.0v18.3h-36.0zM318.4 1185.2h18.3v18.3h-18.3zM247.7 1202.9h18.3v18.3h-18.3zM336.1 1202.9h18.3v18.3h-18.3zM619.1 1202.9h18.3v18.3h-18.3zM141.5 1220.6h18.3v18.3h-18.3zM336.1 1220.6h18.3v18.3h-18.3zM566.1 1220.6h18.3v18.3h-18.3zM336.1 1309.1h18.3v18.3h-18.3zM371.5 1309.1h18.3v18.3h-18.3zM459.9 1309.1h18.3v18.3h-18.3zM371.5 1344.4h18.3v18.3h-18.3zM141.5 1379.8h18.3v18.3h-18.3zM141.5 1397.5h18.3v18.3h-18.3zM141.5 1415.2h18.3v18.3h-18.3zM141.5 1432.9h18.3v18.3h-18.3z"/>
<path fill="#363636" d="M300.7 212.3h18.3v18.3h-18.3zM300.7 230.0h18.3v18.3h-18.3zM459.9 318.4h18.3v18.3h-18.3zM406.9 336.1h18.3v18.3h-18.3zM17.7 371.5h18.3v18.3h-18.3zM813.7 371.5h18.3v18.3h-18.3zM88.4 406.9h18.3v18.3h-18.3zM778.4 424.6h18.3v18.3h-18.3zM106.1 442.2h18.3v18.3h-18.3zM530.7 442.2h18.3v18.3h-18.3zM106.1 459.9h18.3v18.3h-18.3zM796.0 495.3h18.3v18.3h-18.3zM159.2 513.0h18.3v18.3h-18.3zM106.1 530.7h18.3v18.3h-18.3zM601.5 548.4h18.3v18.3h-18.3zM141.5 583.8h18.3v18.3h-18.3zM176.9 583.8h18.3v18.3h-18.3zM53.1 619.1h18.3v18.3h-18.3zM424.6 619.1h18.3v18.3h-18.3zM477.6 654.5h18.3v18.3h-18.3zM159.2 689.9h18.3v18.3h-18.3zM601.5 707.6h18.3v18.3h-18.3zM548.4 725.3h18.3v18.3h-18.3zM283.0 743.0h18.3v18.3h-18.3zM566.1 743.0h18.3v18.3h-18.3zM212.3 760.7h18.3v18.3h-18.3zM583.8 760.7h18.3v18.3h-18.3zM1185.2 760.7h18.3v18.3h-18.3zM106.1 778.4h18.3v18.3h-18.3zM212.3 778.4h18.3v18.3h-18.3zM1185.2 778.4h18.3v18.3h-18.3zM743.0 796.0h18.3v18.3h-18.3zM672.2 813.7h18.3v18.3h-18.3zM336.1 884.5h18.3v18.3h-18.3zM477.6 902.2h18.3v18.3h-18.3zM123.8 919.9h18.3v18.3h-18.3zM353.8 937.6h18.3v18.3h-18.3zM796.0 955.3h18.3v18.3h-18.3zM424.6 1008.3h18.3v18.3h-18.3zM247.7 1061.4h18.3v18.3h-18.3zM442.2 1061.4h18.3v18.3h-18.3zM796.0 1061.4h18.3v18.3h-18.3zM247.7 1096.8h18.3v18.3h-18.3zM601.5 1096.8h18.3v18.3h-18.3zM866.8 1132.2h18.3v18.3h-18.3zM265.3 1167.5h18.3v18.3h-18.3zM212.3 1185.2h18.3v18.3h-18.3zM283.0 1185.2h18.3v18.3h-18.3zM159.2 1202.9h18.3v18.3h-18.3zM283.0 1202.9h18.3v18.3h-18.3zM636.8 1202.9h18.3v18.3h-18.3zM566.1 1238.3h18.3v18.3h-18.3zM141.5 1273.7h18.3v18.3h-18.3zM353.8 1291.4h18.3v18.3h-18.3zM141.5 1309.1h18.3v18.3h-18.3zM123.8 1326.7h18.3v18.3h-18.3zM548.4 1379.8h36.0v18.3h-36.0z"/>
<path fill="#373737" d="M672.2 159.2h18.3v18.3h-18.3zM35.4 230.0h18.3v18.3h-18.3zM406.9 230.0h18.3v18.3h-18.3zM318.4 300.7h18.3v18.3h-18.3zM548.4 300.7h18.3v18.3h-18.3zM318.4 353.8h18.3v18.3h-18.3zM-35.4 371.5h53.7v18.3h-53.7zM672.2 389.2h18.3v18.3h-18.3zM336.1 442.2h18.3v18.3h-18.3zM230.0 459.9h18.3v18.3h-18.3zM743.0 477.6h18.3v18.3h-18.3zM106.1 513.0h18.3v18.3h-18.3zM778.4 601.5h18.3v18.3h-18.3zM371.5 654.5h18.3v18.3h-18.3zM353.8 672.2h18.3v18.3h-18.3zM318.4 707.6h18.3v18.3h-18.3zM283.0 760.7h18.3v18.3h-18.3zM707.6 760.7h18.3v18.3h-18.3zM70.8 778.4h18.3v18.3h-18.3zM247.7 778.4h18.3v18.3h-18.3zM743.0 778.4h18.3v18.3h-18.3zM159.2 796.0h18.3v18.3h-18.3zM548.4 796.0h18.3v18.3h-18.3zM601.5 796.0h18.3v18.3h-18.3zM1167.5 796.0h18.3v18.3h-18.3zM141.5 813.7h18.3v18.3h-18.3zM265.3 813.7h36.0v18.3h-36.0zM619.1 813.7h18.3v18.3h-18.3zM300.7 831.4h18.3v18.3h-18.3zM265.3 849.1h18.3v18.3h-18.3zM884.5 866.8h18.3v18.3h-18.3zM849.1 902.2h18.3v18.3h-18.3zM283.0 919.9h36.0v18.3h-36.0zM230.0 955.3h18.3v18.3h-18.3zM283.0 990.6h18.3v18.3h-18.3zM513.0 990.6h18.3v18.3h-18.3zM849.1 1026.0h18.3v18.3h-18.3zM566.1 1043.7h18.3v18.3h-18.3zM459.9 1061.4h18.3v18.3h-18.3zM247.7 1079.1h18.3v18.3h-18.3zM265.3 1185.2h18.3v18.3h-18.3zM300.7 1185.2h18.3v18.3h-18.3zM459.9 1185.2h18.3v18.3h-18.3zM318.4 1202.9h18.3v18.3h-18.3zM141.5 1238.3h18.3v18.3h-18.3zM459.9 1238.3h18.3v18.3h-18.3zM353.8 1256.0h18.3v18.3h-18.3zM601.5 1256.0h18.3v18.3h-18.3zM654.5 1256.0h18.3v18.3h-18.3zM176.9 1273.7h18.3v18.3h-18.3zM300.7 1273.7h36.0v18.3h-36.0zM353.8 1273.7h18.3v18.3h-18.3zM459.9 1273.7h18.3v18.3h-18.3zM566.1 1309.1h18.3v18.3h-18.3zM566.1 1397.5h18.3v18.3h-18.3zM566.1 1415.2h18.3v18.3h-18.3zM566.1 1432.9h18.3v18.3h-18.3z"/>
<path fill="#383838" d="M513.0 300.7h18.3v18.3h-18.3zM353.8 353.8h36.0v18.3h-36.0zM35.4 371.5h18.3v18.3h-18.3zM406.9 371.5h18.3v18.3h-18.3zM-35.4 389.2h53.7v18.3h-53.7zM17.7 406.9h18.3v18.3h-18.3zM247.7 406.9h18.3v18.3h-18.3zM406.9 406.9h18.3v18.3h-18.3zM17.7 424.6h18.3v18.3h-18.3zM389.2 424.6h36.0v18.3h-36.0zM53.1 442.2h18.3v18.3h-18.3zM212.3 442.2h18.3v18.3h-18.3zM53.1 459.9h18.3v18.3h-18.3zM230.0 477.6h18.3v18.3h-18.3zM212.3 495.3h18.3v18.3h-18.3zM247.7 495.3h36.0v18.3h-36.0zM70.8 513.0h18.3v18.3h-18.3zM212.3 513.0h18.3v18.3h-18.3zM247.7 513.0h18.3v18.3h-18.3zM318.4 513.0h18.3v18.3h-18.3zM725.3 513.0h18.3v18.3h-18.3zM17.7 530.7h18.3v18.3h-18.3zM88.4 548.4h36.0v18.3h-36.0zM353.8 548.4h18.3v18.3h-18.3zM636.8 548.4h18.3v18.3h-18.3zM53.1 583.8h18.3v18.3h-18.3zM230.0 583.8h18.3v18.3h-18.3zM53.1 601.5h36.0v18.3h-36.0zM212.3 601.5h18.3v18.3h-18.3zM247.7 601.5h18.3v18.3h-18.3zM230.0 619.1h18.3v18.3h-18.3zM-35.4 636.8h71.4v18.3h-71.4zM778.4 636.8h18.3v18.3h-18.3zM283.0 654.5h18.3v18.3h-18.3zM353.8 654.5h18.3v18.3h-18.3zM566.1 689.9h18.3v18.3h-18.3zM530.7 707.6h18.3v18.3h-18.3zM583.8 743.0h18.3v18.3h-18.3zM53.1 760.7h18.3v18.3h-18.3zM212.3 796.0h53.7v18.3h-53.7zM159.2 813.7h18.3v18.3h-18.3zM1149.8 813.7h18.3v18.3h-18.3zM159.2 831.4h18.3v18.3h-18.3zM106.1 849.1h18.3v18.3h-18.3zM247.7 849.1h18.3v18.3h-18.3zM265.3 866.8h18.3v18.3h-18.3zM106.1 884.5h36.0v18.3h-36.0zM176.9 884.5h36.0v18.3h-36.0zM194.6 902.2h18.3v18.3h-18.3zM194.6 919.9h18.3v18.3h-18.3zM336.1 937.6h18.3v18.3h-18.3zM336.1 972.9h18.3v18.3h-18.3zM459.9 1026.0h18.3v18.3h-18.3zM919.9 1043.7h18.3v18.3h-18.3zM424.6 1079.1h36.0v18.3h-36.0zM230.0 1132.2h18.3v18.3h-18.3zM459.9 1167.5h18.3v18.3h-18.3zM230.0 1185.2h36.0v18.3h-36.0zM424.6 1202.9h18.3v18.3h-18.3zM530.7 1220.6h18.3v18.3h-18.3zM601.5 1220.6h18.3v18.3h-18.3zM123.8 1238.3h18.3v18.3h-18.3zM477.6 1309.1h36.0v18.3h-36.0zM495.3 1326.7h18.3v18.3h-18.3zM406.9 1344.4h18.3v18.3h-18.3zM477.6 1344.4h36.0v18.3h-36.0zM513.0 1379.8h18.3v18.3h-18.3zM424.6 1397.5h18.3v18.3h-18.3zM1167.5 1397.5h18.3v18.3h-18.3zM424.6 1415.2h18.3v18.3h-18.3zM1167.5 1415.2h18.3v18.3h-18.3zM424.6 1432.9h18.3v18.3h-18.3zM1167.5 1432.9h18.3v18.3h-18.3z"/>
<path fill="#393939" d="M318.4 318.4h18.3v18.3h-18.3zM530.7 406.9h18.3v18.3h-18.3zM778.4 406.9h18.3v18.3h-18.3zM17.7 442.2h18.3v18.3h-18.3zM230.0 442.2h18.3v18.3h-18.3zM247.7 459.9h36.0v18.3h-36.0zM-35.4 566.1h53.7v18.3h-53.7zM583.8 566.1h18.3v18.3h-18.3zM813.7 566.1h18.3v18.3h-18.3zM353.8 601.5h18.3v18.3h-18.3zM778.4 619.1h18.3v18.3h-18.3zM336.1 672.2h18.3v18.3h-18.3zM530.7 743.0h18.3v18.3h-18.3zM1202.9 760.7h18.3v18.3h-18.3zM176.9 778.4h18.3v18.3h-18.3zM672.2 778.4h18.3v18.3h-18.3zM548.4 813.7h18.3v18.3h-18.3zM106.1 866.8h18.3v18.3h-18.3zM336.1 902.2h18.3v18.3h-18.3zM230.0 937.6h18.3v18.3h-18.3zM371.5 937.6h18.3v18.3h-18.3zM353.8 972.9h18.3v18.3h-18.3zM336.1 990.6h18.3v18.3h-18.3zM176.9 1026.0h18.3v18.3h-18.3zM318.4 1079.1h18.3v18.3h-18.3zM283.0 1096.8h18.3v18.3h-18.3zM849.1 1096.8h18.3v18.3h-18.3zM424.6 1114.5h18.3v18.3h-18.3zM336.1 1132.2h18.3v18.3h-18.3zM230.0 1149.8h18.3v18.3h-18.3zM247.7 1167.5h18.3v18.3h-18.3zM548.4 1202.9h18.3v18.3h-18.3zM459.9 1256.0h18.3v18.3h-18.3zM106.1 1291.4h18.3v18.3h-18.3zM442.2 1291.4h18.3v18.3h-18.3zM442.2 1326.7h18.3v18.3h-18.3zM442.2 1344.4h18.3v18.3h-18.3zM123.8 1362.1h18.3v18.3h-18.3zM477.6 1362.1h18.3v18.3h-18.3zM424.6 1379.8h18.3v18.3h-18.3zM495.3 1379.8h18.3v18.3h-18.3z"/>
<path fill="#3a3a3a" d="M424.6 389.2h18.3v18.3h-18.3zM477.6 406.9h18.3v18.3h-18.3zM283.0 459.9h18.3v18.3h-18.3zM318.4 495.3h18.3v18.3h-18.3zM70.8 530.7h18.3v18.3h-18.3zM513.0 530.7h18.3v18.3h-18.3zM513.0 548.4h18.3v18.3h-18.3zM318.4 566.1h18.3v18.3h-18.3zM689.9 566.1h18.3v18.3h-18.3zM318.4 583.8h18.3v18.3h-18.3zM778.4 583.8h18.3v18.3h-18.3zM283.0 619.1h18.3v18.3h-18.3zM406.9 619.1h18.3v18.3h-18.3zM53.1 672.2h18.3v18.3h-18.3zM760.7 689.9h18.3v18.3h-18.3zM778.4 707.6h18.3v18.3h-18.3zM513.0 725.3h18.3v18.3h-18.3zM265.3 760.7h18.3v18.3h-18.3zM601.5 760.7h18.3v18.3h-18.3zM654.5 760.7h18.3v18.3h-18.3zM53.1 778.4h18.3v18.3h-18.3zM619.1 796.0h18.3v18.3h-18.3zM654.5 796.0h18.3v18.3h-18.3zM725.3 813.7h18.3v18.3h-18.3zM1026.0 831.4h18.3v18.3h-18.3zM990.6 866.8h18.3v18.3h-18.3zM106.1 902.2h18.3v18.3h-18.3zM123.8 937.6h18.3v18.3h-18.3zM283.0 937.6h18.3v18.3h-18.3zM265.3 1008.3h18.3v18.3h-18.3zM353.8 1008.3h18.3v18.3h-18.3zM265.3 1026.0h18.3v18.3h-18.3zM230.0 1096.8h18.3v18.3h-18.3zM601.5 1114.5h18.3v18.3h-18.3zM583.8 1132.2h18.3v18.3h-18.3zM831.4 1132.2h18.3v18.3h-18.3zM866.8 1167.5h18.3v18.3h-18.3zM459.9 1202.9h18.3v18.3h-18.3zM902.2 1202.9h18.3v18.3h-18.3zM123.8 1220.6h18.3v18.3h-18.3zM495.3 1220.6h18.3v18.3h-18.3zM601.5 1238.3h18.3v18.3h-18.3zM937.6 1238.3h18.3v18.3h-18.3zM530.7 1256.0h18.3v18.3h-18.3zM88.4 1273.7h18.3v18.3h-18.3zM336.1 1273.7h18.3v18.3h-18.3zM583.8 1273.7h18.3v18.3h-18.3zM654.5 1273.7h18.3v18.3h-18.3zM972.9 1273.7h18.3v18.3h-18.3zM123.8 1291.4h18.3v18.3h-18.3zM1008.3 1309.1h18.3v18.3h-18.3zM530.7 1326.7h18.3v18.3h-18.3zM424.6 1344.4h18.3v18.3h-18.3zM459.9 1344.4h18.3v18.3h-18.3zM1043.7 1344.4h18.3v18.3h-18.3zM424.6 1362.1h18.3v18.3h-18.3zM477.6 1379.8h18.3v18.3h-18.3zM1079.1 1379.8h18.3v18.3h-18.3zM1114.5 1397.5h18.3v18.3h-18.3zM1114.5 1415.2h18.3v18.3h-18.3zM1114.5 1432.9h18.3v18.3h-18.3z"/>
<path fill="#3b3b3b" d="M672.2 176.9h18.3v18.3h-18.3zM424.6 300.7h18.3v18.3h-18.3zM371.5 371.5h18.3v18.3h-18.3zM371.5 389.2h18.3v18.3h-18.3zM-35.4 406.9h53.7v18.3h-53.7zM371.5 406.9h18.3v18.3h-18.3zM-35.4 424.6h53.7v18.3h-53.7zM371.5 424.6h18.3v18.3h-18.3zM459.9 424.6h36.0v18.3h-36.0zM-35.4 442.2h53.7v18.3h-53.7zM530.7 459.9h18.3v18.3h-18.3zM247.7 477.6h53.7v18.3h-53.7zM-35.4 495.3h53.7v18.3h-53.7zM53.1 495.3h18.3v18.3h-18.3zM230.0 495.3h18.3v18.3h-18.3zM672.2 495.3h36.0v18.3h-36.0zM230.0 513.0h18.3v18.3h-18.3zM247.7 530.7h53.7v18.3h-53.7zM318.4 530.7h18.3v18.3h-18.3zM707.6 530.7h36.0v18.3h-36.0zM212.3 548.4h18.3v18.3h-18.3zM247.7 548.4h53.7v18.3h-53.7zM318.4 548.4h18.3v18.3h-18.3zM88.4 566.1h18.3v18.3h-18.3zM247.7 566.1h53.7v18.3h-53.7zM530.7 566.1h18.3v18.3h-18.3zM247.7 583.8h53.7v18.3h-53.7zM230.0 601.5h18.3v18.3h-18.3zM283.0 601.5h18.3v18.3h-18.3zM300.7 619.1h53.7v18.3h-53.7zM353.8 636.8h18.3v18.3h-18.3zM-35.4 654.5h71.4v18.3h-71.4zM336.1 654.5h18.3v18.3h-18.3zM-35.4 672.2h89.0v18.3h-89.0zM672.2 672.2h18.3v18.3h-18.3zM760.7 672.2h18.3v18.3h-18.3zM513.0 689.9h36.0v18.3h-36.0zM70.8 707.6h18.3v18.3h-18.3zM601.5 743.0h71.4v18.3h-71.4zM707.6 743.0h18.3v18.3h-18.3zM619.1 760.7h36.0v18.3h-36.0zM672.2 760.7h18.3v18.3h-18.3zM601.5 778.4h18.3v18.3h-18.3zM972.9 796.0h18.3v18.3h-18.3zM123.8 813.7h18.3v18.3h-18.3zM176.9 813.7h71.4v18.3h-71.4zM106.1 831.4h18.3v18.3h-18.3zM176.9 831.4h89.0v18.3h-89.0zM70.8 849.1h18.3v18.3h-18.3zM123.8 849.1h53.7v18.3h-53.7zM212.3 849.1h36.0v18.3h-36.0zM1026.0 849.1h18.3v18.3h-18.3zM123.8 866.8h53.7v18.3h-53.7zM212.3 866.8h36.0v18.3h-36.0zM70.8 884.5h18.3v18.3h-18.3zM141.5 884.5h36.0v18.3h-36.0zM212.3 884.5h36.0v18.3h-36.0zM141.5 902.2h36.0v18.3h-36.0zM212.3 902.2h36.0v18.3h-36.0zM353.8 902.2h18.3v18.3h-18.3zM141.5 919.9h36.0v18.3h-36.0zM937.6 919.9h18.3v18.3h-18.3zM318.4 937.6h18.3v18.3h-18.3zM919.9 937.6h18.3v18.3h-18.3zM194.6 955.3h18.3v18.3h-18.3zM247.7 955.3h18.3v18.3h-18.3zM902.2 955.3h18.3v18.3h-18.3zM884.5 972.9h18.3v18.3h-18.3zM371.5 990.6h18.3v18.3h-18.3zM866.8 990.6h18.3v18.3h-18.3zM371.5 1008.3h18.3v18.3h-18.3zM406.9 1008.3h18.3v18.3h-18.3zM849.1 1008.3h18.3v18.3h-18.3zM353.8 1026.0h18.3v18.3h-18.3zM265.3 1079.1h18.3v18.3h-18.3zM583.8 1114.5h18.3v18.3h-18.3zM406.9 1132.2h18.3v18.3h-18.3zM318.4 1149.8h36.0v18.3h-36.0zM459.9 1149.8h18.3v18.3h-18.3zM583.8 1149.8h18.3v18.3h-18.3zM230.0 1167.5h18.3v18.3h-18.3zM583.8 1167.5h18.3v18.3h-18.3zM583.8 1185.2h18.3v18.3h-18.3zM176.9 1202.9h18.3v18.3h-18.3zM389.2 1202.9h18.3v18.3h-18.3zM300.7 1220.6h18.3v18.3h-18.3zM990.6 1220.6h18.3v18.3h-18.3zM672.2 1256.0h18.3v18.3h-18.3zM1026.0 1256.0h18.3v18.3h-18.3zM1061.4 1291.4h18.3v18.3h-18.3zM619.1 1326.7h18.3v18.3h-18.3zM1096.8 1326.7h18.3v18.3h-18.3zM442.2 1362.1h36.0v18.3h-36.0zM495.3 1362.1h18.3v18.3h-18.3zM1132.2 1362.1h18.3v18.3h-18.3zM442.2 1379.8h36.0v18.3h-36.0zM442.2 1397.5h89.0v18.3h-89.0zM442.2 1415.2h89.0v18.3h-89.0zM442.2 1432.9h89.0v18.3h-89.0z"/>
<path fill="#3c3c3c" d="M619.1 283.0h18.3v18.3h-18.3zM353.8 371.5h18.3v18.3h-18.3zM831.4 371.5h18.3v18.3h-18.3zM336.1 389.2h18.3v18.3h-18.3zM530.7 477.6h18.3v18.3h-18.3zM566.1 495.3h18.3v18.3h-18.3zM513.0 513.0h18.3v18.3h-18.3zM300.7 530.7h18.3v18.3h-18.3zM300.7 548.4h18.3v18.3h-18.3zM654.5 548.4h18.3v18.3h-18.3zM300.7 601.5h18.3v18.3h-18.3zM283.0 636.8h18.3v18.3h-18.3zM371.5 636.8h18.3v18.3h-18.3zM424.6 636.8h18.3v18.3h-18.3zM530.7 672.2h18.3v18.3h-18.3zM53.1 743.0h18.3v18.3h-18.3zM159.2 743.0h18.3v18.3h-18.3zM566.1 760.7h18.3v18.3h-18.3zM53.1 884.5h18.3v18.3h-18.3zM176.9 919.9h18.3v18.3h-18.3zM106.1 937.6h18.3v18.3h-18.3zM194.6 937.6h36.0v18.3h-36.0zM495.3 937.6h18.3v18.3h-18.3zM212.3 955.3h18.3v18.3h-18.3zM513.0 955.3h18.3v18.3h-18.3zM919.9 955.3h18.3v18.3h-18.3zM247.7 972.9h18.3v18.3h-18.3zM265.3 990.6h18.3v18.3h-18.3zM831.4 990.6h18.3v18.3h-18.3zM884.5 990.6h18.3v18.3h-18.3zM230.0 1043.7h18.3v18.3h-18.3zM230.0 1061.4h18.3v18.3h-18.3zM459.9 1114.5h18.3v18.3h-18.3zM194.6 1185.2h18.3v18.3h-18.3zM955.3 1185.2h18.3v18.3h-18.3zM265.3 1202.9h18.3v18.3h-18.3zM477.6 1202.9h18.3v18.3h-18.3zM689.9 1202.9h18.3v18.3h-18.3zM424.6 1326.7h18.3v18.3h-18.3z"/>
<path fill="#3d3d3d" d="M636.8 283.0h18.3v18.3h-18.3zM318.4 371.5h18.3v18.3h-18.3zM743.0 424.6h18.3v18.3h-18.3zM17.7 459.9h18.3v18.3h-18.3zM53.1 477.6h18.3v18.3h-18.3zM530.7 548.4h18.3v18.3h-18.3zM17.7 566.1h18.3v18.3h-18.3zM70.8 583.8h18.3v18.3h-18.3zM406.9 583.8h18.3v18.3h-18.3zM530.7 583.8h18.3v18.3h-18.3zM459.9 654.5h18.3v18.3h-18.3zM619.1 725.3h18.3v18.3h-18.3zM70.8 743.0h18.3v18.3h-18.3zM636.8 796.0h18.3v18.3h-18.3zM636.8 813.7h18.3v18.3h-18.3zM990.6 813.7h18.3v18.3h-18.3zM318.4 831.4h18.3v18.3h-18.3zM389.2 902.2h18.3v18.3h-18.3zM176.9 937.6h18.3v18.3h-18.3zM424.6 937.6h18.3v18.3h-18.3zM353.8 990.6h18.3v18.3h-18.3zM389.2 1026.0h18.3v18.3h-18.3zM866.8 1026.0h18.3v18.3h-18.3zM247.7 1043.7h18.3v18.3h-18.3zM389.2 1061.4h18.3v18.3h-18.3zM796.0 1079.1h18.3v18.3h-18.3zM424.6 1096.8h18.3v18.3h-18.3zM548.4 1149.8h18.3v18.3h-18.3zM212.3 1167.5h18.3v18.3h-18.3zM353.8 1185.2h18.3v18.3h-18.3zM353.8 1202.9h18.3v18.3h-18.3zM406.9 1202.9h18.3v18.3h-18.3zM513.0 1220.6h18.3v18.3h-18.3zM583.8 1220.6h18.3v18.3h-18.3zM88.4 1256.0h18.3v18.3h-18.3zM548.4 1256.0h18.3v18.3h-18.3zM406.9 1291.4h18.3v18.3h-18.3zM530.7 1309.1h18.3v18.3h-18.3zM371.5 1326.7h18.3v18.3h-18.3zM477.6 1326.7h18.3v18.3h-18.3zM548.4 1326.7h18.3v18.3h-18.3zM566.1 1362.1h18.3v18.3h-18.3zM1132.2 1397.5h18.3v18.3h-18.3zM1132.2 1415.2h18.3v18.3h-18.3zM1132.2 1432.9h18.3v18.3h-18.3z"/>
<path fill="#3e3e3e" d="M353.8 389.2h18.3v18.3h-18.3zM813.7 424.6h18.3v18.3h-18.3zM513.0 442.2h18.3v18.3h-18.3zM-35.4 477.6h53.7v18.3h-53.7zM689.9 477.6h36.0v18.3h-36.0zM53.1 513.0h18.3v18.3h-18.3zM283.0 513.0h18.3v18.3h-18.3zM689.9 513.0h18.3v18.3h-18.3zM230.0 530.7h18.3v18.3h-18.3zM654.5 530.7h18.3v18.3h-18.3zM-35.4 548.4h53.7v18.3h-53.7zM230.0 548.4h18.3v18.3h-18.3zM778.4 548.4h18.3v18.3h-18.3zM300.7 566.1h18.3v18.3h-18.3zM300.7 583.8h18.3v18.3h-18.3zM318.4 601.5h18.3v18.3h-18.3zM406.9 601.5h18.3v18.3h-18.3zM300.7 636.8h53.7v18.3h-53.7zM548.4 636.8h18.3v18.3h-18.3zM796.0 672.2h18.3v18.3h-18.3zM53.1 689.9h18.3v18.3h-18.3zM548.4 689.9h18.3v18.3h-18.3zM707.6 689.9h18.3v18.3h-18.3zM672.2 743.0h18.3v18.3h-18.3zM725.3 796.0h18.3v18.3h-18.3zM123.8 831.4h18.3v18.3h-18.3zM176.9 849.1h36.0v18.3h-36.0zM300.7 849.1h36.0v18.3h-36.0zM176.9 866.8h18.3v18.3h-18.3zM247.7 884.5h36.0v18.3h-36.0zM318.4 884.5h18.3v18.3h-18.3zM247.7 902.2h18.3v18.3h-18.3zM283.0 902.2h18.3v18.3h-18.3zM955.3 919.9h18.3v18.3h-18.3zM159.2 937.6h18.3v18.3h-18.3zM176.9 955.3h18.3v18.3h-18.3zM265.3 955.3h18.3v18.3h-18.3zM265.3 972.9h18.3v18.3h-18.3zM247.7 990.6h18.3v18.3h-18.3zM389.2 990.6h18.3v18.3h-18.3zM389.2 1008.3h18.3v18.3h-18.3zM230.0 1026.0h18.3v18.3h-18.3zM459.9 1043.7h18.3v18.3h-18.3zM477.6 1061.4h18.3v18.3h-18.3zM813.7 1061.4h18.3v18.3h-18.3zM566.1 1079.1h18.3v18.3h-18.3zM919.9 1149.8h18.3v18.3h-18.3zM477.6 1185.2h18.3v18.3h-18.3zM141.5 1202.9h18.3v18.3h-18.3zM583.8 1202.9h18.3v18.3h-18.3zM919.9 1202.9h18.3v18.3h-18.3zM389.2 1220.6h18.3v18.3h-18.3zM424.6 1220.6h18.3v18.3h-18.3zM937.6 1220.6h18.3v18.3h-18.3zM955.3 1238.3h18.3v18.3h-18.3zM300.7 1256.0h36.0v18.3h-36.0zM583.8 1256.0h18.3v18.3h-18.3zM972.9 1256.0h18.3v18.3h-18.3zM990.6 1273.7h18.3v18.3h-18.3zM601.5 1291.4h18.3v18.3h-18.3zM1008.3 1291.4h18.3v18.3h-18.3zM601.5 1309.1h18.3v18.3h-18.3zM1026.0 1309.1h18.3v18.3h-18.3zM459.9 1326.7h18.3v18.3h-18.3zM1043.7 1326.7h18.3v18.3h-18.3zM1061.4 1344.4h18.3v18.3h-18.3zM1079.1 1362.1h18.3v18.3h-18.3zM1096.8 1379.8h18.3v18.3h-18.3z"/>
<path fill="#3f3f3f" d="M424.6 230.0h18.3v18.3h-18.3zM760.7 406.9h18.3v18.3h-18.3zM477.6 442.2h18.3v18.3h-18.3zM17.7 477.6h18.3v18.3h-18.3zM300.7 477.6h18.3v18.3h-18.3zM548.4 477.6h18.3v18.3h-18.3zM530.7 495.3h36.0v18.3h-36.0zM17.7 513.0h18.3v18.3h-18.3zM530.7 530.7h18.3v18.3h-18.3zM813.7 619.1h18.3v18.3h-18.3zM495.3 672.2h18.3v18.3h-18.3zM743.0 672.2h18.3v18.3h-18.3zM-35.4 689.9h89.0v18.3h-89.0zM459.9 689.9h18.3v18.3h-18.3zM743.0 689.9h18.3v18.3h-18.3zM778.4 689.9h18.3v18.3h-18.3zM689.9 743.0h18.3v18.3h-18.3zM743.0 743.0h18.3v18.3h-18.3zM35.4 760.7h18.3v18.3h-18.3zM1008.3 813.7h18.3v18.3h-18.3zM53.1 866.8h36.0v18.3h-36.0zM53.1 902.2h18.3v18.3h-18.3zM1026.0 902.2h18.3v18.3h-18.3zM141.5 937.6h18.3v18.3h-18.3zM194.6 972.9h18.3v18.3h-18.3zM230.0 972.9h18.3v18.3h-18.3zM247.7 1008.3h18.3v18.3h-18.3zM566.1 1096.8h18.3v18.3h-18.3zM566.1 1132.2h18.3v18.3h-18.3zM212.3 1149.8h18.3v18.3h-18.3zM566.1 1149.8h18.3v18.3h-18.3zM566.1 1167.5h18.3v18.3h-18.3zM725.3 1167.5h18.3v18.3h-18.3zM884.5 1167.5h18.3v18.3h-18.3zM566.1 1185.2h18.3v18.3h-18.3zM902.2 1185.2h18.3v18.3h-18.3zM88.4 1238.3h18.3v18.3h-18.3zM389.2 1238.3h18.3v18.3h-18.3zM583.8 1238.3h18.3v18.3h-18.3zM601.5 1379.8h18.3v18.3h-18.3z"/>
<path fill="#404040" d="M406.9 247.7h36.0v18.3h-36.0zM300.7 371.5h18.3v18.3h-18.3zM300.7 389.2h18.3v18.3h-18.3zM353.8 406.9h18.3v18.3h-18.3zM442.2 424.6h18.3v18.3h-18.3zM300.7 459.9h18.3v18.3h-18.3zM459.9 459.9h18.3v18.3h-18.3zM318.4 477.6h18.3v18.3h-18.3zM654.5 495.3h18.3v18.3h-18.3zM689.9 530.7h18.3v18.3h-18.3zM35.4 548.4h18.3v18.3h-18.3zM619.1 548.4h18.3v18.3h-18.3zM619.1 566.1h18.3v18.3h-18.3zM336.1 583.8h18.3v18.3h-18.3zM336.1 601.5h18.3v18.3h-18.3zM548.4 601.5h18.3v18.3h-18.3zM371.5 619.1h18.3v18.3h-18.3zM548.4 619.1h18.3v18.3h-18.3zM530.7 636.8h18.3v18.3h-18.3zM548.4 672.2h18.3v18.3h-18.3zM672.2 689.9h18.3v18.3h-18.3zM513.0 707.6h18.3v18.3h-18.3zM265.3 778.4h18.3v18.3h-18.3zM990.6 796.0h18.3v18.3h-18.3zM1008.3 902.2h18.3v18.3h-18.3zM212.3 972.9h18.3v18.3h-18.3zM194.6 1061.4h18.3v18.3h-18.3zM548.4 1096.8h18.3v18.3h-18.3zM406.9 1114.5h18.3v18.3h-18.3zM212.3 1132.2h18.3v18.3h-18.3zM495.3 1149.8h18.3v18.3h-18.3zM106.1 1238.3h18.3v18.3h-18.3zM672.2 1273.7h18.3v18.3h-18.3zM371.5 1291.4h18.3v18.3h-18.3z"/>
<path fill="#414141" d="M389.2 283.0h18.3v18.3h-18.3zM389.2 300.7h18.3v18.3h-18.3zM424.6 336.1h18.3v18.3h-18.3zM336.1 371.5h18.3v18.3h-18.3zM459.9 442.2h18.3v18.3h-18.3zM35.4 477.6h18.3v18.3h-18.3zM212.3 477.6h18.3v18.3h-18.3zM300.7 513.0h18.3v18.3h-18.3zM672.2 548.4h18.3v18.3h-18.3zM725.3 548.4h18.3v18.3h-18.3zM513.0 566.1h18.3v18.3h-18.3zM495.3 654.5h18.3v18.3h-18.3zM53.1 707.6h18.3v18.3h-18.3zM743.0 725.3h18.3v18.3h-18.3zM-35.4 743.0h53.7v18.3h-53.7zM725.3 778.4h18.3v18.3h-18.3zM1008.3 796.0h18.3v18.3h-18.3zM972.9 813.7h18.3v18.3h-18.3zM955.3 902.2h18.3v18.3h-18.3zM-35.4 990.6h53.7v18.3h-53.7zM230.0 990.6h18.3v18.3h-18.3zM495.3 1043.7h18.3v18.3h-18.3zM796.0 1096.8h18.3v18.3h-18.3zM866.8 1149.8h18.3v18.3h-18.3zM601.5 1167.5h18.3v18.3h-18.3zM159.2 1185.2h18.3v18.3h-18.3zM336.1 1185.2h18.3v18.3h-18.3zM495.3 1185.2h18.3v18.3h-18.3zM601.5 1185.2h18.3v18.3h-18.3zM318.4 1238.3h18.3v18.3h-18.3zM371.5 1256.0h18.3v18.3h-18.3zM459.9 1291.4h18.3v18.3h-18.3zM513.0 1309.1h18.3v18.3h-18.3zM583.8 1309.1h18.3v18.3h-18.3zM123.8 1344.4h18.3v18.3h-18.3zM548.4 1362.1h18.3v18.3h-18.3zM601.5 1362.1h18.3v18.3h-18.3z"/>
<path fill="#424242" d="M353.8 424.6h18.3v18.3h-18.3zM300.7 495.3h18.3v18.3h-18.3zM477.6 495.3h18.3v18.3h-18.3zM707.6 495.3h18.3v18.3h-18.3zM336.1 530.7h18.3v18.3h-18.3zM17.7 548.4h18.3v18.3h-18.3zM725.3 566.1h18.3v18.3h-18.3zM513.0 583.8h18.3v18.3h-18.3zM513.0 601.5h18.3v18.3h-18.3zM743.0 636.8h18.3v18.3h-18.3zM442.2 654.5h18.3v18.3h-18.3zM530.7 654.5h18.3v18.3h-18.3zM689.9 689.9h18.3v18.3h-18.3zM689.9 707.6h18.3v18.3h-18.3zM35.4 743.0h18.3v18.3h-18.3zM35.4 778.4h18.3v18.3h-18.3zM230.0 778.4h18.3v18.3h-18.3zM35.4 796.0h18.3v18.3h-18.3zM-35.4 813.7h53.7v18.3h-53.7zM283.0 866.8h18.3v18.3h-18.3zM212.3 919.9h18.3v18.3h-18.3zM247.7 919.9h18.3v18.3h-18.3zM972.9 919.9h18.3v18.3h-18.3zM247.7 937.6h18.3v18.3h-18.3zM371.5 955.3h18.3v18.3h-18.3zM176.9 972.9h18.3v18.3h-18.3zM230.0 1008.3h18.3v18.3h-18.3zM566.1 1114.5h18.3v18.3h-18.3zM601.5 1132.2h18.3v18.3h-18.3zM849.1 1132.2h18.3v18.3h-18.3zM477.6 1167.5h18.3v18.3h-18.3zM566.1 1202.9h18.3v18.3h-18.3zM406.9 1220.6h18.3v18.3h-18.3zM300.7 1238.3h18.3v18.3h-18.3zM406.9 1238.3h18.3v18.3h-18.3zM477.6 1256.0h18.3v18.3h-18.3zM990.6 1256.0h18.3v18.3h-18.3zM495.3 1291.4h18.3v18.3h-18.3zM1026.0 1291.4h18.3v18.3h-18.3zM1061.4 1326.7h18.3v18.3h-18.3zM141.5 1362.1h18.3v18.3h-18.3zM1096.8 1362.1h18.3v18.3h-18.3zM583.8 1379.8h18.3v18.3h-18.3zM1096.8 1397.5h18.3v18.3h-18.3zM1096.8 1415.2h18.3v18.3h-18.3zM1096.8 1432.9h18.3v18.3h-18.3z"/>
<path fill="#434343" d="M424.6 353.8h18.3v18.3h-18.3zM318.4 389.2h18.3v18.3h-18.3zM389.2 389.2h18.3v18.3h-18.3zM477.6 389.2h18.3v18.3h-18.3zM389.2 406.9h18.3v18.3h-18.3zM318.4 459.9h18.3v18.3h-18.3zM654.5 477.6h18.3v18.3h-18.3zM654.5 513.0h18.3v18.3h-18.3zM707.6 513.0h18.3v18.3h-18.3zM35.4 530.7h36.0v18.3h-36.0zM743.0 530.7h18.3v18.3h-18.3zM353.8 583.8h36.0v18.3h-36.0zM796.0 654.5h18.3v18.3h-18.3zM442.2 672.2h18.3v18.3h-18.3zM813.7 672.2h18.3v18.3h-18.3zM-35.4 707.6h89.0v18.3h-89.0zM725.3 725.3h18.3v18.3h-18.3zM247.7 743.0h18.3v18.3h-18.3zM1026.0 796.0h18.3v18.3h-18.3zM88.4 919.9h18.3v18.3h-18.3zM1008.3 919.9h18.3v18.3h-18.3zM88.4 937.6h18.3v18.3h-18.3zM212.3 990.6h18.3v18.3h-18.3zM247.7 1026.0h18.3v18.3h-18.3zM902.2 1061.4h18.3v18.3h-18.3zM548.4 1167.5h18.3v18.3h-18.3zM176.9 1185.2h18.3v18.3h-18.3zM548.4 1185.2h18.3v18.3h-18.3zM919.9 1185.2h18.3v18.3h-18.3zM955.3 1220.6h18.3v18.3h-18.3zM689.9 1238.3h18.3v18.3h-18.3zM530.7 1291.4h18.3v18.3h-18.3zM566.1 1326.7h18.3v18.3h-18.3zM619.1 1344.4h18.3v18.3h-18.3zM530.7 1397.5h36.0v18.3h-36.0zM530.7 1415.2h36.0v18.3h-36.0zM530.7 1432.9h36.0v18.3h-36.0z"/>
<path fill="#444444" d="M424.6 371.5h18.3v18.3h-18.3zM477.6 371.5h18.3v18.3h-18.3zM760.7 424.6h18.3v18.3h-18.3zM424.6 601.5h18.3v18.3h-18.3zM389.2 636.8h18.3v18.3h-18.3zM566.1 654.5h18.3v18.3h-18.3zM672.2 654.5h18.3v18.3h-18.3zM654.5 689.9h18.3v18.3h-18.3zM548.4 707.6h36.0v18.3h-36.0zM654.5 707.6h18.3v18.3h-18.3zM35.4 725.3h18.3v18.3h-18.3zM70.8 725.3h18.3v18.3h-18.3zM707.6 725.3h18.3v18.3h-18.3zM725.3 743.0h18.3v18.3h-18.3zM17.7 778.4h18.3v18.3h-18.3zM123.8 902.2h18.3v18.3h-18.3zM159.2 955.3h18.3v18.3h-18.3zM548.4 1114.5h18.3v18.3h-18.3zM884.5 1114.5h18.3v18.3h-18.3zM477.6 1149.8h18.3v18.3h-18.3zM601.5 1149.8h18.3v18.3h-18.3zM884.5 1149.8h18.3v18.3h-18.3zM495.3 1167.5h18.3v18.3h-18.3zM513.0 1185.2h18.3v18.3h-18.3zM495.3 1202.9h18.3v18.3h-18.3zM106.1 1220.6h18.3v18.3h-18.3zM406.9 1309.1h18.3v18.3h-18.3zM636.8 1326.7h18.3v18.3h-18.3zM123.8 1379.8h18.3v18.3h-18.3zM123.8 1397.5h18.3v18.3h-18.3zM583.8 1397.5h18.3v18.3h-18.3zM123.8 1415.2h18.3v18.3h-18.3zM583.8 1415.2h18.3v18.3h-18.3zM123.8 1432.9h18.3v18.3h-18.3zM583.8 1432.9h18.3v18.3h-18.3z"/>
<path fill="#454545" d="M389.2 371.5h18.3v18.3h-18.3zM300.7 442.2h18.3v18.3h-18.3zM389.2 442.2h18.3v18.3h-18.3zM265.3 513.0h18.3v18.3h-18.3zM707.6 548.4h18.3v18.3h-18.3zM35.4 566.1h18.3v18.3h-18.3zM230.0 566.1h18.3v18.3h-18.3zM636.8 566.1h18.3v18.3h-18.3zM88.4 601.5h18.3v18.3h-18.3zM265.3 601.5h18.3v18.3h-18.3zM743.0 619.1h18.3v18.3h-18.3zM35.4 654.5h18.3v18.3h-18.3zM654.5 654.5h18.3v18.3h-18.3zM689.9 672.2h18.3v18.3h-18.3zM583.8 707.6h18.3v18.3h-18.3zM636.8 707.6h18.3v18.3h-18.3zM743.0 707.6h18.3v18.3h-18.3zM230.0 743.0h18.3v18.3h-18.3zM159.2 778.4h18.3v18.3h-18.3zM35.4 831.4h18.3v18.3h-18.3zM141.5 831.4h18.3v18.3h-18.3zM-35.4 849.1h71.4v18.3h-71.4zM247.7 866.8h18.3v18.3h-18.3zM176.9 902.2h18.3v18.3h-18.3zM972.9 902.2h36.0v18.3h-36.0zM972.9 955.3h18.3v18.3h-18.3zM955.3 972.9h18.3v18.3h-18.3zM937.6 990.6h18.3v18.3h-18.3zM919.9 1008.3h18.3v18.3h-18.3zM813.7 1079.1h18.3v18.3h-18.3zM831.4 1114.5h18.3v18.3h-18.3zM300.7 1202.9h18.3v18.3h-18.3zM318.4 1220.6h18.3v18.3h-18.3zM442.2 1220.6h18.3v18.3h-18.3zM513.0 1273.7h18.3v18.3h-18.3zM106.1 1309.1h18.3v18.3h-18.3zM389.2 1309.1h18.3v18.3h-18.3z"/>
<path fill="#464646" d="M300.7 406.9h18.3v18.3h-18.3zM459.9 406.9h18.3v18.3h-18.3zM796.0 406.9h18.3v18.3h-18.3zM743.0 548.4h18.3v18.3h-18.3zM530.7 601.5h18.3v18.3h-18.3zM743.0 601.5h18.3v18.3h-18.3zM406.9 636.8h18.3v18.3h-18.3zM495.3 636.8h18.3v18.3h-18.3zM548.4 654.5h18.3v18.3h-18.3zM619.1 654.5h18.3v18.3h-18.3zM619.1 672.2h18.3v18.3h-18.3zM70.8 689.9h18.3v18.3h-18.3zM88.4 902.2h18.3v18.3h-18.3zM902.2 1026.0h18.3v18.3h-18.3zM194.6 1043.7h18.3v18.3h-18.3zM831.4 1061.4h18.3v18.3h-18.3zM459.9 1096.8h18.3v18.3h-18.3zM813.7 1096.8h36.0v18.3h-36.0zM406.9 1167.5h18.3v18.3h-18.3zM530.7 1185.2h18.3v18.3h-18.3zM884.5 1185.2h18.3v18.3h-18.3zM919.9 1220.6h18.3v18.3h-18.3zM707.6 1238.3h18.3v18.3h-18.3zM955.3 1256.0h18.3v18.3h-18.3zM583.8 1291.4h18.3v18.3h-18.3zM990.6 1291.4h18.3v18.3h-18.3zM1026.0 1326.7h18.3v18.3h-18.3zM1061.4 1362.1h18.3v18.3h-18.3z"/>
<path fill="#474747" d="M459.9 495.3h18.3v18.3h-18.3zM513.0 495.3h18.3v18.3h-18.3zM636.8 530.7h18.3v18.3h-18.3zM371.5 548.4h18.3v18.3h-18.3zM371.5 566.1h18.3v18.3h-18.3zM743.0 566.1h18.3v18.3h-18.3zM88.4 583.8h18.3v18.3h-18.3zM725.3 619.1h18.3v18.3h-18.3zM725.3 636.8h18.3v18.3h-18.3zM725.3 654.5h18.3v18.3h-18.3zM583.8 689.9h18.3v18.3h-18.3zM636.8 689.9h18.3v18.3h-18.3zM707.6 707.6h36.0v18.3h-36.0zM-35.4 725.3h53.7v18.3h-53.7zM1026.0 813.7h18.3v18.3h-18.3zM88.4 955.3h18.3v18.3h-18.3zM123.8 955.3h36.0v18.3h-36.0zM371.5 972.9h36.0v18.3h-36.0zM194.6 990.6h18.3v18.3h-18.3zM849.1 1114.5h18.3v18.3h-18.3zM477.6 1132.2h18.3v18.3h-18.3zM530.7 1202.9h18.3v18.3h-18.3zM707.6 1291.4h18.3v18.3h-18.3zM619.1 1379.8h18.3v18.3h-18.3zM1079.1 1397.5h18.3v18.3h-18.3zM1079.1 1415.2h18.3v18.3h-18.3zM1079.1 1432.9h18.3v18.3h-18.3z"/>
<path fill="#484848" d="M371.5 442.2h18.3v18.3h-18.3zM353.8 459.9h18.3v18.3h-18.3zM743.0 583.8h18.3v18.3h-18.3zM495.3 619.1h18.3v18.3h-18.3zM566.1 636.8h18.3v18.3h-18.3zM-35.4 778.4h53.7v18.3h-53.7zM-35.4 796.0h53.7v18.3h-53.7zM247.7 813.7h18.3v18.3h-18.3zM106.1 955.3h18.3v18.3h-18.3zM159.2 972.9h18.3v18.3h-18.3zM176.9 990.6h18.3v18.3h-18.3zM212.3 1061.4h18.3v18.3h-18.3zM530.7 1114.5h18.3v18.3h-18.3zM849.1 1149.8h18.3v18.3h-18.3zM601.5 1202.9h18.3v18.3h-18.3zM88.4 1220.6h18.3v18.3h-18.3zM689.9 1256.0h18.3v18.3h-18.3zM513.0 1291.4h18.3v18.3h-18.3zM88.4 1309.1h18.3v18.3h-18.3z"/>
<path fill="#494949" d="M336.1 424.6h18.3v18.3h-18.3zM495.3 583.8h18.3v18.3h-18.3zM53.1 919.9h18.3v18.3h-18.3zM990.6 937.6h18.3v18.3h-18.3zM123.8 1026.0h18.3v18.3h-18.3zM371.5 1061.4h18.3v18.3h-18.3zM831.4 1079.1h18.3v18.3h-18.3zM813.7 1114.5h18.3v18.3h-18.3zM123.8 1202.9h18.3v18.3h-18.3zM513.0 1202.9h18.3v18.3h-18.3zM477.6 1220.6h18.3v18.3h-18.3zM672.2 1291.4h18.3v18.3h-18.3zM619.1 1362.1h18.3v18.3h-18.3z"/>
<path fill="#4a4a4a" d="M495.3 459.9h18.3v18.3h-18.3zM513.0 477.6h18.3v18.3h-18.3zM17.7 495.3h36.0v18.3h-36.0zM389.2 583.8h18.3v18.3h-18.3zM725.3 601.5h18.3v18.3h-18.3zM513.0 654.5h18.3v18.3h-18.3zM707.6 654.5h18.3v18.3h-18.3zM513.0 672.2h18.3v18.3h-18.3zM566.1 672.2h18.3v18.3h-18.3zM725.3 672.2h18.3v18.3h-18.3zM601.5 689.9h36.0v18.3h-36.0zM725.3 689.9h18.3v18.3h-18.3zM672.2 707.6h18.3v18.3h-18.3zM17.7 760.7h18.3v18.3h-18.3zM17.7 813.7h18.3v18.3h-18.3zM937.6 955.3h18.3v18.3h-18.3zM919.9 972.9h18.3v18.3h-18.3zM159.2 990.6h18.3v18.3h-18.3zM902.2 990.6h18.3v18.3h-18.3zM884.5 1008.3h18.3v18.3h-18.3zM371.5 1043.7h18.3v18.3h-18.3zM406.9 1079.1h18.3v18.3h-18.3zM389.2 1096.8h18.3v18.3h-18.3zM548.4 1132.2h18.3v18.3h-18.3zM-35.4 1185.2h53.7v18.3h-53.7zM707.6 1220.6h18.3v18.3h-18.3zM689.9 1273.7h18.3v18.3h-18.3zM389.2 1344.4h18.3v18.3h-18.3zM636.8 1344.4h18.3v18.3h-18.3z"/>
<path fill="#4b4b4b" d="M495.3 389.2h18.3v18.3h-18.3zM318.4 406.9h18.3v18.3h-18.3zM371.5 459.9h18.3v18.3h-18.3zM442.2 459.9h18.3v18.3h-18.3zM477.6 477.6h18.3v18.3h-18.3zM70.8 548.4h18.3v18.3h-18.3zM53.1 566.1h36.0v18.3h-36.0zM424.6 583.8h18.3v18.3h-18.3zM459.9 583.8h36.0v18.3h-36.0zM530.7 619.1h18.3v18.3h-18.3zM459.9 672.2h18.3v18.3h-18.3zM654.5 672.2h18.3v18.3h-18.3zM707.6 672.2h18.3v18.3h-18.3zM17.7 743.0h18.3v18.3h-18.3zM548.4 743.0h18.3v18.3h-18.3zM583.8 778.4h18.3v18.3h-18.3zM17.7 831.4h18.3v18.3h-18.3zM-35.4 884.5h53.7v18.3h-53.7zM123.8 972.9h36.0v18.3h-36.0zM937.6 972.9h18.3v18.3h-18.3zM123.8 990.6h36.0v18.3h-36.0zM123.8 1008.3h89.0v18.3h-89.0zM902.2 1008.3h18.3v18.3h-18.3zM106.1 1026.0h18.3v18.3h-18.3zM141.5 1026.0h36.0v18.3h-36.0zM212.3 1026.0h18.3v18.3h-18.3zM530.7 1061.4h18.3v18.3h-18.3zM495.3 1114.5h36.0v18.3h-36.0zM459.9 1132.2h18.3v18.3h-18.3zM424.6 1291.4h18.3v18.3h-18.3z"/>
<path fill="#4c4c4c" d="M353.8 442.2h18.3v18.3h-18.3zM442.2 442.2h18.3v18.3h-18.3zM336.1 459.9h18.3v18.3h-18.3zM495.3 513.0h18.3v18.3h-18.3zM459.9 566.1h18.3v18.3h-18.3zM442.2 583.8h18.3v18.3h-18.3zM672.2 636.8h18.3v18.3h-18.3zM707.6 636.8h18.3v18.3h-18.3zM300.7 902.2h18.3v18.3h-18.3zM17.7 937.6h18.3v18.3h-18.3zM300.7 937.6h18.3v18.3h-18.3zM159.2 1043.7h18.3v18.3h-18.3zM389.2 1043.7h18.3v18.3h-18.3zM159.2 1061.4h18.3v18.3h-18.3zM194.6 1079.1h36.0v18.3h-36.0zM513.0 1079.1h18.3v18.3h-18.3zM866.8 1185.2h18.3v18.3h-18.3zM884.5 1202.9h18.3v18.3h-18.3zM902.2 1220.6h18.3v18.3h-18.3zM919.9 1238.3h18.3v18.3h-18.3zM937.6 1256.0h18.3v18.3h-18.3zM477.6 1273.7h18.3v18.3h-18.3zM707.6 1273.7h18.3v18.3h-18.3zM955.3 1273.7h18.3v18.3h-18.3zM972.9 1291.4h18.3v18.3h-18.3zM990.6 1309.1h18.3v18.3h-18.3zM106.1 1326.7h18.3v18.3h-18.3zM743.0 1326.7h18.3v18.3h-18.3zM1008.3 1326.7h18.3v18.3h-18.3zM548.4 1344.4h18.3v18.3h-18.3zM1026.0 1344.4h18.3v18.3h-18.3zM1043.7 1362.1h18.3v18.3h-18.3zM1061.4 1379.8h18.3v18.3h-18.3zM601.5 1397.5h18.3v18.3h-18.3zM601.5 1415.2h18.3v18.3h-18.3zM601.5 1432.9h18.3v18.3h-18.3z"/>
<path fill="#4d4d4d" d="M336.1 406.9h18.3v18.3h-18.3zM336.1 548.4h18.3v18.3h-18.3zM672.2 619.1h18.3v18.3h-18.3zM442.2 636.8h18.3v18.3h-18.3zM53.1 725.3h18.3v18.3h-18.3zM70.8 902.2h18.3v18.3h-18.3zM53.1 937.6h18.3v18.3h-18.3zM955.3 937.6h18.3v18.3h-18.3zM106.1 972.9h18.3v18.3h-18.3zM141.5 1043.7h18.3v18.3h-18.3zM212.3 1043.7h18.3v18.3h-18.3zM513.0 1096.8h18.3v18.3h-18.3zM831.4 1149.8h18.3v18.3h-18.3zM176.9 1167.5h18.3v18.3h-18.3zM849.1 1167.5h18.3v18.3h-18.3zM583.8 1362.1h18.3v18.3h-18.3z"/>
<path fill="#4e4e4e" d="M689.9 442.2h18.3v18.3h-18.3zM707.6 459.9h18.3v18.3h-18.3zM35.4 513.0h18.3v18.3h-18.3zM424.6 513.0h18.3v18.3h-18.3zM707.6 619.1h18.3v18.3h-18.3zM513.0 636.8h18.3v18.3h-18.3zM743.0 654.5h18.3v18.3h-18.3zM619.1 707.6h18.3v18.3h-18.3zM-35.4 760.7h53.7v18.3h-53.7zM35.4 813.7h18.3v18.3h-18.3zM-35.4 831.4h53.7v18.3h-53.7zM35.4 849.1h18.3v18.3h-18.3zM106.1 919.9h18.3v18.3h-18.3zM318.4 919.9h18.3v18.3h-18.3zM937.6 937.6h18.3v18.3h-18.3zM972.9 937.6h18.3v18.3h-18.3zM53.1 972.9h18.3v18.3h-18.3zM88.4 972.9h18.3v18.3h-18.3zM902.2 972.9h18.3v18.3h-18.3zM866.8 1008.3h18.3v18.3h-18.3zM495.3 1096.8h18.3v18.3h-18.3zM477.6 1114.5h18.3v18.3h-18.3zM495.3 1132.2h53.7v18.3h-53.7zM513.0 1149.8h36.0v18.3h-36.0zM743.0 1185.2h18.3v18.3h-18.3zM689.9 1220.6h18.3v18.3h-18.3zM477.6 1238.3h18.3v18.3h-18.3zM406.9 1273.7h18.3v18.3h-18.3zM778.4 1362.1h18.3v18.3h-18.3zM813.7 1397.5h18.3v18.3h-18.3zM813.7 1415.2h18.3v18.3h-18.3zM813.7 1432.9h18.3v18.3h-18.3z"/>
<path fill="#4f4f4f" d="M813.7 406.9h18.3v18.3h-18.3zM513.0 424.6h18.3v18.3h-18.3zM424.6 442.2h18.3v18.3h-18.3zM725.3 442.2h18.3v18.3h-18.3zM53.1 548.4h18.3v18.3h-18.3zM424.6 566.1h36.0v18.3h-36.0zM707.6 583.8h36.0v18.3h-36.0zM459.9 601.5h36.0v18.3h-36.0zM513.0 619.1h18.3v18.3h-18.3zM689.9 654.5h18.3v18.3h-18.3zM636.8 672.2h18.3v18.3h-18.3zM-35.4 902.2h53.7v18.3h-53.7zM70.8 919.9h18.3v18.3h-18.3zM-35.4 937.6h53.7v18.3h-53.7zM70.8 937.6h18.3v18.3h-18.3zM17.7 990.6h18.3v18.3h-18.3zM548.4 1043.7h18.3v18.3h-18.3zM176.9 1061.4h18.3v18.3h-18.3zM495.3 1079.1h18.3v18.3h-18.3zM477.6 1096.8h18.3v18.3h-18.3zM106.1 1362.1h18.3v18.3h-18.3zM636.8 1362.1h18.3v18.3h-18.3zM106.1 1379.8h18.3v18.3h-18.3zM106.1 1397.5h18.3v18.3h-18.3zM106.1 1415.2h18.3v18.3h-18.3zM106.1 1432.9h18.3v18.3h-18.3z"/>
<path fill="#505050" d="M495.3 371.5h18.3v18.3h-18.3zM389.2 548.4h18.3v18.3h-18.3zM389.2 619.1h18.3v18.3h-18.3zM17.7 796.0h18.3v18.3h-18.3zM35.4 955.3h18.3v18.3h-18.3zM70.8 972.9h18.3v18.3h-18.3zM831.4 1043.7h36.0v18.3h-36.0zM884.5 1043.7h18.3v18.3h-18.3zM530.7 1079.1h18.3v18.3h-18.3zM194.6 1096.8h18.3v18.3h-18.3zM106.1 1202.9h18.3v18.3h-18.3zM548.4 1238.3h18.3v18.3h-18.3zM371.5 1273.7h18.3v18.3h-18.3zM689.9 1291.4h18.3v18.3h-18.3z"/>
<path fill="#515151" d="M300.7 424.6h18.3v18.3h-18.3zM389.2 459.9h18.3v18.3h-18.3zM477.6 513.0h18.3v18.3h-18.3zM442.2 619.1h18.3v18.3h-18.3zM654.5 619.1h18.3v18.3h-18.3zM459.9 636.8h18.3v18.3h-18.3zM35.4 937.6h18.3v18.3h-18.3zM141.5 1061.4h18.3v18.3h-18.3zM513.0 1061.4h18.3v18.3h-18.3zM176.9 1079.1h18.3v18.3h-18.3zM477.6 1079.1h18.3v18.3h-18.3zM406.9 1096.8h18.3v18.3h-18.3zM424.6 1238.3h18.3v18.3h-18.3zM725.3 1291.4h18.3v18.3h-18.3zM-35.4 1344.4h53.7v18.3h-53.7zM636.8 1379.8h18.3v18.3h-18.3z"/>
<path fill="#525252" d="M406.9 442.2h18.3v18.3h-18.3zM336.1 513.0h18.3v18.3h-18.3zM743.0 513.0h18.3v18.3h-18.3zM566.1 619.1h18.3v18.3h-18.3zM106.1 990.6h18.3v18.3h-18.3zM513.0 1043.7h18.3v18.3h-18.3zM106.1 1061.4h18.3v18.3h-18.3zM459.9 1079.1h18.3v18.3h-18.3zM849.1 1079.1h18.3v18.3h-18.3zM141.5 1185.2h18.3v18.3h-18.3zM88.4 1202.9h18.3v18.3h-18.3zM53.1 1273.7h18.3v18.3h-18.3zM654.5 1309.1h18.3v18.3h-18.3zM88.4 1362.1h18.3v18.3h-18.3z"/>
<path fill="#535353" d="M459.9 477.6h18.3v18.3h-18.3zM619.1 601.5h18.3v18.3h-18.3zM636.8 654.5h18.3v18.3h-18.3zM601.5 672.2h18.3v18.3h-18.3zM53.1 955.3h18.3v18.3h-18.3zM866.8 1043.7h18.3v18.3h-18.3zM495.3 1061.4h18.3v18.3h-18.3zM159.2 1079.1h18.3v18.3h-18.3zM530.7 1096.8h18.3v18.3h-18.3zM70.8 1220.6h18.3v18.3h-18.3zM654.5 1291.4h18.3v18.3h-18.3zM672.2 1309.1h18.3v18.3h-18.3z"/>
<path fill="#545454" d="M530.7 424.6h18.3v18.3h-18.3zM477.6 459.9h18.3v18.3h-18.3zM353.8 530.7h18.3v18.3h-18.3zM707.6 601.5h18.3v18.3h-18.3zM689.9 619.1h18.3v18.3h-18.3zM17.7 866.8h18.3v18.3h-18.3zM106.1 1008.3h18.3v18.3h-18.3zM194.6 1026.0h18.3v18.3h-18.3zM123.8 1043.7h18.3v18.3h-18.3zM17.7 1079.1h18.3v18.3h-18.3zM371.5 1096.8h18.3v18.3h-18.3zM831.4 1167.5h18.3v18.3h-18.3zM866.8 1202.9h18.3v18.3h-18.3zM53.1 1238.3h18.3v18.3h-18.3zM902.2 1238.3h18.3v18.3h-18.3zM937.6 1273.7h18.3v18.3h-18.3zM707.6 1309.1h36.0v18.3h-36.0zM972.9 1309.1h18.3v18.3h-18.3zM389.2 1326.7h18.3v18.3h-18.3zM1008.3 1344.4h18.3v18.3h-18.3zM88.4 1379.8h18.3v18.3h-18.3zM1043.7 1379.8h18.3v18.3h-18.3zM88.4 1397.5h18.3v18.3h-18.3zM88.4 1415.2h18.3v18.3h-18.3zM88.4 1432.9h18.3v18.3h-18.3z"/>
<path fill="#555555" d="M442.2 530.7h18.3v18.3h-18.3zM477.6 530.7h18.3v18.3h-18.3zM477.6 548.4h18.3v18.3h-18.3zM371.5 601.5h18.3v18.3h-18.3zM495.3 601.5h18.3v18.3h-18.3zM17.7 725.3h18.3v18.3h-18.3zM176.9 760.7h36.0v18.3h-36.0zM-35.4 866.8h53.7v18.3h-53.7zM70.8 955.3h18.3v18.3h-18.3zM300.7 990.6h18.3v18.3h-18.3zM212.3 1008.3h18.3v18.3h-18.3zM106.1 1079.1h18.3v18.3h-18.3zM813.7 1132.2h18.3v18.3h-18.3zM159.2 1149.8h18.3v18.3h-18.3zM477.6 1291.4h18.3v18.3h-18.3zM743.0 1309.1h18.3v18.3h-18.3zM619.1 1397.5h18.3v18.3h-18.3zM619.1 1415.2h18.3v18.3h-18.3zM619.1 1432.9h18.3v18.3h-18.3z"/>
<path fill="#565656" d="M442.2 406.9h18.3v18.3h-18.3zM442.2 513.0h18.3v18.3h-18.3zM495.3 566.1h18.3v18.3h-18.3zM654.5 566.1h18.3v18.3h-18.3zM389.2 601.5h18.3v18.3h-18.3zM689.9 636.8h18.3v18.3h-18.3zM583.8 654.5h18.3v18.3h-18.3zM106.1 1096.8h18.3v18.3h-18.3zM212.3 1096.8h18.3v18.3h-18.3zM141.5 1114.5h18.3v18.3h-18.3zM176.9 1149.8h18.3v18.3h-18.3zM513.0 1167.5h36.0v18.3h-36.0zM-35.4 1291.4h89.0v18.3h-89.0zM725.3 1326.7h18.3v18.3h-18.3zM760.7 1326.7h18.3v18.3h-18.3zM70.8 1362.1h18.3v18.3h-18.3z"/>
<path fill="#575757" d="M495.3 495.3h18.3v18.3h-18.3zM424.6 530.7h18.3v18.3h-18.3zM477.6 566.1h18.3v18.3h-18.3zM601.5 583.8h18.3v18.3h-18.3zM176.9 1043.7h18.3v18.3h-18.3zM159.2 1096.8h18.3v18.3h-18.3zM796.0 1114.5h18.3v18.3h-18.3zM-35.4 1167.5h53.7v18.3h-53.7zM159.2 1167.5h18.3v18.3h-18.3zM123.8 1185.2h18.3v18.3h-18.3zM53.1 1220.6h18.3v18.3h-18.3zM70.8 1256.0h18.3v18.3h-18.3zM406.9 1256.0h18.3v18.3h-18.3zM743.0 1273.7h18.3v18.3h-18.3zM689.9 1309.1h18.3v18.3h-18.3zM707.6 1326.7h18.3v18.3h-18.3z"/>
<path fill="#585858" d="M406.9 513.0h18.3v18.3h-18.3zM459.9 548.4h18.3v18.3h-18.3zM406.9 566.1h18.3v18.3h-18.3zM654.5 636.8h18.3v18.3h-18.3zM35.4 972.9h18.3v18.3h-18.3zM884.5 1026.0h18.3v18.3h-18.3zM371.5 1079.1h18.3v18.3h-18.3zM70.8 1132.2h18.3v18.3h-18.3zM70.8 1238.3h18.3v18.3h-18.3zM743.0 1256.0h18.3v18.3h-18.3zM-35.4 1309.1h53.7v18.3h-53.7zM-35.4 1326.7h71.4v18.3h-71.4zM88.4 1326.7h18.3v18.3h-18.3zM672.2 1326.7h18.3v18.3h-18.3zM106.1 1344.4h18.3v18.3h-18.3zM743.0 1344.4h18.3v18.3h-18.3zM778.4 1344.4h18.3v18.3h-18.3zM796.0 1362.1h18.3v18.3h-18.3zM813.7 1379.8h18.3v18.3h-18.3zM70.8 1397.5h18.3v18.3h-18.3zM70.8 1415.2h18.3v18.3h-18.3zM70.8 1432.9h18.3v18.3h-18.3z"/>
<path fill="#595959" d="M406.9 530.7h18.3v18.3h-18.3zM459.9 530.7h18.3v18.3h-18.3zM17.7 1043.7h18.3v18.3h-18.3zM123.8 1149.8h18.3v18.3h-18.3zM406.9 1185.2h18.3v18.3h-18.3zM725.3 1256.0h18.3v18.3h-18.3zM672.2 1344.4h36.0v18.3h-36.0zM760.7 1344.4h18.3v18.3h-18.3zM760.7 1362.1h18.3v18.3h-18.3zM53.1 1379.8h18.3v18.3h-18.3zM35.4 1397.5h36.0v18.3h-36.0zM672.2 1397.5h18.3v18.3h-18.3zM1043.7 1397.5h18.3v18.3h-18.3zM35.4 1415.2h36.0v18.3h-36.0zM672.2 1415.2h18.3v18.3h-18.3zM1043.7 1415.2h18.3v18.3h-18.3zM35.4 1432.9h36.0v18.3h-36.0zM672.2 1432.9h18.3v18.3h-18.3zM1043.7 1432.9h18.3v18.3h-18.3z"/>
<path fill="#5a5a5a" d="M495.3 477.6h18.3v18.3h-18.3zM459.9 619.1h18.3v18.3h-18.3zM35.4 884.5h18.3v18.3h-18.3zM35.4 919.9h18.3v18.3h-18.3zM-35.4 972.9h53.7v18.3h-53.7zM123.8 1061.4h18.3v18.3h-18.3zM141.5 1079.1h18.3v18.3h-18.3zM743.0 1202.9h18.3v18.3h-18.3zM689.9 1326.7h18.3v18.3h-18.3zM707.6 1344.4h36.0v18.3h-36.0zM672.2 1362.1h36.0v18.3h-36.0zM743.0 1362.1h18.3v18.3h-18.3zM778.4 1379.8h36.0v18.3h-36.0zM796.0 1397.5h18.3v18.3h-18.3zM796.0 1415.2h18.3v18.3h-18.3zM796.0 1432.9h18.3v18.3h-18.3z"/>
<path fill="#5b5b5b" d="M707.6 442.2h18.3v18.3h-18.3zM689.9 548.4h18.3v18.3h-18.3zM389.2 566.1h18.3v18.3h-18.3zM583.8 583.8h18.3v18.3h-18.3zM477.6 619.1h18.3v18.3h-18.3zM990.6 919.9h18.3v18.3h-18.3zM389.2 1079.1h18.3v18.3h-18.3zM141.5 1149.8h18.3v18.3h-18.3zM88.4 1185.2h18.3v18.3h-18.3zM70.8 1202.9h18.3v18.3h-18.3zM743.0 1291.4h53.7v18.3h-53.7zM53.1 1309.1h18.3v18.3h-18.3zM778.4 1309.1h18.3v18.3h-18.3zM778.4 1326.7h18.3v18.3h-18.3zM707.6 1362.1h36.0v18.3h-36.0zM707.6 1379.8h71.4v18.3h-71.4zM707.6 1397.5h36.0v18.3h-36.0zM778.4 1397.5h18.3v18.3h-18.3zM831.4 1397.5h18.3v18.3h-18.3zM1061.4 1397.5h18.3v18.3h-18.3zM707.6 1415.2h36.0v18.3h-36.0zM778.4 1415.2h18.3v18.3h-18.3zM831.4 1415.2h18.3v18.3h-18.3zM1061.4 1415.2h18.3v18.3h-18.3zM707.6 1432.9h36.0v18.3h-36.0zM778.4 1432.9h18.3v18.3h-18.3zM831.4 1432.9h18.3v18.3h-18.3zM1061.4 1432.9h18.3v18.3h-18.3z"/>
<path fill="#5c5c5c" d="M495.3 530.7h18.3v18.3h-18.3zM495.3 548.4h18.3v18.3h-18.3zM689.9 601.5h18.3v18.3h-18.3zM35.4 902.2h18.3v18.3h-18.3zM300.7 955.3h18.3v18.3h-18.3zM159.2 1114.5h18.3v18.3h-18.3zM123.8 1132.2h18.3v18.3h-18.3zM796.0 1132.2h18.3v18.3h-18.3zM813.7 1149.8h18.3v18.3h-18.3zM106.1 1185.2h18.3v18.3h-18.3zM743.0 1220.6h18.3v18.3h-18.3zM35.4 1238.3h18.3v18.3h-18.3zM778.4 1256.0h18.3v18.3h-18.3zM389.2 1291.4h18.3v18.3h-18.3zM813.7 1291.4h18.3v18.3h-18.3zM35.4 1309.1h18.3v18.3h-18.3zM70.8 1309.1h18.3v18.3h-18.3zM35.4 1326.7h36.0v18.3h-36.0zM796.0 1326.7h36.0v18.3h-36.0zM849.1 1326.7h18.3v18.3h-18.3zM35.4 1344.4h36.0v18.3h-36.0zM813.7 1344.4h53.7v18.3h-53.7zM35.4 1362.1h36.0v18.3h-36.0zM813.7 1362.1h89.0v18.3h-89.0zM-35.4 1379.8h71.4v18.3h-71.4zM654.5 1379.8h18.3v18.3h-18.3zM689.9 1379.8h18.3v18.3h-18.3zM849.1 1379.8h53.7v18.3h-53.7zM-35.4 1397.5h71.4v18.3h-71.4zM654.5 1397.5h18.3v18.3h-18.3zM743.0 1397.5h36.0v18.3h-36.0zM849.1 1397.5h89.0v18.3h-89.0zM-35.4 1415.2h71.4v18.3h-71.4zM654.5 1415.2h18.3v18.3h-18.3zM743.0 1415.2h36.0v18.3h-36.0zM849.1 1415.2h89.0v18.3h-89.0zM-35.4 1432.9h71.4v18.3h-71.4zM654.5 1432.9h18.3v18.3h-18.3zM743.0 1432.9h36.0v18.3h-36.0zM849.1 1432.9h89.0v18.3h-89.0z"/>
<path fill="#5d5d5d" d="M406.9 459.9h36.0v18.3h-36.0zM106.1 1043.7h18.3v18.3h-18.3zM123.8 1096.8h18.3v18.3h-18.3zM159.2 1132.2h18.3v18.3h-18.3zM106.1 1149.8h18.3v18.3h-18.3zM813.7 1167.5h18.3v18.3h-18.3zM831.4 1185.2h18.3v18.3h-18.3zM849.1 1202.9h18.3v18.3h-18.3zM866.8 1220.6h18.3v18.3h-18.3zM884.5 1238.3h18.3v18.3h-18.3zM902.2 1256.0h18.3v18.3h-18.3zM760.7 1273.7h53.7v18.3h-53.7zM919.9 1273.7h18.3v18.3h-18.3zM796.0 1291.4h18.3v18.3h-18.3zM937.6 1291.4h18.3v18.3h-18.3zM796.0 1309.1h53.7v18.3h-53.7zM955.3 1309.1h18.3v18.3h-18.3zM831.4 1326.7h18.3v18.3h-18.3zM972.9 1326.7h18.3v18.3h-18.3zM88.4 1344.4h18.3v18.3h-18.3zM866.8 1344.4h18.3v18.3h-18.3zM990.6 1344.4h18.3v18.3h-18.3zM1008.3 1362.1h18.3v18.3h-18.3zM672.2 1379.8h18.3v18.3h-18.3zM902.2 1379.8h18.3v18.3h-18.3zM1026.0 1379.8h18.3v18.3h-18.3zM689.9 1397.5h18.3v18.3h-18.3zM689.9 1415.2h18.3v18.3h-18.3zM689.9 1432.9h18.3v18.3h-18.3z"/>
<path fill="#5e5e5e" d="M442.2 477.6h18.3v18.3h-18.3zM406.9 548.4h53.7v18.3h-53.7zM601.5 654.5h18.3v18.3h-18.3zM583.8 672.2h18.3v18.3h-18.3zM17.7 955.3h18.3v18.3h-18.3zM141.5 1096.8h18.3v18.3h-18.3zM176.9 1096.8h18.3v18.3h-18.3zM17.7 1132.2h18.3v18.3h-18.3zM141.5 1132.2h18.3v18.3h-18.3zM760.7 1220.6h18.3v18.3h-18.3zM743.0 1238.3h53.7v18.3h-53.7zM707.6 1256.0h18.3v18.3h-18.3zM760.7 1256.0h18.3v18.3h-18.3zM796.0 1256.0h18.3v18.3h-18.3zM813.7 1273.7h18.3v18.3h-18.3zM831.4 1291.4h18.3v18.3h-18.3zM849.1 1309.1h18.3v18.3h-18.3zM866.8 1326.7h18.3v18.3h-18.3zM884.5 1344.4h18.3v18.3h-18.3zM902.2 1362.1h18.3v18.3h-18.3zM919.9 1379.8h18.3v18.3h-18.3zM636.8 1397.5h18.3v18.3h-18.3zM636.8 1415.2h18.3v18.3h-18.3zM636.8 1432.9h18.3v18.3h-18.3z"/>
<path fill="#5f5f5f" d="M194.6 778.4h18.3v18.3h-18.3zM35.4 866.8h18.3v18.3h-18.3zM17.7 1167.5h18.3v18.3h-18.3zM17.7 1185.2h18.3v18.3h-18.3zM760.7 1202.9h18.3v18.3h-18.3zM725.3 1238.3h18.3v18.3h-18.3zM424.6 1256.0h18.3v18.3h-18.3zM389.2 1273.7h18.3v18.3h-18.3zM654.5 1344.4h18.3v18.3h-18.3zM937.6 1397.5h18.3v18.3h-18.3zM937.6 1415.2h18.3v18.3h-18.3zM937.6 1432.9h18.3v18.3h-18.3z"/>
<path fill="#606060" d="M88.4 990.6h18.3v18.3h-18.3zM70.8 1185.2h18.3v18.3h-18.3zM849.1 1185.2h18.3v18.3h-18.3zM548.4 1220.6h18.3v18.3h-18.3zM778.4 1220.6h18.3v18.3h-18.3zM796.0 1238.3h18.3v18.3h-18.3zM53.1 1256.0h18.3v18.3h-18.3zM530.7 1273.7h18.3v18.3h-18.3zM53.1 1291.4h18.3v18.3h-18.3zM70.8 1326.7h18.3v18.3h-18.3zM17.7 1344.4h18.3v18.3h-18.3zM-35.4 1362.1h71.4v18.3h-71.4z"/>
<path fill="#616161" d="M123.8 1114.5h18.3v18.3h-18.3zM884.5 1220.6h18.3v18.3h-18.3zM17.7 1238.3h18.3v18.3h-18.3zM813.7 1256.0h18.3v18.3h-18.3zM919.9 1256.0h18.3v18.3h-18.3zM70.8 1273.7h18.3v18.3h-18.3zM831.4 1273.7h18.3v18.3h-18.3zM955.3 1291.4h18.3v18.3h-18.3zM866.8 1309.1h18.3v18.3h-18.3zM990.6 1326.7h18.3v18.3h-18.3zM902.2 1344.4h18.3v18.3h-18.3zM1026.0 1362.1h18.3v18.3h-18.3zM937.6 1379.8h18.3v18.3h-18.3z"/>
<path fill="#626262" d="M318.4 424.6h18.3v18.3h-18.3zM389.2 495.3h18.3v18.3h-18.3zM442.2 601.5h18.3v18.3h-18.3zM477.6 636.8h18.3v18.3h-18.3zM318.4 866.8h18.3v18.3h-18.3zM17.7 884.5h18.3v18.3h-18.3zM17.7 972.9h18.3v18.3h-18.3zM53.1 990.6h18.3v18.3h-18.3zM88.4 1026.0h18.3v18.3h-18.3zM17.7 1061.4h18.3v18.3h-18.3zM849.1 1291.4h18.3v18.3h-18.3zM884.5 1326.7h18.3v18.3h-18.3zM654.5 1362.1h18.3v18.3h-18.3zM919.9 1362.1h18.3v18.3h-18.3zM1026.0 1397.5h18.3v18.3h-18.3zM1026.0 1415.2h18.3v18.3h-18.3zM1026.0 1432.9h18.3v18.3h-18.3z"/>
<path fill="#636363" d="M318.4 442.2h18.3v18.3h-18.3zM459.9 513.0h18.3v18.3h-18.3zM106.1 1167.5h18.3v18.3h-18.3zM70.8 1344.4h18.3v18.3h-18.3z"/>
<path fill="#646464" d="M35.4 1149.8h18.3v18.3h-18.3zM123.8 1167.5h18.3v18.3h-18.3zM813.7 1185.2h18.3v18.3h-18.3zM778.4 1202.9h18.3v18.3h-18.3zM796.0 1220.6h18.3v18.3h-18.3zM35.4 1273.7h18.3v18.3h-18.3zM955.3 1397.5h18.3v18.3h-18.3zM955.3 1415.2h18.3v18.3h-18.3zM955.3 1432.9h18.3v18.3h-18.3z"/>
<path fill="#656565" d="M778.4 1149.8h18.3v18.3h-18.3zM778.4 1167.5h18.3v18.3h-18.3zM849.1 1220.6h18.3v18.3h-18.3zM813.7 1238.3h18.3v18.3h-18.3zM831.4 1256.0h18.3v18.3h-18.3zM884.5 1256.0h18.3v18.3h-18.3zM725.3 1273.7h18.3v18.3h-18.3zM70.8 1291.4h18.3v18.3h-18.3zM919.9 1291.4h18.3v18.3h-18.3zM955.3 1326.7h18.3v18.3h-18.3zM990.6 1362.1h18.3v18.3h-18.3z"/>
<path fill="#666666" d="M442.2 495.3h18.3v18.3h-18.3zM389.2 530.7h18.3v18.3h-18.3zM17.7 902.2h18.3v18.3h-18.3zM70.8 990.6h18.3v18.3h-18.3zM88.4 1008.3h18.3v18.3h-18.3zM849.1 1061.4h18.3v18.3h-18.3zM53.1 1096.8h18.3v18.3h-18.3zM53.1 1114.5h18.3v18.3h-18.3zM106.1 1114.5h18.3v18.3h-18.3zM176.9 1114.5h18.3v18.3h-18.3zM35.4 1132.2h18.3v18.3h-18.3zM796.0 1167.5h18.3v18.3h-18.3zM-35.4 1202.9h53.7v18.3h-53.7zM831.4 1202.9h18.3v18.3h-18.3zM866.8 1238.3h18.3v18.3h-18.3zM849.1 1273.7h18.3v18.3h-18.3zM902.2 1273.7h18.3v18.3h-18.3zM866.8 1291.4h18.3v18.3h-18.3zM884.5 1309.1h18.3v18.3h-18.3zM937.6 1309.1h18.3v18.3h-18.3zM902.2 1326.7h18.3v18.3h-18.3zM919.9 1344.4h18.3v18.3h-18.3zM972.9 1344.4h18.3v18.3h-18.3zM937.6 1362.1h18.3v18.3h-18.3zM955.3 1379.8h18.3v18.3h-18.3zM1008.3 1379.8h18.3v18.3h-18.3z"/>
<path fill="#676767" d="M601.5 601.5h18.3v18.3h-18.3zM601.5 636.8h18.3v18.3h-18.3zM17.7 919.9h18.3v18.3h-18.3zM-35.4 955.3h53.7v18.3h-53.7zM-35.4 1026.0h53.7v18.3h-53.7zM796.0 1202.9h18.3v18.3h-18.3zM17.7 1273.7h18.3v18.3h-18.3zM35.4 1379.8h18.3v18.3h-18.3z"/>
<path fill="#686868" d="M619.1 636.8h18.3v18.3h-18.3zM955.3 955.3h18.3v18.3h-18.3zM919.9 990.6h18.3v18.3h-18.3zM778.4 1185.2h18.3v18.3h-18.3zM831.4 1238.3h18.3v18.3h-18.3zM35.4 1256.0h18.3v18.3h-18.3zM389.2 1256.0h18.3v18.3h-18.3zM-35.4 1273.7h53.7v18.3h-53.7zM972.9 1397.5h18.3v18.3h-18.3zM972.9 1415.2h18.3v18.3h-18.3zM972.9 1432.9h18.3v18.3h-18.3z"/>
<path fill="#696969" d="M619.1 583.8h18.3v18.3h-18.3zM17.7 1149.8h18.3v18.3h-18.3zM796.0 1149.8h18.3v18.3h-18.3zM35.4 1167.5h18.3v18.3h-18.3zM35.4 1185.2h18.3v18.3h-18.3zM17.7 1202.9h18.3v18.3h-18.3zM725.3 1202.9h18.3v18.3h-18.3zM866.8 1273.7h18.3v18.3h-18.3zM17.7 1309.1h18.3v18.3h-18.3zM902.2 1309.1h18.3v18.3h-18.3zM937.6 1344.4h18.3v18.3h-18.3zM70.8 1379.8h18.3v18.3h-18.3zM972.9 1379.8h18.3v18.3h-18.3z"/>
<path fill="#6a6a6a" d="M353.8 513.0h18.3v18.3h-18.3zM88.4 1061.4h18.3v18.3h-18.3zM70.8 1149.8h18.3v18.3h-18.3zM141.5 1167.5h18.3v18.3h-18.3zM796.0 1185.2h18.3v18.3h-18.3zM813.7 1202.9h18.3v18.3h-18.3zM813.7 1220.6h36.0v18.3h-36.0zM849.1 1238.3h18.3v18.3h-18.3zM866.8 1256.0h18.3v18.3h-18.3zM884.5 1273.7h18.3v18.3h-18.3zM902.2 1291.4h18.3v18.3h-18.3zM760.7 1309.1h18.3v18.3h-18.3zM919.9 1309.1h18.3v18.3h-18.3zM937.6 1326.7h18.3v18.3h-18.3zM955.3 1344.4h18.3v18.3h-18.3zM972.9 1362.1h18.3v18.3h-18.3zM990.6 1379.8h18.3v18.3h-18.3z"/>
<path fill="#6b6b6b" d="M389.2 477.6h18.3v18.3h-18.3zM336.1 566.1h18.3v18.3h-18.3zM-35.4 919.9h53.7v18.3h-53.7zM35.4 1008.3h36.0v18.3h-36.0zM70.8 1026.0h18.3v18.3h-18.3zM70.8 1043.7h18.3v18.3h-18.3zM88.4 1079.1h18.3v18.3h-18.3zM17.7 1096.8h18.3v18.3h-18.3zM88.4 1096.8h18.3v18.3h-18.3zM-35.4 1114.5h71.4v18.3h-71.4zM88.4 1114.5h18.3v18.3h-18.3zM106.1 1132.2h18.3v18.3h-18.3zM17.7 1256.0h18.3v18.3h-18.3zM849.1 1256.0h18.3v18.3h-18.3zM884.5 1291.4h18.3v18.3h-18.3zM654.5 1326.7h18.3v18.3h-18.3zM919.9 1326.7h18.3v18.3h-18.3zM796.0 1344.4h18.3v18.3h-18.3zM955.3 1362.1h18.3v18.3h-18.3zM831.4 1379.8h18.3v18.3h-18.3zM1008.3 1397.5h18.3v18.3h-18.3zM1008.3 1415.2h18.3v18.3h-18.3zM1008.3 1432.9h18.3v18.3h-18.3z"/>
<path fill="#6c6c6c" d="M318.4 955.3h18.3v18.3h-18.3zM318.4 972.9h18.3v18.3h-18.3z"/>
<path fill="#6d6d6d" d="M583.8 601.5h18.3v18.3h-18.3zM123.8 1079.1h18.3v18.3h-18.3zM53.1 1185.2h18.3v18.3h-18.3zM725.3 1185.2h18.3v18.3h-18.3zM53.1 1202.9h18.3v18.3h-18.3zM990.6 1397.5h18.3v18.3h-18.3zM990.6 1415.2h18.3v18.3h-18.3zM990.6 1432.9h18.3v18.3h-18.3z"/>
<path fill="#6e6e6e" d="M336.1 477.6h18.3v18.3h-18.3zM601.5 619.1h18.3v18.3h-18.3zM760.7 1167.5h18.3v18.3h-18.3zM17.7 1220.6h18.3v18.3h-18.3z"/>
<path fill="#6f6f6f" d="M672.2 566.1h18.3v18.3h-18.3zM-35.4 1256.0h53.7v18.3h-53.7z"/>
<path fill="#707070" d="M424.6 495.3h18.3v18.3h-18.3zM70.8 1008.3h18.3v18.3h-18.3zM35.4 1026.0h36.0v18.3h-36.0zM35.4 1043.7h36.0v18.3h-36.0zM35.4 1061.4h53.7v18.3h-53.7zM35.4 1079.1h53.7v18.3h-53.7zM70.8 1096.8h18.3v18.3h-18.3zM70.8 1114.5h18.3v18.3h-18.3zM-35.4 1132.2h53.7v18.3h-53.7zM53.1 1167.5h18.3v18.3h-18.3zM-35.4 1220.6h53.7v18.3h-53.7zM35.4 1220.6h18.3v18.3h-18.3z"/>
<path fill="#717171" d="M318.4 990.6h18.3v18.3h-18.3zM725.3 1220.6h18.3v18.3h-18.3z"/>
<path fill="#727272" d="M353.8 495.3h18.3v18.3h-18.3zM619.1 619.1h36.0v18.3h-36.0zM35.4 1202.9h18.3v18.3h-18.3z"/>
<path fill="#737373" d="M371.5 513.0h18.3v18.3h-18.3zM689.9 583.8h18.3v18.3h-18.3zM-35.4 1043.7h53.7v18.3h-53.7zM-35.4 1238.3h53.7v18.3h-53.7zM495.3 1273.7h18.3v18.3h-18.3z"/>
<path fill="#747474" d="M707.6 566.1h18.3v18.3h-18.3zM654.5 601.5h18.3v18.3h-18.3zM760.7 1149.8h18.3v18.3h-18.3z"/>
<path fill="#757575" d="M636.8 601.5h18.3v18.3h-18.3zM88.4 1043.7h18.3v18.3h-18.3zM88.4 1167.5h18.3v18.3h-18.3z"/>
<path fill="#767676" d="M35.4 990.6h18.3v18.3h-18.3zM-35.4 1149.8h53.7v18.3h-53.7zM760.7 1185.2h18.3v18.3h-18.3z"/>
<path fill="#777777" d="M672.2 601.5h18.3v18.3h-18.3z"/>
<path fill="#787878" d="M336.1 495.3h18.3v18.3h-18.3z"/>
<path fill="#797979" d="M371.5 477.6h18.3v18.3h-18.3zM35.4 1096.8h18.3v18.3h-18.3zM35.4 1114.5h18.3v18.3h-18.3zM53.1 1132.2h18.3v18.3h-18.3zM88.4 1132.2h18.3v18.3h-18.3zM53.1 1149.8h18.3v18.3h-18.3zM88.4 1149.8h18.3v18.3h-18.3zM70.8 1167.5h18.3v18.3h-18.3z"/>
<path fill="#7a7a7a" d="M672.2 583.8h18.3v18.3h-18.3z"/>
<path fill="#7b7b7b" d="M371.5 495.3h18.3v18.3h-18.3z"/>
<path fill="#7c7c7c" d="M406.9 495.3h18.3v18.3h-18.3zM636.8 583.8h18.3v18.3h-18.3zM583.8 619.1h18.3v18.3h-18.3zM583.8 636.8h18.3v18.3h-18.3zM300.7 972.9h18.3v18.3h-18.3z"/>
<path fill="#7d7d7d" d="M371.5 530.7h18.3v18.3h-18.3zM636.8 636.8h18.3v18.3h-18.3z"/>
<path fill="#7e7e7e" d="M389.2 513.0h18.3v18.3h-18.3zM-35.4 1096.8h53.7v18.3h-53.7z"/>
<path fill="#808080" d="M353.8 566.1h18.3v18.3h-18.3zM513.0 1256.0h18.3v18.3h-18.3z"/>
<path fill="#838383" d="M654.5 583.8h18.3v18.3h-18.3zM495.3 1256.0h18.3v18.3h-18.3z"/>
<path fill="#848484" d="M-35.4 1061.4h53.7v18.3h-53.7zM-35.4 1079.1h53.7v18.3h-53.7z"/>
<path fill="#878787" d="M176.9 1132.2h18.3v18.3h-18.3z"/>
<path fill="#8b8b8b" d="M424.6 477.6h18.3v18.3h-18.3zM17.7 1026.0h18.3v18.3h-18.3z"/>
<path fill="#8e8e8e" d="M406.9 477.6h18.3v18.3h-18.3z"/>
<path fill="#979797" d="M353.8 477.6h18.3v18.3h-18.3z"/>
<path fill="#9a9a9a" d="M-35.4 1008.3h71.4v18.3h-71.4z"/>
</g>
</g>
<use href="#crisp"/>
<path d="M106.1 0V1415.2M247.7 0V1415.2M389.2 0V1415.2M530.7 0V1415.2M672.2 0V1415.2M813.7 0V1415.2M955.3 0V1415.2M1096.8 0V1415.2M1238.3 0V1415.2M1379.8 0V1415.2M0 141.5H1415.2M0 283.0H1415.2M0 424.6H1415.2M0 566.1H1415.2M0 707.6H1415.2M0 849.1H1415.2M0 990.6H1415.2M0 1132.2H1415.2M0 1273.7H1415.2" stroke="#b0b0b0" stroke-opacity="0.2" stroke-width="1.2" fill="none"/>
</g>
<rect x="0" y="0" width="1415.2" height="1415.2" fill="none" stroke="#262626" stroke-width="3.5"/>
</g>
<text x="101.6" y="1667.07" text-anchor="end" font-size="31.4" fill="#000">13°N</text>
<text x="101.6" y="1808.59" text-anchor="end" font-size="31.4" fill="#000">11°N</text>
<text x="101.6" y="1950.11" text-anchor="end" font-size="31.4" fill="#000">9°N</text>
<text x="101.6" y="2091.63" text-anchor="end" font-size="31.4" fill="#000">7°N</text>
<text x="101.6" y="2233.15" text-anchor="end" font-size="31.4" fill="#000">5°N</text>
<text x="101.6" y="2374.67" text-anchor="end" font-size="31.4" fill="#000">3°N</text>
<text x="101.6" y="2516.19" text-anchor="end" font-size="31.4" fill="#000">1°N</text>
<text x="101.6" y="2657.71" text-anchor="end" font-size="31.4" fill="#000">1°S</text>
<text x="101.6" y="2799.23" text-anchor="end" font-size="31.4" fill="#000">3°S</text>
<text x="101.6" y="2940.75" text-anchor="end" font-size="31.4" fill="#000">5°S</text>
<text x="215.04" y="2964.49" text-anchor="middle" font-size="31.4" fill="#000">31.5°E</text>
<text x="356.56" y="2964.49" text-anchor="middle" font-size="31.4" fill="#000">33.5°E</text>
<text x="498.08" y="2964.49" text-anchor="middle" font-size="31.4" fill="#000">35.5°E</text>
<text x="639.60" y="2964.49" text-anchor="middle" font-size="31.4" fill="#000">37.5°E</text>
<text x="781.12" y="2964.49" text-anchor="middle" font-size="31.4" fill="#000">39.5°E</text>
<text x="922.64" y="2964.49" text-anchor="middle" font-size="31.4" fill="#000">41.5°E</text>
<text x="1064.16" y="2964.49" text-anchor="middle" font-size="31.4" fill="#000">43.5°E</text>
<text x="1205.68" y="2964.49" text-anchor="middle" font-size="31.4" fill="#000">45.5°E</text>
<text x="1347.20" y="2964.49" text-anchor="middle" font-size="31.4" fill="#000">47.5°E</text>
<text x="1488.72" y="2964.49" text-anchor="middle" font-size="31.4" fill="#000">49.5°E</text>
<linearGradient id="cb1" gradientUnits="userSpaceOnUse" x1="0" y1="1582.62" x2="0" y2="2868.98"><stop offset="0.0000" stop-color="#fcffa4"/><stop offset="0.0312" stop-color="#f3f68a"/><stop offset="0.0625" stop-color="#f2ea69"/><stop offset="0.0938" stop-color="#f5db4c"/><stop offset="0.1250" stop-color="#f9cb35"/><stop offset="0.1562" stop-color="#fbbc21"/><stop offset="0.1875" stop-color="#fcac11"/><stop offset="0.2188" stop-color="#fb9d07"/><stop offset="0.2500" stop-color="#f98e09"/><stop offset="0.2812" stop-color="#f68013"/><stop offset="0.3125" stop-color="#f1731d"/><stop offset="0.3438" stop-color="#eb6628"/><stop offset="0.3750" stop-color="#e45a31"/><stop offset="0.4062" stop-color="#db503b"/><stop offset="0.4375" stop-color="#d24644"/><stop offset="0.4688" stop-color="#c73e4c"/><stop offset="0.5000" stop-color="#bc3754"/><stop offset="0.5312" stop-color="#b0315b"/><stop offset="0.5625" stop-color="#a32c61"/><stop offset="0.5938" stop-color="#972766"/><stop offset="0.6250" stop-color="#8a226a"/><stop offset="0.6562" stop-color="#7d1e6d"/><stop offset="0.6875" stop-color="#71196e"/><stop offset="0.7188" stop-color="#64156e"/><stop offset="0.7500" stop-color="#57106e"/><stop offset="0.7812" stop-color="#4a0c6b"/><stop offset="0.8125" stop-color="#3d0965"/><stop offset="0.8438" stop-color="#2f0a5b"/><stop offset="0.8750" stop-color="#210c4a"/><stop offset="0.9062" stop-color="#150b37"/><stop offset="0.9375" stop-color="#0b0724"/><stop offset="0.9688" stop-color="#040312"/><stop offset="1.0000" stop-color="#000004"/></linearGradient>
<path d="M1654.5 1582.62L1686.90 1518.30L1719.3 1582.62L1719.3 2868.98L1686.90 2933.30L1654.5 2868.98Z" fill="url(#cb1)" stroke="#262626" stroke-width="3.5" stroke-linejoin="miter" stroke-miterlimit="10"/>
<path d="M1721.0 2869.88h18" stroke="#262626" stroke-width="2.3" fill="none"/>
<text x="1751.3" y="2881.65" font-size="32.0" fill="#262626">2</text>
<path d="M1721.0 2709.09h18" stroke="#262626" stroke-width="2.3" fill="none"/>
<text x="1751.3" y="2720.85" font-size="32.0" fill="#262626">3</text>
<path d="M1721.0 2548.29h18" stroke="#262626" stroke-width="2.3" fill="none"/>
<text x="1751.3" y="2560.05" font-size="32.0" fill="#262626">4</text>
<path d="M1721.0 2387.50h18" stroke="#262626" stroke-width="2.3" fill="none"/>
<text x="1751.3" y="2399.26" font-size="32.0" fill="#262626">5</text>
<path d="M1721.0 2226.70h18" stroke="#262626" stroke-width="2.3" fill="none"/>
<text x="1751.3" y="2238.46" font-size="32.0" fill="#262626">6</text>
<path d="M1721.0 2065.90h18" stroke="#262626" stroke-width="2.3" fill="none"/>
<text x="1751.3" y="2077.67" font-size="32.0" fill="#262626">7</text>
<path d="M1721.0 1905.11h18" stroke="#262626" stroke-width="2.3" fill="none"/>
<text x="1751.3" y="1916.87" font-size="32.0" fill="#262626">8</text>
<path d="M1721.0 1744.31h18" stroke="#262626" stroke-width="2.3" fill="none"/>
<text x="1751.3" y="1756.08" font-size="32.0" fill="#262626">9</text>
<path d="M1721.0 1583.52h18" stroke="#262626" stroke-width="2.3" fill="none"/>
<text x="1751.3" y="1595.28" font-size="32.0" fill="#262626">10</text>
<text transform="translate(1831.8 2224.40) rotate(-90)" text-anchor="middle" font-size="40.6" fill="#262626">Noise in NDVI time series [×100]</text>
</svg></body></html>
